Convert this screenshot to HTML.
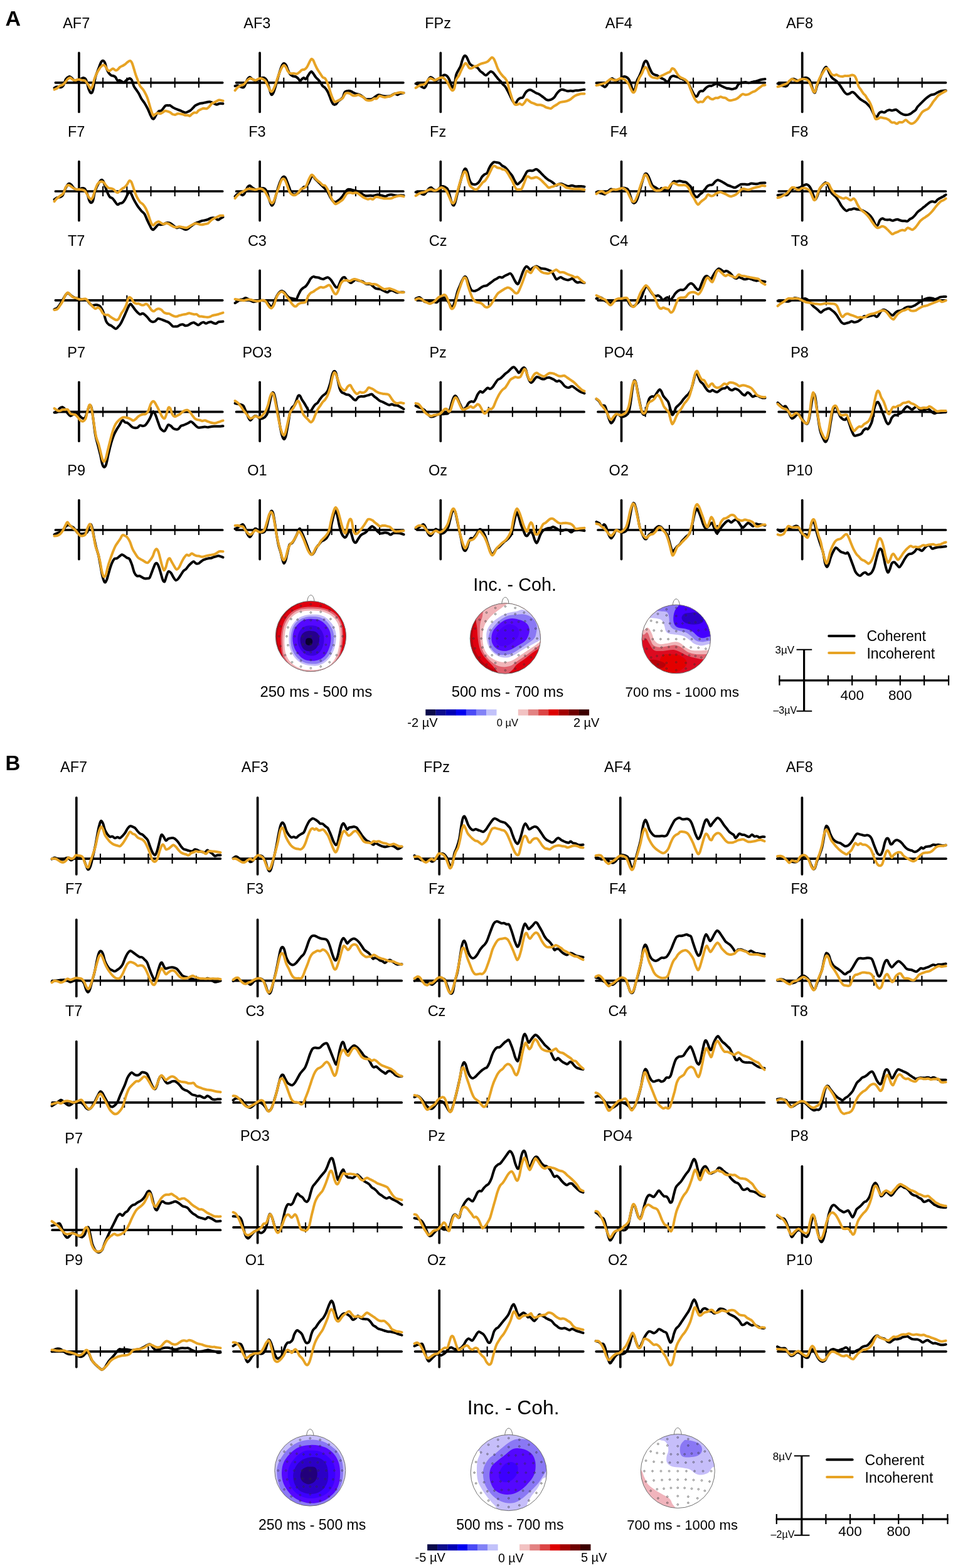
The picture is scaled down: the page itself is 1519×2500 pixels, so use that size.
<!DOCTYPE html>
<html><head><meta charset="utf-8"><title>ERP figure</title>
<style>html,body{margin:0;padding:0;background:#fff;}svg{display:block;}
.t{font-family:"Liberation Sans",Arial,Helvetica,sans-serif;fill:#000;}</style></head>
<body>
<svg width="1519" height="2500" viewBox="0 0 1519 2500">
<rect width="1519" height="2500" fill="#fff"/>
<text x="8.5" y="40.6" font-size="34" font-weight="bold" class="t">A</text>
<text x="8.5" y="1227.7" font-size="33" font-weight="bold" class="t">B</text>
<text x="121.7" y="44.9" font-size="23.5" text-anchor="middle" class="t">AF7</text>
<path d="M88.4 131.8H354.7" stroke="#000" stroke-width="3.7" fill="none" stroke-linecap="round"/>
<path d="M125.9 84.4V178.4" stroke="#000" stroke-width="3.7" fill="none" stroke-linecap="round"/>
<path d="M164.1 123.8v16M202.3 123.8v16M240.5 123.8v16M278.7 123.8v16M316.9 123.8v16" stroke="#000" stroke-width="2.1" fill="none"/>
<path d="M86.6 140.2C87.3 139.8 89.3 138.3 91 138.2C92.8 138 95.4 139.5 97 139.2C98.7 138.8 99.7 138.3 101 136.2C102.4 134 103.5 128.5 105 126.1C106.6 123.8 108.6 122.5 110.1 122.1C111.6 121.8 112.7 123.1 114.1 124.1C115.4 125.1 116.6 127.3 118.1 128.1C119.6 129 121.4 129.5 123.1 129.1C124.8 128.8 126.4 127 128.1 126.1C129.8 125.3 131.6 124 133.1 124.1C134.6 124.3 135.8 124.3 137.1 127.1C138.4 130 139.9 137.7 141.1 141.2C142.4 144.7 143.6 147.7 144.7 148.2C145.9 148.7 146.9 148.3 148.1 144.2C149.4 140 150.6 129 152.1 123.1C153.6 117.3 155.6 113.1 157.2 109.1C158.7 105.1 160 101.2 161.2 99.1C162.3 97 163.2 96.5 164.2 96.7C165.2 96.8 166.2 97.8 167.2 100.1C168.2 102.3 169.2 107.4 170.2 110.1C171.2 112.8 172 114.4 173.2 116.1C174.4 117.8 175.9 119.3 177.2 120.1C178.5 121 180 120.6 181.2 121.1C182.4 121.6 183.2 122 184.2 123.1C185.2 124.3 186 127.3 187.2 128.1C188.4 129 189.9 127.7 191.2 128.1C192.6 128.6 194.1 130.2 195.2 130.7C196.4 131.2 197.2 131.6 198.2 131.1C199.2 130.7 200.2 129 201.2 128.1C202.2 127.3 203.2 126.6 204.2 126.1C205.2 125.6 206.3 124.8 207.3 125.1C208.3 125.5 209.3 126.1 210.3 128.1C211.3 130.1 212.1 134.7 213.3 137.2C214.4 139.7 215.9 141.2 217.3 143.2C218.6 145.2 219.9 146.8 221.3 149.2C222.6 151.5 223.8 154.7 225.3 157.2C226.8 159.7 228.6 161.5 230.3 164.2C232 166.9 233.8 170.2 235.3 173.2C236.8 176.2 238.1 179.7 239.3 182.3C240.5 184.8 241.3 187.1 242.3 188.3C243.3 189.4 244.2 190.3 245.3 189.3C246.5 188.3 248 184.3 249.3 182.3C250.7 180.2 252 178.2 253.3 177.2C254.7 176.2 256 177.2 257.4 176.2C258.7 175.2 260.2 172.6 261.4 171.2C262.5 169.9 263.2 168.7 264.4 168.2C265.5 167.7 267.2 168.2 268.4 168.2C269.5 168.2 270.2 167.7 271.4 168.2C272.5 168.7 274.1 170.4 275.4 171.2C276.7 172.1 278.1 172.6 279.4 173.2C280.7 173.8 282.1 174.3 283.4 174.8C284.7 175.3 286.1 175.7 287.4 176.2C288.7 176.8 290.1 177.7 291.4 178.2C292.8 178.8 294.1 179.6 295.4 179.6C296.8 179.6 298.1 178.8 299.4 178.2C300.8 177.7 302.1 177.2 303.4 176.2C304.8 175.2 306.1 173.6 307.5 172.2C308.8 170.9 310.1 169.2 311.5 168.2C312.8 167.2 314.1 166.8 315.5 166.2C316.8 165.7 318.1 165.1 319.5 164.8C320.8 164.5 322 164.5 323.5 164.2C325 163.9 326.8 163.5 328.5 163.2C330.2 162.9 332 162.2 333.5 162.2C335 162.2 336.2 162.7 337.5 163.2C338.8 163.7 340.2 164.6 341.5 165.2C342.9 165.8 344.2 166.8 345.5 166.8C346.9 166.8 347.9 165.5 349.5 165.2C351.2 164.9 354.5 165.2 355.5 165.2" stroke="#000" stroke-width="4" fill="none" stroke-linejoin="round" stroke-linecap="round"/>
<path d="M86.6 142.8C87.3 142.4 89.6 141.7 91 140.8C92.4 139.8 93.5 138.1 95 137.2C96.5 136.2 98.5 136.2 100 135.2C101.5 134.2 102.7 132.7 104 131.1C105.4 129.6 106.7 127.3 108.1 126.1C109.4 125 110.7 124 112.1 124.1C113.4 124.3 114.7 126.5 116.1 127.1C117.4 127.8 118.7 128.2 120.1 128.1C121.4 128.1 122.8 126.9 124.1 126.7C125.4 126.6 126.8 126.9 128.1 127.1C129.4 127.4 130.8 127.8 132.1 128.1C133.4 128.5 134.6 127.8 136.1 129.1C137.6 130.5 139.8 134.2 141.1 136.2C142.5 138.2 143.1 140.8 144.1 141.2C145.1 141.5 146.1 140.5 147.1 138.2C148.1 135.8 149 130.6 150.1 127.1C151.3 123.6 152.8 120 154.1 117.1C155.5 114.3 157 111.9 158.2 110.1C159.3 108.3 160 107.2 161.2 106.1C162.3 105 164 103.5 165.2 103.5C166.3 103.5 167.2 104.8 168.2 106.1C169.2 107.4 170.2 109.9 171.2 111.1C172.2 112.3 173.2 113.1 174.2 113.1C175.2 113.1 176.2 111.7 177.2 111.1C178.2 110.5 179 109.3 180.2 109.5C181.4 109.7 183 111.8 184.2 112.1C185.4 112.4 186 111.9 187.2 111.1C188.4 110.3 189.9 108.1 191.2 107.1C192.6 106.1 193.9 105.8 195.2 105.1C196.6 104.4 197.9 103.7 199.2 102.7C200.6 101.7 201.9 100 203.2 99.1C204.6 98.1 206.1 96.9 207.3 97.1C208.4 97.2 209.3 98.1 210.3 100.1C211.3 102.1 212.3 105.9 213.3 109.1C214.3 112.3 215.3 116.1 216.3 119.1C217.3 122.1 218.1 124.1 219.3 127.1C220.4 130.1 221.8 134.5 223.3 137.2C224.8 139.8 226.8 141 228.3 143.2C229.8 145.3 231.1 147.8 232.3 150.2C233.5 152.5 234.3 154.4 235.3 157.2C236.3 160 237.3 163.9 238.3 167.2C239.3 170.6 240.3 174.4 241.3 177.2C242.3 180.1 243.3 183.4 244.3 184.3C245.3 185.1 246.2 182.9 247.3 182.3C248.5 181.6 250 180.4 251.3 180.2C252.7 180.1 254 181.4 255.3 181.2C256.7 181.1 258 180 259.4 179.2C260.7 178.5 262 177.1 263.4 176.8C264.7 176.6 266 177.2 267.4 177.6C268.7 178 270 178.5 271.4 179.2C272.7 180 274.1 181.6 275.4 182.3C276.7 182.9 278.1 183 279.4 182.9C280.7 182.7 282.1 181.4 283.4 181.2C284.7 181 286.1 181.5 287.4 181.6C288.7 181.8 290.1 181.9 291.4 182.3C292.8 182.6 294.1 183.4 295.4 183.7C296.8 183.9 298.3 183.5 299.4 183.7C300.6 183.9 301.4 185.1 302.4 184.9C303.4 184.6 304.3 183.1 305.4 182.3C306.6 181.4 308.1 180.1 309.5 179.6C310.8 179.2 312.3 180.2 313.5 179.6C314.6 179.1 315.3 177.1 316.5 176.2C317.6 175.3 319.1 174.8 320.5 174.2C321.8 173.7 323 173 324.5 172.8C326 172.7 328 173.7 329.5 173.2C331 172.8 332.2 171.6 333.5 170.2C334.8 168.9 336.2 166.4 337.5 165.2C338.8 164 340.2 163.9 341.5 163.2C342.9 162.5 344.2 161.8 345.5 161.2C346.9 160.6 347.9 159.7 349.5 159.6C351.2 159.5 354.5 160.6 355.5 160.8" stroke="#E7A324" stroke-width="4" fill="none" stroke-linejoin="round" stroke-linecap="round"/>
<text x="409.9" y="44.9" font-size="23.5" text-anchor="middle" class="t">AF3</text>
<path d="M376.6 131.8H642.9" stroke="#000" stroke-width="3.7" fill="none" stroke-linecap="round"/>
<path d="M414.1 84.4V178.4" stroke="#000" stroke-width="3.7" fill="none" stroke-linecap="round"/>
<path d="M452.3 123.8v16M490.5 123.8v16M528.7 123.8v16M566.9 123.8v16M605.1 123.8v16" stroke="#000" stroke-width="2.1" fill="none"/>
<path d="M374.6 137.2C375.3 137 377.6 136 379 136.2C380.4 136.3 381.7 137.6 383 138.2C384.4 138.7 385.9 139.7 387 139.6C388.2 139.4 388.9 139.2 390 137.2C391.2 135.1 392.7 129.5 394.1 127.1C395.4 124.8 396.7 123.3 398.1 123.1C399.4 123 400.6 125.3 402.1 126.1C403.6 127 405.4 128 407.1 128.1C408.7 128.3 410.4 127.8 412.1 127.1C413.8 126.5 415.6 124.6 417.1 124.1C418.6 123.6 419.8 123.5 421.1 124.1C422.4 124.8 423.9 126 425.1 128.1C426.3 130.3 426.9 133.5 428.1 137.2C429.3 140.8 431 148.2 432.1 150.2C433.3 152.2 434.1 150.7 435.1 149.2C436.1 147.7 437 144.8 438.1 141.2C439.3 137.5 440.8 131.8 442.1 127.1C443.5 122.5 444.8 117.1 446.2 113.1C447.5 109.1 449 105.1 450.2 103.1C451.3 101.1 452.2 100.9 453.2 101.1C454.2 101.3 455.2 102.3 456.2 104.1C457.2 105.9 458.2 109.8 459.2 112.1C460.2 114.4 461 116.6 462.2 118.1C463.4 119.6 464.7 120.5 466.2 121.1C467.7 121.8 469.7 121.5 471.2 122.1C472.7 122.8 474 124 475.2 125.1C476.4 126.3 477.2 129 478.2 129.1C479.2 129.3 480.2 127 481.2 126.1C482.2 125.3 483.2 124.1 484.2 124.1C485.2 124.1 486.2 126.5 487.2 126.1C488.2 125.8 489.2 123.6 490.2 122.1C491.2 120.6 492.2 118.5 493.2 117.1C494.3 115.8 495.3 114.1 496.3 114.1C497.3 114.1 498.1 115.6 499.3 117.1C500.4 118.6 501.9 121.5 503.3 123.1C504.6 124.8 505.9 125.6 507.3 127.1C508.6 128.6 510.1 130.5 511.3 132.2C512.5 133.8 513.1 135.8 514.3 137.2C515.5 138.5 517 138.7 518.3 140.2C519.6 141.7 521.1 144 522.3 146.2C523.5 148.3 524.3 150.7 525.3 153.2C526.3 155.7 527.3 159 528.3 161.2C529.3 163.4 530.2 165.4 531.3 166.2C532.5 167.1 534 167.1 535.3 166.2C536.7 165.4 538 162.5 539.3 161.2C540.7 159.9 542.2 159.2 543.3 158.2C544.5 157.2 545.4 157 546.4 155.2C547.4 153.4 548.2 148.9 549.4 147.2C550.5 145.5 551.9 145.5 553.4 145.2C554.9 144.8 556.9 144.8 558.4 145.2C559.9 145.5 561.1 146.5 562.4 147.2C563.7 147.8 565.1 148.7 566.4 149.2C567.7 149.7 568.9 149.7 570.4 150.2C571.9 150.7 573.9 151.4 575.4 152.2C576.9 153 578.1 154.2 579.4 155.2C580.8 156.2 582.1 157.7 583.4 158.2C584.8 158.7 586.1 158.2 587.4 158.2C588.8 158.2 590.1 158.5 591.4 158.2C592.8 157.9 594.1 157 595.5 156.2C596.8 155.4 598.1 154 599.5 153.2C600.8 152.4 602.1 151.4 603.5 151.2C604.8 151 606.1 151.9 607.5 152.2C608.8 152.5 610.1 153 611.5 153.2C612.8 153.4 613.8 153.6 615.5 153.6C617.2 153.6 619.8 153.6 621.5 153.2C623.2 152.8 624.2 151.9 625.5 151.2C626.8 150.5 628.2 149.2 629.5 149.2C630.9 149.2 632.2 151.2 633.5 151.2C634.9 151.2 635.9 149.7 637.5 149.2C639.2 148.7 642.5 148.3 643.5 148.2" stroke="#000" stroke-width="4" fill="none" stroke-linejoin="round" stroke-linecap="round"/>
<path d="M374.6 144.2C375.3 143.3 377.5 140.5 379 139.2C380.6 137.8 382.4 137 384 136.2C385.7 135.3 387.4 135.5 389 134.2C390.7 132.8 392.5 129.6 394.1 128.1C395.6 126.6 396.7 125.5 398.1 125.1C399.4 124.8 400.6 125.6 402.1 126.1C403.6 126.6 405.6 128.1 407.1 128.1C408.6 128.1 409.7 126.6 411.1 126.1C412.4 125.6 413.8 125.1 415.1 125.1C416.4 125.1 417.8 125.5 419.1 126.1C420.4 126.8 421.8 127.3 423.1 129.1C424.4 131 425.8 134.5 427.1 137.2C428.5 139.8 430 143.8 431.1 145.2C432.3 146.5 433 146.5 434.1 145.2C435.3 143.8 436.8 140.5 438.1 137.2C439.5 133.8 440.8 129 442.1 125.1C443.5 121.3 444.8 117.3 446.2 114.1C447.5 110.9 449 107.8 450.2 106.1C451.3 104.4 452.2 103.8 453.2 104.1C454.2 104.4 455.2 106.4 456.2 108.1C457.2 109.8 458 112.6 459.2 114.1C460.3 115.6 461.7 116.6 463.2 117.1C464.7 117.6 466.5 117 468.2 117.1C469.9 117.2 471.7 118.1 473.2 117.7C474.7 117.4 475.9 116.2 477.2 115.1C478.6 114.1 479.9 112.2 481.2 111.5C482.6 110.8 483.9 111.4 485.2 110.7C486.6 110 487.9 109 489.2 107.1C490.6 105.2 492.1 101.3 493.2 99.1C494.4 96.9 495.3 94.6 496.3 94.1C497.3 93.6 498.3 94.6 499.3 96.1C500.3 97.6 501.1 100.6 502.3 103.1C503.4 105.6 504.9 108.8 506.3 111.1C507.6 113.4 508.9 115.1 510.3 117.1C511.6 119.1 513 121.8 514.3 123.1C515.6 124.5 517.1 123.8 518.3 125.1C519.5 126.5 520.3 128.8 521.3 131.1C522.3 133.5 523.3 136.2 524.3 139.2C525.3 142.2 526.3 146.2 527.3 149.2C528.3 152.2 529.3 155 530.3 157.2C531.3 159.4 532.2 161.5 533.3 162.2C534.5 162.9 536 161.7 537.3 161.2C538.7 160.7 539.8 160 541.3 159.2C542.8 158.4 544.9 157.9 546.4 156.2C547.9 154.5 549 150.5 550.4 149.2C551.7 147.8 553 148.1 554.4 148.2C555.7 148.2 557 148.9 558.4 149.6C559.7 150.3 560.9 151.8 562.4 152.2C563.9 152.6 565.9 152.4 567.4 152.2C568.9 152 570.1 151 571.4 151.2C572.7 151.4 574.1 152.5 575.4 153.2C576.7 153.9 578.1 154.2 579.4 155.2C580.8 156.2 582.1 158.4 583.4 159.2C584.8 160 585.9 160.1 587.4 160.2C588.9 160.3 590.9 160.1 592.4 159.6C593.9 159.1 595.1 157.6 596.5 157.2C597.8 156.8 599.1 157.9 600.5 157.2C601.8 156.5 603 153.7 604.5 153.2C606 152.7 608 153.9 609.5 154.2C611 154.5 612.2 155.2 613.5 155.2C614.8 155.2 616.2 154.5 617.5 154.2C618.8 153.9 620.2 154 621.5 153.6C622.8 153.2 624.2 152.3 625.5 151.6C626.8 150.9 628.2 149.8 629.5 149.2C630.9 148.6 632 148.5 633.5 148.2C635 147.8 636.9 147.2 638.5 147.2C640.2 147.2 642.7 148 643.5 148.2" stroke="#E7A324" stroke-width="4" fill="none" stroke-linejoin="round" stroke-linecap="round"/>
<text x="698.1" y="44.9" font-size="23.5" text-anchor="middle" class="t">FPz</text>
<path d="M664.8 131.8H931.1" stroke="#000" stroke-width="3.7" fill="none" stroke-linecap="round"/>
<path d="M702.3 84.4V178.4" stroke="#000" stroke-width="3.7" fill="none" stroke-linecap="round"/>
<path d="M740.5 123.8v16M778.7 123.8v16M816.9 123.8v16M855.1 123.8v16M893.3 123.8v16" stroke="#000" stroke-width="2.1" fill="none"/>
<path d="M662.6 133.2C663.3 133.5 665.5 134.3 667 135.2C668.6 136 670.5 137.3 672 138.2C673.5 139 674.9 140.3 676 140.2C677.2 140 678 139.2 679 137.2C680 135.2 680.9 130.5 682.1 128.1C683.2 125.8 684.7 123.6 686.1 123.1C687.4 122.6 688.7 124.3 690.1 125.1C691.4 126 692.6 128 694.1 128.1C695.6 128.3 697.4 127.1 699.1 126.1C700.8 125.1 702.6 123.2 704.1 122.1C705.6 121 706.9 119.9 708.1 119.5C709.3 119.2 710.1 119.5 711.1 120.1C712.1 120.7 713.1 121.6 714.1 123.1C715.1 124.6 716 126.5 717.1 129.1C718.2 131.8 719.6 138.2 720.7 139.2C721.9 140.2 723.1 138.5 724.1 135.2C725.2 131.8 726 123.1 727.1 119.1C728.3 115.1 730 113.4 731.1 111.1C732.3 108.8 733.2 107.8 734.2 105.1C735.2 102.4 736.2 97.7 737.2 95.1C738.2 92.4 739.2 89.9 740.2 89.1C741.2 88.2 742.2 88.9 743.2 90.1C744.2 91.2 745.2 94.1 746.2 96.1C747.2 98.1 748 100.6 749.2 102.1C750.4 103.6 751.9 104.4 753.2 105.1C754.5 105.8 755.9 105.6 757.2 106.1C758.5 106.6 759.9 106.9 761.2 108.1C762.5 109.3 763.9 111.8 765.2 113.1C766.6 114.4 767.7 114.9 769.2 116.1C770.7 117.3 772.7 120 774.2 120.1C775.7 120.3 776.9 118.1 778.2 117.1C779.6 116.1 780.9 114.3 782.3 114.1C783.6 113.9 784.9 114.9 786.3 116.1C787.6 117.3 788.9 119.5 790.3 121.1C791.6 122.8 792.9 124.6 794.3 126.1C795.6 127.6 797.1 128.8 798.3 130.1C799.5 131.5 800.1 132.8 801.3 134.2C802.5 135.5 804 136.3 805.3 138.2C806.6 140 808 142.7 809.3 145.2C810.6 147.7 812 150.5 813.3 153.2C814.6 155.9 816 159.2 817.3 161.2C818.7 163.2 820 165.6 821.3 165.2C822.7 164.9 824 160.7 825.3 159.2C826.7 157.7 828 156.9 829.3 156.2C830.7 155.5 832 156.5 833.4 155.2C834.7 153.9 836 150 837.4 148.2C838.7 146.3 840 145 841.4 144.2C842.7 143.3 844 143 845.4 143.2C846.7 143.3 847.9 144.3 849.4 145.2C850.9 146 852.7 147.3 854.4 148.2C856.1 149 857.9 149.4 859.4 150.2C860.9 151 862.1 152.2 863.4 153.2C864.7 154.2 866.1 155.2 867.4 156.2C868.8 157.2 870.1 158.6 871.4 159.2C872.8 159.8 874.1 159.8 875.4 159.6C876.8 159.4 878.1 158.9 879.4 158.2C880.8 157.5 882.1 156.7 883.5 155.2C884.8 153.7 886.1 150.9 887.5 149.2C888.8 147.4 890.1 145.8 891.5 144.8C892.8 143.7 894.1 143 895.5 142.8C896.8 142.6 898 143.2 899.5 143.6C901 144 902.8 145 904.5 145.2C906.2 145.4 908 144.8 909.5 144.8C911 144.8 912.2 145.3 913.5 145.2C914.8 145.1 916.2 144.3 917.5 144.2C918.9 144 920.2 144.3 921.5 144.2C922.9 144.1 923.9 143.8 925.5 143.6C927.2 143.3 930.5 142.9 931.5 142.8" stroke="#000" stroke-width="4" fill="none" stroke-linejoin="round" stroke-linecap="round"/>
<path d="M662.6 140.2C663.3 139.7 665.5 138 667 137.2C668.6 136.3 670.4 135.7 672 135.2C673.7 134.7 675.5 135.2 677 134.2C678.5 133.2 679.7 130.6 681 129.1C682.4 127.6 683.7 125.6 685.1 125.1C686.4 124.6 687.7 125.6 689.1 126.1C690.4 126.6 691.7 128.1 693.1 128.1C694.4 128.1 695.7 126.8 697.1 126.1C698.4 125.5 699.8 124.6 701.1 124.1C702.4 123.7 703.8 123.2 705.1 123.5C706.4 123.9 707.8 124.9 709.1 126.1C710.4 127.4 711.8 129 713.1 131.1C714.4 133.3 715.9 137 717.1 139.2C718.4 141.3 719.6 143.8 720.7 144.2C721.9 144.5 723.1 144 724.1 141.2C725.2 138.3 726 130.5 727.1 127.1C728.3 123.8 729.8 123.6 731.1 121.1C732.5 118.6 733.8 114.9 735.2 112.1C736.5 109.3 738 106 739.2 104.1C740.3 102.2 741.2 100.7 742.2 100.7C743.2 100.7 744.2 102.8 745.2 104.1C746.2 105.4 747 107.9 748.2 108.7C749.4 109.5 750.9 109.1 752.2 108.7C753.5 108.3 754.9 106.7 756.2 106.1C757.5 105.5 758.9 105.7 760.2 105.1C761.5 104.5 762.9 103.4 764.2 102.7C765.6 102 766.9 101.5 768.2 101.1C769.6 100.7 770.7 100.6 772.2 100.1C773.7 99.6 775.7 99.1 777.2 98.1C778.7 97.1 780.1 95.2 781.2 94.1C782.4 93 783.3 91.5 784.3 91.5C785.3 91.5 786.3 92.5 787.3 94.1C788.3 95.7 789.3 98.6 790.3 101.1C791.3 103.6 792.1 106.6 793.3 109.1C794.4 111.6 795.9 114.1 797.3 116.1C798.6 118.1 800 119.6 801.3 121.1C802.6 122.6 804.1 123.6 805.3 125.1C806.5 126.6 807.3 127.5 808.3 130.1C809.3 132.8 810.3 137.7 811.3 141.2C812.3 144.7 813.3 148 814.3 151.2C815.3 154.4 816.3 157.7 817.3 160.2C818.3 162.7 819.2 165.1 820.3 166.2C821.5 167.3 823 167 824.3 166.8C825.7 166.7 827 165.1 828.3 165.2C829.7 165.3 831 167.6 832.4 167.2C833.7 166.9 835.2 164.6 836.4 163.2C837.5 161.8 838.4 159.3 839.4 158.8C840.4 158.3 841.2 159.5 842.4 160.2C843.5 160.9 844.9 162.4 846.4 163.2C847.9 164 849.7 164.5 851.4 165.2C853.1 165.9 854.7 166.9 856.4 167.2C858.1 167.6 859.7 167 861.4 167.2C863.1 167.5 864.9 168.2 866.4 168.8C867.9 169.5 869.1 170.7 870.4 171.2C871.8 171.8 873.1 172 874.4 172.2C875.8 172.5 877.1 173.3 878.4 172.8C879.8 172.4 880.9 170.6 882.5 169.6C884 168.6 885.8 167.9 887.5 166.8C889.1 165.8 890.8 164 892.5 163.2C894.1 162.4 895.6 162.5 897.5 162.2C899.3 161.9 901.5 161.9 903.5 161.2C905.5 160.5 907.8 159.3 909.5 158.2C911.2 157.1 912.2 155.8 913.5 154.8C914.8 153.8 916.2 152.9 917.5 152.2C918.9 151.5 920 151.2 921.5 150.8C923 150.4 924.9 149.8 926.5 149.6C928.2 149.4 930.7 149.6 931.5 149.6" stroke="#E7A324" stroke-width="4" fill="none" stroke-linejoin="round" stroke-linecap="round"/>
<text x="986.3" y="44.9" font-size="23.5" text-anchor="middle" class="t">AF4</text>
<path d="M953 131.8H1219.3" stroke="#000" stroke-width="3.7" fill="none" stroke-linecap="round"/>
<path d="M990.5 84.4V178.4" stroke="#000" stroke-width="3.7" fill="none" stroke-linecap="round"/>
<path d="M1028.7 123.8v16M1066.9 123.8v16M1105.1 123.8v16M1143.3 123.8v16M1181.5 123.8v16" stroke="#000" stroke-width="2.1" fill="none"/>
<path d="M950.6 132.2C951.3 132.5 953.5 133.5 955 134.2C956.6 134.8 958.5 135.4 960 136.2C961.5 136.9 962.9 138.8 964 138.8C965.2 138.8 965.9 137.8 967 136.2C968.2 134.6 969.7 131 971.1 129.1C972.4 127.3 973.7 125.5 975.1 125.1C976.4 124.8 977.6 126.6 979.1 127.1C980.6 127.6 982.4 128.5 984.1 128.1C985.7 127.8 987.4 126.1 989.1 125.1C990.8 124.1 992.6 122.5 994.1 122.1C995.6 121.7 996.8 122.1 998.1 122.7C999.4 123.4 1000.9 124.4 1002.1 126.1C1003.3 127.9 1004 130.1 1005.1 133.2C1006.2 136.2 1007.6 142.8 1008.7 144.2C1009.9 145.5 1011.1 143.7 1012.1 141.2C1013.2 138.7 1014 132.5 1015.1 129.1C1016.3 125.8 1017.8 124.1 1019.1 121.1C1020.5 118.1 1022 114.4 1023.2 111.1C1024.3 107.8 1025.2 103.4 1026.2 101.1C1027.2 98.8 1028.2 97.2 1029.2 97.1C1030.2 96.9 1031.2 98.2 1032.2 100.1C1033.2 101.9 1034 105.4 1035.2 108.1C1036.3 110.8 1037.9 114.3 1039.2 116.1C1040.5 118 1041.9 118.5 1043.2 119.1C1044.5 119.8 1045.9 119.5 1047.2 120.1C1048.5 120.8 1049.9 122.3 1051.2 123.1C1052.5 124 1053.9 124.5 1055.2 125.1C1056.6 125.8 1057.9 126.2 1059.2 127.1C1060.6 128.1 1062.1 130.6 1063.2 130.7C1064.4 130.9 1065.2 129.5 1066.2 128.1C1067.2 126.8 1068.1 123.9 1069.2 122.7C1070.4 121.6 1071.9 121.2 1073.3 121.1C1074.6 121 1075.9 121.8 1077.3 122.1C1078.6 122.5 1079.9 122.6 1081.3 123.1C1082.6 123.6 1083.9 124.5 1085.3 125.1C1086.6 125.8 1088 126.5 1089.3 127.1C1090.6 127.8 1092 128.1 1093.3 129.1C1094.6 130.1 1096 131.1 1097.3 133.2C1098.6 135.2 1100 138.5 1101.3 141.2C1102.6 143.8 1104.2 147.2 1105.3 149.2C1106.5 151.2 1107.3 152.5 1108.3 153.2C1109.3 153.9 1110.3 154.2 1111.3 153.2C1112.3 152.2 1113.3 148.5 1114.3 147.2C1115.3 145.8 1116.3 145.5 1117.3 145.2C1118.3 144.8 1119.3 145.7 1120.4 145.2C1121.4 144.7 1122.4 143.2 1123.4 142.2C1124.4 141.2 1125.2 140 1126.4 139.2C1127.5 138.3 1129 137.6 1130.4 137.2C1131.7 136.8 1133 137.2 1134.4 136.8C1135.7 136.4 1137.1 135.4 1138.4 134.8C1139.7 134.2 1141.1 133.1 1142.4 133.2C1143.7 133.2 1145.1 134.5 1146.4 135.2C1147.7 135.8 1149.1 136.5 1150.4 137.2C1151.7 137.8 1153.1 138.6 1154.4 139.2C1155.8 139.8 1157.1 140.4 1158.4 140.8C1159.8 141.1 1161.1 140.9 1162.4 141.2C1163.8 141.4 1165.1 142.2 1166.4 142.2C1167.8 142.2 1169.3 141.5 1170.5 141.2C1171.6 140.8 1172.5 141.2 1173.5 140.2C1174.5 139.2 1175.3 136.5 1176.5 135.2C1177.6 133.8 1179.1 132.8 1180.5 132.2C1181.8 131.5 1183.1 131.7 1184.5 131.5C1185.8 131.4 1187 131 1188.5 131.1C1190 131.2 1192 132.2 1193.5 132.2C1195 132.2 1196.2 131.5 1197.5 131.1C1198.8 130.8 1200.2 130.4 1201.5 130.1C1202.8 129.9 1204.2 129.9 1205.5 129.5C1206.9 129.2 1208 128.6 1209.5 128.1C1211 127.7 1212.9 127.1 1214.5 126.7C1216.2 126.4 1218.7 126.2 1219.5 126.1" stroke="#000" stroke-width="4" fill="none" stroke-linejoin="round" stroke-linecap="round"/>
<path d="M950.6 136.2C951.3 136 953.5 135.6 955 135.2C956.6 134.7 958.4 134.1 960 133.6C961.7 133.1 963.5 132.9 965 132.2C966.5 131.4 967.7 130.1 969 129.1C970.4 128.1 971.7 126.5 973.1 126.1C974.4 125.8 975.7 126.8 977.1 127.1C978.4 127.5 979.7 128.2 981.1 128.1C982.4 128.1 983.7 127.2 985.1 126.7C986.4 126.2 987.6 125.2 989.1 125.1C990.6 125 992.6 125.5 994.1 126.1C995.6 126.8 996.8 127.8 998.1 129.1C999.4 130.5 1000.9 132.2 1002.1 134.2C1003.3 136.2 1004 139 1005.1 141.2C1006.2 143.3 1007.6 146.5 1008.7 147.2C1009.9 147.8 1011.1 147.2 1012.1 145.2C1013.2 143.2 1014 138.7 1015.1 135.2C1016.3 131.6 1017.8 127.1 1019.1 124.1C1020.5 121.1 1022 119.5 1023.2 117.1C1024.3 114.8 1025.2 111.8 1026.2 110.1C1027.2 108.4 1028.2 106.9 1029.2 107.1C1030.2 107.3 1031.2 109.1 1032.2 111.1C1033.2 113.1 1034 117.1 1035.2 119.1C1036.3 121.1 1037.7 122.3 1039.2 123.1C1040.7 124 1042.7 123.9 1044.2 124.1C1045.7 124.4 1046.9 125.1 1048.2 124.7C1049.5 124.4 1050.9 122.9 1052.2 122.1C1053.6 121.4 1054.9 120.8 1056.2 120.1C1057.6 119.5 1058.9 118.8 1060.2 118.1C1061.6 117.5 1062.9 116.8 1064.2 116.1C1065.6 115.5 1067.1 115.3 1068.2 114.1C1069.4 112.9 1070.3 109.8 1071.3 109.1C1072.3 108.4 1073.3 109.3 1074.3 110.1C1075.3 110.9 1076.3 112.6 1077.3 114.1C1078.3 115.6 1079.1 117.6 1080.3 119.1C1081.4 120.6 1082.9 122.1 1084.3 123.1C1085.6 124.1 1087 124.5 1088.3 125.1C1089.6 125.8 1091 126.1 1092.3 127.1C1093.6 128.1 1095 128.8 1096.3 131.1C1097.6 133.5 1099 137.8 1100.3 141.2C1101.6 144.5 1103 148.2 1104.3 151.2C1105.7 154.2 1107 157.2 1108.3 159.2C1109.7 161.2 1111 162.7 1112.3 163.2C1113.7 163.7 1115 162.4 1116.3 162.2C1117.7 162 1119 163 1120.4 162.2C1121.7 161.4 1123 158.5 1124.4 157.2C1125.7 155.9 1127 154.2 1128.4 154.2C1129.7 154.2 1131 156.5 1132.4 157.2C1133.7 157.9 1135 158.4 1136.4 158.2C1137.7 158 1139.1 156.5 1140.4 156.2C1141.7 155.9 1143.1 156.5 1144.4 156.2C1145.7 155.9 1147.1 154.3 1148.4 154.2C1149.7 154.1 1151.1 155.3 1152.4 155.6C1153.8 155.9 1155.1 155.6 1156.4 156.2C1157.8 156.8 1159.1 158.5 1160.4 159.2C1161.8 159.9 1162.9 160.2 1164.4 160.2C1165.9 160.2 1167.8 159.7 1169.4 159.2C1171.1 158.7 1173 158 1174.5 157.2C1176 156.4 1177 155.4 1178.5 154.2C1180 153 1181.8 150.7 1183.5 150.2C1185.1 149.7 1186.8 151.2 1188.5 151.2C1190.2 151.2 1191.8 150.9 1193.5 150.2C1195.2 149.5 1196.8 148 1198.5 147.2C1200.2 146.3 1202 146 1203.5 145.2C1205 144.3 1206.2 143.2 1207.5 142.2C1208.9 141.2 1210.2 140.2 1211.5 139.2C1212.9 138.2 1214.2 136.8 1215.5 136.2C1216.9 135.6 1218.9 135.7 1219.5 135.6" stroke="#E7A324" stroke-width="4" fill="none" stroke-linejoin="round" stroke-linecap="round"/>
<text x="1274.5" y="44.9" font-size="23.5" text-anchor="middle" class="t">AF8</text>
<path d="M1241.2 131.8H1507.5" stroke="#000" stroke-width="3.7" fill="none" stroke-linecap="round"/>
<path d="M1278.7 84.4V178.4" stroke="#000" stroke-width="3.7" fill="none" stroke-linecap="round"/>
<path d="M1316.9 123.8v16M1355.1 123.8v16M1393.3 123.8v16M1431.5 123.8v16M1469.7 123.8v16" stroke="#000" stroke-width="2.1" fill="none"/>
<path d="M1239.6 133.2C1240.4 133.5 1242.5 134.5 1244.1 135.2C1245.6 135.8 1247.4 136.8 1249.1 137.2C1250.7 137.5 1252.6 138.2 1254.1 137.2C1255.6 136.2 1256.7 133 1258.1 131.1C1259.4 129.3 1260.8 127 1262.1 126.1C1263.4 125.3 1264.8 125.8 1266.1 126.1C1267.4 126.5 1268.8 127.6 1270.1 128.1C1271.4 128.6 1272.8 129.5 1274.1 129.1C1275.4 128.8 1276.8 127 1278.1 126.1C1279.5 125.3 1280.8 124.5 1282.1 124.1C1283.5 123.8 1284.8 123.6 1286.1 124.1C1287.5 124.6 1289 125.5 1290.1 127.1C1291.3 128.8 1292.1 131.1 1293.1 134.2C1294.2 137.2 1295.2 143 1296.2 145.2C1297.2 147.3 1298.2 148.5 1299.2 147.2C1300.2 145.8 1301 140.5 1302.2 137.2C1303.3 133.8 1304.8 130.5 1306.2 127.1C1307.5 123.8 1308.8 120.1 1310.2 117.1C1311.5 114.1 1313.1 110.8 1314.2 109.1C1315.3 107.4 1316 106.5 1316.8 106.7C1317.6 106.9 1318.3 108.4 1319.2 110.1C1320.1 111.8 1321 114.8 1322.2 117.1C1323.4 119.5 1324.9 122.5 1326.2 124.1C1327.6 125.8 1328.9 126.1 1330.2 127.1C1331.6 128.1 1332.9 128.8 1334.2 130.1C1335.6 131.5 1336.9 133.3 1338.2 135.2C1339.6 137 1340.9 139.2 1342.2 141.2C1343.6 143.2 1344.9 145.7 1346.3 147.2C1347.6 148.7 1348.9 149.9 1350.3 150.2C1351.6 150.5 1352.9 149.8 1354.3 149.2C1355.6 148.6 1356.9 146.8 1358.3 146.8C1359.6 146.7 1361 147.7 1362.3 148.8C1363.6 149.9 1365 151.8 1366.3 153.2C1367.6 154.6 1369 156 1370.3 157.2C1371.6 158.4 1372.8 159.2 1374.3 160.2C1375.8 161.2 1377.8 162.1 1379.3 163.2C1380.8 164.3 1382 165.5 1383.3 166.8C1384.7 168.2 1386 169.2 1387.3 171.2C1388.7 173.3 1390 176.7 1391.3 179.2C1392.7 181.7 1394.2 185.3 1395.4 186.3C1396.5 187.3 1397.4 186.3 1398.4 185.3C1399.4 184.3 1400.2 181.4 1401.4 180.2C1402.5 179.1 1404 178.4 1405.4 178.2C1406.7 178.1 1408 179.5 1409.4 179.2C1410.7 179 1412.1 177.5 1413.4 176.8C1414.7 176.2 1416.1 175.3 1417.4 175.2C1418.7 175.1 1420.1 176.2 1421.4 176.2C1422.7 176.2 1424.2 175.5 1425.4 175.2C1426.6 175 1427.4 174.5 1428.4 174.8C1429.4 175.2 1430.3 176.3 1431.4 177.2C1432.6 178.1 1434.1 179.4 1435.4 180.2C1436.8 181.1 1438.1 181.7 1439.4 182.3C1440.8 182.8 1442.1 183.2 1443.4 183.3C1444.8 183.4 1446.1 183.2 1447.5 182.9C1448.8 182.5 1450.1 182 1451.5 181.2C1452.8 180.5 1454.1 179.2 1455.5 178.2C1456.8 177.2 1458.3 176.6 1459.5 175.2C1460.6 173.9 1461.3 171.7 1462.5 170.2C1463.7 168.7 1465.2 167.6 1466.5 166.2C1467.8 164.9 1469.2 163.5 1470.5 162.2C1471.8 160.9 1473 159.5 1474.5 158.2C1476 156.9 1477.9 155.4 1479.5 154.2C1481.2 153 1482.9 151.9 1484.5 151.2C1486.2 150.5 1487.9 150.9 1489.5 150.2C1491.2 149.5 1492.9 148 1494.6 147.2C1496.2 146.3 1498.1 145.6 1499.6 145.2C1501.1 144.8 1502.2 144.9 1503.6 144.8C1504.9 144.6 1506.9 144.3 1507.6 144.2" stroke="#000" stroke-width="4" fill="none" stroke-linejoin="round" stroke-linecap="round"/>
<path d="M1239.6 138.2C1240.4 138 1242.5 137.7 1244.1 137.2C1245.6 136.7 1247.4 135.8 1249.1 135.2C1250.7 134.5 1252.6 134.2 1254.1 133.2C1255.6 132.2 1256.7 130.3 1258.1 129.1C1259.4 128 1260.8 126.4 1262.1 126.1C1263.4 125.9 1264.8 127 1266.1 127.5C1267.4 128 1268.8 129.1 1270.1 129.1C1271.4 129.1 1272.8 128 1274.1 127.5C1275.4 127 1276.8 126.4 1278.1 126.1C1279.5 125.9 1280.8 126 1282.1 126.1C1283.5 126.3 1284.8 126.3 1286.1 127.1C1287.5 128 1289 129.3 1290.1 131.1C1291.3 133 1292.1 135.8 1293.1 138.2C1294.2 140.5 1295.2 143.8 1296.2 145.2C1297.2 146.5 1298.2 147.8 1299.2 146.2C1300.2 144.5 1301 138.7 1302.2 135.2C1303.3 131.6 1304.8 128 1306.2 125.1C1307.5 122.3 1309 120.1 1310.2 118.1C1311.4 116.1 1312.2 114.6 1313.2 113.1C1314.2 111.6 1315.2 109.7 1316.2 109.1C1317.2 108.5 1318.2 108.8 1319.2 109.5C1320.2 110.2 1321.2 111.7 1322.2 113.1C1323.2 114.5 1324 117 1325.2 118.1C1326.4 119.3 1327.9 120 1329.2 120.1C1330.6 120.3 1331.9 119 1333.2 119.1C1334.6 119.3 1335.7 120.6 1337.2 121.1C1338.7 121.6 1340.7 122.1 1342.2 122.1C1343.7 122.1 1344.9 121.3 1346.3 121.1C1347.6 121 1348.9 121.2 1350.3 121.1C1351.6 121.1 1352.9 121 1354.3 120.7C1355.6 120.5 1356.9 119.5 1358.3 119.5C1359.6 119.6 1361.1 119.9 1362.3 121.1C1363.5 122.4 1364.3 124.5 1365.3 127.1C1366.3 129.8 1367.1 134.5 1368.3 137.2C1369.5 139.8 1371 141.2 1372.3 143.2C1373.6 145.2 1375.1 147.7 1376.3 149.2C1377.5 150.7 1378.3 150.9 1379.3 152.2C1380.3 153.5 1381.2 155.4 1382.3 157.2C1383.5 159 1385.2 161 1386.3 163.2C1387.5 165.4 1388.3 167.4 1389.3 170.2C1390.3 173.1 1391.3 177.1 1392.3 180.2C1393.3 183.4 1394.2 187.8 1395.4 189.3C1396.5 190.8 1398 189.6 1399.4 189.3C1400.7 188.9 1401.9 187.4 1403.4 187.3C1404.9 187.1 1406.7 187.9 1408.4 188.3C1410 188.6 1411.9 188.7 1413.4 189.3C1414.9 189.8 1416.1 190.7 1417.4 191.7C1418.7 192.7 1420.1 194.7 1421.4 195.3C1422.7 195.9 1424.1 194.9 1425.4 195.3C1426.7 195.6 1428.1 197.3 1429.4 197.3C1430.8 197.2 1431.9 195.3 1433.4 194.9C1434.9 194.5 1436.8 195.5 1438.4 194.9C1440.1 194.3 1441.9 191.4 1443.4 191.3C1445 191.2 1446 193.3 1447.5 194.3C1449 195.3 1450.8 197.1 1452.5 197.3C1454.1 197.4 1456 196.3 1457.5 195.3C1459 194.3 1460.1 192.9 1461.5 191.3C1462.8 189.6 1464.2 187.3 1465.5 185.3C1466.8 183.3 1468.2 180.7 1469.5 179.2C1470.8 177.7 1471.8 177.2 1473.5 176.2C1475.2 175.2 1477.9 174.6 1479.5 173.2C1481.2 171.9 1482.2 170.1 1483.5 168.2C1484.9 166.4 1486.2 164 1487.5 162.2C1488.9 160.4 1490.2 158.9 1491.5 157.2C1492.9 155.5 1494.2 153.5 1495.6 152.2C1496.9 150.9 1498.2 150.4 1499.6 149.6C1500.9 148.8 1502.2 147.9 1503.6 147.2C1504.9 146.4 1506.9 145.5 1507.6 145.2" stroke="#E7A324" stroke-width="4" fill="none" stroke-linejoin="round" stroke-linecap="round"/>
<text x="121.7" y="218.1" font-size="23.5" text-anchor="middle" class="t">F7</text>
<path d="M88.4 305H354.7" stroke="#000" stroke-width="3.7" fill="none" stroke-linecap="round"/>
<path d="M125.9 257.6V351.6" stroke="#000" stroke-width="3.7" fill="none" stroke-linecap="round"/>
<path d="M164.1 297v16M202.3 297v16M240.5 297v16M278.7 297v16M316.9 297v16" stroke="#000" stroke-width="2.1" fill="none"/>
<path d="M86.6 318.2C87.3 317.7 89.5 315.8 91 315.2C92.6 314.5 94.5 314.8 96 314.2C97.5 313.5 98.7 313.3 100 311.2C101.4 309 102.5 304.1 104 301.1C105.5 298.1 107.6 294.3 109.1 293.1C110.6 292 111.7 293.1 113.1 294.1C114.4 295.1 115.7 297.8 117.1 299.1C118.4 300.5 119.6 301.6 121.1 302.1C122.6 302.6 124.4 302.5 126.1 302.1C127.8 301.8 129.6 300.3 131.1 300.1C132.6 300 133.8 299.6 135.1 301.1C136.4 302.6 137.9 306.2 139.1 309.2C140.3 312.2 141.1 316.8 142.1 319.2C143.1 321.5 144.1 323 145.1 323.2C146.1 323.4 147.1 323 148.1 320.2C149.1 317.3 150 310.2 151.1 306.2C152.3 302.1 153.8 299 155.1 296.1C156.5 293.3 158 290.7 159.2 289.1C160.3 287.5 161.2 286.5 162.2 286.7C163.2 286.9 164.2 288 165.2 290.1C166.2 292.2 167 296 168.2 299.1C169.3 302.3 171 306.7 172.2 309.2C173.4 311.7 174 313 175.2 314.2C176.4 315.3 177.9 315 179.2 316.2C180.5 317.3 181.9 319.5 183.2 321.2C184.5 322.9 185.9 325.7 187.2 326.2C188.5 326.7 189.9 324.7 191.2 324.2C192.6 323.7 193.9 324.2 195.2 323.2C196.6 322.2 197.9 320.3 199.2 318.2C200.6 316 202.1 312.2 203.2 310.2C204.4 308.1 205.2 305.9 206.3 305.8C207.3 305.6 208.1 307.1 209.3 309.2C210.4 311.2 211.9 315.5 213.3 318.2C214.6 320.8 215.9 323 217.3 325.2C218.6 327.4 219.9 329.4 221.3 331.2C222.6 333 223.8 334.5 225.3 336.2C226.8 337.9 228.8 338.9 230.3 341.2C231.8 343.6 233 347.4 234.3 350.2C235.6 353.1 237.1 355.9 238.3 358.3C239.5 360.6 240.3 362.9 241.3 364.3C242.3 365.6 243.2 366.6 244.3 366.3C245.5 365.9 247 363.6 248.3 362.3C249.7 360.9 251 358.9 252.3 358.3C253.7 357.6 254.8 358.4 256.4 358.3C257.9 358.1 259.9 357.8 261.4 357.3C262.9 356.8 264 355.6 265.4 355.3C266.7 354.9 268 354.9 269.4 355.3C270.7 355.6 272 356.4 273.4 357.3C274.7 358.1 276.1 359.3 277.4 360.3C278.7 361.3 280.1 362.9 281.4 363.3C282.7 363.6 284.1 362.3 285.4 362.3C286.7 362.3 288.1 362.8 289.4 363.3C290.8 363.8 292.1 364.8 293.4 365.3C294.8 365.7 296.1 366.2 297.4 365.9C298.8 365.5 299.9 364.4 301.4 363.3C302.9 362.2 304.8 360.5 306.5 359.3C308.1 358 309.8 356.7 311.5 355.9C313.1 355 314.8 354.8 316.5 354.2C318.1 353.6 319.8 352.7 321.5 352.2C323.2 351.7 324.8 351.6 326.5 351.2C328.2 350.8 330 350.4 331.5 349.8C333 349.3 334.2 348.3 335.5 347.8C336.8 347.4 338.2 347.2 339.5 347.2C340.9 347.3 342.2 347.7 343.5 348.2C344.9 348.8 346.2 350.6 347.5 350.6C348.9 350.6 350.2 349 351.5 348.2C352.9 347.5 354.9 346.6 355.5 346.2" stroke="#000" stroke-width="4" fill="none" stroke-linejoin="round" stroke-linecap="round"/>
<path d="M86.6 321.2C87.3 320.3 89.5 317.7 91 316.2C92.6 314.7 94.4 313.5 96 312.2C97.7 310.8 99.5 310.5 101 308.2C102.5 305.8 103.7 300.3 105 298.1C106.4 296 107.7 295.3 109.1 295.1C110.4 295 111.7 296.3 113.1 297.1C114.4 298 115.7 299.4 117.1 300.1C118.4 300.9 119.6 301.4 121.1 301.7C122.6 302.1 124.4 302 126.1 302.1C127.8 302.3 129.6 302.2 131.1 302.5C132.6 302.9 133.8 302.9 135.1 304.1C136.4 305.4 137.9 308.3 139.1 310.2C140.3 312 141.1 313.9 142.1 315.2C143.1 316.4 144.1 317.9 145.1 317.8C146.1 317.6 147.1 316.4 148.1 314.2C149.1 311.9 150 307.5 151.1 304.1C152.3 300.8 153.8 296.5 155.1 294.1C156.5 291.8 157.8 290.9 159.2 290.1C160.5 289.4 162 289.5 163.2 289.7C164.3 290 165.2 290.7 166.2 291.7C167.2 292.8 168 294.8 169.2 296.1C170.3 297.5 171.8 299 173.2 299.7C174.5 300.5 175.9 300.1 177.2 300.5C178.5 300.9 179.9 301.2 181.2 302.1C182.5 303.1 184 305.4 185.2 306.2C186.4 306.9 187.2 307.1 188.2 306.8C189.2 306.4 190.1 305.2 191.2 304.1C192.4 303.1 193.9 301.5 195.2 300.5C196.6 299.5 197.9 299.4 199.2 298.1C200.6 296.9 202.1 294.8 203.2 293.1C204.4 291.5 205.2 288.6 206.3 288.1C207.3 287.6 208.3 288.5 209.3 290.1C210.3 291.8 211.3 295.3 212.3 298.1C213.3 301 214.1 304.1 215.3 307.2C216.4 310.2 217.9 313.7 219.3 316.2C220.6 318.7 221.8 320.5 223.3 322.2C224.8 323.9 226.8 324.5 228.3 326.2C229.8 327.9 231.1 330 232.3 332.2C233.5 334.4 234.3 336.5 235.3 339.2C236.3 341.9 237.3 345.4 238.3 348.2C239.3 351.1 240.3 354.4 241.3 356.3C242.3 358.1 243.2 359.4 244.3 359.3C245.5 359.1 247 356.3 248.3 355.3C249.7 354.2 251 353.2 252.3 353.2C253.7 353.2 255 354.6 256.4 355.3C257.7 355.9 259 357.2 260.4 357.3C261.7 357.4 263 356 264.4 355.9C265.7 355.8 267 356.1 268.4 356.7C269.7 357.2 270.9 358.4 272.4 359.3C273.9 360.1 275.9 361.4 277.4 361.9C278.9 362.4 280.1 362.4 281.4 362.3C282.7 362.2 284.1 361.3 285.4 361.3C286.7 361.2 288.1 361.6 289.4 361.9C290.8 362.1 292.1 362.4 293.4 362.7C294.8 362.9 296.1 363.5 297.4 363.3C298.8 363 299.9 362.1 301.4 361.3C302.9 360.4 304.8 359.1 306.5 358.3C308.1 357.4 309.8 356.4 311.5 356.3C313.1 356.1 314.8 356.9 316.5 357.3C318.1 357.6 319.8 358.3 321.5 358.3C323.2 358.3 324.8 357.6 326.5 357.3C328.2 356.9 330 357.1 331.5 356.3C333 355.4 334.2 353.4 335.5 352.2C336.8 351.1 338.2 350.1 339.5 349.2C340.9 348.4 342.2 347.9 343.5 347.2C344.9 346.6 346.2 345.8 347.5 345.2C348.9 344.7 350.2 344.1 351.5 343.8C352.9 343.6 354.9 343.8 355.5 343.8" stroke="#E7A324" stroke-width="4" fill="none" stroke-linejoin="round" stroke-linecap="round"/>
<text x="409.9" y="218.1" font-size="23.5" text-anchor="middle" class="t">F3</text>
<path d="M376.6 305H642.9" stroke="#000" stroke-width="3.7" fill="none" stroke-linecap="round"/>
<path d="M414.1 257.6V351.6" stroke="#000" stroke-width="3.7" fill="none" stroke-linecap="round"/>
<path d="M452.3 297v16M490.5 297v16M528.7 297v16M566.9 297v16M605.1 297v16" stroke="#000" stroke-width="2.1" fill="none"/>
<path d="M374.6 313.2C375.3 312.5 377.6 309.8 379 309.2C380.4 308.5 381.8 308.8 383 309.2C384.3 309.5 385.5 311.3 386.6 311.2C387.8 311 388.8 310.2 390 308.2C391.3 306.2 392.7 301.1 394.1 299.1C395.4 297.1 396.7 296.1 398.1 296.1C399.4 296.1 400.6 298.1 402.1 299.1C403.6 300.1 405.4 301.6 407.1 302.1C408.7 302.6 410.4 302.5 412.1 302.1C413.8 301.8 415.4 300.3 417.1 300.1C418.8 300 420.6 300 422.1 301.1C423.6 302.3 424.9 304.3 426.1 307.2C427.3 310 428 314.8 429.1 318.2C430.2 321.5 431.6 326.2 432.7 327.2C433.9 328.2 434.9 327 436.1 324.2C437.4 321.3 438.8 314.8 440.1 310.2C441.5 305.5 442.8 300.1 444.2 296.1C445.5 292.1 446.9 288.5 448.2 286.1C449.4 283.7 450.5 282.2 451.6 281.7C452.7 281.2 453.7 281.5 454.8 283.1C455.9 284.7 457.1 288.5 458.2 291.1C459.2 293.8 460.2 296.5 461.2 299.1C462.2 301.8 463 305.3 464.2 307.2C465.4 309 466.9 309.8 468.2 310.2C469.5 310.5 470.9 309.7 472.2 309.2C473.5 308.7 474.9 308.3 476.2 307.2C477.6 306 478.9 303.6 480.2 302.1C481.6 300.6 482.9 299 484.2 298.1C485.6 297.3 486.9 298.3 488.2 297.1C489.6 296 490.9 293.6 492.2 291.1C493.6 288.6 495.1 283.8 496.3 282.1C497.4 280.4 498.3 280.6 499.3 281.1C500.3 281.6 501.1 283.8 502.3 285.1C503.4 286.4 504.9 287.8 506.3 289.1C507.6 290.5 508.9 291.8 510.3 293.1C511.6 294.5 513 295.8 514.3 297.1C515.6 298.5 517 299.6 518.3 301.1C519.6 302.6 521 304 522.3 306.2C523.6 308.3 525 311.8 526.3 314.2C527.7 316.5 529 318.8 530.3 320.2C531.7 321.5 533 322.2 534.3 322.2C535.7 322.2 537 321 538.3 320.2C539.7 319.3 541 318.5 542.3 317.2C543.7 315.8 545 314 546.4 312.2C547.7 310.3 549 307.8 550.4 306.2C551.7 304.5 553 302.8 554.4 302.1C555.7 301.5 557 302 558.4 302.1C559.7 302.3 561.1 302.8 562.4 303.1C563.7 303.5 565.1 303.8 566.4 304.1C567.7 304.5 569.1 304.6 570.4 305.2C571.7 305.7 573.1 306.3 574.4 307.2C575.7 308 577.1 309.3 578.4 310.2C579.8 311 581.1 311.8 582.4 312.2C583.8 312.5 585.1 312.2 586.4 312.2C587.8 312.1 589.1 311.8 590.4 311.8C591.8 311.8 593.1 312.3 594.5 312.2C595.8 312.1 597.1 311.5 598.5 311.2C599.8 310.8 601.1 310.2 602.5 310.2C603.8 310.2 605.1 310.8 606.5 311.2C607.8 311.5 609.1 311.8 610.5 312.2C611.8 312.5 613.2 313.3 614.5 313.2C615.8 313 617 311.7 618.5 311.2C620 310.7 621.8 310.2 623.5 310.2C625.2 310.2 626.8 310.8 628.5 311.2C630.2 311.5 631.9 312.2 633.5 312.2C635.2 312.2 636.9 311.2 638.5 311.2C640.2 311.1 642.7 311.7 643.5 311.8" stroke="#000" stroke-width="4" fill="none" stroke-linejoin="round" stroke-linecap="round"/>
<path d="M374.6 316.2C375.3 315.3 377.6 312.6 379 311.2C380.4 309.8 381.7 308.7 383 307.8C384.4 306.9 385.7 306.5 387 305.8C388.4 305 389.7 303.9 391 303.1C392.4 302.4 393.7 301.5 395.1 301.1C396.4 300.8 397.7 301 399.1 301.1C400.4 301.2 401.7 301.5 403.1 301.7C404.4 302 405.6 302.6 407.1 302.5C408.6 302.4 410.4 301.4 412.1 301.1C413.8 300.9 415.6 300.6 417.1 301.1C418.6 301.6 419.8 302.6 421.1 304.1C422.4 305.7 423.8 307.8 425.1 310.2C426.4 312.5 427.9 315.9 429.1 318.2C430.4 320.4 431.6 323.3 432.7 323.8C433.9 324.3 434.9 323.5 436.1 321.2C437.4 318.9 438.8 313.8 440.1 310.2C441.5 306.5 442.8 302.8 444.2 299.1C445.5 295.5 446.9 290.5 448.2 288.1C449.4 285.8 450.5 285.1 451.6 285.1C452.7 285.1 453.7 286.1 454.8 288.1C455.9 290.1 457.1 294.3 458.2 297.1C459.2 300 460.2 303.1 461.2 305.2C462.2 307.2 463 308.2 464.2 309.2C465.4 310.2 466.9 311 468.2 311.2C469.5 311.3 470.9 311 472.2 310.2C473.5 309.3 474.9 307.7 476.2 306.2C477.6 304.6 478.9 302.1 480.2 301.1C481.6 300.1 482.9 301 484.2 300.1C485.6 299.3 486.9 298.5 488.2 296.1C489.6 293.8 490.9 289 492.2 286.1C493.6 283.3 495.1 280.1 496.3 279.1C497.4 278.1 498.3 279.3 499.3 280.1C500.3 280.9 501.1 282.8 502.3 284.1C503.4 285.4 504.9 286.9 506.3 288.1C507.6 289.3 508.9 290 510.3 291.1C511.6 292.3 513 294.3 514.3 295.1C515.6 296 517 295 518.3 296.1C519.6 297.3 521 299.5 522.3 302.1C523.6 304.8 525 309.2 526.3 312.2C527.7 315.2 529 318 530.3 320.2C531.7 322.4 533 324.6 534.3 325.2C535.7 325.8 537 324.5 538.3 323.8C539.7 323.1 541 322.1 542.3 321.2C543.7 320.2 545 319.7 546.4 318.2C547.7 316.7 549.2 313.8 550.4 312.2C551.5 310.5 552 309 553.4 308.2C554.7 307.3 556.9 307.2 558.4 307.2C559.9 307.2 561.1 308.2 562.4 308.2C563.7 308.2 565.1 307.2 566.4 307.2C567.7 307.2 569.1 307.5 570.4 308.2C571.7 308.8 573.1 310.2 574.4 311.2C575.7 312.2 577.1 313.3 578.4 314.2C579.8 315 581.1 315.6 582.4 316.2C583.8 316.8 585.1 317.7 586.4 317.8C587.8 317.8 589.1 316.6 590.4 316.6C591.8 316.6 593.1 318.2 594.5 317.8C595.8 317.4 597.1 314.8 598.5 314.2C599.8 313.6 601.1 314 602.5 314.2C603.8 314.3 605.1 314.8 606.5 315.2C607.8 315.5 609.1 315.9 610.5 316.2C611.8 316.4 613.2 316.5 614.5 316.6C615.8 316.6 617 316.6 618.5 316.6C620 316.5 621.8 316.6 623.5 316.2C625.2 315.8 626.8 314.8 628.5 314.2C630.2 313.6 631.9 312.9 633.5 312.6C635.2 312.2 636.9 312.1 638.5 312.2C640.2 312.3 642.7 313 643.5 313.2" stroke="#E7A324" stroke-width="4" fill="none" stroke-linejoin="round" stroke-linecap="round"/>
<text x="698.1" y="218.1" font-size="23.5" text-anchor="middle" class="t">Fz</text>
<path d="M664.8 305H931.1" stroke="#000" stroke-width="3.7" fill="none" stroke-linecap="round"/>
<path d="M702.3 257.6V351.6" stroke="#000" stroke-width="3.7" fill="none" stroke-linecap="round"/>
<path d="M740.5 297v16M778.7 297v16M816.9 297v16M855.1 297v16M893.3 297v16" stroke="#000" stroke-width="2.1" fill="none"/>
<path d="M662.6 306.2C663.3 306.3 665.5 306.7 667 307.2C668.6 307.7 670.5 308.7 672 309.2C673.5 309.7 674.9 310.5 676 310.2C677.2 309.8 677.9 308.7 679 307.2C680.2 305.7 681.7 302.5 683.1 301.1C684.4 299.8 685.7 299 687.1 299.1C688.4 299.3 689.6 301.3 691.1 302.1C692.6 303 694.4 304.6 696.1 304.1C697.7 303.6 699.6 300.3 701.1 299.1C702.6 298 703.8 297.3 705.1 297.1C706.4 297 707.8 297.5 709.1 298.1C710.4 298.8 711.9 299.3 713.1 301.1C714.3 303 715.1 306 716.1 309.2C717.1 312.3 718.1 317.2 719.1 320.2C720.1 323.2 721.1 326.5 722.1 327.2C723.1 327.9 724 327.4 725.1 324.2C726.3 321 727.8 313.5 729.1 308.2C730.5 302.8 731.8 297.1 733.2 292.1C734.5 287.1 736 281.8 737.2 278.1C738.3 274.4 739.2 271.5 740.2 270.1C741.1 268.7 741.9 268.8 742.8 269.7C743.6 270.5 744.3 272.4 745.2 275.1C746.1 277.8 747.2 283.3 748.2 286.1C749.2 289 750 290.8 751.2 292.1C752.4 293.5 753.7 294 755.2 294.1C756.7 294.3 758.7 294 760.2 293.1C761.7 292.3 762.9 291 764.2 289.1C765.6 287.3 766.9 283.9 768.2 282.1C769.6 280.3 770.9 279.1 772.2 278.1C773.6 277.1 775.1 277.6 776.2 276.1C777.4 274.6 778.1 271.4 779.2 269.1C780.4 266.7 781.9 263.8 783.3 262.1C784.6 260.3 785.8 259 787.3 258.5C788.8 258 790.8 258.8 792.3 259.1C793.8 259.3 794.9 259.2 796.3 260.1C797.6 260.9 799 263.1 800.3 264.1C801.6 265.1 803 265.1 804.3 266.1C805.6 267.1 807 268.6 808.3 270.1C809.6 271.6 811 273.4 812.3 275.1C813.6 276.8 815 277.9 816.3 280.1C817.7 282.3 819 285.8 820.3 288.1C821.7 290.4 823 293.2 824.3 293.7C825.7 294.2 827 292.2 828.3 291.1C829.7 290 831 289 832.4 287.1C833.7 285.3 835 282.4 836.4 280.1C837.7 277.8 839 274.4 840.4 273.1C841.7 271.8 842.9 272.3 844.4 272.1C845.9 271.9 847.7 272.5 849.4 272.1C851.1 271.7 852.9 269.7 854.4 269.7C855.9 269.7 857.1 271 858.4 272.1C859.7 273.2 861.1 274.8 862.4 276.1C863.7 277.4 865.1 278.8 866.4 280.1C867.8 281.4 869.1 282.9 870.4 284.1C871.8 285.3 873.1 286.3 874.4 287.1C875.8 287.9 877.1 288.3 878.4 289.1C879.8 290 881.1 291 882.5 292.1C883.8 293.2 885.1 295.5 886.5 295.7C887.8 296 889.1 294.2 890.5 293.7C891.8 293.3 893.1 293 894.5 293.1C895.8 293.3 897.1 294 898.5 294.5C899.8 295 901.2 295.7 902.5 296.1C903.8 296.6 905 297.2 906.5 297.1C908 297.1 909.8 295.7 911.5 295.7C913.2 295.7 914.8 296.9 916.5 297.1C918.2 297.4 919.9 297.1 921.5 297.1C923.2 297.1 924.9 297 926.5 297.1C928.2 297.2 930.7 297.6 931.5 297.7" stroke="#000" stroke-width="4" fill="none" stroke-linejoin="round" stroke-linecap="round"/>
<path d="M662.6 312.2C663.3 311.7 665.5 310 667 309.2C668.6 308.3 670.4 307.7 672 307.2C673.7 306.7 675.4 306.8 677 306.2C678.7 305.5 680.4 303.8 682.1 303.1C683.7 302.5 685.4 302 687.1 302.1C688.7 302.2 690.6 303.6 692.1 303.7C693.6 303.9 694.7 303.7 696.1 303.1C697.4 302.6 698.8 301.2 700.1 300.5C701.4 299.9 702.8 299 704.1 299.1C705.4 299.2 706.8 300.1 708.1 301.1C709.4 302.1 710.8 303 712.1 305.2C713.4 307.3 714.9 311.5 716.1 314.2C717.3 316.8 718.1 319.5 719.1 321.2C720.1 322.9 721.1 324.4 722.1 324.2C723.1 324 724 323.4 725.1 320.2C726.3 317 727.8 310 729.1 305.2C730.5 300.3 731.8 295.3 733.2 291.1C734.5 286.9 736 283 737.2 280.1C738.3 277.2 739.2 274.4 740.2 273.7C741.2 273 742.2 273.7 743.2 276.1C744.2 278.5 745.2 284.8 746.2 288.1C747.2 291.5 748 294.2 749.2 296.1C750.4 298.1 751.9 298.7 753.2 299.7C754.5 300.7 755.9 301.9 757.2 302.1C758.5 302.4 759.9 302.1 761.2 301.1C762.5 300.1 763.9 297.8 765.2 296.1C766.6 294.5 767.9 292.5 769.2 291.1C770.6 289.8 771.9 289.6 773.2 288.1C774.6 286.6 775.9 284.4 777.2 282.1C778.6 279.8 779.9 276.8 781.2 274.1C782.6 271.4 784.1 267.7 785.3 266.1C786.4 264.5 787.1 264.3 788.3 264.5C789.4 264.6 790.8 266.5 792.3 267.1C793.8 267.7 795.8 267.6 797.3 268.1C798.8 268.6 800 269.6 801.3 270.1C802.6 270.6 804 270.1 805.3 271.1C806.6 272.1 808 274.1 809.3 276.1C810.6 278.1 812 280.8 813.3 283.1C814.6 285.4 816.2 287.8 817.3 290.1C818.5 292.5 819.3 295.2 820.3 297.1C821.3 299.1 822.2 300.9 823.3 301.7C824.5 302.6 826 302.2 827.3 302.1C828.7 302 830 302.8 831.3 301.1C832.7 299.5 834 295.3 835.4 292.1C836.7 289 838.2 283.8 839.4 282.1C840.5 280.4 841.2 281.4 842.4 281.7C843.5 282 845 283.8 846.4 284.1C847.7 284.4 849.1 284 850.4 283.7C851.7 283.4 853.1 282.4 854.4 282.5C855.7 282.6 857.1 283.3 858.4 284.1C859.7 284.9 861.1 285.9 862.4 287.1C863.7 288.3 865.1 289.8 866.4 291.1C867.8 292.5 869.1 293.8 870.4 295.1C871.8 296.5 873.1 298.6 874.4 299.1C875.8 299.6 877.1 298.5 878.4 298.1C879.8 297.8 881.1 297.6 882.5 297.1C883.8 296.6 885.1 295.7 886.5 295.1C887.8 294.6 889.1 293.9 890.5 293.7C891.8 293.6 893.1 293.7 894.5 294.1C895.8 294.5 897.1 295.3 898.5 296.1C899.8 297 901 298.5 902.5 299.1C904 299.8 905.8 299.8 907.5 300.1C909.2 300.5 910.8 300.9 912.5 301.1C914.2 301.3 915.9 301.3 917.5 301.3C919.2 301.3 920.9 301.1 922.5 301.1C924.2 301.2 926 301.5 927.5 301.7C929 302 930.9 302.4 931.5 302.5" stroke="#E7A324" stroke-width="4" fill="none" stroke-linejoin="round" stroke-linecap="round"/>
<text x="986.3" y="218.1" font-size="23.5" text-anchor="middle" class="t">F4</text>
<path d="M953 305H1219.3" stroke="#000" stroke-width="3.7" fill="none" stroke-linecap="round"/>
<path d="M990.5 257.6V351.6" stroke="#000" stroke-width="3.7" fill="none" stroke-linecap="round"/>
<path d="M1028.7 297v16M1066.9 297v16M1105.1 297v16M1143.3 297v16M1181.5 297v16" stroke="#000" stroke-width="2.1" fill="none"/>
<path d="M950.6 306.2C951.3 306.3 953.5 306.8 955 307.2C956.6 307.6 958.5 308.1 960 308.6C961.5 309 962.7 310.2 964 309.8C965.4 309.4 966.5 307.5 968 306.2C969.5 304.8 971.6 302.4 973.1 301.7C974.6 301.1 975.6 301.8 977.1 302.1C978.6 302.5 980.4 303.8 982.1 303.7C983.7 303.7 985.4 302.4 987.1 301.7C988.8 301.1 990.4 300 992.1 299.7C993.8 299.5 995.6 299.7 997.1 300.1C998.6 300.6 999.8 300.5 1001.1 302.5C1002.4 304.5 1003.6 308.9 1004.7 312.2C1005.9 315.4 1006.9 320.3 1008.1 322.2C1009.4 324 1010.8 324.2 1012.1 323.2C1013.5 322.2 1014.8 319.7 1016.1 316.2C1017.5 312.7 1018.8 306.8 1020.2 302.1C1021.5 297.5 1022.9 292.1 1024.2 288.1C1025.4 284.1 1026.5 279.9 1027.6 278.1C1028.7 276.3 1029.7 276.4 1030.8 277.1C1031.9 277.8 1033.1 280.3 1034.2 282.5C1035.2 284.7 1036.2 287.8 1037.2 290.1C1038.2 292.4 1039 294.7 1040.2 296.1C1041.4 297.5 1042.9 297.7 1044.2 298.5C1045.5 299.4 1047 300.4 1048.2 301.1C1049.4 301.9 1050.2 303.3 1051.2 303.1C1052.2 303 1053 300.2 1054.2 300.1C1055.4 300 1056.9 301.9 1058.2 302.5C1059.6 303.1 1060.9 303.8 1062.2 303.7C1063.6 303.7 1064.9 303.8 1066.2 302.1C1067.6 300.5 1068.9 295.9 1070.3 293.7C1071.6 291.6 1072.9 289.8 1074.3 289.1C1075.6 288.5 1076.8 289.8 1078.3 289.7C1079.8 289.6 1081.6 288.5 1083.3 288.5C1084.9 288.5 1086.6 289.4 1088.3 289.7C1090 290.1 1091.8 289.8 1093.3 290.5C1094.8 291.3 1096 292.9 1097.3 294.1C1098.6 295.4 1100.1 296.1 1101.3 298.1C1102.5 300.1 1103.3 303.8 1104.3 306.2C1105.3 308.5 1106.2 310.8 1107.3 312.2C1108.5 313.5 1110 314.5 1111.3 314.2C1112.7 313.8 1114 311.3 1115.3 310.2C1116.7 309 1118 308.5 1119.3 307.2C1120.7 305.8 1122 303.8 1123.4 302.1C1124.7 300.5 1126 298.3 1127.4 297.1C1128.7 296 1130 295.6 1131.4 295.1C1132.7 294.7 1134 295.4 1135.4 294.5C1136.7 293.7 1138.1 291.4 1139.4 290.1C1140.7 288.9 1142.1 287.4 1143.4 287.1C1144.7 286.8 1146.1 287.6 1147.4 288.1C1148.7 288.6 1150.1 289.4 1151.4 290.1C1152.7 290.9 1154.1 291.7 1155.4 292.5C1156.8 293.4 1158.1 294.5 1159.4 295.1C1160.8 295.8 1162.1 296 1163.4 296.5C1164.8 297 1166.1 297.7 1167.4 298.1C1168.8 298.6 1170.1 299.3 1171.5 299.1C1172.8 299 1174.1 297.9 1175.5 297.1C1176.8 296.4 1178.1 295.1 1179.5 294.5C1180.8 294 1182.1 293.9 1183.5 293.7C1184.8 293.6 1186 293.7 1187.5 293.7C1189 293.8 1190.8 294.3 1192.5 294.1C1194.2 293.9 1195.8 292.7 1197.5 292.5C1199.2 292.4 1200.8 293 1202.5 293.1C1204.2 293.2 1205.9 293.4 1207.5 293.1C1209.2 292.9 1210.5 292 1212.5 291.7C1214.5 291.5 1218.4 291.6 1219.5 291.5" stroke="#000" stroke-width="4" fill="none" stroke-linejoin="round" stroke-linecap="round"/>
<path d="M950.6 309.2C951.3 308.7 953.5 306.8 955 306.2C956.6 305.5 958.4 304.8 960 305.2C961.7 305.5 963.4 308 965 308.2C966.7 308.3 968.5 307 970.1 306.2C971.6 305.3 972.7 303.8 974.1 303.1C975.4 302.5 976.7 302.2 978.1 302.1C979.4 302 980.6 302.7 982.1 302.5C983.6 302.4 985.4 301.5 987.1 301.1C988.8 300.7 990.6 300 992.1 300.1C993.6 300.2 994.8 300.8 996.1 301.7C997.4 302.7 998.8 303.7 1000.1 305.8C1001.4 307.8 1002.8 311.6 1004.1 314.2C1005.5 316.7 1006.8 320.2 1008.1 321.2C1009.5 322.2 1010.8 321.9 1012.1 320.2C1013.5 318.5 1014.8 314.8 1016.1 311.2C1017.5 307.5 1018.8 302.1 1020.2 298.1C1021.5 294.1 1022.9 290.3 1024.2 287.1C1025.4 283.9 1026.5 280.3 1027.6 279.1C1028.7 277.9 1029.7 278.6 1030.8 280.1C1031.9 281.6 1033.1 285.4 1034.2 288.1C1035.2 290.8 1036 294 1037.2 296.1C1038.4 298.3 1039.9 299.9 1041.2 301.1C1042.5 302.4 1043.9 303.3 1045.2 303.7C1046.5 304.2 1047.9 303.8 1049.2 303.7C1050.5 303.6 1051.9 303.7 1053.2 303.1C1054.6 302.5 1055.9 300.8 1057.2 300.1C1058.6 299.5 1059.9 299.1 1061.2 299.1C1062.6 299.1 1063.9 301 1065.2 300.1C1066.6 299.3 1067.9 295.5 1069.2 294.1C1070.6 292.7 1071.9 291.9 1073.3 291.7C1074.6 291.6 1075.9 292.6 1077.3 293.1C1078.6 293.7 1079.9 294.8 1081.3 295.1C1082.6 295.5 1083.8 295.3 1085.3 295.3C1086.8 295.3 1088.8 295 1090.3 295.1C1091.8 295.3 1093 295.1 1094.3 296.1C1095.6 297.1 1097 298.8 1098.3 301.1C1099.6 303.5 1101 307.7 1102.3 310.2C1103.7 312.7 1105.2 314.2 1106.3 316.2C1107.5 318.2 1108.2 320.5 1109.3 322.2C1110.4 323.9 1111.8 326.1 1112.9 326.2C1114.1 326.3 1115.1 323.8 1116.3 322.6C1117.6 321.4 1119 320.2 1120.4 319.2C1121.7 318.1 1123 317.7 1124.4 316.2C1125.7 314.7 1127 310.8 1128.4 310.2C1129.7 309.5 1131 311.8 1132.4 312.2C1133.7 312.5 1135 312.7 1136.4 312.2C1137.7 311.7 1139.1 310 1140.4 309.2C1141.7 308.3 1143.1 307.7 1144.4 307.2C1145.7 306.7 1146.9 306 1148.4 306.2C1149.9 306.3 1151.9 307.6 1153.4 308.2C1154.9 308.8 1156.1 309.1 1157.4 309.8C1158.8 310.4 1160.1 311.6 1161.4 312.2C1162.8 312.7 1164.1 313.2 1165.4 313.2C1166.8 313.1 1168.1 312.3 1169.4 311.8C1170.8 311.2 1172.1 310.7 1173.5 309.8C1174.8 308.8 1176.1 307.4 1177.5 306.2C1178.8 304.9 1180.1 303 1181.5 302.1C1182.8 301.3 1184.1 301.1 1185.5 301.1C1186.8 301.1 1188.2 301.9 1189.5 302.1C1190.8 302.4 1192.2 302.7 1193.5 302.5C1194.8 302.4 1196.2 301.6 1197.5 301.1C1198.8 300.7 1200.2 300.2 1201.5 299.7C1202.8 299.3 1204.2 298.9 1205.5 298.5C1206.9 298.2 1208 298.1 1209.5 297.7C1211 297.3 1212.9 296.3 1214.5 296.1C1216.2 295.9 1218.7 296.5 1219.5 296.5" stroke="#E7A324" stroke-width="4" fill="none" stroke-linejoin="round" stroke-linecap="round"/>
<text x="1274.5" y="218.1" font-size="23.5" text-anchor="middle" class="t">F8</text>
<path d="M1241.2 305H1507.5" stroke="#000" stroke-width="3.7" fill="none" stroke-linecap="round"/>
<path d="M1278.7 257.6V351.6" stroke="#000" stroke-width="3.7" fill="none" stroke-linecap="round"/>
<path d="M1316.9 297v16M1355.1 297v16M1393.3 297v16M1431.5 297v16M1469.7 297v16" stroke="#000" stroke-width="2.1" fill="none"/>
<path d="M1239.6 311.2C1240.4 311.1 1242.5 310.7 1244.1 310.6C1245.6 310.4 1247.4 310.1 1249.1 310.2C1250.7 310.3 1252.6 311.7 1254.1 311.2C1255.6 310.7 1256.7 308.7 1258.1 307.2C1259.4 305.7 1260.8 303.4 1262.1 302.1C1263.4 300.9 1264.8 300.1 1266.1 299.7C1267.4 299.4 1268.8 300.2 1270.1 300.1C1271.4 300 1272.8 299.6 1274.1 299.1C1275.4 298.6 1276.8 297.8 1278.1 297.1C1279.5 296.5 1280.8 295.6 1282.1 295.1C1283.5 294.6 1284.8 293.8 1286.1 294.1C1287.5 294.5 1288.9 295.6 1290.1 297.1C1291.4 298.6 1292.4 300.6 1293.5 303.1C1294.7 305.7 1295.8 309.7 1296.8 312.2C1297.8 314.7 1298.6 318.2 1299.6 318.2C1300.6 318.2 1301.7 314.8 1302.8 312.2C1303.9 309.5 1304.9 304.8 1306.2 302.1C1307.4 299.5 1309 297.6 1310.2 296.1C1311.4 294.6 1312.2 294 1313.2 293.1C1314.2 292.3 1315.2 291 1316.2 291.1C1317.2 291.3 1318.2 292.5 1319.2 294.1C1320.2 295.8 1321.2 299 1322.2 301.1C1323.2 303.3 1324 305.5 1325.2 307.2C1326.4 308.8 1327.9 309.8 1329.2 311.2C1330.6 312.5 1331.9 313.5 1333.2 315.2C1334.6 316.8 1335.9 319 1337.2 321.2C1338.6 323.4 1339.9 326.2 1341.2 328.2C1342.6 330.2 1343.9 331.9 1345.3 333.2C1346.6 334.5 1347.9 336 1349.3 336.2C1350.6 336.4 1351.9 334.6 1353.3 334.2C1354.6 333.8 1355.9 334.1 1357.3 333.8C1358.6 333.5 1359.8 332.6 1361.3 332.6C1362.8 332.6 1364.6 333.5 1366.3 333.8C1368 334.1 1369.6 334.2 1371.3 334.6C1373 335 1374.6 335.4 1376.3 336.2C1378 337 1379.7 338 1381.3 339.2C1383 340.4 1384.8 341.7 1386.3 343.2C1387.8 344.7 1389.2 346.4 1390.3 348.2C1391.5 350.1 1392.3 352.3 1393.3 354.2C1394.4 356.2 1395.4 359.2 1396.4 359.9C1397.4 360.5 1398.4 359.7 1399.4 358.3C1400.4 356.8 1401.2 352.9 1402.4 351.2C1403.5 349.6 1405 348.4 1406.4 348.2C1407.7 348.1 1409 349.8 1410.4 350.2C1411.7 350.6 1413.1 350.6 1414.4 350.6C1415.7 350.6 1417.1 350 1418.4 350.2C1419.7 350.4 1421.1 351.8 1422.4 351.8C1423.7 351.9 1425.1 351 1426.4 350.6C1427.8 350.3 1429.1 349.7 1430.4 349.8C1431.8 349.9 1433.1 350.8 1434.4 351.2C1435.8 351.6 1437.1 352.1 1438.4 352.2C1439.8 352.4 1441.1 352.2 1442.4 352.2C1443.8 352.3 1445.1 353.1 1446.5 352.6C1447.8 352.1 1449.1 350.1 1450.5 349.2C1451.8 348.3 1453.1 348.2 1454.5 347.2C1455.8 346.2 1457.1 344.7 1458.5 343.2C1459.8 341.7 1461 339.7 1462.5 338.2C1464 336.7 1465.8 335.5 1467.5 334.2C1469.2 332.9 1470.8 331.5 1472.5 330.2C1474.2 328.9 1475.8 327.5 1477.5 326.2C1479.2 324.9 1481 323 1482.5 322.2C1484 321.3 1485.2 321.2 1486.5 321.2C1487.9 321.2 1489.2 322.7 1490.5 322.2C1491.9 321.7 1493 319.3 1494.6 318.2C1496.1 317 1498.1 316 1499.6 315.2C1501.1 314.3 1502.2 313.9 1503.6 313.2C1504.9 312.4 1506.9 311 1507.6 310.6" stroke="#000" stroke-width="4" fill="none" stroke-linejoin="round" stroke-linecap="round"/>
<path d="M1239.6 315.2C1240.4 315 1242.5 314.8 1244.1 314.2C1245.6 313.5 1247.4 312.2 1249.1 311.2C1250.7 310.2 1252.6 309.4 1254.1 308.2C1255.6 306.9 1256.7 305.3 1258.1 303.7C1259.4 302.2 1260.8 299.9 1262.1 299.1C1263.4 298.4 1264.8 298.6 1266.1 299.1C1267.4 299.6 1268.8 301.6 1270.1 302.1C1271.4 302.7 1272.8 302.9 1274.1 302.5C1275.4 302.2 1276.8 300.6 1278.1 300.1C1279.5 299.7 1280.8 299.6 1282.1 299.7C1283.5 299.9 1284.8 300.5 1286.1 301.1C1287.5 301.8 1288.9 302.2 1290.1 303.7C1291.4 305.3 1292.4 307.8 1293.5 310.2C1294.7 312.6 1295.8 316.8 1296.8 318.2C1297.8 319.5 1298.6 319.5 1299.6 318.2C1300.6 316.8 1301.7 313 1302.8 310.2C1303.9 307.3 1304.9 303.5 1306.2 301.1C1307.4 298.8 1308.8 297.5 1310.2 296.1C1311.5 294.8 1312.9 293.9 1314.2 293.1C1315.5 292.4 1317 291.6 1318.2 291.7C1319.4 291.8 1320.2 292.3 1321.2 293.7C1322.2 295.1 1323 298.1 1324.2 300.1C1325.4 302.2 1326.9 304.5 1328.2 306.2C1329.6 307.8 1330.9 309 1332.2 310.2C1333.6 311.3 1334.9 312.3 1336.2 313.2C1337.6 314 1338.9 314.6 1340.2 315.2C1341.6 315.7 1342.9 316.6 1344.3 316.6C1345.6 316.6 1346.9 315.1 1348.3 315.2C1349.6 315.3 1350.9 316.5 1352.3 317.2C1353.6 317.8 1354.9 319.3 1356.3 319.2C1357.6 319.1 1359.1 316.6 1360.3 316.6C1361.5 316.6 1362.3 317.7 1363.3 319.2C1364.3 320.6 1365.1 323 1366.3 325.2C1367.5 327.4 1369 330.4 1370.3 332.2C1371.6 334 1373 335 1374.3 336.2C1375.6 337.4 1377 338 1378.3 339.2C1379.7 340.4 1381 341.7 1382.3 343.2C1383.7 344.7 1385 346.4 1386.3 348.2C1387.7 350.1 1389 352.3 1390.3 354.2C1391.7 356.2 1393 358.4 1394.4 359.9C1395.7 361.4 1397 362.9 1398.4 363.3C1399.7 363.7 1401 362.7 1402.4 362.3C1403.7 361.8 1405 360.7 1406.4 360.7C1407.7 360.7 1409 361.4 1410.4 362.3C1411.7 363.1 1413.1 364.6 1414.4 365.9C1415.7 367.1 1417.1 368.6 1418.4 369.9C1419.7 371.1 1421.1 373.1 1422.4 373.3C1423.7 373.5 1425.1 371.9 1426.4 371.3C1427.8 370.7 1429.1 370.4 1430.4 369.9C1431.8 369.3 1433.1 368.4 1434.4 367.9C1435.8 367.3 1437.1 366.8 1438.4 366.7C1439.8 366.6 1441.1 367.8 1442.4 367.3C1443.8 366.7 1445.1 363.7 1446.5 363.3C1447.8 362.8 1449.1 364.2 1450.5 364.7C1451.8 365.2 1453.1 366.5 1454.5 366.3C1455.8 366 1457.1 364.6 1458.5 363.3C1459.8 361.9 1461.2 360 1462.5 358.3C1463.8 356.5 1465.2 354.1 1466.5 352.6C1467.8 351.1 1469 350.4 1470.5 349.2C1472 348.1 1473.8 347 1475.5 345.8C1477.2 344.7 1478.9 343.7 1480.5 342.2C1482.2 340.8 1484 338.9 1485.5 337.2C1487 335.5 1488.2 333.9 1489.5 332.2C1490.9 330.5 1492 328.9 1493.5 327.2C1495.1 325.5 1496.9 323.1 1498.6 321.8C1500.2 320.4 1502.1 320 1503.6 319.2C1505.1 318.3 1506.9 317 1507.6 316.6" stroke="#E7A324" stroke-width="4" fill="none" stroke-linejoin="round" stroke-linecap="round"/>
<text x="121.7" y="391.9" font-size="23.5" text-anchor="middle" class="t">T7</text>
<path d="M88.4 478.8H354.7" stroke="#000" stroke-width="3.7" fill="none" stroke-linecap="round"/>
<path d="M125.9 431.4V525.4" stroke="#000" stroke-width="3.7" fill="none" stroke-linecap="round"/>
<path d="M164.1 470.8v16M202.3 470.8v16M240.5 470.8v16M278.7 470.8v16M316.9 470.8v16" stroke="#000" stroke-width="2.1" fill="none"/>
<path d="M86.6 493.2C87.3 492.8 89.6 492.3 91 491.2C92.4 490 93.5 488.3 95 486.2C96.5 484 98.5 480.7 100 478.1C101.5 475.6 102.7 473 104 471.1C105.4 469.3 106.7 467.3 108.1 467.1C109.4 467 110.7 469.1 112.1 470.1C113.4 471.1 114.6 472.3 116.1 473.1C117.6 474 119.4 474.6 121.1 475.1C122.8 475.6 124.4 475.7 126.1 476.1C127.8 476.6 129.6 477.6 131.1 477.7C132.6 477.9 133.8 476.9 135.1 477.1C136.4 477.4 137.8 478 139.1 479.2C140.5 480.3 141.8 482.8 143.1 484.2C144.5 485.5 145.8 486.8 147.1 487.2C148.5 487.5 149.8 486.3 151.1 486.2C152.5 486 153.8 485.8 155.1 486.2C156.5 486.5 157.8 486.8 159.2 488.2C160.5 489.5 162 491.8 163.2 494.2C164.3 496.5 165.2 499.2 166.2 502.2C167.2 505.2 168 509.7 169.2 512.2C170.3 514.7 171.8 516.1 173.2 517.2C174.5 518.4 175.9 518.4 177.2 519.2C178.5 520.1 179.9 521.4 181.2 522.2C182.5 523.1 183.6 524.4 184.8 524.2C186 524.1 187 522.6 188.2 521.2C189.5 519.9 190.9 518.4 192.2 516.2C193.6 514.1 194.9 511 196.2 508.2C197.6 505.4 198.9 502.2 200.2 499.2C201.6 496.2 203 492.6 204.2 490.2C205.5 487.7 206.5 484.9 207.7 484.6C208.8 484.2 210 486.6 211.3 488.2C212.5 489.7 213.9 492.1 215.3 493.8C216.6 495.4 217.9 497 219.3 498.2C220.6 499.4 221.9 500.9 223.3 501.2C224.6 501.5 226 499.6 227.3 499.8C228.6 500 230 501.1 231.3 502.2C232.6 503.3 234 504.7 235.3 506.2C236.6 507.7 238 510 239.3 511.2C240.7 512.4 242 513.1 243.3 513.2C244.7 513.4 246 513.1 247.3 512.2C248.7 511.4 250 508.8 251.3 508.2C252.7 507.6 254 508.3 255.3 508.6C256.7 508.9 258 509.7 259.4 510.2C260.7 510.7 261.9 511.2 263.4 511.8C264.9 512.4 266.9 512.9 268.4 513.8C269.9 514.7 271.2 516.2 272.4 517.2C273.6 518.3 274.2 519.7 275.4 520.2C276.6 520.8 278.1 520.6 279.4 520.6C280.7 520.6 282.1 520.7 283.4 520.2C284.7 519.8 286.1 518.3 287.4 517.8C288.7 517.3 290.1 517 291.4 517.2C292.8 517.5 294.1 519 295.4 519.2C296.8 519.5 298.1 519.1 299.4 518.6C300.8 518.1 301.9 517 303.4 516.2C304.9 515.5 307 514.2 308.5 514.2C310 514.2 311.1 515.6 312.5 516.2C313.8 516.9 315.1 518.4 316.5 518.2C317.8 518.1 319.1 516 320.5 515.2C321.8 514.5 323.2 513.7 324.5 513.8C325.8 513.9 327.2 515.8 328.5 515.8C329.8 515.8 331.2 514.3 332.5 513.8C333.8 513.4 335.2 513 336.5 513.2C337.8 513.5 339.2 514.8 340.5 515.2C341.9 515.7 343.2 516.2 344.5 515.8C345.9 515.5 346.7 513.8 348.5 513.2C350.4 512.7 354.4 512.7 355.5 512.6" stroke="#000" stroke-width="4" fill="none" stroke-linejoin="round" stroke-linecap="round"/>
<path d="M86.6 494.2C87.3 494 89.6 494.2 91 493.2C92.4 492.2 93.5 490.3 95 488.2C96.5 486 98.5 483 100 480.2C101.5 477.3 102.7 473.4 104 471.1C105.4 468.9 106.7 466.7 108.1 466.5C109.4 466.4 110.7 468.9 112.1 470.1C113.4 471.3 114.6 472.9 116.1 473.7C117.6 474.6 119.4 474.6 121.1 475.1C122.8 475.7 124.4 476.8 126.1 477.1C127.8 477.5 129.4 477.2 131.1 477.1C132.8 477 134.6 476.1 136.1 476.5C137.6 477 138.8 478.3 140.1 479.8C141.5 481.2 142.8 483.6 144.1 485.2C145.5 486.7 146.8 488 148.1 489.2C149.5 490.3 150.8 492 152.1 492.2C153.5 492.3 154.8 490 156.2 490.2C157.5 490.3 158.8 491.6 160.2 493.2C161.5 494.8 162.8 498.3 164.2 499.8C165.5 501.3 166.8 501.8 168.2 502.2C169.5 502.6 170.8 501.7 172.2 502.2C173.5 502.7 174.9 504.3 176.2 505.2C177.5 506.1 178.7 507 180.2 507.8C181.7 508.6 183.7 510.1 185.2 510.2C186.7 510.3 187.9 509.9 189.2 508.2C190.6 506.5 191.9 502.5 193.2 500.2C194.6 497.9 195.9 496.5 197.2 494.2C198.6 491.8 200.1 489.2 201.2 486.2C202.4 483.2 203.2 478.1 204.2 476.1C205.2 474.1 206.3 474 207.3 474.1C208.3 474.3 209.3 475.8 210.3 477.1C211.3 478.5 212.1 481 213.3 482.2C214.4 483.3 215.9 483.8 217.3 484.2C218.6 484.5 219.9 483.8 221.3 484.2C222.6 484.5 224 485.8 225.3 486.2C226.6 486.5 228 486.4 229.3 486.2C230.6 485.9 232 484.2 233.3 484.6C234.6 484.9 236 486.6 237.3 488.2C238.6 489.8 240 492.8 241.3 494.2C242.7 495.5 244 496.4 245.3 496.2C246.7 496 248 493.8 249.3 493.2C250.7 492.5 252 492 253.3 492.2C254.7 492.3 256 493.2 257.4 494.2C258.7 495.2 260 497.3 261.4 498.2C262.7 499.1 264 499.5 265.4 499.8C266.7 500.1 268 499.8 269.4 500.2C270.7 500.6 272 501.5 273.4 502.2C274.7 502.9 276.1 503.8 277.4 504.2C278.7 504.6 280.1 504.8 281.4 504.6C282.7 504.4 284.1 503.6 285.4 503.2C286.7 502.8 288.1 502.5 289.4 502.2C290.8 501.9 292.1 501.5 293.4 501.2C294.8 500.9 296.1 500.9 297.4 500.6C298.8 500.3 300.1 499.3 301.4 499.2C302.8 499.1 304.1 499.9 305.4 500.2C306.8 500.5 308.1 501 309.5 501.2C310.8 501.4 312.1 500.7 313.5 501.2C314.8 501.7 316.1 503.6 317.5 504.2C318.8 504.8 320.1 504.4 321.5 504.6C322.8 504.8 324 505 325.5 505.2C327 505.4 329 505.8 330.5 505.8C332 505.8 333.2 505.6 334.5 505.2C335.8 504.8 337.2 503.7 338.5 503.2C339.9 502.7 341 502.5 342.5 502.2C344 501.9 346 501.6 347.5 501.2C349 500.8 350.2 500.2 351.5 499.8C352.9 499.4 354.9 498.8 355.5 498.6" stroke="#E7A324" stroke-width="4" fill="none" stroke-linejoin="round" stroke-linecap="round"/>
<text x="409.9" y="391.9" font-size="23.5" text-anchor="middle" class="t">C3</text>
<path d="M376.6 478.8H642.9" stroke="#000" stroke-width="3.7" fill="none" stroke-linecap="round"/>
<path d="M414.1 431.4V525.4" stroke="#000" stroke-width="3.7" fill="none" stroke-linecap="round"/>
<path d="M452.3 470.8v16M490.5 470.8v16M528.7 470.8v16M566.9 470.8v16M605.1 470.8v16" stroke="#000" stroke-width="2.1" fill="none"/>
<path d="M374.6 483.2C375.2 482.8 376.8 482 378 481.2C379.3 480.3 380.5 478.8 382 478.1C383.5 477.5 385.5 477.6 387 477.1C388.5 476.6 389.7 475.2 391 475.1C392.4 475 393.7 475.9 395.1 476.5C396.4 477.2 397.6 478.4 399.1 479.2C400.6 479.9 402.4 481 404.1 481.2C405.7 481.3 407.4 480.6 409.1 480.2C410.8 479.7 412.4 478.7 414.1 478.5C415.8 478.4 417.6 478.9 419.1 479.2C420.6 479.4 421.8 479.5 423.1 480.2C424.4 480.8 425.8 481.8 427.1 483.2C428.5 484.5 430 487.3 431.1 488.2C432.3 489 433.1 489.3 434.1 488.2C435.1 487 436 483.8 437.1 481.2C438.3 478.5 439.8 474.6 441.1 472.1C442.5 469.6 443.8 467.5 445.2 466.1C446.5 464.7 447.8 463.7 449.2 463.7C450.5 463.7 451.8 464.9 453.2 466.1C454.5 467.4 455.8 469.7 457.2 471.1C458.5 472.5 459.8 473.8 461.2 474.5C462.5 475.3 463.9 475.4 465.2 475.7C466.5 476.1 468 476.2 469.2 476.5C470.4 476.9 471.2 478.6 472.2 477.7C473.2 476.8 474 473.6 475.2 471.1C476.4 468.7 477.9 465.1 479.2 463.1C480.6 461.1 481.9 460.2 483.2 459.1C484.6 458 485.9 457.8 487.2 456.5C488.6 455.2 489.9 453.2 491.2 451.1C492.6 449 493.9 445.8 495.3 444.1C496.6 442.4 497.9 441.4 499.3 441.1C500.6 440.7 501.9 441.8 503.3 442.1C504.6 442.3 505.9 442.1 507.3 442.5C508.6 442.8 509.9 443.6 511.3 444.1C512.6 444.5 514 445.2 515.3 445.1C516.6 444.9 518 443.5 519.3 443.1C520.6 442.6 522 442 523.3 442.5C524.6 443 526 444.5 527.3 446.1C528.7 447.7 530 450.2 531.3 452.1C532.7 454 534.1 456.9 535.3 457.7C536.6 458.5 537.8 458.5 538.9 457.1C540.1 455.7 541.3 451.3 542.3 449.1C543.4 446.9 544.2 444.8 545.4 443.7C546.5 442.5 548.2 441.7 549.4 442.1C550.5 442.5 551.2 444.9 552.4 446.1C553.5 447.3 555.2 448.3 556.4 449.1C557.5 449.9 558.4 451.1 559.4 451.1C560.4 451.1 561.2 449.9 562.4 449.1C563.6 448.3 565.1 446.4 566.4 446.1C567.7 445.8 569.1 446.8 570.4 447.1C571.7 447.4 573.1 447.8 574.4 448.1C575.7 448.4 577.1 448.4 578.4 449.1C579.8 449.8 581.1 451.4 582.4 452.1C583.8 452.8 585.1 452.9 586.4 453.1C587.8 453.3 589.1 452.5 590.4 453.1C591.8 453.7 593.1 455.4 594.5 456.5C595.8 457.6 597.1 459 598.5 459.7C599.8 460.4 601.1 460.3 602.5 460.5C603.8 460.7 605.1 460.7 606.5 461.1C607.8 461.5 609.1 462.5 610.5 463.1C611.8 463.8 613.3 464.6 614.5 465.1C615.7 465.6 616.5 466.3 617.5 466.1C618.5 466 619.3 464.6 620.5 464.1C621.7 463.6 623 463 624.5 463.1C626 463.3 628 464.6 629.5 465.1C631 465.7 632 466.4 633.5 466.5C635 466.6 636.9 465.9 638.5 465.7C640.2 465.6 642.7 465.7 643.5 465.7" stroke="#000" stroke-width="4" fill="none" stroke-linejoin="round" stroke-linecap="round"/>
<path d="M374.6 477.1C375.3 477.2 377.5 477.5 379 477.7C380.6 478 382.4 478.3 384 478.5C385.7 478.8 387.4 479.3 389 479.2C390.7 479 392.4 478 394.1 477.7C395.7 477.5 397.4 477.5 399.1 477.7C400.7 478 402.4 478.7 404.1 479.2C405.7 479.6 407.4 480.1 409.1 480.2C410.8 480.3 412.4 480 414.1 479.8C415.8 479.5 417.6 478.5 419.1 478.5C420.6 478.6 421.8 478.9 423.1 480.2C424.4 481.4 425.9 484.5 427.1 486.2C428.3 487.8 429.1 489.3 430.1 490.2C431.1 491 432 492 433.1 491.2C434.3 490.3 435.8 488.2 437.1 485.2C438.5 482.2 439.8 476.1 441.1 473.1C442.5 470.1 443.8 468.5 445.2 467.1C446.5 465.8 447.8 465 449.2 465.1C450.5 465.2 451.8 466.4 453.2 467.7C454.5 469.1 455.8 471.4 457.2 473.1C458.5 474.9 459.8 476.3 461.2 478.1C462.5 480 463.9 482.5 465.2 484.2C466.5 485.8 468 487.5 469.2 488.2C470.4 488.8 471.2 488.7 472.2 488.2C473.2 487.7 474 486 475.2 485.2C476.4 484.3 477.9 483.6 479.2 483.2C480.6 482.7 481.9 482.9 483.2 482.6C484.6 482.2 485.9 482.9 487.2 481.2C488.6 479.4 489.9 474.5 491.2 472.1C492.6 469.8 493.9 468.3 495.3 467.1C496.6 466 497.9 466 499.3 465.1C500.6 464.3 501.9 463 503.3 462.1C504.6 461.2 505.9 460.4 507.3 459.7C508.6 459 509.9 457.9 511.3 457.7C512.6 457.5 514 458.6 515.3 458.5C516.6 458.4 517.8 457.8 519.3 457.1C520.8 456.4 523 454.5 524.3 454.5C525.6 454.5 526.3 455.7 527.3 457.1C528.3 458.5 529.3 461.3 530.3 463.1C531.3 465 532.3 467.2 533.3 468.1C534.3 469 535.3 469.4 536.3 468.5C537.3 467.7 538.3 465.5 539.3 463.1C540.3 460.7 541.3 456.4 542.3 454.1C543.3 451.8 544.2 450.3 545.4 449.1C546.5 447.9 548 447.4 549.4 447.1C550.7 446.8 552 446.9 553.4 447.1C554.7 447.3 556 448.3 557.4 448.1C558.7 447.9 560.2 446.6 561.4 446.1C562.6 445.6 563.2 445.1 564.4 445.1C565.6 445 567.1 445.3 568.4 445.7C569.7 446 571.1 446.5 572.4 447.1C573.7 447.7 575.1 448.4 576.4 449.1C577.8 449.8 579.1 450.6 580.4 451.1C581.8 451.6 583.1 452 584.4 452.1C585.8 452.2 587.1 451.5 588.4 451.7C589.8 451.9 591.1 452.9 592.4 453.1C593.8 453.3 595.1 452.9 596.5 453.1C597.8 453.3 599.1 453.5 600.5 454.1C601.8 454.7 603.1 455.7 604.5 456.5C605.8 457.3 607.1 458.3 608.5 459.1C609.8 459.9 611.2 460.9 612.5 461.1C613.8 461.3 615.2 460.7 616.5 460.5C617.8 460.3 619.2 460 620.5 460.1C621.8 460.2 623.2 460.7 624.5 461.1C625.8 461.5 627 461.8 628.5 462.5C630 463.2 631.9 464.5 633.5 465.1C635.2 465.7 636.9 466 638.5 466.1C640.2 466.3 642.7 466.1 643.5 466.1" stroke="#E7A324" stroke-width="4" fill="none" stroke-linejoin="round" stroke-linecap="round"/>
<text x="698.1" y="391.9" font-size="23.5" text-anchor="middle" class="t">Cz</text>
<path d="M664.8 478.8H931.1" stroke="#000" stroke-width="3.7" fill="none" stroke-linecap="round"/>
<path d="M702.3 431.4V525.4" stroke="#000" stroke-width="3.7" fill="none" stroke-linecap="round"/>
<path d="M740.5 470.8v16M778.7 470.8v16M816.9 470.8v16M855.1 470.8v16M893.3 470.8v16" stroke="#000" stroke-width="2.1" fill="none"/>
<path d="M662.6 476.1C663.5 475.8 666.5 474.1 668 474.1C669.6 474.2 670.5 475.4 672 476.5C673.5 477.7 675.4 480.6 677 481.2C678.7 481.8 680.4 480.4 682.1 480.2C683.7 479.9 685.4 479.6 687.1 479.8C688.7 479.9 690.6 480.8 692.1 481.2C693.6 481.6 694.7 482.6 696.1 482.2C697.4 481.7 698.8 479.6 700.1 478.5C701.4 477.5 702.8 476.8 704.1 476.1C705.4 475.5 706.9 474.4 708.1 474.5C709.3 474.7 709.9 475.9 711.1 477.1C712.3 478.4 713.9 480.5 715.1 482.2C716.3 483.8 717.1 485.8 718.1 487.2C719.1 488.5 720 491.3 721.1 490.2C722.3 489 723.8 484.3 725.1 480.2C726.5 476 727.8 469.3 729.1 465.1C730.5 460.9 731.8 458.3 733.2 455.1C734.5 451.9 735.9 448.4 737.2 446.1C738.4 443.7 739.7 441.6 740.8 441.1C741.8 440.6 742.5 441.1 743.6 443.1C744.6 445.1 745.9 449.9 747.2 453.1C748.4 456.3 749.9 460.3 751.2 462.1C752.5 464 753.9 464 755.2 464.1C756.5 464.3 757.9 463.6 759.2 463.1C760.5 462.6 761.9 461.9 763.2 461.1C764.5 460.3 765.9 458.9 767.2 458.1C768.6 457.3 769.7 456.6 771.2 456.1C772.7 455.6 774.7 455.8 776.2 455.1C777.7 454.4 778.9 453.1 780.2 452.1C781.6 451.1 782.9 450.1 784.3 449.1C785.6 448.1 786.9 446.9 788.3 446.1C789.6 445.2 790.9 444.8 792.3 444.1C793.6 443.3 794.9 441.9 796.3 441.7C797.6 441.4 799 442.7 800.3 442.5C801.6 442.2 803 440.8 804.3 440.1C805.6 439.3 806.8 438.7 808.3 438.1C809.8 437.4 812 435.9 813.3 436.1C814.6 436.2 815.3 437.6 816.3 439.1C817.3 440.6 818.2 443 819.3 445.1C820.5 447.2 822.2 450.5 823.3 451.7C824.5 452.9 825.2 453.7 826.3 452.1C827.5 450.5 829 445.6 830.3 442.1C831.7 438.6 833 433.9 834.4 431.1C835.7 428.2 837.2 425.9 838.4 425C839.5 424.2 840.2 425.2 841.4 426C842.5 426.9 844 429.9 845.4 430.1C846.7 430.2 847.9 428 849.4 427C850.9 426.1 852.9 424.6 854.4 424.4C855.9 424.3 857.1 425.4 858.4 426C859.7 426.6 861.1 427.6 862.4 428C863.7 428.4 865.1 428.3 866.4 428.4C867.8 428.6 868.9 428.6 870.4 429.1C871.9 429.5 873.9 430.4 875.4 431.1C876.9 431.7 878.3 431.9 879.4 433.1C880.6 434.2 881.3 436.1 882.5 438.1C883.6 440.1 885.3 444.1 886.5 445.1C887.6 446.1 888.3 444.6 889.5 444.1C890.6 443.6 892.1 442.1 893.5 442.1C894.8 442.1 896.1 443.5 897.5 444.1C898.8 444.7 900.2 445.3 901.5 445.7C902.8 446.1 904.2 446.6 905.5 446.5C906.8 446.4 908.3 445.5 909.5 445.1C910.7 444.7 911.3 443.6 912.5 444.1C913.7 444.6 915.2 447 916.5 448.1C917.9 449.2 919.2 450.2 920.5 450.5C921.9 450.8 922.7 449.6 924.5 449.7C926.4 449.8 930.4 450.9 931.5 451.1" stroke="#000" stroke-width="4" fill="none" stroke-linejoin="round" stroke-linecap="round"/>
<path d="M662.6 477.7C663.3 477.4 665.5 475.8 667 475.7C668.6 475.6 670.5 476.4 672 477.1C673.5 477.9 674.7 479.3 676 480.2C677.4 481 678.5 481.5 680 482.2C681.5 482.8 683.4 484.2 685.1 484.2C686.7 484.2 688.6 483 690.1 482.2C691.6 481.3 692.6 480.5 694.1 479.2C695.6 477.8 697.4 475.4 699.1 474.1C700.8 472.9 702.6 472.4 704.1 471.7C705.6 471.1 706.9 470.1 708.1 470.1C709.3 470.2 709.9 470.3 711.1 472.1C712.3 474 713.9 478.1 715.1 481.2C716.3 484.2 717.1 488.3 718.1 490.2C719.1 492 720 492.8 721.1 492.2C722.3 491.5 723.8 489.8 725.1 486.2C726.5 482.5 727.8 474.8 729.1 470.1C730.5 465.5 731.8 461.9 733.2 458.1C734.5 454.3 736 449.7 737.2 447.1C738.3 444.5 739.2 443 740.2 442.7C741.2 442.3 742.2 442.8 743.2 445.1C744.2 447.3 745 452.3 746.2 456.1C747.3 459.9 748.9 464.6 750.2 468.1C751.5 471.6 752.9 475 754.2 477.1C755.5 479.3 756.9 480.3 758.2 481.2C759.5 482 760.9 481.8 762.2 482.2C763.5 482.5 765 482.7 766.2 483.2C767.4 483.7 768.1 484.2 769.2 485.2C770.4 486.2 771.9 488.4 773.2 489.2C774.6 489.9 775.9 490.1 777.2 489.8C778.6 489.4 779.9 488.6 781.2 487.2C782.6 485.7 783.9 483.3 785.3 481.2C786.6 479 787.9 476.3 789.3 474.1C790.6 472 791.9 469.6 793.3 468.1C794.6 466.6 795.9 466.1 797.3 465.1C798.6 464.2 800 463.4 801.3 462.5C802.6 461.7 804 460.8 805.3 460.1C806.6 459.4 808 458.6 809.3 458.5C810.6 458.4 812 458.9 813.3 459.7C814.6 460.5 816 461.9 817.3 463.1C818.7 464.4 820.1 466.5 821.3 467.1C822.6 467.8 823.8 468.1 824.9 467.1C826.1 466.1 827.1 463.8 828.3 461.1C829.6 458.4 831 454.6 832.4 451.1C833.7 447.6 835.2 443.2 836.4 440.1C837.5 436.9 838.2 433.1 839.4 432.1C840.5 431 842.2 433.2 843.4 433.7C844.5 434.2 845.4 435.7 846.4 435.1C847.4 434.5 848.4 431.6 849.4 430.1C850.4 428.5 851.4 426.3 852.4 425.6C853.4 425 854.4 425.5 855.4 426C856.4 426.6 857.2 427.9 858.4 429.1C859.6 430.2 861.1 432.1 862.4 433.1C863.7 434.1 865.1 434.6 866.4 435.1C867.8 435.5 869.1 435.5 870.4 435.7C871.8 435.8 873.1 436.3 874.4 436.1C875.8 435.8 877.1 434.7 878.4 434.1C879.8 433.4 881.1 432.7 882.5 432.1C883.8 431.4 885.3 430.1 886.5 430.1C887.6 430.1 888.5 431.4 889.5 432.1C890.5 432.7 891.3 433.7 892.5 434.1C893.6 434.4 895.1 433.9 896.5 434.1C897.8 434.2 899.2 434.6 900.5 435.1C901.8 435.6 903.2 436.5 904.5 437.1C905.8 437.6 907.2 438 908.5 438.5C909.8 439 911.2 439.5 912.5 440.1C913.8 440.7 915.2 441.8 916.5 442.1C917.9 442.3 919.2 441.2 920.5 441.7C921.9 442.2 923.2 443.9 924.5 445.1C925.9 446.2 927.4 447.6 928.5 448.5C929.7 449.4 931 450.2 931.5 450.5" stroke="#E7A324" stroke-width="4" fill="none" stroke-linejoin="round" stroke-linecap="round"/>
<text x="986.3" y="391.9" font-size="23.5" text-anchor="middle" class="t">C4</text>
<path d="M953 478.8H1219.3" stroke="#000" stroke-width="3.7" fill="none" stroke-linecap="round"/>
<path d="M990.5 431.4V525.4" stroke="#000" stroke-width="3.7" fill="none" stroke-linecap="round"/>
<path d="M1028.7 470.8v16M1066.9 470.8v16M1105.1 470.8v16M1143.3 470.8v16M1181.5 470.8v16" stroke="#000" stroke-width="2.1" fill="none"/>
<path d="M950.6 476.1C951.3 475.7 953.5 473.8 955 473.7C956.6 473.7 958.4 474.7 960 475.7C961.7 476.8 963.5 479.1 965 480.2C966.5 481.2 967.7 481.7 969 482.2C970.4 482.7 971.7 483.3 973.1 483.2C974.4 483 975.6 481.8 977.1 481.2C978.6 480.5 980.4 479.7 982.1 479.2C983.7 478.6 985.6 478.6 987.1 478.1C988.6 477.6 989.8 476.5 991.1 476.1C992.4 475.7 993.8 475.7 995.1 475.7C996.4 475.8 997.8 475.1 999.1 476.5C1000.4 477.9 1001.8 482.2 1003.1 484.2C1004.5 486.1 1005.8 487.6 1007.1 488.2C1008.5 488.8 1009.8 488.4 1011.1 487.8C1012.5 487.1 1013.8 485.4 1015.1 484.2C1016.5 482.9 1017.8 482.2 1019.1 480.2C1020.5 478.1 1021.9 475.1 1023.2 472.1C1024.4 469.1 1025.6 464.7 1026.8 462.1C1027.9 459.5 1029.1 457 1030.2 456.5C1031.2 456 1032 457.7 1033.2 459.1C1034.3 460.5 1035.8 463.3 1037.2 465.1C1038.5 467 1039.9 469 1041.2 470.1C1042.5 471.3 1043.9 472 1045.2 472.1C1046.5 472.3 1047.9 470.8 1049.2 471.1C1050.5 471.5 1052 472.9 1053.2 474.1C1054.4 475.4 1055.1 478.2 1056.2 478.5C1057.4 478.9 1058.9 476.9 1060.2 476.1C1061.6 475.4 1062.9 473.8 1064.2 474.1C1065.6 474.5 1066.9 478.1 1068.2 478.1C1069.6 478.1 1070.9 475.8 1072.3 474.1C1073.6 472.5 1074.9 469.8 1076.3 468.1C1077.6 466.5 1078.9 465.1 1080.3 464.1C1081.6 463.1 1082.8 462.5 1084.3 462.1C1085.8 461.8 1087.8 462.6 1089.3 462.1C1090.8 461.6 1092 460.4 1093.3 459.1C1094.6 457.8 1096 455.3 1097.3 454.1C1098.6 452.9 1100 451.7 1101.3 451.7C1102.6 451.7 1104.2 453 1105.3 454.1C1106.5 455.2 1107.2 456.8 1108.3 458.1C1109.5 459.4 1111.2 461.8 1112.3 462.1C1113.5 462.5 1114.3 461.8 1115.3 460.1C1116.3 458.4 1117.2 454.9 1118.3 452.1C1119.5 449.3 1121 445.1 1122.4 443.1C1123.7 441.1 1125 440.1 1126.4 440.1C1127.7 440.1 1129.2 442.2 1130.4 443.1C1131.5 443.9 1132.2 445.9 1133.4 445.1C1134.5 444.2 1136 440.2 1137.4 438.1C1138.7 435.9 1140.1 433.7 1141.4 432.1C1142.7 430.5 1144.1 428.8 1145.4 428.4C1146.7 428.1 1148.1 429.3 1149.4 430.1C1150.7 430.8 1152.1 432.7 1153.4 433.1C1154.8 433.4 1156.1 432 1157.4 432.1C1158.8 432.2 1160.1 432.8 1161.4 433.7C1162.8 434.5 1164.1 435.7 1165.4 437.1C1166.8 438.5 1168.1 440.9 1169.4 442.1C1170.8 443.2 1172.1 444.1 1173.5 444.1C1174.8 444.1 1176.1 442.2 1177.5 442.1C1178.8 441.9 1180.1 442.6 1181.5 443.1C1182.8 443.6 1184.1 444.7 1185.5 445.1C1186.8 445.4 1188.2 445.2 1189.5 445.1C1190.8 444.9 1192.2 444.1 1193.5 444.1C1194.8 444.1 1196.2 444.7 1197.5 445.1C1198.8 445.5 1200.2 446.1 1201.5 446.5C1202.8 446.9 1204.2 447.6 1205.5 447.7C1206.9 447.8 1208 447 1209.5 447.1C1211 447.2 1212.9 447.8 1214.5 448.1C1216.2 448.4 1218.7 448.9 1219.5 449.1" stroke="#000" stroke-width="4" fill="none" stroke-linejoin="round" stroke-linecap="round"/>
<path d="M950.6 471.1C951.3 471.5 953.5 472.3 955 473.1C956.6 474 958.4 475.3 960 476.1C961.7 477 963.5 477 965 478.1C966.5 479.3 967.7 481.8 969 483.2C970.4 484.6 971.7 486.6 973.1 486.6C974.4 486.6 975.7 484.6 977.1 483.2C978.4 481.8 979.7 479.3 981.1 478.1C982.4 477 983.6 476.5 985.1 476.1C986.6 475.8 988.4 476.3 990.1 476.1C991.8 476 993.6 475.3 995.1 475.1C996.6 475 997.9 474.5 999.1 475.1C1000.3 475.8 1001.1 477.5 1002.1 479.2C1003.1 480.8 1004 483.5 1005.1 485.2C1006.3 486.8 1007.8 489 1009.1 489.2C1010.5 489.3 1011.8 488.3 1013.1 486.2C1014.5 484 1015.8 479.5 1017.1 476.1C1018.5 472.8 1019.8 468.8 1021.2 466.1C1022.5 463.5 1023.8 461.9 1025.2 460.1C1026.5 458.3 1027.8 455.4 1029.2 455.1C1030.5 454.8 1031.8 456.6 1033.2 458.1C1034.5 459.6 1035.8 462.1 1037.2 464.1C1038.5 466.1 1039.9 467.8 1041.2 470.1C1042.5 472.5 1043.9 475.1 1045.2 478.1C1046.5 481.2 1047.9 485.8 1049.2 488.2C1050.5 490.5 1051.9 491.8 1053.2 492.2C1054.6 492.6 1055.9 490.6 1057.2 490.6C1058.6 490.6 1059.9 491.7 1061.2 492.2C1062.6 492.6 1063.9 492.2 1065.2 493.2C1066.6 494.2 1067.9 497.9 1069.2 498.2C1070.6 498.5 1071.9 497.4 1073.3 495.2C1074.6 493 1075.9 488.3 1077.3 485.2C1078.6 482 1079.9 477.9 1081.3 476.1C1082.6 474.4 1083.9 474.8 1085.3 474.5C1086.6 474.3 1088 474.8 1089.3 474.5C1090.6 474.3 1092 474.2 1093.3 473.1C1094.6 472.1 1096 469.3 1097.3 468.1C1098.6 467 1100 466.5 1101.3 466.1C1102.6 465.7 1104 465.6 1105.3 465.7C1106.7 465.9 1108 466.6 1109.3 467.1C1110.7 467.7 1112 469.6 1113.3 469.1C1114.7 468.6 1116 466.5 1117.3 464.1C1118.7 461.8 1120 458.3 1121.4 455.1C1122.7 451.9 1124.2 447.2 1125.4 445.1C1126.5 443 1127.4 442.3 1128.4 442.5C1129.4 442.6 1130.2 444.9 1131.4 446.1C1132.5 447.3 1134 450.5 1135.4 449.7C1136.7 448.9 1138.2 443.8 1139.4 441.1C1140.6 438.3 1141.4 434.7 1142.4 433.1C1143.4 431.4 1144.2 430.9 1145.4 431.1C1146.6 431.2 1148.1 432.9 1149.4 434.1C1150.7 435.2 1152.2 437.1 1153.4 438.1C1154.6 439.1 1155.3 440.1 1156.4 440.1C1157.6 440.1 1159.1 438.1 1160.4 438.1C1161.8 438 1163.1 439.2 1164.4 439.7C1165.8 440.2 1167.1 440.6 1168.4 441.1C1169.8 441.5 1171 443 1172.5 442.5C1174 441.9 1176 438.1 1177.5 437.7C1179 437.2 1180.1 439.3 1181.5 439.7C1182.8 440.1 1184 439.8 1185.5 440.1C1187 440.3 1188.8 440.7 1190.5 441.1C1192.2 441.4 1193.8 441.7 1195.5 442.1C1197.2 442.4 1198.8 442.7 1200.5 443.1C1202.2 443.4 1204 443.7 1205.5 444.1C1207 444.4 1208.2 444.1 1209.5 445.1C1210.9 446.1 1211.9 448.7 1213.5 450.1C1215.2 451.5 1218.5 453.1 1219.5 453.7" stroke="#E7A324" stroke-width="4" fill="none" stroke-linejoin="round" stroke-linecap="round"/>
<text x="1274.5" y="391.9" font-size="23.5" text-anchor="middle" class="t">T8</text>
<path d="M1241.2 478.8H1507.5" stroke="#000" stroke-width="3.7" fill="none" stroke-linecap="round"/>
<path d="M1278.7 431.4V525.4" stroke="#000" stroke-width="3.7" fill="none" stroke-linecap="round"/>
<path d="M1316.9 470.8v16M1355.1 470.8v16M1393.3 470.8v16M1431.5 470.8v16M1469.7 470.8v16" stroke="#000" stroke-width="2.1" fill="none"/>
<path d="M1239.6 479.8C1240.4 479.8 1242.5 480.2 1244.1 480.2C1245.6 480.2 1247.6 479.7 1249.1 479.8C1250.6 479.8 1251.7 480.4 1253.1 480.6C1254.4 480.7 1255.7 480.9 1257.1 480.6C1258.4 480.2 1259.6 479.5 1261.1 478.5C1262.6 477.6 1264.4 475.6 1266.1 475.1C1267.8 474.7 1269.4 475.4 1271.1 475.7C1272.8 476.1 1274.6 477 1276.1 477.1C1277.6 477.3 1278.8 476.7 1280.1 476.5C1281.5 476.4 1282.8 475.8 1284.1 476.1C1285.5 476.5 1286.8 477.4 1288.1 478.5C1289.5 479.7 1290.8 481.6 1292.1 483.2C1293.5 484.8 1294.8 486.8 1296.2 488.2C1297.5 489.5 1298.8 490.1 1300.2 491.2C1301.5 492.2 1302.8 493.4 1304.2 494.6C1305.5 495.8 1306.8 498.1 1308.2 498.2C1309.5 498.3 1310.9 496 1312.2 495.2C1313.5 494.3 1314.7 493.7 1316.2 493.2C1317.7 492.6 1319.7 491.6 1321.2 491.8C1322.7 491.9 1323.9 493.3 1325.2 494.2C1326.5 495.1 1327.9 495.9 1329.2 497.2C1330.6 498.5 1331.9 500 1333.2 501.8C1334.6 503.6 1335.9 506.2 1337.2 508.2C1338.6 510.2 1339.9 512.5 1341.2 513.8C1342.6 515.2 1343.9 516 1345.3 516.2C1346.6 516.5 1347.9 515.6 1349.3 515.2C1350.6 514.9 1351.9 514.7 1353.3 514.2C1354.6 513.7 1355.9 512.3 1357.3 512.2C1358.6 512.1 1359.9 513.7 1361.3 513.8C1362.6 514 1364 513.7 1365.3 513.2C1366.6 512.8 1368 512 1369.3 511.2C1370.6 510.4 1372 509.4 1373.3 508.2C1374.6 507 1376 504.7 1377.3 504.2C1378.7 503.7 1380 505.2 1381.3 505.2C1382.7 505.2 1384 504.5 1385.3 504.2C1386.7 503.9 1388 503.5 1389.3 503.2C1390.7 502.9 1392 502.3 1393.3 502.6C1394.7 502.9 1396.2 505.3 1397.4 505.2C1398.5 505.1 1399.2 503.7 1400.4 502.2C1401.5 500.7 1403 497.6 1404.4 496.2C1405.7 494.8 1407 493.9 1408.4 493.8C1409.7 493.6 1411.1 494.4 1412.4 495.2C1413.7 495.9 1415.1 497.1 1416.4 498.2C1417.7 499.3 1419.2 501.1 1420.4 501.8C1421.6 502.5 1422.2 503.2 1423.4 502.6C1424.6 502 1426.1 499.3 1427.4 498.2C1428.8 497.1 1430.1 496.3 1431.4 495.8C1432.8 495.3 1434.1 495.6 1435.4 495.2C1436.8 494.7 1438.1 493.9 1439.4 493.2C1440.8 492.4 1442.1 491.2 1443.4 490.6C1444.8 489.9 1446 489.4 1447.5 489.2C1449 488.9 1450.8 489.5 1452.5 489.2C1454.1 488.8 1456 487.9 1457.5 487.2C1459 486.4 1460.1 485.5 1461.5 484.6C1462.8 483.7 1464.2 482.6 1465.5 481.8C1466.8 481 1468.2 480.5 1469.5 479.8C1470.8 479 1472.2 477.8 1473.5 477.1C1474.8 476.5 1476.2 476.1 1477.5 475.7C1478.9 475.4 1480 475.1 1481.5 475.1C1483 475.1 1485 475.4 1486.5 475.7C1488 476.1 1489.2 477.1 1490.5 477.1C1491.9 477.1 1493.2 476.3 1494.6 475.7C1495.9 475.2 1497.1 474.2 1498.6 473.7C1500.1 473.3 1502.1 473.2 1503.6 473.1C1505.1 473 1506.9 473.1 1507.6 473.1" stroke="#000" stroke-width="4" fill="none" stroke-linejoin="round" stroke-linecap="round"/>
<path d="M1239.6 487.8C1240.4 487.2 1242.5 485.3 1244.1 484.2C1245.6 483.1 1247.6 482.2 1249.1 481.2C1250.6 480.2 1251.7 479.1 1253.1 478.1C1254.4 477.2 1255.6 476.1 1257.1 475.7C1258.6 475.4 1260.4 476.1 1262.1 476.1C1263.8 476.1 1265.4 475.7 1267.1 475.7C1268.8 475.7 1270.6 475.8 1272.1 476.1C1273.6 476.5 1274.6 477.1 1276.1 477.7C1277.6 478.4 1279.6 479.5 1281.1 480.2C1282.6 480.8 1283.8 481.4 1285.1 481.8C1286.5 482.2 1287.8 482.3 1289.1 482.6C1290.5 482.8 1291.6 482.9 1293.1 483.2C1294.7 483.4 1296.7 483.9 1298.2 484.2C1299.7 484.4 1300.7 484.4 1302.2 484.6C1303.7 484.7 1305.7 485.2 1307.2 485.2C1308.7 485.2 1309.8 484.8 1311.2 484.6C1312.5 484.3 1313.7 483.9 1315.2 483.8C1316.7 483.6 1318.5 483.7 1320.2 483.8C1321.9 483.8 1323.5 484 1325.2 484.2C1326.9 484.3 1328.7 484 1330.2 484.6C1331.7 485.2 1333.1 486 1334.2 487.8C1335.4 489.5 1336.2 492.8 1337.2 495.2C1338.2 497.6 1339.2 500.5 1340.2 502.2C1341.2 503.9 1342.1 505.4 1343.2 505.2C1344.4 505 1345.9 502 1347.3 501.2C1348.6 500.4 1349.9 500.1 1351.3 500.2C1352.6 500.3 1353.9 501.3 1355.3 501.8C1356.6 502.3 1357.9 502.7 1359.3 503.2C1360.6 503.7 1362 504.1 1363.3 504.6C1364.6 505.1 1366 506 1367.3 506.2C1368.6 506.4 1370 505.8 1371.3 505.8C1372.6 505.8 1374 506.3 1375.3 506.2C1376.6 506.1 1378 505.8 1379.3 505.2C1380.7 504.6 1381.8 503.4 1383.3 502.6C1384.8 501.8 1386.7 501.1 1388.3 500.6C1390 500.1 1391.8 500.2 1393.3 499.8C1394.9 499.4 1396 498.7 1397.4 498.2C1398.7 497.7 1400 497.1 1401.4 496.6C1402.7 496.1 1404 495.4 1405.4 495.2C1406.7 494.9 1408 494.7 1409.4 495.2C1410.7 495.7 1412.1 496.9 1413.4 498.2C1414.7 499.5 1416.1 501.6 1417.4 503.2C1418.7 504.8 1420.2 506.8 1421.4 507.8C1422.6 508.8 1423.4 509.6 1424.4 509.2C1425.4 508.8 1426.2 506.7 1427.4 505.2C1428.6 503.7 1430.1 501.5 1431.4 500.2C1432.8 498.9 1434.1 498 1435.4 497.2C1436.8 496.4 1438.1 495.7 1439.4 495.2C1440.8 494.7 1442.1 494.7 1443.4 494.2C1444.8 493.7 1446.1 492 1447.5 492.2C1448.8 492.3 1450.1 494.6 1451.5 495.2C1452.8 495.8 1454.1 495.8 1455.5 495.8C1456.8 495.8 1458.3 495.6 1459.5 495.2C1460.6 494.7 1461.2 494 1462.5 493.2C1463.8 492.3 1465.8 491 1467.5 490.2C1469.2 489.3 1470.8 488.7 1472.5 488.2C1474.2 487.7 1475.8 487.7 1477.5 487.2C1479.2 486.7 1480.9 485.8 1482.5 485.2C1484.2 484.5 1485.9 483.8 1487.5 483.2C1489.2 482.5 1490.9 481.8 1492.5 481.2C1494.2 480.5 1496.1 479.2 1497.6 479.2C1499.1 479.2 1499.9 481.2 1501.6 481.2C1503.2 481.2 1506.6 479.5 1507.6 479.2" stroke="#E7A324" stroke-width="4" fill="none" stroke-linejoin="round" stroke-linecap="round"/>
<text x="121.7" y="569.8" font-size="23.5" text-anchor="middle" class="t">P7</text>
<path d="M88.4 656.7H354.7" stroke="#000" stroke-width="3.7" fill="none" stroke-linecap="round"/>
<path d="M125.9 609.3V703.3" stroke="#000" stroke-width="3.7" fill="none" stroke-linecap="round"/>
<path d="M164.1 648.7v16M202.3 648.7v16M240.5 648.7v16M278.7 648.7v16M316.9 648.7v16" stroke="#000" stroke-width="2.1" fill="none"/>
<path d="M86.6 657.8C87.3 657.7 89.6 658.3 91 657.2C92.4 656 93.5 652.5 95 651.1C96.5 649.8 98.5 648.8 100 649.1C101.5 649.5 102.7 651.5 104 653.1C105.4 654.8 106.7 657.5 108.1 659.2C109.4 660.8 110.7 662.8 112.1 663.2C113.4 663.5 114.7 661.8 116.1 661.2C117.4 660.5 118.7 659.3 120.1 659.2C121.4 659.1 122.8 659.7 124.1 660.6C125.4 661.4 126.8 663.1 128.1 664.2C129.4 665.3 130.8 667 132.1 667.2C133.4 667.3 134.8 667.5 136.1 665.2C137.4 662.8 138.9 656.3 140.1 653.1C141.3 650 142.1 646.5 143.1 646.1C144.1 645.8 145.1 646.8 146.1 651.1C147.1 655.5 148.1 665 149.1 672.2C150.1 679.4 151 687.9 152.1 694.2C153.3 700.6 154.8 704.9 156.2 710.3C157.5 715.6 159 721.3 160.2 726.3C161.3 731.3 162.2 737.2 163.2 740.3C164.2 743.4 165.2 744.7 166.2 744.7C167.2 744.7 168 744.1 169.2 740.3C170.3 736.6 171.8 728 173.2 722.3C174.5 716.6 175.9 710.9 177.2 706.2C178.5 701.6 179.9 697.6 181.2 694.2C182.5 690.9 183.7 688.9 185.2 686.2C186.7 683.5 188.5 680.9 190.2 678.2C191.9 675.5 193.7 671 195.2 670.2C196.7 669.3 197.9 672.5 199.2 673.2C200.6 673.9 201.9 673.4 203.2 674.2C204.6 675 205.9 676.6 207.3 677.8C208.6 679 209.9 680.5 211.3 681.2C212.6 681.9 213.9 682.1 215.3 682.2C216.6 682.3 217.9 682.5 219.3 681.8C220.6 681.1 221.9 678.6 223.3 678.2C224.6 677.8 226 679.2 227.3 679.2C228.6 679.2 230 679.2 231.3 678.2C232.6 677.2 234 675.2 235.3 673.2C236.6 671.2 238.1 668.5 239.3 666.2C240.5 663.8 241.5 660.8 242.3 659.2C243.2 657.5 243.5 656 244.3 656.1C245.2 656.3 246.2 657.7 247.3 660.2C248.5 662.7 250 667.5 251.3 671.2C252.7 674.9 254 679.6 255.3 682.2C256.7 684.8 258.2 685.8 259.4 686.6C260.5 687.4 261.4 687.9 262.4 687.2C263.4 686.5 264.4 683.9 265.4 682.2C266.4 680.5 267.2 677.7 268.4 677.2C269.5 676.7 271 678.2 272.4 679.2C273.7 680.2 275.1 682.3 276.4 683.2C277.7 684.1 279.1 684.5 280.4 684.6C281.7 684.7 283.1 684.7 284.4 683.8C285.7 682.9 287.1 680.2 288.4 679.2C289.8 678.2 291.1 678.3 292.4 677.8C293.8 677.3 295.1 676.8 296.4 676.2C297.8 675.6 299.1 674.9 300.4 674.2C301.8 673.5 303.1 672 304.4 672.2C305.8 672.3 307.1 674 308.5 675.2C309.8 676.4 311.1 678.1 312.5 679.2C313.8 680.3 315 681.5 316.5 681.8C318 682.1 319.8 681.4 321.5 681.2C323.2 681 324.8 680.6 326.5 680.6C328.2 680.6 329.8 681.3 331.5 681.2C333.2 681.1 334.8 680.4 336.5 680.2C338.2 680 339.9 679.9 341.5 679.8C343.2 679.7 344.9 679.8 346.5 679.8C348.2 679.8 350 679.9 351.5 679.8C353 679.7 354.9 679.3 355.5 679.2" stroke="#000" stroke-width="4" fill="none" stroke-linejoin="round" stroke-linecap="round"/>
<path d="M86.6 651.1C87.3 651.6 89.6 653.5 91 654.1C92.4 654.8 93.5 655.3 95 655.1C96.5 655 98.5 653.5 100 653.1C101.5 652.8 102.7 653.1 104 653.1C105.4 653.1 106.7 652.1 108.1 653.1C109.4 654.1 110.7 657.9 112.1 659.2C113.4 660.4 114.7 660.2 116.1 660.6C117.4 660.9 118.7 660.4 120.1 661.2C121.4 661.9 122.8 663.7 124.1 665.2C125.4 666.7 126.8 669.1 128.1 670.2C129.4 671.3 130.8 672.1 132.1 671.8C133.4 671.4 134.9 670.6 136.1 668.2C137.3 665.7 138.1 660.8 139.1 657.2C140.1 653.5 141.2 647.8 142.1 646.1C143.1 644.5 143.9 645.1 144.7 647.1C145.6 649.1 146.2 653 147.1 658.2C148 663.3 149.1 671.8 150.1 678.2C151.1 684.5 152 691.2 153.1 696.2C154.3 701.2 156 704.2 157.2 708.3C158.3 712.3 159.2 716.3 160.2 720.3C161.2 724.3 162.3 729.7 163.2 732.3C164.1 734.9 164.6 736.2 165.6 735.9C166.5 735.6 167.7 733.6 168.8 730.3C169.9 727 170.9 721.3 172.2 716.3C173.4 711.3 174.9 705.2 176.2 700.2C177.5 695.2 178.9 690.2 180.2 686.2C181.5 682.2 182.7 678.9 184.2 676.2C185.7 673.5 187.5 671.8 189.2 670.2C190.9 668.5 192.7 667 194.2 666.2C195.7 665.3 196.7 665.2 198.2 665.2C199.7 665.2 201.6 665.7 203.2 666.2C204.9 666.7 206.8 667.4 208.3 668.2C209.8 668.9 210.9 670.6 212.3 670.6C213.6 670.6 214.9 669.2 216.3 668.2C217.6 667.1 218.9 665.2 220.3 664.2C221.6 663.1 223 662.4 224.3 661.8C225.6 661.2 227 660.8 228.3 660.6C229.6 660.3 231 661.1 232.3 660.2C233.6 659.3 235 657.8 236.3 655.1C237.6 652.5 239.1 646.6 240.3 644.1C241.5 641.6 242.3 640.6 243.3 640.1C244.3 639.6 245.2 639.8 246.3 641.1C247.5 642.5 249 645.6 250.3 648.1C251.7 650.6 253 653.5 254.3 656.1C255.7 658.8 257 662.3 258.4 664.2C259.7 666 261.2 667.8 262.4 667.2C263.5 666.5 264.4 663 265.4 660.2C266.4 657.3 267.4 651.6 268.4 650.1C269.4 648.6 270.4 649.5 271.4 651.1C272.4 652.8 273.2 658 274.4 660.2C275.6 662.3 277.1 663.8 278.4 664.2C279.7 664.6 281.1 663.2 282.4 662.6C283.7 662 285.1 661.5 286.4 660.6C287.7 659.7 289.1 658.2 290.4 657.2C291.8 656.1 293.1 655.1 294.4 654.5C295.8 654 297.1 653.4 298.4 653.7C299.8 654.1 301.1 655.1 302.4 656.5C303.8 658 305.1 660.4 306.5 662.2C307.8 663.9 309.1 666 310.5 667.2C311.8 668.3 313.1 668.7 314.5 669.2C315.8 669.6 317.1 669.4 318.5 669.8C319.8 670.1 321.1 671.1 322.5 671.2C323.8 671.2 325.2 670.1 326.5 670.2C327.8 670.3 329.2 671.3 330.5 671.8C331.8 672.3 333 672.7 334.5 673.2C336 673.6 338 674.4 339.5 674.6C341 674.8 342.2 674.8 343.5 674.6C344.9 674.4 346.2 673.6 347.5 673.2C348.9 672.7 350.2 672.2 351.5 671.8C352.9 671.3 354.9 670.8 355.5 670.6" stroke="#E7A324" stroke-width="4" fill="none" stroke-linejoin="round" stroke-linecap="round"/>
<text x="409.9" y="569.8" font-size="23.5" text-anchor="middle" class="t">PO3</text>
<path d="M376.6 656.7H642.9" stroke="#000" stroke-width="3.7" fill="none" stroke-linecap="round"/>
<path d="M414.1 609.3V703.3" stroke="#000" stroke-width="3.7" fill="none" stroke-linecap="round"/>
<path d="M452.3 648.7v16M490.5 648.7v16M528.7 648.7v16M566.9 648.7v16M605.1 648.7v16" stroke="#000" stroke-width="2.1" fill="none"/>
<path d="M374.6 643.1C375.3 643.3 377.5 643.8 379 644.1C380.6 644.5 382.5 644.6 384 645.1C385.5 645.6 386.7 645.3 388 647.1C389.4 649 390.7 653 392 656.1C393.4 659.3 394.9 663.8 396.1 666.2C397.2 668.5 398.1 670 399.1 670.2C400.1 670.3 400.9 668.3 402.1 667.2C403.2 666 404.7 663.7 406.1 663.2C407.4 662.7 408.7 663.5 410.1 664.2C411.4 664.8 412.8 666.7 414.1 667.2C415.4 667.7 416.8 667.5 418.1 667.2C419.4 666.8 420.8 666.5 422.1 665.2C423.4 663.8 424.9 662.3 426.1 659.2C427.3 656 428.1 650.6 429.1 646.1C430.1 641.6 431.2 635.5 432.1 632.1C433.1 628.7 433.8 626 434.7 625.7C435.6 625.4 436.5 626.7 437.5 630.1C438.5 633.5 439.6 640.1 440.7 646.1C441.8 652.1 443.1 659.8 444.2 666.2C445.2 672.5 446.2 679.2 447.2 684.2C448.2 689.2 449.2 693.6 450.2 696.2C451.1 698.9 451.9 700.4 452.8 700.2C453.7 700.1 454.5 699.2 455.6 695.2C456.6 691.2 458.1 682.4 459.2 676.2C460.3 670 461.2 662.5 462.2 658.2C463.2 653.8 464 652.1 465.2 650.1C466.4 648.1 468 648 469.2 646.1C470.4 644.3 471.2 641.6 472.2 639.1C473.2 636.6 474.2 632.4 475.2 631.1C476.2 629.8 477.2 630.1 478.2 631.1C479.2 632.1 480.1 635.1 481.2 637.1C482.4 639.1 483.9 641 485.2 643.1C486.6 645.3 488 648 489.2 650.1C490.5 652.3 491.7 655.5 492.8 656.1C494 656.8 495.2 655.3 496.3 654.1C497.3 653 498.3 650.6 499.3 649.1C500.3 647.6 501.1 646.3 502.3 645.1C503.4 644 504.9 643.6 506.3 642.1C507.6 640.6 508.9 637.9 510.3 636.1C511.6 634.3 513 632.4 514.3 631.1C515.6 629.8 517 629.4 518.3 628.1C519.6 626.8 521 625.9 522.3 623.1C523.6 620.2 525.1 615.2 526.3 611.1C527.5 606.9 528.3 601.2 529.3 598C530.3 594.9 531.3 592.7 532.3 592C533.3 591.4 534.3 591.7 535.3 594C536.3 596.4 537.3 601.9 538.3 606C539.3 610.2 540.3 615.9 541.3 619.1C542.3 622.2 543.2 623.8 544.4 625.1C545.5 626.4 547 626.4 548.4 627.1C549.7 627.8 551 628.7 552.4 629.1C553.7 629.5 555 629 556.4 629.7C557.7 630.4 559 631.9 560.4 633.1C561.7 634.3 563.2 636.3 564.4 637.1C565.6 637.9 566.2 638.4 567.4 637.7C568.6 637 570.1 634 571.4 633.1C572.7 632.2 574.1 632.3 575.4 632.1C576.7 631.9 578.1 632.3 579.4 632.1C580.8 631.9 582.1 631.4 583.4 631.1C584.8 630.8 585.9 630.5 587.4 630.1C588.9 629.7 590.9 628.2 592.4 628.5C593.9 628.8 595.1 631 596.5 632.1C597.8 633.2 599 633.9 600.5 635.1C602 636.3 603.8 638.1 605.5 639.1C607.1 640.1 608.8 640.4 610.5 641.1C612.2 641.9 613.8 643 615.5 643.7C617.2 644.5 619 645.6 620.5 645.7C622 645.9 623.2 644.5 624.5 644.5C625.8 644.6 627 645.8 628.5 646.1C630 646.5 631.9 646 633.5 646.5C635.2 647 636.9 648.2 638.5 649.1C640.2 650.1 642.7 651.6 643.5 652.1" stroke="#000" stroke-width="4" fill="none" stroke-linejoin="round" stroke-linecap="round"/>
<path d="M374.6 639.1C375.3 639.6 377.5 640.6 379 642.1C380.6 643.6 382.5 646.1 384 648.1C385.5 650.1 386.7 652.3 388 654.1C389.4 656 390.7 657.5 392 659.2C393.4 660.8 394.9 662.8 396.1 664.2C397.2 665.5 397.9 666.9 399.1 667.2C400.2 667.4 401.7 666.4 403.1 665.8C404.4 665.1 405.7 663.3 407.1 663.2C408.4 663.1 409.7 664.8 411.1 665.2C412.4 665.5 413.8 665.8 415.1 665.2C416.4 664.5 417.8 662.7 419.1 661.2C420.4 659.7 421.8 658.7 423.1 656.1C424.4 653.6 425.9 649.8 427.1 646.1C428.3 642.5 429.1 637.3 430.1 634.1C431.1 630.9 432.1 627.9 433.1 627.1C434.1 626.3 435.1 626.6 436.1 629.1C437.1 631.6 438.1 637.3 439.1 642.1C440.1 647 441.1 652.8 442.1 658.2C443.1 663.5 444.2 669.5 445.2 674.2C446.2 678.9 447.2 683 448.2 686.2C449.2 689.4 450.2 692.3 451.2 693.2C452.2 694.2 453.2 694 454.2 691.8C455.2 689.6 456.2 684.5 457.2 680.2C458.2 675.9 459.2 670.2 460.2 666.2C461.2 662.2 462 658.7 463.2 656.1C464.4 653.6 465.9 653.1 467.2 651.1C468.5 649.1 470 646.1 471.2 644.1C472.4 642.1 473.2 639.4 474.2 639.1C475.2 638.8 476.2 640.1 477.2 642.1C478.2 644.1 479.2 648.1 480.2 651.1C481.2 654.1 482.1 657.8 483.2 660.2C484.4 662.5 485.9 663.7 487.2 665.2C488.6 666.7 489.9 667.8 491.2 669.2C492.6 670.5 494 673 495.3 673.2C496.5 673.3 497.7 672 498.9 670.2C500 668.3 501 665 502.3 662.2C503.5 659.3 504.9 655.6 506.3 653.1C507.6 650.6 508.9 649.1 510.3 647.1C511.6 645.1 513 642.8 514.3 641.1C515.6 639.4 517 638.9 518.3 637.1C519.6 635.3 521 633.3 522.3 630.1C523.6 626.9 525.1 622.4 526.3 618.1C527.5 613.7 528.3 608 529.3 604C530.3 600.1 531.3 595.7 532.3 594.4C533.3 593.2 534.3 594.7 535.3 596.4C536.3 598.2 537.2 601.8 538.3 605C539.5 608.3 541 613.4 542.3 616.1C543.7 618.7 545 620.1 546.4 621.1C547.7 622.1 549 622.9 550.4 622.1C551.7 621.2 553 617.4 554.4 616.1C555.7 614.7 557.2 613.6 558.4 614.1C559.5 614.6 560.2 617.2 561.4 619.1C562.6 620.9 564.1 623.6 565.4 625.1C566.7 626.6 568.1 628.1 569.4 628.1C570.7 628.1 572.1 625.4 573.4 625.1C574.7 624.8 576.1 626.1 577.4 626.1C578.8 626.1 580.3 625.8 581.4 625.1C582.6 624.4 583.4 623.2 584.4 622.1C585.4 620.9 586.3 618.6 587.4 618.1C588.6 617.6 590.1 618.6 591.4 619.1C592.8 619.6 594.1 620.2 595.5 621.1C596.8 621.9 598.1 623.2 599.5 624.1C600.8 624.9 602.1 625.6 603.5 626.1C604.8 626.6 606 626.8 607.5 627.1C609 627.4 610.8 627.9 612.5 628.1C614.2 628.3 616.2 628.2 617.5 628.5C618.8 628.8 619.3 628.8 620.5 630.1C621.7 631.4 623.2 634.3 624.5 636.1C625.8 637.9 627.2 639.9 628.5 641.1C629.9 642.3 630.9 643 632.5 643.1C634.2 643.3 636.7 642.1 638.5 642.1C640.4 642.1 642.7 643 643.5 643.1" stroke="#E7A324" stroke-width="4" fill="none" stroke-linejoin="round" stroke-linecap="round"/>
<text x="698.1" y="569.8" font-size="23.5" text-anchor="middle" class="t">Pz</text>
<path d="M664.8 656.7H931.1" stroke="#000" stroke-width="3.7" fill="none" stroke-linecap="round"/>
<path d="M702.3 609.3V703.3" stroke="#000" stroke-width="3.7" fill="none" stroke-linecap="round"/>
<path d="M740.5 648.7v16M778.7 648.7v16M816.9 648.7v16M855.1 648.7v16M893.3 648.7v16" stroke="#000" stroke-width="2.1" fill="none"/>
<path d="M662.6 647.1C663.3 647.5 665.5 648.5 667 649.1C668.6 649.8 670.4 650.3 672 651.1C673.7 652 675.5 652.8 677 654.1C678.5 655.5 679.5 657.5 681 659.2C682.6 660.8 684.6 663.3 686.1 664.2C687.6 665 688.7 664.4 690.1 664.2C691.4 663.9 692.7 663.2 694.1 662.6C695.4 662 696.7 661 698.1 660.6C699.4 660.2 700.8 660.2 702.1 660.2C703.4 660.1 704.8 660.2 706.1 660.2C707.4 660.1 708.8 659.9 710.1 659.8C711.4 659.6 712.9 660.3 714.1 659.2C715.3 658.1 716.1 656 717.1 653.1C718.1 650.3 719.1 645.4 720.1 642.1C721.1 638.9 722.1 635.5 723.1 633.7C724.1 631.9 725.1 630.9 726.1 631.1C727.1 631.3 728 632.9 729.1 635.1C730.3 637.3 731.8 641.3 733.2 644.1C734.5 647 736 650.6 737.2 652.1C738.3 653.6 739.2 653.6 740.2 653.1C741.2 652.6 742 651 743.2 649.1C744.3 647.3 745.8 643.6 747.2 642.1C748.5 640.6 749.9 640.4 751.2 640.1C752.5 639.8 754 641.2 755.2 640.5C756.4 639.8 757.2 638 758.2 636.1C759.2 634.2 760 631.1 761.2 629.1C762.4 627.1 763.9 624.7 765.2 624.1C766.6 623.5 767.9 626 769.2 625.7C770.6 625.4 771.9 623.3 773.2 622.1C774.6 620.9 775.9 618.8 777.2 618.5C778.6 618.1 779.9 620.3 781.2 620.1C782.6 619.8 783.9 618.6 785.3 617.1C786.6 615.6 787.9 613 789.3 611.1C790.6 609.2 791.9 606.9 793.3 605.6C794.6 604.4 795.9 604.6 797.3 603.6C798.6 602.7 800 601.3 801.3 600C802.6 598.8 804 597.2 805.3 596C806.6 594.9 808 594.2 809.3 593C810.6 591.9 812 590.2 813.3 589C814.6 587.8 816.2 586.1 817.3 585.6C818.5 585.1 819.2 585.1 820.3 586C821.5 586.9 823.2 589.6 824.3 591C825.5 592.4 826.2 594.8 827.3 594.4C828.5 594.1 830.1 590.4 831.3 589C832.6 587.6 833.8 585.8 835 586C836.1 586.2 837.5 588 838.4 590C839.3 592 839.5 595.4 840.4 598C841.2 600.7 842.4 604 843.4 606C844.4 608.1 845.4 609.7 846.4 610.1C847.4 610.4 848.4 609.1 849.4 608.1C850.4 607.1 851.4 605.2 852.4 604C853.4 602.9 854.2 601.4 855.4 601C856.6 600.7 858.1 601.5 859.4 602C860.7 602.5 862.1 603.6 863.4 604C864.7 604.4 866.1 604.7 867.4 604.4C868.8 604.2 870.1 602.8 871.4 602.4C872.8 602 874.1 601.8 875.4 602C876.8 602.2 878.1 603 879.4 603.6C880.8 604.2 882.1 604.9 883.5 605.6C884.8 606.4 886.1 607.8 887.5 608.1C888.8 608.3 890.1 606.7 891.5 607.1C892.8 607.4 894.1 608.7 895.5 610.1C896.8 611.4 898.1 613.8 899.5 615.1C900.8 616.3 902.2 617.2 903.5 617.7C904.8 618.1 906.2 618 907.5 617.7C908.8 617.3 910.2 615.6 911.5 615.7C912.8 615.7 914.2 617.2 915.5 618.1C916.9 619 918.2 620.1 919.5 621.1C920.9 622 922.2 622.9 923.5 623.7C924.9 624.5 926.2 625.1 927.5 625.7C928.9 626.3 930.9 626.9 931.5 627.1" stroke="#000" stroke-width="4" fill="none" stroke-linejoin="round" stroke-linecap="round"/>
<path d="M662.6 643.1C663.3 643.3 665.5 643 667 644.1C668.6 645.3 670.4 648 672 650.1C673.7 652.3 675.4 655.3 677 657.2C678.7 659 680.4 660.2 682.1 661.2C683.7 662.2 685.4 663.1 687.1 663.2C688.7 663.3 690.4 662.1 692.1 661.8C693.7 661.4 695.6 661.5 697.1 661.2C698.6 660.8 699.8 660.6 701.1 659.8C702.4 658.9 703.8 657.4 705.1 656.1C706.4 654.9 707.9 652.8 709.1 652.1C710.3 651.5 711.1 651.5 712.1 652.1C713.1 652.8 714.1 655.8 715.1 656.1C716.1 656.5 717.1 656.1 718.1 654.1C719.1 652.1 720.1 647.2 721.1 644.1C722.1 641.1 723.1 637.4 724.1 635.7C725.1 634 726.1 633.5 727.1 634.1C728.1 634.7 729.1 637.1 730.1 639.1C731.1 641.1 732.2 644 733.2 646.1C734.2 648.3 735.2 651 736.2 652.1C737.2 653.3 738.2 653.1 739.2 653.1C740.2 653.1 741 652.6 742.2 652.1C743.3 651.6 744.8 650.8 746.2 650.1C747.5 649.5 748.9 648.1 750.2 648.1C751.5 648.1 752.9 650.3 754.2 650.1C755.5 650 757 648.1 758.2 647.1C759.4 646.2 760.2 644.7 761.2 644.5C762.2 644.4 763.2 645 764.2 646.1C765.2 647.2 766.2 649.3 767.2 651.1C768.2 653 769.2 655.8 770.2 657.2C771.2 658.5 772.2 659.3 773.2 659.2C774.2 659 775.2 657.3 776.2 656.1C777.2 655 778.1 652.8 779.2 652.1C780.4 651.5 782.1 652.6 783.3 652.1C784.4 651.6 785.3 650.8 786.3 649.1C787.3 647.5 788.1 644.8 789.3 642.1C790.4 639.4 791.9 635.8 793.3 633.1C794.6 630.4 795.9 628.1 797.3 626.1C798.6 624.1 800 622.4 801.3 621.1C802.6 619.7 804 619.6 805.3 618.1C806.6 616.6 808 614.1 809.3 612.1C810.6 610 812 607.2 813.3 605.6C814.6 604.1 816 603.8 817.3 603C818.7 602.3 820 601.2 821.3 601C822.7 600.9 824 602 825.3 602C826.7 602 828.2 602.2 829.3 601C830.5 599.9 831.3 597 832.4 595C833.4 593 834.5 589.9 835.4 589C836.2 588.1 836.5 588.3 837.4 589.6C838.2 591 839.4 594.5 840.4 597C841.4 599.6 842.4 603.5 843.4 605C844.4 606.5 845.4 606.9 846.4 606C847.4 605.2 848.4 601.7 849.4 600C850.4 598.4 851.4 597 852.4 596C853.4 595.1 854.2 594.3 855.4 594.4C856.6 594.6 858.1 596.3 859.4 597C860.7 597.8 862.1 598.5 863.4 599C864.7 599.5 866.1 600.3 867.4 600C868.8 599.8 870.1 598.5 871.4 597.6C872.8 596.8 874.1 595.5 875.4 595C876.8 594.6 878.1 594.9 879.4 595C880.8 595.2 882.1 595.5 883.5 596C884.8 596.5 886.1 597.4 887.5 598C888.8 598.6 890.1 599.4 891.5 599.6C892.8 599.9 894.1 599.7 895.5 599.6C896.8 599.5 898.1 598.7 899.5 599C900.8 599.4 902.2 600.7 903.5 601.6C904.8 602.5 906.2 603.5 907.5 604.4C908.8 605.3 910.2 606.1 911.5 607.1C912.8 608 914.2 608.9 915.5 610.1C916.9 611.2 918.2 612.7 919.5 614.1C920.9 615.4 922.2 616.8 923.5 618.1C924.9 619.3 926.2 620.7 927.5 621.7C928.9 622.6 930.9 623.3 931.5 623.7" stroke="#E7A324" stroke-width="4" fill="none" stroke-linejoin="round" stroke-linecap="round"/>
<text x="986.3" y="569.8" font-size="23.5" text-anchor="middle" class="t">PO4</text>
<path d="M953 656.7H1219.3" stroke="#000" stroke-width="3.7" fill="none" stroke-linecap="round"/>
<path d="M990.5 609.3V703.3" stroke="#000" stroke-width="3.7" fill="none" stroke-linecap="round"/>
<path d="M1028.7 648.7v16M1066.9 648.7v16M1105.1 648.7v16M1143.3 648.7v16M1181.5 648.7v16" stroke="#000" stroke-width="2.1" fill="none"/>
<path d="M950.6 636.1C951.3 636.8 953.6 638.4 955 640.1C956.4 641.8 957.5 645 959 646.1C960.5 647.3 962.7 645.6 964 647.1C965.4 648.6 966 652 967 655.1C968 658.3 968.9 662.9 970.1 666.2C971.2 669.4 972.7 673.9 974.1 674.6C975.4 675.3 976.7 672.4 978.1 670.2C979.4 667.9 980.7 662.7 982.1 661.2C983.4 659.7 984.7 660.7 986.1 661.2C987.4 661.7 988.8 663.7 990.1 664.2C991.4 664.7 992.8 664.5 994.1 664.2C995.4 663.8 996.8 663.3 998.1 662.2C999.4 661 1000.9 660.5 1002.1 657.2C1003.3 653.8 1004.1 648.5 1005.1 642.1C1006.1 635.8 1007.2 624.9 1008.1 619.1C1009.1 613.2 1009.8 608.6 1010.7 607.1C1011.6 605.5 1012.5 606.9 1013.5 610.1C1014.5 613.2 1015.6 620.4 1016.7 626.1C1017.8 631.8 1019.1 638.9 1020.2 644.1C1021.2 649.3 1022.2 654.3 1023.2 657.2C1024.2 660 1025.2 661 1026.2 661.2C1027.2 661.3 1028.2 661 1029.2 658.2C1030.2 655.3 1031.2 648 1032.2 644.1C1033.2 640.3 1034 637.1 1035.2 635.1C1036.3 633.1 1037.9 632.6 1039.2 632.1C1040.5 631.6 1041.9 633.1 1043.2 632.1C1044.5 631.1 1045.9 627.9 1047.2 626.1C1048.5 624.3 1050 621.4 1051.2 621.1C1052.4 620.7 1053.2 622.4 1054.2 624.1C1055.2 625.8 1056.1 629.1 1057.2 631.1C1058.4 633.1 1059.9 634.4 1061.2 636.1C1062.6 637.8 1064.1 638.6 1065.2 641.1C1066.4 643.6 1067.2 647.8 1068.2 651.1C1069.2 654.5 1070.3 660 1071.3 661.2C1072.3 662.3 1073.3 660 1074.3 658.2C1075.3 656.3 1076.1 652.1 1077.3 650.1C1078.4 648.1 1079.9 647.5 1081.3 646.1C1082.6 644.8 1083.9 643.7 1085.3 642.1C1086.6 640.5 1088 638.2 1089.3 636.5C1090.6 634.8 1092 633.5 1093.3 632.1C1094.6 630.7 1096 629.8 1097.3 628.1C1098.6 626.4 1100.1 624.8 1101.3 622.1C1102.5 619.4 1103.3 615.7 1104.3 612.1C1105.3 608.4 1106.3 603.2 1107.3 600C1108.3 596.9 1109.3 592.9 1110.3 593C1111.3 593.2 1112.3 598.5 1113.3 601C1114.3 603.5 1115.2 606.2 1116.3 608.1C1117.5 609.9 1119 610.4 1120.4 612.1C1121.7 613.7 1123 616.2 1124.4 618.1C1125.7 619.9 1127 622.1 1128.4 623.1C1129.7 624.1 1131.2 624.3 1132.4 624.1C1133.5 623.9 1134.2 622.1 1135.4 622.1C1136.5 622.1 1138.1 623.6 1139.4 624.1C1140.7 624.6 1142.1 625.4 1143.4 625.1C1144.7 624.8 1146.1 623 1147.4 622.1C1148.7 621.2 1150.1 620.2 1151.4 619.7C1152.7 619.2 1154.1 619.5 1155.4 619.1C1156.8 618.6 1158.1 616.7 1159.4 617.1C1160.8 617.4 1162.1 620.2 1163.4 621.1C1164.8 621.9 1166.1 622.3 1167.4 622.1C1168.8 621.8 1170.1 619.8 1171.5 619.7C1172.8 619.5 1174.1 620.3 1175.5 621.1C1176.8 621.8 1178.1 622.8 1179.5 624.1C1180.8 625.3 1182.1 627.5 1183.5 628.5C1184.8 629.5 1186.1 630.6 1187.5 630.1C1188.8 629.6 1190.2 626 1191.5 625.7C1192.8 625.4 1194.2 627 1195.5 628.1C1196.8 629.2 1198.2 632 1199.5 632.5C1200.8 633 1202.2 631.3 1203.5 631.1C1204.9 630.9 1206.2 630.8 1207.5 631.1C1208.9 631.4 1210.2 632.5 1211.5 633.1C1212.9 633.7 1214.2 634.3 1215.5 634.5C1216.9 634.7 1218.9 634.5 1219.5 634.5" stroke="#000" stroke-width="4" fill="none" stroke-linejoin="round" stroke-linecap="round"/>
<path d="M950.6 635.7C951.3 636.3 953.6 637.4 955 639.1C956.4 640.9 957.7 644.1 959 646.1C960.4 648.1 961.7 649.3 963 651.1C964.4 653 965.7 654.6 967 657.2C968.4 659.7 969.9 664.2 971.1 666.2C972.2 668.2 972.9 669.5 974.1 669.2C975.2 668.8 976.7 665.7 978.1 664.2C979.4 662.7 980.7 660.7 982.1 660.2C983.4 659.7 984.7 660.9 986.1 661.2C987.4 661.4 988.8 661.9 990.1 661.8C991.4 661.6 992.8 660.9 994.1 660.2C995.4 659.4 996.8 659.2 998.1 657.2C999.4 655.1 1000.9 652.3 1002.1 648.1C1003.3 644 1004.1 637.8 1005.1 632.1C1006.1 626.4 1007.2 618.1 1008.1 614.1C1009.1 610 1009.8 608.2 1010.7 607.7C1011.6 607.2 1012.5 607.7 1013.5 611.1C1014.5 614.5 1015.6 622.2 1016.7 628.1C1017.8 633.9 1019.1 641.5 1020.2 646.1C1021.2 650.8 1022.2 654 1023.2 656.1C1024.2 658.3 1025.2 659.2 1026.2 659.2C1027.2 659.2 1028.2 658.3 1029.2 656.1C1030.2 654 1031.2 648.6 1032.2 646.1C1033.2 643.6 1034 642.3 1035.2 641.1C1036.3 639.9 1037.9 640 1039.2 639.1C1040.5 638.2 1041.9 637.2 1043.2 635.7C1044.5 634.2 1046 630.9 1047.2 630.1C1048.4 629.3 1049 629.8 1050.2 631.1C1051.4 632.4 1052.9 635.3 1054.2 638.1C1055.6 641 1056.9 645.6 1058.2 648.1C1059.6 650.6 1060.9 651.5 1062.2 653.1C1063.6 654.8 1065.1 655.3 1066.2 658.2C1067.4 661 1068.3 667.2 1069.2 670.2C1070.2 673.2 1070.7 676 1071.7 676.2C1072.6 676.4 1073.8 673.3 1074.9 671.2C1076 669 1077 665.7 1078.3 663.2C1079.5 660.7 1080.9 658.2 1082.3 656.1C1083.6 654.1 1084.9 653.1 1086.3 651.1C1087.6 649.1 1089 646.1 1090.3 644.1C1091.6 642.1 1093 641 1094.3 639.1C1095.6 637.3 1097 636.3 1098.3 633.1C1099.6 629.9 1101.1 624.6 1102.3 620.1C1103.5 615.6 1104.3 610.2 1105.3 606C1106.3 601.9 1107.3 597.4 1108.3 595C1109.3 592.6 1110.3 591.1 1111.3 591.6C1112.3 592.1 1113.2 595.8 1114.3 598C1115.5 600.3 1117 603.6 1118.3 605C1119.7 606.4 1121 605.1 1122.4 606.4C1123.7 607.8 1125.2 611.3 1126.4 613.1C1127.5 614.8 1128.4 617.1 1129.4 617.1C1130.4 617.1 1131.4 614 1132.4 613.1C1133.4 612.2 1134.4 611.2 1135.4 611.7C1136.4 612.1 1137.2 614.6 1138.4 615.7C1139.6 616.7 1141.1 617.7 1142.4 618.1C1143.7 618.4 1145.1 618.2 1146.4 617.7C1147.7 617.2 1149.1 616.1 1150.4 615.1C1151.7 614.1 1153.1 612 1154.4 611.7C1155.8 611.3 1157.1 613.3 1158.4 613.1C1159.8 612.8 1161.1 610.6 1162.4 610.1C1163.8 609.6 1165.1 609.9 1166.4 610.1C1167.8 610.2 1169.1 610.6 1170.5 611.1C1171.8 611.6 1173.1 612.3 1174.5 613.1C1175.8 613.8 1177.1 615.4 1178.5 615.7C1179.8 615.9 1181.1 614.7 1182.5 614.5C1183.8 614.3 1185.1 614.3 1186.5 614.5C1187.8 614.7 1189.2 615.2 1190.5 615.7C1191.8 616.1 1193.2 616.4 1194.5 617.1C1195.8 617.7 1197.2 618.4 1198.5 619.7C1199.8 620.9 1201.2 622.8 1202.5 624.5C1203.9 626.2 1205 628.4 1206.5 629.7C1208 631 1210 631.5 1211.5 632.1C1213 632.7 1214.2 632.9 1215.5 633.1C1216.9 633.3 1218.9 633.1 1219.5 633.1" stroke="#E7A324" stroke-width="4" fill="none" stroke-linejoin="round" stroke-linecap="round"/>
<text x="1274.5" y="569.8" font-size="23.5" text-anchor="middle" class="t">P8</text>
<path d="M1241.2 656.7H1507.5" stroke="#000" stroke-width="3.7" fill="none" stroke-linecap="round"/>
<path d="M1278.7 609.3V703.3" stroke="#000" stroke-width="3.7" fill="none" stroke-linecap="round"/>
<path d="M1316.9 648.7v16M1355.1 648.7v16M1393.3 648.7v16M1431.5 648.7v16M1469.7 648.7v16" stroke="#000" stroke-width="2.1" fill="none"/>
<path d="M1239.6 642.1C1240.4 642.8 1242.6 645 1244.1 646.1C1245.5 647.3 1246.7 648.9 1248.1 649.1C1249.4 649.4 1250.7 646.9 1252.1 647.7C1253.4 648.6 1254.9 651.7 1256.1 654.1C1257.2 656.5 1258.1 660 1259.1 662.2C1260.1 664.3 1260.9 666.7 1262.1 667.2C1263.3 667.7 1264.8 666.2 1266.1 665.2C1267.4 664.2 1268.8 661.8 1270.1 661.2C1271.4 660.5 1272.9 660.3 1274.1 661.2C1275.3 662 1276.1 664.7 1277.1 666.2C1278.1 667.7 1279.1 668.8 1280.1 670.2C1281.1 671.5 1282 673.3 1283.1 674.2C1284.3 675 1286 676.5 1287.1 675.2C1288.3 673.9 1289.1 671 1290.1 666.2C1291.1 661.3 1292.1 652.4 1293.1 646.1C1294.2 639.8 1295.2 630.8 1296.2 628.5C1297.2 626.2 1298.3 628.8 1299.2 632.1C1300.1 635.4 1300.7 642.1 1301.6 648.1C1302.4 654.1 1303.2 661.8 1304.2 668.2C1305.1 674.5 1306 681.4 1307.2 686.2C1308.3 691.1 1309.8 694.2 1311.2 697.2C1312.5 700.2 1314 703.6 1315.2 704.2C1316.4 704.9 1317.2 703.6 1318.2 701.2C1319.2 698.9 1320.2 695.1 1321.2 690.2C1322.2 685.4 1323.2 677.9 1324.2 672.2C1325.2 666.5 1326.2 660 1327.2 656.1C1328.2 652.3 1329.2 650.1 1330.2 649.1C1331.2 648.1 1332.2 648.8 1333.2 650.1C1334.2 651.5 1335.2 654.8 1336.2 657.2C1337.2 659.5 1338.1 662.3 1339.2 664.2C1340.4 666 1341.9 667.3 1343.2 668.2C1344.6 669 1346.1 669.4 1347.3 669.2C1348.4 668.9 1349.3 665.7 1350.3 666.6C1351.3 667.4 1352.1 670.9 1353.3 674.2C1354.4 677.5 1355.9 682.9 1357.3 686.2C1358.6 689.5 1359.9 692.9 1361.3 694.2C1362.6 695.6 1364 694.4 1365.3 694.2C1366.6 694.1 1368 693.7 1369.3 693.2C1370.6 692.7 1372.1 692.4 1373.3 691.2C1374.5 690 1375.1 687.5 1376.3 686.2C1377.5 684.9 1379.2 683.5 1380.3 683.2C1381.5 682.9 1382.2 685 1383.3 684.2C1384.5 683.4 1386.2 680.5 1387.3 678.2C1388.5 675.9 1389.3 674.5 1390.3 670.2C1391.3 665.8 1392.3 656.6 1393.3 652.1C1394.4 647.6 1395.4 645 1396.4 643.1C1397.4 641.3 1398.4 640.6 1399.4 641.1C1400.4 641.6 1401.4 644 1402.4 646.1C1403.4 648.3 1404.2 651.1 1405.4 654.1C1406.5 657.2 1408.2 661.2 1409.4 664.2C1410.5 667.2 1411.4 670.2 1412.4 672.2C1413.4 674.2 1414.4 676 1415.4 676.2C1416.4 676.4 1417.4 674.9 1418.4 673.2C1419.4 671.5 1420.2 668 1421.4 666.2C1422.6 664.3 1424.1 662.9 1425.4 662.2C1426.7 661.4 1428.1 662.2 1429.4 661.8C1430.8 661.4 1432.1 660.5 1433.4 659.8C1434.8 659 1436.1 658.4 1437.4 657.2C1438.8 655.9 1440.1 653.6 1441.4 652.1C1442.8 650.6 1444.1 648.5 1445.5 648.1C1446.8 647.8 1448.1 649.3 1449.5 650.1C1450.8 651 1452.1 653.1 1453.5 653.1C1454.8 653.1 1456.1 651 1457.5 650.1C1458.8 649.3 1460.1 647.7 1461.5 648.1C1462.8 648.5 1464.2 651.5 1465.5 652.5C1466.8 653.5 1468.2 653.9 1469.5 654.1C1470.8 654.3 1472.2 654.1 1473.5 653.7C1474.8 653.4 1476.2 652.2 1477.5 652.1C1478.9 652 1480.2 652.3 1481.5 653.1C1482.9 654 1484.2 656.1 1485.5 657.2C1486.9 658.2 1488.2 659.1 1489.5 659.2C1490.9 659.3 1491.9 658 1493.5 657.8C1495.2 657.5 1497.2 657.9 1499.6 657.8C1501.9 657.7 1506.2 657.3 1507.6 657.2" stroke="#000" stroke-width="4" fill="none" stroke-linejoin="round" stroke-linecap="round"/>
<path d="M1239.6 644.1C1240.4 644.8 1242.6 647 1244.1 648.1C1245.5 649.3 1246.7 650.5 1248.1 651.1C1249.4 651.8 1250.9 651.6 1252.1 652.1C1253.2 652.6 1254.1 653.1 1255.1 654.1C1256.1 655.1 1257.1 656.6 1258.1 658.2C1259.1 659.7 1259.9 662.7 1261.1 663.2C1262.3 663.7 1263.8 661.9 1265.1 661.2C1266.4 660.4 1267.8 658.6 1269.1 658.6C1270.4 658.6 1271.9 659.9 1273.1 661.2C1274.3 662.4 1275.1 664.7 1276.1 666.2C1277.1 667.7 1278 668.8 1279.1 670.2C1280.3 671.5 1281.8 673.5 1283.1 674.2C1284.5 674.9 1286 676.2 1287.1 674.2C1288.3 672.2 1289.1 668.2 1290.1 662.2C1291.1 656.1 1292.2 644.1 1293.1 638.1C1294.1 632.1 1294.9 627.3 1295.8 626.1C1296.6 624.9 1297.3 627.4 1298.2 631.1C1299.1 634.8 1300.2 642.3 1301.2 648.1C1302.2 654 1303.2 660.5 1304.2 666.2C1305.2 671.8 1306 677.7 1307.2 682.2C1308.3 686.7 1309.8 690.4 1311.2 693.2C1312.5 696.1 1314 698.6 1315.2 699.2C1316.4 699.9 1317.2 699.7 1318.2 697.2C1319.2 694.7 1320.2 689.4 1321.2 684.2C1322.2 679 1323.2 671.7 1324.2 666.2C1325.2 660.7 1326.2 654.3 1327.2 651.1C1328.2 648 1329.2 647.6 1330.2 647.1C1331.2 646.6 1332.2 646.8 1333.2 648.1C1334.2 649.5 1335.2 653 1336.2 655.1C1337.2 657.3 1338.1 660 1339.2 661.2C1340.4 662.3 1341.9 662.2 1343.2 662.2C1344.6 662.2 1346.1 661.2 1347.3 661.2C1348.4 661.2 1349.3 660.7 1350.3 662.2C1351.3 663.7 1352.1 667.2 1353.3 670.2C1354.4 673.2 1355.9 677.4 1357.3 680.2C1358.6 683 1359.9 686.7 1361.3 687.2C1362.6 687.7 1364 684.4 1365.3 683.2C1366.6 682 1368 680.7 1369.3 680.2C1370.6 679.7 1372 680.9 1373.3 680.2C1374.6 679.5 1376 677.3 1377.3 676.2C1378.7 675.1 1380 674.8 1381.3 673.8C1382.7 672.8 1384 672.3 1385.3 670.2C1386.7 668.1 1388.2 664.8 1389.3 661.2C1390.5 657.5 1391.3 652.8 1392.3 648.1C1393.3 643.5 1394.4 637.2 1395.4 633.1C1396.4 629 1397.4 625 1398.4 623.7C1399.4 622.3 1400.4 623.5 1401.4 625.1C1402.4 626.7 1403.2 630.6 1404.4 633.1C1405.5 635.6 1407.2 637.6 1408.4 640.1C1409.5 642.6 1410.4 645.3 1411.4 648.1C1412.4 651 1413.4 655.1 1414.4 657.2C1415.4 659.2 1416.4 660.7 1417.4 660.2C1418.4 659.7 1419.4 656 1420.4 654.1C1421.4 652.3 1422.2 650 1423.4 649.1C1424.6 648.3 1426.1 649.5 1427.4 649.1C1428.8 648.8 1430.1 647.7 1431.4 647.1C1432.8 646.6 1434.1 646.5 1435.4 645.7C1436.8 645 1438.1 643.1 1439.4 642.5C1440.8 641.9 1441.9 642.5 1443.4 642.1C1445 641.8 1447 640.4 1448.5 640.5C1450 640.7 1451.1 642.5 1452.5 643.1C1453.8 643.8 1455.1 643.9 1456.5 644.5C1457.8 645.2 1459.1 646.2 1460.5 647.1C1461.8 648.1 1463.2 649.5 1464.5 650.1C1465.8 650.8 1467.2 651.1 1468.5 651.1C1469.8 651.1 1471 650.3 1472.5 650.1C1474 650 1476 650.5 1477.5 650.1C1479 649.8 1480.2 648.1 1481.5 648.1C1482.9 648.1 1484.2 649.3 1485.5 650.1C1486.9 651 1488.2 652.2 1489.5 653.1C1490.9 654.1 1491.9 655.4 1493.5 655.7C1495.2 656.1 1497.2 655.2 1499.6 655.1C1501.9 655 1506.2 655.1 1507.6 655.1" stroke="#E7A324" stroke-width="4" fill="none" stroke-linejoin="round" stroke-linecap="round"/>
<text x="121.7" y="758.1" font-size="23.5" text-anchor="middle" class="t">P9</text>
<path d="M88.4 845H354.7" stroke="#000" stroke-width="3.7" fill="none" stroke-linecap="round"/>
<path d="M125.9 797.6V891.6" stroke="#000" stroke-width="3.7" fill="none" stroke-linecap="round"/>
<path d="M164.1 837v16M202.3 837v16M240.5 837v16M278.7 837v16M316.9 837v16" stroke="#000" stroke-width="2.1" fill="none"/>
<path d="M86.6 852.2C87.3 851.8 89.5 850.8 91 850.2C92.6 849.5 94.4 849.2 96 848.2C97.7 847.2 99.5 845.7 101 844.1C102.5 842.6 103.7 840.3 105 839.1C106.4 838 107.7 837.1 109.1 837.1C110.4 837.1 111.7 838.5 113.1 839.1C114.4 839.8 115.7 840 117.1 841.1C118.4 842.3 119.9 844.6 121.1 846.2C122.2 847.7 122.9 849.3 124.1 850.2C125.3 851 126.8 851 128.1 851.2C129.4 851.3 130.8 851.3 132.1 851.2C133.4 851 134.9 850.7 136.1 850.2C137.3 849.7 138.1 850 139.1 848.2C140.1 846.3 141.2 841.1 142.1 839.1C143.1 837.1 143.9 835.6 144.7 836.1C145.6 836.6 146.2 838.5 147.1 842.1C148 845.8 149.1 853.2 150.1 858.2C151.1 863.2 152 867.5 153.1 872.2C154.3 876.9 156 881.2 157.2 886.2C158.3 891.2 159.2 896.9 160.2 902.3C161.2 907.6 162.1 914 163.2 918.3C164.3 922.6 165.6 927.3 166.8 928.3C167.9 929.3 168.9 927.3 170.2 924.3C171.4 921.3 172.9 914.6 174.2 910.3C175.5 905.9 176.9 901.4 178.2 898.3C179.5 895.1 180.9 892.6 182.2 891.2C183.5 889.9 184.9 890.9 186.2 890.2C187.5 889.6 188.9 888.2 190.2 887.2C191.6 886.2 192.9 884.4 194.2 884.2C195.6 884.1 196.9 885.4 198.2 886.2C199.6 887.1 200.9 888.4 202.2 889.2C203.6 890.1 204.9 889.4 206.3 891.2C207.6 893.1 208.9 896.6 210.3 900.3C211.6 903.9 212.9 910.3 214.3 913.3C215.6 916.3 216.9 917.5 218.3 918.3C219.6 919.1 220.9 918 222.3 918.3C223.6 918.6 225 919.6 226.3 920.3C227.6 921 229 922 230.3 922.3C231.6 922.6 233 922.5 234.3 922.3C235.6 922.1 237.1 922.6 238.3 921.3C239.5 920 240.3 916.8 241.3 914.3C242.3 911.8 243.3 908.8 244.3 906.3C245.3 903.8 246.3 900.6 247.3 899.3C248.3 897.9 249.3 897.4 250.3 898.3C251.3 899.1 252.3 901.6 253.3 904.3C254.3 906.9 255.3 910.9 256.4 914.3C257.4 917.6 258.4 922.1 259.4 924.3C260.4 926.5 261.4 928.3 262.4 927.3C263.4 926.3 264.4 921 265.4 918.3C266.4 915.6 267.2 912.1 268.4 911.3C269.5 910.4 271 911.8 272.4 913.3C273.7 914.8 275.1 918.3 276.4 920.3C277.7 922.3 279.1 925 280.4 925.3C281.7 925.6 283.1 923.8 284.4 922.3C285.7 920.8 287.1 918.3 288.4 916.3C289.8 914.3 291.1 911.8 292.4 910.3C293.8 908.8 295.1 908.6 296.4 907.3C297.8 905.9 299.1 903.8 300.4 902.3C301.8 900.8 303.1 899.4 304.4 898.3C305.8 897.1 307.1 895.3 308.5 895.3C309.8 895.3 311.1 897.8 312.5 898.3C313.8 898.8 315.1 898.8 316.5 898.3C317.8 897.8 319.1 896.2 320.5 895.3C321.8 894.3 323.2 893.3 324.5 892.6C325.8 892 327.2 891.6 328.5 891.2C329.8 890.8 331.2 890.5 332.5 890.2C333.8 890 335.2 890.2 336.5 889.8C337.8 889.5 339.2 888.7 340.5 888.2C341.9 887.8 343.2 887.6 344.5 887.2C345.9 886.9 346.7 886 348.5 886.2C350.4 886.5 354.4 888.2 355.5 888.6" stroke="#000" stroke-width="4" fill="none" stroke-linejoin="round" stroke-linecap="round"/>
<path d="M86.6 854.6C87.3 854.5 89.5 854.7 91 854.2C92.6 853.6 94.5 852.5 96 851.2C97.5 849.8 98.7 848.3 100 846.2C101.4 844 102.8 840.4 104 838.1C105.3 835.9 106.3 832.7 107.5 832.5C108.6 832.4 109.8 835.7 111.1 837.1C112.3 838.6 113.6 839.8 115.1 841.1C116.6 842.5 118.6 843.6 120.1 845.2C121.6 846.7 122.8 848.7 124.1 850.2C125.4 851.7 126.8 853.5 128.1 854.2C129.4 854.8 130.8 854.5 132.1 854.2C133.4 853.8 134.9 854.2 136.1 852.2C137.3 850.2 138.4 844.9 139.5 842.1C140.6 839.4 141.7 836.2 142.7 835.7C143.7 835.2 144.5 836.1 145.5 839.1C146.6 842.2 148 849 149.1 854.2C150.2 859.3 151 865.5 152.1 870.2C153.3 874.9 155 878.2 156.2 882.2C157.3 886.2 158.2 889.6 159.2 894.2C160.2 898.9 161.2 906.1 162.2 910.3C163.2 914.5 164.1 918.3 165.2 919.3C166.3 920.3 167.6 919.1 168.8 916.3C169.9 913.5 170.9 906.6 172.2 902.3C173.4 897.9 174.9 894.1 176.2 890.2C177.5 886.4 178.9 882.6 180.2 879.2C181.5 875.9 182.9 872.7 184.2 870.2C185.5 867.7 186.9 866.2 188.2 864.2C189.6 862.2 191.1 860 192.2 858.2C193.4 856.3 194.1 853.8 195.2 853.2C196.4 852.5 197.9 853.5 199.2 854.2C200.6 854.8 201.9 855.5 203.2 857.2C204.6 858.8 205.9 861.2 207.3 864.2C208.6 867.2 209.9 872.2 211.3 875.2C212.6 878.2 213.9 880.1 215.3 882.2C216.6 884.4 217.9 886.7 219.3 888.2C220.6 889.7 221.9 890.4 223.3 891.2C224.6 892.1 226 892.5 227.3 893.2C228.6 894 230 895.2 231.3 895.9C232.6 896.5 234 897.7 235.3 897.3C236.6 896.8 238 894.9 239.3 893.2C240.7 891.6 242.2 889.6 243.3 887.2C244.5 884.9 245.3 881.2 246.3 879.2C247.3 877.2 248.3 875.2 249.3 875.2C250.3 875.2 251.3 876.7 252.3 879.2C253.3 881.7 254.3 886.4 255.3 890.2C256.4 894.1 257.4 899.1 258.4 902.3C259.4 905.4 260.4 908.9 261.4 909.3C262.4 909.6 263.4 906.9 264.4 904.3C265.4 901.6 266.4 895.6 267.4 893.2C268.4 890.9 269.4 889.9 270.4 890.2C271.4 890.6 272.2 893.2 273.4 895.3C274.6 897.3 276.1 900.2 277.4 902.3C278.7 904.4 280.1 907.5 281.4 907.9C282.7 908.3 284.1 906.6 285.4 904.7C286.7 902.7 288.1 898.8 289.4 896.3C290.8 893.7 292.1 891.2 293.4 889.2C294.8 887.3 296.1 885.2 297.4 884.6C298.8 884.1 300.1 886.2 301.4 885.8C302.8 885.5 304.1 882.8 305.4 882.6C306.8 882.4 308.1 884 309.5 884.6C310.8 885.2 312.1 885.9 313.5 886.2C314.8 886.6 316.1 886.4 317.5 886.6C318.8 886.9 320.1 887.7 321.5 887.8C322.8 887.9 324.2 887.5 325.5 887.2C326.8 887 328.2 886.6 329.5 886.2C330.8 885.9 332.2 885.5 333.5 885.2C334.8 885 336.2 884.9 337.5 884.6C338.8 884.4 340.2 884.3 341.5 883.8C342.9 883.4 344.2 882.6 345.5 881.8C346.9 881.1 347.9 879.7 349.5 879.2C351.2 878.8 354.5 879.2 355.5 879.2" stroke="#E7A324" stroke-width="4" fill="none" stroke-linejoin="round" stroke-linecap="round"/>
<text x="409.9" y="758.1" font-size="23.5" text-anchor="middle" class="t">O1</text>
<path d="M376.6 845H642.9" stroke="#000" stroke-width="3.7" fill="none" stroke-linecap="round"/>
<path d="M414.1 797.6V891.6" stroke="#000" stroke-width="3.7" fill="none" stroke-linecap="round"/>
<path d="M452.3 837v16M490.5 837v16M528.7 837v16M566.9 837v16M605.1 837v16" stroke="#000" stroke-width="2.1" fill="none"/>
<path d="M374.6 843.1C375.3 842.8 377.6 842 379 841.1C380.4 840.3 381.7 839 383 838.1C384.4 837.3 385.9 835.8 387 836.1C388.2 836.5 388.9 837.6 390 840.1C391.2 842.6 392.7 848.5 394.1 851.2C395.4 853.8 396.7 856.2 398.1 856.2C399.4 856.2 400.7 853.3 402.1 851.2C403.4 849 404.7 844.3 406.1 843.1C407.4 842 408.7 843.3 410.1 844.1C411.4 845 412.8 847.3 414.1 848.2C415.4 849 416.8 849.3 418.1 849.2C419.4 849 420.9 848.8 422.1 847.2C423.3 845.5 424 843 425.1 839.1C426.2 835.3 427.6 828.1 428.7 824.1C429.9 820.1 431.1 816.1 432.1 815.1C433.2 814.1 434.1 814.9 435.1 818.1C436.1 821.3 437.1 828.1 438.1 834.1C439.1 840.1 440.1 848.2 441.1 854.2C442.1 860.2 443.1 865.9 444.2 870.2C445.2 874.5 446.2 876.5 447.2 880.2C448.2 883.9 449.2 889.2 450.2 892.2C451.1 895.3 451.9 898.3 452.8 898.3C453.7 898.3 454.6 895.6 455.6 892.2C456.6 888.9 457.8 882.2 458.8 878.2C459.8 874.2 460.5 870.2 461.6 868.2C462.7 866.2 463.9 867.5 465.2 866.2C466.5 864.9 467.9 862.5 469.2 860.2C470.5 857.8 471.9 855 473.2 852.2C474.5 849.3 476 844 477.2 843.1C478.4 842.3 479.1 845 480.2 847.2C481.4 849.3 482.9 853 484.2 856.2C485.6 859.3 486.9 862.7 488.2 866.2C489.6 869.7 490.9 874.2 492.2 877.2C493.6 880.2 494.9 883.6 496.3 884.2C497.6 884.9 498.9 883.1 500.3 881.2C501.6 879.4 502.9 875.4 504.3 873.2C505.6 871 506.9 869.9 508.3 868.2C509.6 866.5 511 864.4 512.3 863.2C513.6 862 515 862 516.3 861.2C517.6 860.3 519.1 859.5 520.3 858.2C521.5 856.8 522.3 855.2 523.3 853.2C524.3 851.2 525.3 849.7 526.3 846.2C527.3 842.6 528.3 836.5 529.3 832.1C530.3 827.7 531.4 822.7 532.3 819.7C533.3 816.7 534 813.7 534.9 814.1C535.8 814.5 536.7 818.1 537.7 822.1C538.7 826.1 539.8 833.5 540.9 838.1C542 842.8 543.1 847.2 544.4 850.2C545.6 853.2 547.2 855.2 548.4 856.2C549.5 857.2 550.4 857.2 551.4 856.2C552.4 855.2 553.4 852 554.4 850.2C555.4 848.3 556.4 844.8 557.4 845.2C558.4 845.5 559.4 849.3 560.4 852.2C561.4 855 562.3 860 563.4 862.2C564.5 864.4 565.8 865.5 567 865.2C568.2 864.9 569.2 862 570.4 860.2C571.6 858.3 573.1 855.7 574.4 854.2C575.7 852.7 577.1 852 578.4 851.2C579.8 850.3 581.1 850.2 582.4 849.2C583.8 848.2 585.1 846.5 586.4 845.2C587.8 843.8 589.3 842.1 590.4 841.1C591.6 840.1 592.3 839 593.4 839.1C594.6 839.3 596.1 840.8 597.5 842.1C598.8 843.5 600.1 845.8 601.5 847.2C602.8 848.5 604.1 849.7 605.5 850.2C606.8 850.7 608.1 850.3 609.5 850.2C610.8 850 612 849.2 613.5 849.2C615 849.2 617 849.6 618.5 850.2C620 850.7 621.2 852.6 622.5 852.6C623.8 852.6 625 850.6 626.5 850.2C628 849.7 629.7 849.8 631.5 849.8C633.4 849.8 635.5 849.8 637.5 850.2C639.5 850.6 642.5 851.8 643.5 852.2" stroke="#000" stroke-width="4" fill="none" stroke-linejoin="round" stroke-linecap="round"/>
<path d="M374.6 838.1C375.3 838.1 377.6 837.6 379 837.7C380.4 837.9 381.7 838.8 383 839.1C384.4 839.5 385.7 838.7 387 839.7C388.4 840.7 389.7 843.4 391 845.2C392.4 846.9 393.7 848.9 395.1 850.2C396.4 851.4 397.7 852.7 399.1 852.6C400.4 852.4 401.7 850.4 403.1 849.2C404.4 847.9 405.7 845.5 407.1 845.2C408.4 844.8 409.7 846.6 411.1 847.2C412.4 847.7 413.8 848.6 415.1 848.6C416.4 848.6 417.9 848.1 419.1 847.2C420.3 846.3 420.9 846 422.1 843.1C423.3 840.3 424.9 834 426.1 830.1C427.3 826.3 428.1 822.4 429.1 820.1C430.1 817.8 431.1 816.3 432.1 816.5C433.1 816.7 434.1 817.8 435.1 821.1C436.1 824.4 437.1 830.6 438.1 836.1C439.1 841.6 440.1 848.8 441.1 854.2C442.1 859.5 443.1 864 444.2 868.2C445.2 872.4 446.2 875.5 447.2 879.2C448.2 882.9 449.2 887.9 450.2 890.2C451.1 892.6 451.9 893.6 452.8 893.2C453.7 892.9 454.6 891.1 455.6 888.2C456.6 885.4 457.7 879.6 458.8 876.2C459.9 872.9 461 870.2 462.2 868.2C463.4 866.2 464.9 865.9 466.2 864.2C467.5 862.5 469 860.2 470.2 858.2C471.4 856.2 472.2 854 473.2 852.2C474.2 850.3 475.2 847.5 476.2 847.2C477.2 846.8 478.1 848.3 479.2 850.2C480.4 852 481.9 855.2 483.2 858.2C484.6 861.2 485.9 864.9 487.2 868.2C488.6 871.5 489.8 875.5 491.2 878.2C492.6 880.9 494.3 883.7 495.7 884.2C497.1 884.7 498.3 883.1 499.7 881.2C501 879.4 502.3 875.2 503.7 873.2C505 871.2 506.3 871 507.7 869.2C509 867.4 510.3 864 511.7 862.2C513 860.3 514.3 859.7 515.7 858.2C517.1 856.7 518.9 855.2 520.3 853.2C521.7 851.2 523.1 849.7 524.3 846.2C525.5 842.6 526.3 836.5 527.3 832.1C528.3 827.8 529.4 823.4 530.3 820.1C531.3 816.8 532.1 813.9 532.9 812.1C533.8 810.2 534.4 808.7 535.3 809.1C536.2 809.4 537.3 811.6 538.3 814.1C539.3 816.6 540.3 820.4 541.3 824.1C542.3 827.8 543.2 832.1 544.4 836.1C545.5 840.1 547.2 846 548.4 848.2C549.5 850.3 550.4 851.2 551.4 849.2C552.4 847.2 553.4 839.6 554.4 836.1C555.4 832.6 556.4 829.1 557.4 828.1C558.4 827.1 559.4 827.1 560.4 830.1C561.4 833.1 562.4 842.6 563.4 846.2C564.4 849.7 565.2 850.6 566.4 851.2C567.6 851.8 569.1 850.8 570.4 849.8C571.7 848.8 573.1 846.8 574.4 845.2C575.7 843.5 577.1 842 578.4 840.1C579.8 838.3 581.1 836.1 582.4 834.1C583.8 832.1 585.1 829.1 586.4 828.1C587.8 827.1 589.1 827.8 590.4 828.1C591.8 828.5 593.3 829.3 594.5 830.1C595.6 831 596.3 832.1 597.5 833.1C598.6 834.1 600.1 835.1 601.5 836.1C602.8 837.1 604.1 838.8 605.5 839.1C606.8 839.5 608.1 838.3 609.5 838.1C610.8 838 612.2 838 613.5 838.1C614.8 838.3 616.2 838.8 617.5 839.1C618.8 839.5 620.2 839.3 621.5 840.1C622.8 841 624.2 843 625.5 844.1C626.8 845.3 627.9 846.7 629.5 847.2C631.2 847.7 633.2 847.3 635.5 847.2C637.9 847 642.2 846.3 643.5 846.2" stroke="#E7A324" stroke-width="4" fill="none" stroke-linejoin="round" stroke-linecap="round"/>
<text x="698.1" y="758.1" font-size="23.5" text-anchor="middle" class="t">Oz</text>
<path d="M664.8 845H931.1" stroke="#000" stroke-width="3.7" fill="none" stroke-linecap="round"/>
<path d="M702.3 797.6V891.6" stroke="#000" stroke-width="3.7" fill="none" stroke-linecap="round"/>
<path d="M740.5 837v16M778.7 837v16M816.9 837v16M855.1 837v16M893.3 837v16" stroke="#000" stroke-width="2.1" fill="none"/>
<path d="M662.6 843.1C663.3 842.8 665.6 842 667 841.1C668.4 840.3 669.7 839 671 838.1C672.4 837.3 673.9 835.8 675 836.1C676.2 836.5 676.9 837.8 678 840.1C679.2 842.5 680.7 847.8 682.1 850.2C683.4 852.5 684.7 854.2 686.1 854.2C687.4 854.2 688.7 851.9 690.1 850.2C691.4 848.4 692.7 844.5 694.1 843.7C695.4 843 696.7 844.7 698.1 845.8C699.4 846.8 700.8 849.4 702.1 850.2C703.4 850.9 704.8 850.7 706.1 850.2C707.4 849.7 708.8 848.7 710.1 847.2C711.4 845.7 712.9 844 714.1 841.1C715.3 838.3 716.1 834 717.1 830.1C718.1 826.3 719.1 820.9 720.1 818.1C721.1 815.3 722.1 813.1 723.1 813.1C724.1 813.1 725.1 814.9 726.1 818.1C727.1 821.3 728.1 827.4 729.1 832.1C730.1 836.8 731.1 841.5 732.2 846.2C733.2 850.8 734.2 855.5 735.2 860.2C736.2 864.9 737.2 871.2 738.2 874.2C739.2 877.2 740.2 878.2 741.2 878.2C742.2 878.2 743.2 876.5 744.2 874.2C745.2 871.9 746.2 866.9 747.2 864.2C748.2 861.5 749 859.2 750.2 858.2C751.4 857.2 752.9 859 754.2 858.2C755.5 857.3 757 854.8 758.2 853.2C759.4 851.5 760 849.7 761.2 848.2C762.4 846.6 763.9 843.9 765.2 843.7C766.6 843.6 767.9 845.4 769.2 847.2C770.6 848.9 771.9 851 773.2 854.2C774.6 857.3 775.9 862.2 777.2 866.2C778.6 870.2 780.1 875.2 781.2 878.2C782.4 881.2 783.3 883.7 784.3 884.2C785.3 884.7 786.1 882.7 787.3 881.2C788.4 879.7 789.9 876.7 791.3 875.2C792.6 873.7 793.9 873.4 795.3 872.2C796.6 871 797.9 869.5 799.3 868.2C800.6 866.9 802 865.4 803.3 864.2C804.6 863 806 862.4 807.3 861.2C808.6 860 810 858.8 811.3 857.2C812.6 855.5 814.1 854.3 815.3 851.2C816.5 848 817.3 842.6 818.3 838.1C819.3 833.6 820.4 827.7 821.3 824.1C822.2 820.5 822.8 816.5 823.7 816.5C824.7 816.5 825.8 820.8 826.9 824.1C828 827.4 829.1 832.5 830.3 836.1C831.6 839.8 833.2 843.3 834.4 846.2C835.5 849 836.4 851.8 837.4 853.2C838.4 854.5 839.4 854.7 840.4 854.2C841.4 853.7 842.4 851.2 843.4 850.2C844.4 849.2 845.4 847.8 846.4 848.2C847.4 848.5 848.4 850 849.4 852.2C850.4 854.3 851.4 858.9 852.4 861.2C853.4 863.5 854.4 866 855.4 865.8C856.4 865.6 857.4 862.5 858.4 860.2C859.4 857.9 860.2 854.5 861.4 852.2C862.6 849.8 864.1 847.6 865.4 846.2C866.8 844.7 868.1 844.4 869.4 843.7C870.8 843.1 872.1 842.5 873.4 842.1C874.8 841.8 876.1 842.1 877.4 841.7C878.8 841.4 880.1 840.1 881.4 840.1C882.8 840.1 884.1 841.1 885.5 841.7C886.8 842.4 888.1 843.4 889.5 844.1C890.8 844.9 892.1 845.9 893.5 846.2C894.8 846.4 896.1 846 897.5 845.8C898.8 845.5 900 844.5 901.5 844.5C903 844.5 905 845.1 906.5 845.8C908 846.4 909.2 848.6 910.5 848.6C911.8 848.6 913 846.3 914.5 845.8C916 845.2 917.7 845.3 919.5 845.2C921.4 845.1 923.5 845 925.5 845.2C927.5 845.3 930.5 846 931.5 846.2" stroke="#000" stroke-width="4" fill="none" stroke-linejoin="round" stroke-linecap="round"/>
<path d="M662.6 841.1C663.3 840.6 665.6 838.6 667 838.1C668.4 837.6 669.7 838 671 838.1C672.4 838.3 673.7 838.1 675 839.1C676.4 840.1 677.7 842.5 679 844.1C680.4 845.8 681.7 848 683.1 849.2C684.4 850.3 685.7 851.3 687.1 851.2C688.4 851 689.7 849 691.1 848.2C692.4 847.3 693.7 846.1 695.1 846.2C696.4 846.2 697.7 848.2 699.1 848.6C700.4 848.9 701.8 848.7 703.1 848.2C704.4 847.6 705.8 846.5 707.1 845.2C708.4 843.8 709.9 842 711.1 840.1C712.3 838.3 713.1 836.8 714.1 834.1C715.1 831.5 716.1 827.4 717.1 824.1C718.1 820.8 719.1 816.3 720.1 814.1C721.1 811.9 722.1 810.6 723.1 811.1C724.1 811.6 725.1 813.9 726.1 817.1C727.1 820.3 728.1 825.3 729.1 830.1C730.1 835 731.1 841.5 732.2 846.2C733.2 850.8 734.2 854.5 735.2 858.2C736.2 861.9 737.2 865.5 738.2 868.2C739.2 870.9 740.2 873.9 741.2 874.2C742.2 874.5 743.2 872.2 744.2 870.2C745.2 868.2 746 863.7 747.2 862.2C748.3 860.7 749.9 861.7 751.2 861.2C752.5 860.7 753.9 860.3 755.2 859.2C756.5 858 758 855.9 759.2 854.2C760.4 852.4 761.2 849.7 762.2 848.6C763.2 847.4 764 846.6 765.2 847.2C766.4 847.8 767.9 850.3 769.2 852.2C770.6 854 771.9 855.5 773.2 858.2C774.6 860.8 776 864.7 777.2 868.2C778.5 871.7 779.7 876.4 780.8 879.2C782 882.1 783.1 884.7 784.3 885.2C785.4 885.7 786.4 884.1 787.7 882.2C788.9 880.4 790.3 876.2 791.7 874.2C793 872.2 794.3 871.5 795.7 870.2C797 868.9 798.3 867.4 799.7 866.2C801 865 802.4 864.4 803.7 863.2C805 862 806.4 860.8 807.7 859.2C809 857.5 810.4 855.7 811.7 853.2C813 850.7 814.2 848.3 815.3 844.1C816.4 840 817.3 832.8 818.3 828.1C819.3 823.4 820.4 818.9 821.3 816.1C822.3 813.3 823 811.2 823.9 811.1C824.9 810.9 825.9 812.9 826.9 815.1C828 817.3 829.3 820.9 830.3 824.1C831.4 827.3 832.2 830.8 833.4 834.1C834.5 837.5 836.2 842 837.4 844.1C838.5 846.3 839.4 848.2 840.4 847.2C841.4 846.2 842.4 840.5 843.4 838.1C844.4 835.8 845.4 833.1 846.4 833.1C847.4 833.1 848.4 835.3 849.4 838.1C850.4 841 851.4 847.8 852.4 850.2C853.4 852.5 854.4 852.2 855.4 852.2C856.4 852.2 857.4 851.5 858.4 850.2C859.4 848.8 860.2 846.5 861.4 844.1C862.6 841.8 864.1 837.9 865.4 836.1C866.8 834.4 868.1 834.7 869.4 833.7C870.8 832.7 872.1 831.2 873.4 830.1C874.8 829 876.1 827.6 877.4 827.1C878.8 826.6 880.1 826.6 881.4 827.1C882.8 827.6 884.1 829.1 885.5 830.1C886.8 831.1 888.1 832.4 889.5 833.1C890.8 833.9 892.1 834.4 893.5 834.5C894.8 834.7 896.1 834.3 897.5 834.1C898.8 834 900 833.7 901.5 833.7C903 833.8 905 834.2 906.5 834.5C908 834.9 909.3 835.1 910.5 835.7C911.7 836.3 912.3 836.9 913.5 838.1C914.7 839.4 915.9 842.4 917.5 843.1C919.2 843.9 921.2 842.8 923.5 842.5C925.9 842.3 930.2 841.9 931.5 841.7" stroke="#E7A324" stroke-width="4" fill="none" stroke-linejoin="round" stroke-linecap="round"/>
<text x="986.3" y="758.1" font-size="23.5" text-anchor="middle" class="t">O2</text>
<path d="M953 845H1219.3" stroke="#000" stroke-width="3.7" fill="none" stroke-linecap="round"/>
<path d="M990.5 797.6V891.6" stroke="#000" stroke-width="3.7" fill="none" stroke-linecap="round"/>
<path d="M1028.7 837v16M1066.9 837v16M1105.1 837v16M1143.3 837v16M1181.5 837v16" stroke="#000" stroke-width="2.1" fill="none"/>
<path d="M950.6 832.1C951.3 832.5 953.6 833 955 834.1C956.4 835.3 957.7 838.8 959 839.1C960.4 839.5 961.9 836 963 836.1C964.2 836.3 964.9 837.5 966 840.1C967.2 842.8 968.7 849.2 970.1 852.2C971.4 855.2 972.7 858 974.1 858.2C975.4 858.3 976.7 855.3 978.1 853.2C979.4 851 980.7 846.3 982.1 845.2C983.4 844 984.7 845.6 986.1 846.2C987.4 846.7 988.8 848.2 990.1 848.6C991.4 849 992.8 849 994.1 848.6C995.4 848.2 996.9 847.6 998.1 846.2C999.3 844.7 1000.1 843.8 1001.1 840.1C1002.1 836.5 1003.1 829.5 1004.1 824.1C1005.1 818.8 1006.2 811.8 1007.1 808.1C1008.1 804.4 1008.8 802.2 1009.7 802.1C1010.7 801.9 1011.7 803.7 1012.7 807.1C1013.8 810.4 1015 816.6 1016.1 822.1C1017.3 827.6 1018.4 835.5 1019.5 840.1C1020.7 844.8 1021.9 847.2 1023.2 850.2C1024.4 853.2 1026 856.7 1027.2 858.2C1028.3 859.7 1029.2 859.8 1030.2 859.2C1031.2 858.5 1032 855.7 1033.2 854.2C1034.3 852.7 1035.8 851.3 1037.2 850.2C1038.5 849 1039.9 848.5 1041.2 847.2C1042.5 845.8 1043.9 843.5 1045.2 842.1C1046.5 840.8 1047.9 839.5 1049.2 839.1C1050.5 838.8 1052 839.5 1053.2 840.1C1054.4 840.8 1055.1 841.8 1056.2 843.1C1057.4 844.5 1058.9 846.3 1060.2 848.2C1061.6 850 1062.9 850.8 1064.2 854.2C1065.6 857.5 1067 864 1068.2 868.2C1069.5 872.4 1070.5 877.9 1071.7 879.2C1072.8 880.6 1074 877.5 1075.3 876.2C1076.5 874.9 1077.9 872.5 1079.3 871.2C1080.6 869.9 1081.9 869.7 1083.3 868.2C1084.6 866.7 1085.9 863.9 1087.3 862.2C1088.6 860.5 1090 859.5 1091.3 858.2C1092.6 856.8 1094 855.5 1095.3 854.2C1096.6 852.8 1098 853.2 1099.3 850.2C1100.6 847.2 1102 841.1 1103.3 836.1C1104.6 831.1 1105.8 824.3 1106.9 820.1C1108.1 815.9 1109.2 811.8 1110.3 811.1C1111.5 810.4 1112.6 813.8 1113.7 816.1C1114.9 818.4 1116.1 821.8 1117.3 825.1C1118.5 828.5 1119.8 833.3 1121 836.1C1122.1 839 1123.1 841.5 1124.4 842.1C1125.6 842.8 1127 841.3 1128.4 840.1C1129.7 839 1131.2 836.1 1132.4 835.1C1133.5 834.1 1134.4 833 1135.4 834.1C1136.4 835.3 1137.2 839.5 1138.4 842.1C1139.6 844.8 1141.2 849.3 1142.4 850.2C1143.6 851 1144.2 848.7 1145.4 847.2C1146.6 845.7 1148.1 843 1149.4 841.1C1150.7 839.3 1152.1 837.6 1153.4 836.1C1154.8 834.6 1156.1 833.1 1157.4 832.1C1158.8 831.1 1160.1 830 1161.4 830.1C1162.8 830.3 1164.1 833.1 1165.4 833.1C1166.8 833.1 1168.1 830.9 1169.4 830.1C1170.8 829.4 1172.1 828 1173.5 828.5C1174.8 829 1176.1 831.4 1177.5 833.1C1178.8 834.9 1180.3 837.8 1181.5 839.1C1182.6 840.5 1183.3 841.5 1184.5 841.1C1185.6 840.8 1187.2 838.4 1188.5 837.1C1189.8 835.9 1191.2 833.9 1192.5 833.7C1193.8 833.6 1195.2 835.2 1196.5 836.1C1197.8 837 1199.2 839.3 1200.5 839.1C1201.8 839 1203.2 835.6 1204.5 835.1C1205.9 834.6 1207 835.9 1208.5 836.1C1210 836.4 1211.7 836.3 1213.5 836.5C1215.4 836.8 1218.5 837.5 1219.5 837.7" stroke="#000" stroke-width="4" fill="none" stroke-linejoin="round" stroke-linecap="round"/>
<path d="M950.6 835.1C951.3 835.3 953.6 835.4 955 836.1C956.4 836.9 957.7 838.7 959 839.7C960.4 840.8 961.7 841.3 963 842.5C964.4 843.8 965.7 845.6 967 847.2C968.4 848.8 969.8 851 971.1 852.2C972.3 853.3 973.5 854.5 974.7 854.2C975.8 853.8 976.8 851.7 978.1 850.2C979.3 848.7 980.7 845.7 982.1 845.2C983.4 844.6 984.7 846.7 986.1 847.2C987.4 847.7 988.8 848.5 990.1 848.2C991.4 847.8 992.8 846.5 994.1 845.2C995.4 843.8 996.9 842.6 998.1 840.1C999.3 837.6 1000.1 834.1 1001.1 830.1C1002.1 826.1 1003.1 820.1 1004.1 816.1C1005.1 812.1 1006.2 808.2 1007.1 806.1C1008.1 803.9 1008.8 802.6 1009.7 803.1C1010.7 803.6 1011.7 805.6 1012.7 809.1C1013.8 812.6 1015 818.9 1016.1 824.1C1017.3 829.3 1018.4 835.8 1019.5 840.1C1020.7 844.5 1021.9 847.6 1023.2 850.2C1024.4 852.8 1026 854.5 1027.2 855.8C1028.3 857 1029.2 857.9 1030.2 857.8C1031.2 857.7 1032 856.1 1033.2 855.2C1034.3 854.2 1035.8 852.8 1037.2 852.2C1038.5 851.5 1039.9 852 1041.2 851.2C1042.5 850.3 1043.9 848.7 1045.2 847.2C1046.5 845.6 1047.9 842.7 1049.2 841.7C1050.5 840.7 1052 840.6 1053.2 841.1C1054.4 841.7 1055.1 843.8 1056.2 845.2C1057.4 846.5 1058.9 847 1060.2 849.2C1061.6 851.3 1062.9 854.3 1064.2 858.2C1065.6 862 1067 867.7 1068.2 872.2C1069.5 876.7 1070.5 883.7 1071.7 885.2C1072.8 886.7 1074 883.4 1075.3 881.2C1076.5 879.1 1077.9 874.3 1079.3 872.2C1080.6 870.1 1081.9 869.9 1083.3 868.6C1084.6 867.3 1085.9 865.6 1087.3 864.2C1088.6 862.8 1090 861.5 1091.3 860.2C1092.6 858.8 1094 858 1095.3 856.2C1096.6 854.3 1098 852.8 1099.3 849.2C1100.6 845.5 1102 840.1 1103.3 834.1C1104.6 828.1 1105.8 818 1106.9 813.1C1108.1 808.1 1109.2 805.5 1110.3 804.5C1111.5 803.5 1112.6 805.1 1113.7 807.1C1114.9 809 1116.1 812.9 1117.3 816.1C1118.5 819.3 1119.8 822.8 1121 826.1C1122.1 829.5 1123.2 833.8 1124.4 836.1C1125.5 838.5 1126.7 841 1127.8 840.1C1128.9 839.3 1130 833.7 1131 831.1C1132 828.5 1132.8 824.8 1133.8 824.5C1134.8 824.2 1135.9 826.5 1137 829.1C1138.1 831.7 1139.3 838 1140.4 840.1C1141.5 842.3 1142.4 842.3 1143.4 842.1C1144.4 842 1145.4 840.8 1146.4 839.1C1147.4 837.5 1148.2 834.1 1149.4 832.1C1150.6 830.1 1152.1 828.1 1153.4 827.1C1154.8 826.1 1156.1 826.7 1157.4 826.1C1158.8 825.5 1160.1 824.5 1161.4 823.7C1162.8 822.9 1163.9 821.4 1165.4 821.1C1166.9 820.8 1168.9 821.1 1170.5 822.1C1172 823.1 1173.1 825.9 1174.5 827.1C1175.8 828.3 1177.1 828.6 1178.5 829.1C1179.8 829.6 1181 830.2 1182.5 830.1C1184 830 1186 828.6 1187.5 828.5C1189 828.5 1190.2 829.4 1191.5 829.7C1192.8 830.1 1194 830 1195.5 830.5C1197 831.1 1199 831.7 1200.5 833.1C1202 834.6 1203 838.1 1204.5 839.1C1206 840.1 1207.9 839.5 1209.5 839.1C1211.2 838.8 1212.9 837.6 1214.5 837.1C1216.2 836.7 1218.7 836.6 1219.5 836.5" stroke="#E7A324" stroke-width="4" fill="none" stroke-linejoin="round" stroke-linecap="round"/>
<text x="1274.5" y="758.1" font-size="23.5" text-anchor="middle" class="t">P10</text>
<path d="M1241.2 845H1507.5" stroke="#000" stroke-width="3.7" fill="none" stroke-linecap="round"/>
<path d="M1278.7 797.6V891.6" stroke="#000" stroke-width="3.7" fill="none" stroke-linecap="round"/>
<path d="M1316.9 837v16M1355.1 837v16M1393.3 837v16M1431.5 837v16M1469.7 837v16" stroke="#000" stroke-width="2.1" fill="none"/>
<path d="M1239.6 844.5C1240.4 845 1242.5 847.1 1244.1 847.2C1245.6 847.3 1247.4 845.7 1249.1 845.2C1250.7 844.6 1252.4 844.2 1254.1 843.7C1255.7 843.3 1257.4 843.1 1259.1 842.5C1260.8 842 1262.4 841.2 1264.1 840.5C1265.8 839.9 1267.6 838.4 1269.1 838.5C1270.6 838.6 1271.9 839.5 1273.1 841.1C1274.3 842.7 1274.9 846.3 1276.1 848.2C1277.3 850 1278.8 851.6 1280.1 852.2C1281.5 852.8 1283 851.4 1284.1 851.8C1285.3 852.1 1286.1 854.8 1287.1 854.2C1288.1 853.6 1289.1 851.2 1290.1 848.2C1291.1 845.2 1292.1 839.1 1293.1 836.1C1294.2 833.1 1295.2 829.8 1296.2 830.1C1297.2 830.5 1298.2 834.8 1299.2 838.1C1300.2 841.5 1301.2 846.5 1302.2 850.2C1303.2 853.8 1304 856.5 1305.2 860.2C1306.3 863.9 1308 868.5 1309.2 872.2C1310.3 875.9 1311.2 877.9 1312.2 882.2C1313.2 886.6 1314.2 894.6 1315.2 898.3C1316.2 901.9 1317.2 903.9 1318.2 903.9C1319.2 903.9 1320.2 900.9 1321.2 898.3C1322.2 895.7 1323 891.4 1324.2 888.2C1325.4 885.1 1326.9 881.7 1328.2 879.2C1329.6 876.7 1330.9 873.7 1332.2 873.2C1333.6 872.7 1334.9 875.1 1336.2 876.2C1337.6 877.3 1338.9 879 1340.2 879.8C1341.6 880.7 1342.9 880.8 1344.3 881.2C1345.6 881.7 1347.1 882.6 1348.3 882.6C1349.4 882.6 1350.3 880.5 1351.3 881.2C1352.3 882 1353.3 884.9 1354.3 887.2C1355.3 889.6 1356.3 892.6 1357.3 895.3C1358.3 897.9 1359.3 900.6 1360.3 903.3C1361.3 905.9 1362.1 909.1 1363.3 911.3C1364.5 913.5 1366 915.2 1367.3 916.3C1368.6 917.4 1370 918.2 1371.3 917.9C1372.6 917.6 1374 915.2 1375.3 914.3C1376.6 913.4 1378 912.4 1379.3 912.7C1380.7 913 1382 915.6 1383.3 915.9C1384.7 916.2 1386.2 915.5 1387.3 914.7C1388.5 913.9 1389.3 913 1390.3 911.3C1391.3 909.5 1392.3 907.4 1393.3 904.3C1394.4 901.1 1395.4 896.1 1396.4 892.2C1397.4 888.4 1398.4 884.1 1399.4 881.2C1400.4 878.4 1401.4 875.9 1402.4 875.2C1403.4 874.5 1404.4 875 1405.4 877.2C1406.4 879.4 1407.4 884.1 1408.4 888.2C1409.4 892.4 1410.3 898.2 1411.4 902.3C1412.5 906.3 1413.8 911.9 1415 912.7C1416.2 913.5 1417.3 909.7 1418.4 907.3C1419.5 904.9 1420.2 900.1 1421.4 898.3C1422.6 896.4 1424.1 895.9 1425.4 896.3C1426.7 896.6 1428.1 898.9 1429.4 900.3C1430.8 901.6 1432.1 904.4 1433.4 904.3C1434.8 904.1 1436.1 901.3 1437.4 899.3C1438.8 897.3 1440.1 894.4 1441.4 892.2C1442.8 890.1 1444.1 887.7 1445.5 886.2C1446.8 884.7 1448.1 883.8 1449.5 883.2C1450.8 882.6 1452.1 883.2 1453.5 882.6C1454.8 882.1 1456.1 881.1 1457.5 879.8C1458.8 878.6 1460.1 875.8 1461.5 875.2C1462.8 874.6 1464.2 875.7 1465.5 876.2C1466.8 876.7 1468.2 878.6 1469.5 878.2C1470.8 877.9 1472.2 875.5 1473.5 874.2C1474.8 872.9 1476.2 870.9 1477.5 870.2C1478.9 869.5 1480.2 869.1 1481.5 869.8C1482.9 870.5 1484.2 873.9 1485.5 874.6C1486.9 875.3 1488 874.1 1489.5 873.8C1491 873.5 1492.9 872.9 1494.6 872.6C1496.2 872.3 1497.4 872.4 1499.6 872.2C1501.7 872 1506.2 871.4 1507.6 871.2" stroke="#000" stroke-width="4" fill="none" stroke-linejoin="round" stroke-linecap="round"/>
<path d="M1239.6 852.2C1240.4 852.3 1242.5 853.3 1244.1 853.2C1245.6 853 1247.7 852.3 1249.1 851.2C1250.4 850 1250.9 848.2 1252.1 846.2C1253.2 844.1 1254.7 840.1 1256.1 839.1C1257.4 838.1 1258.7 839.8 1260.1 840.1C1261.4 840.5 1262.6 841.1 1264.1 841.1C1265.6 841.2 1267.6 840.5 1269.1 840.5C1270.6 840.5 1271.9 840.2 1273.1 841.1C1274.3 842.1 1275.1 844.5 1276.1 846.2C1277.1 847.8 1278 849.8 1279.1 851.2C1280.3 852.5 1281.8 853.2 1283.1 854.2C1284.5 855.2 1286 857.8 1287.1 857.2C1288.3 856.5 1289.1 854 1290.1 850.2C1291.1 846.3 1292.1 837.8 1293.1 834.1C1294.2 830.5 1295.2 828.6 1296.2 828.1C1297.1 827.6 1297.9 828.8 1298.8 831.1C1299.7 833.5 1300.6 838.3 1301.6 842.1C1302.6 846 1303.7 850.5 1304.8 854.2C1305.9 857.8 1307.1 860.2 1308.2 864.2C1309.2 868.2 1310.2 873.9 1311.2 878.2C1312.2 882.6 1313.2 886.9 1314.2 890.2C1315.2 893.6 1316.2 897.9 1317.2 898.3C1318.2 898.6 1319.2 895.3 1320.2 892.2C1321.2 889.2 1322 883.9 1323.2 880.2C1324.4 876.5 1325.9 873 1327.2 870.2C1328.6 867.4 1329.9 864.9 1331.2 863.2C1332.6 861.5 1333.9 860.8 1335.2 860.2C1336.6 859.5 1337.9 859.8 1339.2 859.2C1340.6 858.5 1341.9 857.3 1343.2 856.2C1344.6 855 1346.1 852.8 1347.3 852.2C1348.4 851.6 1349.3 851.6 1350.3 852.6C1351.3 853.6 1352.1 855.6 1353.3 858.2C1354.4 860.8 1355.9 865 1357.3 868.2C1358.6 871.4 1359.9 874.6 1361.3 877.2C1362.6 879.8 1364 882.1 1365.3 883.8C1366.6 885.6 1368 886.4 1369.3 887.8C1370.6 889.2 1372 891.2 1373.3 892.2C1374.6 893.2 1376 893.1 1377.3 893.8C1378.7 894.6 1380.2 895.9 1381.3 896.7C1382.5 897.5 1383.2 898.9 1384.3 898.7C1385.5 898.4 1387 897.2 1388.3 895.3C1389.7 893.3 1391 890.9 1392.3 887.2C1393.7 883.6 1395.2 877.4 1396.4 873.2C1397.5 869 1398.4 864.7 1399.4 862.2C1400.4 859.7 1401.4 858.2 1402.4 858.2C1403.4 858.2 1404.4 859.8 1405.4 862.2C1406.4 864.5 1407.4 868.2 1408.4 872.2C1409.4 876.2 1410.3 882.2 1411.4 886.2C1412.5 890.3 1413.8 895.5 1415 896.7C1416.2 897.8 1417.3 895.2 1418.4 893.2C1419.5 891.3 1420.4 886.9 1421.4 885.2C1422.4 883.6 1423.2 882.6 1424.4 883.2C1425.6 883.9 1427.2 887.7 1428.4 889.2C1429.6 890.8 1430.3 892.8 1431.4 892.6C1432.6 892.5 1434.1 890 1435.4 888.2C1436.8 886.5 1438.1 884.1 1439.4 882.2C1440.8 880.4 1442.1 878.7 1443.4 877.2C1444.8 875.7 1446.1 874.3 1447.5 873.2C1448.8 872.1 1450.1 870.8 1451.5 870.6C1452.8 870.4 1454.1 872 1455.5 872.2C1456.8 872.4 1458.1 871.7 1459.5 871.8C1460.8 871.9 1462.2 872.7 1463.5 872.6C1464.8 872.5 1466.2 871.8 1467.5 871.2C1468.8 870.6 1470.2 869.4 1471.5 869.2C1472.8 869 1474.2 869.9 1475.5 869.8C1476.8 869.7 1478.2 868.9 1479.5 868.6C1480.9 868.3 1482.2 868.3 1483.5 868.2C1484.9 868.1 1486.2 867.6 1487.5 867.8C1488.9 868 1490.2 869.1 1491.5 869.2C1492.9 869.3 1494.2 868.8 1495.6 868.6C1496.9 868.4 1498.2 868.3 1499.6 867.8C1500.9 867.3 1502.2 866.3 1503.6 865.8C1504.9 865.3 1506.9 864.8 1507.6 864.6" stroke="#E7A324" stroke-width="4" fill="none" stroke-linejoin="round" stroke-linecap="round"/>
<text x="117.6" y="1230.8" font-size="23.5" text-anchor="middle" class="t">AF7</text>
<path d="M83.2 1369.1H351.4" stroke="#000" stroke-width="3.7" fill="none" stroke-linecap="round"/>
<path d="M121.8 1271.8V1393.9" stroke="#000" stroke-width="3.7" fill="none" stroke-linecap="round"/>
<path d="M160 1361.1v16M198.2 1361.1v16M236.4 1361.1v16M274.6 1361.1v16M312.8 1361.1v16" stroke="#000" stroke-width="2.1" fill="none"/>
<path d="M82.6 1369.6C83.3 1369.3 85.6 1367.8 87 1367.6C88.4 1367.5 89.5 1368.4 91 1368.8C92.5 1369.3 94.4 1370 96 1370.2C97.7 1370.5 99.5 1370.6 101 1370.2C102.6 1369.9 103.7 1368.7 105.1 1368.2C106.4 1367.8 107.7 1367.1 109.1 1367.6C110.4 1368.2 111.7 1371.4 113.1 1371.6C114.4 1371.9 115.7 1370.1 117.1 1369.2C118.4 1368.3 119.8 1366.9 121.1 1366.2C122.4 1365.6 123.8 1365.2 125.1 1365.2C126.4 1365.2 127.8 1365.6 129.1 1366.2C130.4 1366.9 131.9 1367.4 133.1 1369.2C134.3 1371.1 134.9 1374.4 136.1 1377.3C137.3 1380.1 138.8 1385.6 140.1 1386.3C141.5 1386.9 142.8 1384.8 144.1 1381.3C145.5 1377.8 146.8 1370.9 148.1 1365.2C149.5 1359.6 150.8 1353.9 152.2 1347.2C153.5 1340.5 155 1330.9 156.2 1325.2C157.3 1319.4 158.3 1315.5 159.2 1312.7C160 1310 160.3 1308.7 161.2 1308.7C162 1308.8 163.2 1310.7 164.2 1313.1C165.2 1315.5 166 1320.3 167.2 1323.1C168.3 1326 169.9 1328.3 171.2 1330.2C172.5 1332 173.9 1333.6 175.2 1334.2C176.5 1334.7 177.9 1333.2 179.2 1333.6C180.5 1333.9 181.9 1336 183.2 1336.2C184.5 1336.4 185.9 1334.8 187.2 1334.8C188.6 1334.8 189.9 1336.5 191.2 1336.2C192.6 1335.8 193.9 1334.1 195.2 1332.8C196.6 1331.4 197.9 1330.1 199.2 1328.2C200.6 1326.2 201.9 1323 203.3 1321.1C204.6 1319.3 205.9 1317.6 207.3 1317.1C208.6 1316.6 209.9 1317.6 211.3 1318.1C212.6 1318.6 213.9 1319 215.3 1320.1C216.6 1321.3 217.9 1323.6 219.3 1325.2C220.6 1326.7 222 1328.2 223.3 1329.2C224.6 1330.1 226 1329.8 227.3 1330.8C228.6 1331.7 230 1333.4 231.3 1334.8C232.6 1336.2 234.1 1337.1 235.3 1339.2C236.5 1341.3 237.3 1344.5 238.3 1347.2C239.3 1349.9 240.3 1352.9 241.3 1355.2C242.3 1357.6 243.3 1359.9 244.3 1361.2C245.3 1362.6 246.3 1363.9 247.3 1363.2C248.3 1362.6 249.3 1360.2 250.3 1357.2C251.3 1354.2 252.4 1349.2 253.4 1345.2C254.4 1341.2 255.5 1335.6 256.4 1333.2C257.2 1330.8 257.5 1330.4 258.4 1330.8C259.2 1331.1 260.4 1333.6 261.4 1335.2C262.4 1336.7 263.2 1339.8 264.4 1340.2C265.5 1340.5 267 1337.8 268.4 1337.2C269.7 1336.5 271.1 1336.3 272.4 1336.2C273.7 1336 275.1 1335.7 276.4 1336.2C277.7 1336.6 279.1 1337.6 280.4 1338.8C281.7 1339.9 283.1 1341.5 284.4 1343.2C285.8 1344.9 287.1 1347.5 288.4 1349.2C289.8 1350.9 291.1 1352.7 292.4 1353.6C293.8 1354.5 295.1 1354.4 296.4 1354.8C297.8 1355.2 299.1 1355.8 300.4 1356.2C301.8 1356.6 303.3 1357.1 304.5 1357.2C305.6 1357.3 306.5 1357.3 307.5 1356.8C308.5 1356.3 309.3 1354.5 310.5 1354.2C311.6 1353.9 313.1 1354.7 314.5 1355.2C315.8 1355.7 317.1 1356.7 318.5 1357.2C319.8 1357.7 321.2 1357.9 322.5 1358.2C323.8 1358.6 325.2 1359.7 326.5 1359.2C327.8 1358.8 329.2 1355.8 330.5 1355.6C331.8 1355.4 333.2 1357.3 334.5 1358.2C335.9 1359.2 337.2 1360.1 338.5 1361.2C339.9 1362.3 341.2 1364.4 342.5 1364.8C343.9 1365.2 345 1363.8 346.5 1363.6C348 1363.4 350.7 1363.6 351.5 1363.6" stroke="#000" stroke-width="4" fill="none" stroke-linejoin="round" stroke-linecap="round"/>
<path d="M82.6 1369.2C83.3 1369.2 85.6 1368.7 87 1368.8C88.4 1369 89.5 1369.4 91 1370.2C92.5 1371 94.4 1372.9 96 1373.6C97.7 1374.4 99.5 1375.1 101 1374.9C102.6 1374.6 103.7 1373.5 105.1 1372.2C106.4 1371 107.7 1367.7 109.1 1367.2C110.4 1366.7 111.7 1369.1 113.1 1369.2C114.4 1369.4 115.7 1369.2 117.1 1368.2C118.4 1367.3 119.8 1364.3 121.1 1363.6C122.4 1363 123.8 1364 125.1 1364.2C126.4 1364.4 127.9 1364.3 129.1 1364.8C130.3 1365.3 131.1 1365.5 132.1 1367.2C133.1 1369 134.1 1372.8 135.1 1375.3C136.1 1377.7 137.1 1380.5 138.1 1381.7C139.1 1382.8 140.1 1383.7 141.1 1382.3C142.1 1380.9 143 1376.6 144.1 1373.2C145.3 1369.9 146.8 1366.2 148.1 1362.2C149.5 1358.2 151 1353.7 152.2 1349.2C153.3 1344.7 154.2 1339.3 155.2 1335.2C156.2 1331 157.2 1327 158.2 1324.2C159.2 1321.3 160.2 1318.5 161.2 1318.1C162.2 1317.8 163.2 1320 164.2 1322.1C165.2 1324.3 166 1328.7 167.2 1331.2C168.3 1333.7 169.9 1335.3 171.2 1337.2C172.5 1339 173.9 1340.9 175.2 1342.2C176.5 1343.5 177.9 1344.4 179.2 1345.2C180.5 1346 181.9 1346.7 183.2 1347.2C184.5 1347.7 185.9 1347.9 187.2 1348.2C188.6 1348.5 189.9 1349.7 191.2 1349.2C192.6 1348.7 193.9 1346.9 195.2 1345.2C196.6 1343.5 197.9 1341.4 199.2 1339.2C200.6 1337 201.9 1334.3 203.3 1332.2C204.6 1330 205.9 1326.7 207.3 1326.2C208.6 1325.7 209.9 1328.4 211.3 1329.2C212.6 1329.9 213.9 1329.8 215.3 1330.8C216.6 1331.8 217.9 1334.1 219.3 1335.2C220.6 1336.2 222 1336.6 223.3 1337.2C224.6 1337.8 226 1337.8 227.3 1338.8C228.6 1339.8 230 1341.1 231.3 1343.2C232.6 1345.3 234 1348.2 235.3 1351.2C236.7 1354.2 238.2 1358.1 239.3 1361.2C240.5 1364.4 241.3 1368.2 242.3 1370.2C243.3 1372.3 244.3 1373.1 245.3 1373.6C246.3 1374.2 247.3 1374.2 248.3 1373.2C249.3 1372.3 250.3 1370.9 251.3 1368.2C252.4 1365.6 253.2 1360.7 254.4 1357.2C255.5 1353.7 257.2 1348.7 258.4 1347.2C259.5 1345.7 260.4 1347 261.4 1348.2C262.4 1349.4 263.2 1353.4 264.4 1354.2C265.5 1355 267 1353.9 268.4 1353.2C269.7 1352.5 271.1 1351.2 272.4 1350.2C273.7 1349.2 275.1 1347.2 276.4 1347.2C277.7 1347.2 279.1 1348.9 280.4 1350.2C281.7 1351.5 283.1 1353.7 284.4 1355.2C285.8 1356.7 287.1 1358.2 288.4 1359.2C289.8 1360.2 291.1 1360.7 292.4 1361.2C293.8 1361.7 295.1 1361.8 296.4 1362.2C297.8 1362.6 299.1 1364 300.4 1363.6C301.8 1363.3 303.1 1361 304.5 1360.2C305.8 1359.4 307.1 1359.3 308.5 1358.8C309.8 1358.3 311.1 1357.3 312.5 1357.2C313.8 1357.1 315.1 1358.2 316.5 1358.2C317.8 1358.3 319.2 1357.5 320.5 1357.6C321.8 1357.8 323.2 1358.6 324.5 1359.2C325.8 1359.8 327.2 1361.6 328.5 1361.2C329.8 1360.9 331.2 1357.9 332.5 1357.2C333.8 1356.5 335 1357.1 336.5 1357.2C338 1357.3 339.9 1357.5 341.5 1357.6C343.2 1357.8 344.9 1358 346.5 1358.2C348.2 1358.5 350.7 1359.1 351.5 1359.2" stroke="#E7A324" stroke-width="4" fill="none" stroke-linejoin="round" stroke-linecap="round"/>
<text x="406.4" y="1230.8" font-size="23.5" text-anchor="middle" class="t">AF3</text>
<path d="M372 1369.1H640.2" stroke="#000" stroke-width="3.7" fill="none" stroke-linecap="round"/>
<path d="M410.6 1271.8V1393.9" stroke="#000" stroke-width="3.7" fill="none" stroke-linecap="round"/>
<path d="M448.8 1361.1v16M487 1361.1v16M525.2 1361.1v16M563.4 1361.1v16M601.6 1361.1v16" stroke="#000" stroke-width="2.1" fill="none"/>
<path d="M371.6 1368.2C372.3 1367.8 374.6 1365.7 376 1365.6C377.4 1365.5 378.5 1366.6 380 1367.6C381.5 1368.6 383.4 1371 385 1371.6C386.7 1372.3 388.4 1371.9 390 1371.6C391.7 1371.4 393.6 1369.8 395.1 1370.2C396.6 1370.7 397.7 1373.9 399.1 1374.3C400.4 1374.6 401.7 1373.4 403.1 1372.2C404.4 1371.1 405.7 1368.5 407.1 1367.2C408.4 1366 409.8 1365.3 411.1 1364.8C412.4 1364.3 413.8 1364 415.1 1364.2C416.4 1364.5 417.8 1364.7 419.1 1366.2C420.4 1367.7 421.9 1370.4 423.1 1373.2C424.3 1376.1 425.1 1380.7 426.1 1383.3C427.1 1385.9 428.1 1388.5 429.1 1388.9C430.1 1389.2 431 1388.5 432.1 1385.3C433.3 1382 434.8 1374.9 436.1 1369.2C437.5 1363.6 438.8 1357.9 440.1 1351.2C441.5 1344.5 443 1335 444.2 1329.2C445.3 1323.3 446.2 1319.1 447.2 1316.1C448.2 1313.2 449.2 1311.7 450.2 1311.5C451.2 1311.4 452.2 1313 453.2 1315.1C454.2 1317.2 455 1321.5 456.2 1324.2C457.3 1326.8 458.9 1329.3 460.2 1331.2C461.5 1333 462.9 1334.7 464.2 1335.2C465.5 1335.7 466.9 1334.1 468.2 1334.2C469.5 1334.2 470.9 1335.9 472.2 1335.6C473.5 1335.2 474.9 1333.2 476.2 1332.2C477.6 1331.2 478.9 1330.4 480.2 1329.6C481.6 1328.7 482.9 1329.1 484.2 1327.2C485.6 1325.3 486.9 1321 488.2 1318.1C489.6 1315.3 490.9 1312.1 492.3 1310.1C493.6 1308.1 495.1 1306.9 496.3 1306.1C497.4 1305.3 498.1 1304.9 499.3 1305.1C500.4 1305.3 501.9 1306.3 503.3 1307.1C504.6 1308 506.1 1309.1 507.3 1310.1C508.5 1311.1 509.1 1312.6 510.3 1313.1C511.5 1313.7 513 1312.9 514.3 1313.5C515.6 1314.2 517 1316 518.3 1317.1C519.6 1318.2 521.1 1318.6 522.3 1320.1C523.5 1321.6 524.3 1324 525.3 1326.2C526.3 1328.3 527.3 1330.7 528.3 1333.2C529.3 1335.7 530.2 1338.8 531.3 1341.2C532.5 1343.5 534.2 1346.9 535.3 1347.2C536.5 1347.5 537.3 1346.2 538.3 1343.2C539.3 1340.2 540.3 1333.5 541.4 1329.2C542.4 1324.8 543.4 1319.9 544.4 1317.1C545.4 1314.4 546.4 1312.7 547.4 1312.7C548.4 1312.7 549.4 1315.5 550.4 1317.1C551.4 1318.8 552.4 1322.3 553.4 1322.7C554.4 1323.1 555.2 1320.2 556.4 1319.5C557.5 1318.9 559.1 1319 560.4 1318.7C561.7 1318.5 563.1 1318 564.4 1318.1C565.7 1318.3 567.1 1318.4 568.4 1319.5C569.7 1320.7 571.1 1323.2 572.4 1325.2C573.7 1327.1 575.1 1329.3 576.4 1331.2C577.8 1333 579.1 1334.7 580.4 1336.2C581.8 1337.7 583.1 1339.2 584.4 1340.2C585.8 1341.2 587.1 1341.4 588.4 1342.2C589.8 1343 591.3 1344.4 592.5 1345.2C593.6 1346 594.5 1347 595.5 1346.8C596.5 1346.6 597.3 1344.3 598.5 1344.2C599.6 1344.1 601.1 1345.5 602.5 1346.2C603.8 1346.9 605.1 1347.6 606.5 1348.2C607.8 1348.8 609.2 1349.3 610.5 1349.6C611.8 1349.9 613.2 1350.3 614.5 1350.2C615.8 1350.1 617.2 1349.5 618.5 1349.2C619.8 1348.9 621.2 1348.3 622.5 1348.2C623.8 1348.1 625.2 1348.3 626.5 1348.8C627.9 1349.3 629.2 1350.4 630.5 1351.2C631.9 1352 632.9 1353.8 634.5 1353.6C636.2 1353.4 639.5 1350.8 640.5 1350.2" stroke="#000" stroke-width="4" fill="none" stroke-linejoin="round" stroke-linecap="round"/>
<path d="M371.6 1369.2C372.3 1369.2 374.6 1368.9 376 1369.2C377.4 1369.6 378.5 1370.4 380 1371.2C381.5 1372.1 383.4 1373.6 385 1374.3C386.7 1374.9 388.4 1375.4 390 1374.9C391.7 1374.4 393.6 1372.2 395.1 1371.2C396.6 1370.3 397.7 1369.2 399.1 1369.2C400.4 1369.3 401.7 1372 403.1 1371.6C404.4 1371.3 405.7 1368.6 407.1 1367.2C408.4 1365.9 409.8 1364 411.1 1363.6C412.4 1363.2 413.8 1364.2 415.1 1364.8C416.4 1365.5 417.9 1366.2 419.1 1367.6C420.3 1369 421.1 1371 422.1 1373.2C423.1 1375.5 424.1 1379.2 425.1 1381.3C426.1 1383.3 427.1 1385.3 428.1 1385.7C429.1 1386.1 430 1386.1 431.1 1383.7C432.3 1381.3 433.8 1375.7 435.1 1371.2C436.5 1366.8 437.8 1362.2 439.1 1357.2C440.5 1352.2 442 1346.4 443.2 1341.2C444.3 1336 445.2 1329.8 446.2 1326.2C447.2 1322.5 448.2 1320 449.2 1319.5C450.2 1319 451.2 1320.9 452.2 1323.1C453.2 1325.4 454 1330.2 455.2 1333.2C456.3 1336.2 457.9 1338.8 459.2 1341.2C460.5 1343.5 461.9 1345.6 463.2 1347.2C464.5 1348.8 465.9 1349.9 467.2 1350.8C468.5 1351.7 469.9 1352.3 471.2 1352.8C472.5 1353.3 473.9 1353.4 475.2 1353.6C476.6 1353.8 477.9 1354.6 479.2 1354.2C480.6 1353.8 481.9 1353 483.2 1351.2C484.6 1349.4 485.9 1346.5 487.2 1343.2C488.6 1339.8 489.9 1334.6 491.3 1331.2C492.6 1327.8 494.1 1324.5 495.3 1322.7C496.4 1321 497.3 1320.7 498.3 1320.7C499.3 1320.7 500.3 1322.7 501.3 1322.7C502.3 1322.8 503.1 1320.9 504.3 1321.1C505.4 1321.4 506.9 1323.8 508.3 1324.2C509.6 1324.5 511.1 1323.4 512.3 1323.1C513.5 1322.9 514.1 1322.1 515.3 1322.7C516.5 1323.4 518 1325.4 519.3 1327.2C520.6 1328.9 522 1330.5 523.3 1333.2C524.7 1335.8 526 1339.8 527.3 1343.2C528.7 1346.5 530.1 1350.6 531.3 1353.2C532.6 1355.8 533.6 1358.7 534.7 1358.8C535.8 1359 536.8 1357 537.9 1354.2C539 1351.4 540.1 1346.4 541.4 1342.2C542.6 1338 544.2 1332.1 545.4 1329.2C546.5 1326.3 547.4 1325.1 548.4 1324.8C549.4 1324.4 550.2 1325.9 551.4 1327.2C552.5 1328.4 554 1331.7 555.4 1332.2C556.7 1332.7 558.1 1331.2 559.4 1330.2C560.7 1329.2 562.1 1327.1 563.4 1326.2C564.7 1325.3 566.1 1324.3 567.4 1324.8C568.7 1325.3 570.1 1327.4 571.4 1329.2C572.7 1330.9 574.1 1333.2 575.4 1335.2C576.8 1337.2 578.1 1339.8 579.4 1341.2C580.8 1342.5 582.1 1342.8 583.4 1343.2C584.8 1343.6 586.1 1343.4 587.4 1343.6C588.8 1343.8 590.1 1344.6 591.5 1344.2C592.8 1343.8 594.1 1341.5 595.5 1341.2C596.8 1340.9 598.1 1342.2 599.5 1342.2C600.8 1342.2 602.1 1341.1 603.5 1341.2C604.8 1341.3 606.1 1342.3 607.5 1342.8C608.8 1343.3 610.2 1343.9 611.5 1344.2C612.8 1344.5 614.2 1344.4 615.5 1344.8C616.8 1345.2 618.2 1346.5 619.5 1346.8C620.8 1347.1 622.2 1347 623.5 1346.8C624.9 1346.6 626.2 1345.5 627.5 1345.6C628.9 1345.7 630.2 1346.6 631.5 1347.2C632.9 1347.8 634 1348.8 635.5 1349.2C637 1349.6 639.7 1349.5 640.5 1349.6" stroke="#E7A324" stroke-width="4" fill="none" stroke-linejoin="round" stroke-linecap="round"/>
<text x="696" y="1230.8" font-size="23.5" text-anchor="middle" class="t">FPz</text>
<path d="M661.6 1369.1H929.8" stroke="#000" stroke-width="3.7" fill="none" stroke-linecap="round"/>
<path d="M700.2 1271.8V1393.9" stroke="#000" stroke-width="3.7" fill="none" stroke-linecap="round"/>
<path d="M738.4 1361.1v16M776.6 1361.1v16M814.8 1361.1v16M853 1361.1v16M891.2 1361.1v16" stroke="#000" stroke-width="2.1" fill="none"/>
<path d="M660.6 1364.2C661.3 1364.7 663.6 1366.2 665 1367.2C666.4 1368.2 667.5 1369.5 669 1370.2C670.5 1371 672.4 1371.5 674 1371.6C675.7 1371.8 677.4 1371.5 679 1371.2C680.7 1371 682.6 1369.8 684.1 1370.2C685.6 1370.6 686.7 1373.3 688.1 1373.6C689.4 1374 690.7 1373.3 692.1 1372.2C693.4 1371.2 694.7 1368.9 696.1 1367.2C697.4 1365.6 698.8 1363.3 700.1 1362.2C701.4 1361.2 702.8 1360.8 704.1 1360.8C705.4 1360.8 706.8 1361.2 708.1 1362.2C709.4 1363.3 710.9 1365.1 712.1 1367.2C713.3 1369.4 714.1 1373.1 715.1 1375.3C716.1 1377.4 717.1 1379.9 718.1 1380.3C719.1 1380.6 720.1 1380.4 721.1 1377.3C722.1 1374.1 723 1365.6 724.1 1361.2C725.3 1356.9 726.8 1355.2 728.1 1351.2C729.5 1347.2 731 1342.9 732.2 1337.2C733.3 1331.5 734.3 1322.5 735.2 1317.1C736.1 1311.8 736.7 1307.7 737.6 1305.1C738.4 1302.5 739.2 1301.2 740.2 1301.5C741.1 1301.8 742.2 1304.8 743.2 1307.1C744.2 1309.4 745 1312.8 746.2 1315.1C747.4 1317.5 748.9 1319.7 750.2 1321.1C751.5 1322.5 752.9 1323.4 754.2 1323.5C755.5 1323.7 756.9 1322.1 758.2 1322.1C759.5 1322.1 760.9 1323.1 762.2 1323.5C763.6 1324 764.9 1324.3 766.2 1324.8C767.6 1325.2 768.9 1326.4 770.2 1326.2C771.6 1325.9 772.9 1324.7 774.2 1323.1C775.6 1321.6 776.9 1319.1 778.2 1317.1C779.6 1315.1 780.9 1313 782.3 1311.1C783.6 1309.3 785.1 1307.1 786.3 1306.1C787.4 1305.1 788.1 1304.9 789.3 1305.1C790.4 1305.3 791.9 1306.4 793.3 1307.1C794.6 1307.9 795.9 1308.9 797.3 1309.5C798.6 1310.1 800 1310.3 801.3 1310.7C802.6 1311.2 804 1311.2 805.3 1312.1C806.6 1313 808 1314.7 809.3 1316.1C810.6 1317.6 812.1 1318.6 813.3 1320.7C814.5 1322.9 815.3 1326.4 816.3 1329.2C817.3 1331.9 818.3 1334.8 819.3 1337.2C820.3 1339.5 821.3 1341.9 822.3 1343.2C823.3 1344.5 824.3 1345.9 825.3 1345.2C826.3 1344.5 827.3 1341.9 828.3 1339.2C829.3 1336.5 830.4 1332.7 831.4 1329.2C832.4 1325.7 833.4 1320.8 834.4 1318.1C835.4 1315.5 836.4 1313.3 837.4 1313.1C838.4 1313 839.4 1315.6 840.4 1317.1C841.4 1318.6 842.2 1321.6 843.4 1322.1C844.5 1322.6 846 1320.8 847.4 1320.1C848.7 1319.5 850.1 1318.4 851.4 1318.1C852.7 1317.9 854.1 1317.9 855.4 1318.7C856.7 1319.6 858.1 1321.4 859.4 1323.1C860.7 1324.9 862.1 1327.2 863.4 1329.2C864.8 1331.2 866.1 1333.5 867.4 1335.2C868.8 1336.8 870.1 1338.2 871.4 1339.2C872.8 1340.2 874.1 1340.5 875.4 1341.2C876.8 1341.9 878.1 1343.1 879.4 1343.2C880.8 1343.3 882.1 1342.6 883.5 1341.6C884.8 1340.6 886.3 1338.1 887.5 1337.2C888.6 1336.3 889.3 1335.8 890.5 1336.2C891.6 1336.5 893.1 1338.3 894.5 1339.2C895.8 1340 897.2 1340.6 898.5 1341.2C899.8 1341.8 901.2 1342.4 902.5 1342.8C903.8 1343.2 905.3 1343.8 906.5 1343.6C907.7 1343.4 908.3 1341.5 909.5 1341.6C910.7 1341.7 912.2 1343.7 913.5 1344.2C914.9 1344.7 916.2 1344.4 917.5 1344.8C918.9 1345.2 920.2 1346.4 921.5 1346.8C922.9 1347.2 924.2 1347.2 925.5 1347.2C926.9 1347.2 928.9 1346.9 929.5 1346.8" stroke="#000" stroke-width="4" fill="none" stroke-linejoin="round" stroke-linecap="round"/>
<path d="M660.6 1366.2C661.3 1366.1 663.6 1365.5 665 1365.6C666.4 1365.7 667.5 1365.7 669 1366.8C670.5 1367.9 672.4 1370.9 674 1372.2C675.7 1373.6 677.4 1375 679 1374.9C680.7 1374.8 682.6 1372.6 684.1 1371.6C685.6 1370.7 686.7 1369.2 688.1 1369.2C689.4 1369.2 690.9 1372 692.1 1371.6C693.2 1371.3 693.9 1369 695.1 1367.2C696.2 1365.5 697.8 1362.2 699.1 1361.2C700.4 1360.2 701.8 1360.9 703.1 1361.2C704.4 1361.6 705.8 1361.9 707.1 1363.2C708.4 1364.6 709.9 1366.9 711.1 1369.2C712.3 1371.6 713.1 1374.8 714.1 1377.3C715.1 1379.8 716.1 1383.7 717.1 1384.3C718.1 1384.9 719.1 1383.4 720.1 1380.9C721.1 1378.4 722.1 1372.8 723.1 1369.2C724.1 1365.6 725 1362.2 726.1 1359.2C727.3 1356.2 729 1354.5 730.2 1351.2C731.3 1347.9 732.2 1343.9 733.2 1339.2C734.2 1334.5 735.2 1327 736.2 1323.1C737.2 1319.3 738.2 1316.5 739.2 1316.1C740.2 1315.8 741.2 1319.1 742.2 1321.1C743.2 1323.1 744 1326.2 745.2 1328.2C746.3 1330.2 747.9 1331.7 749.2 1333.2C750.5 1334.7 751.9 1336 753.2 1337.2C754.5 1338.3 755.9 1339.5 757.2 1340.2C758.5 1340.9 759.9 1340.5 761.2 1341.2C762.5 1341.9 764.1 1343.4 765.2 1344.2C766.4 1345 767.1 1346.4 768.2 1346.2C769.4 1346 770.9 1344.4 772.2 1343.2C773.6 1342 774.9 1341.1 776.2 1338.8C777.6 1336.4 778.9 1332 780.3 1329.2C781.6 1326.3 782.9 1323 784.3 1321.5C785.6 1320 786.9 1320.2 788.3 1320.1C789.6 1320.1 790.9 1320.8 792.3 1321.1C793.6 1321.5 794.9 1321.7 796.3 1322.1C797.6 1322.5 799 1323.1 800.3 1323.5C801.6 1324 803 1323.6 804.3 1324.8C805.6 1325.9 807 1327.8 808.3 1330.2C809.6 1332.6 811 1336 812.3 1339.2C813.7 1342.4 815 1346 816.3 1349.2C817.7 1352.4 819 1355.9 820.3 1358.2C821.7 1360.6 823.2 1362.7 824.3 1363.2C825.5 1363.7 826.3 1363.6 827.3 1361.2C828.3 1358.9 829.3 1353.2 830.4 1349.2C831.4 1345.2 832.4 1339.9 833.4 1337.2C834.4 1334.4 835.4 1333.1 836.4 1332.8C837.4 1332.4 838.4 1333.6 839.4 1335.2C840.4 1336.7 841.4 1340.9 842.4 1342.2C843.4 1343.5 844.4 1343.7 845.4 1343.2C846.4 1342.7 847.2 1340.2 848.4 1339.2C849.6 1338.1 851.1 1337.1 852.4 1336.8C853.7 1336.4 855.1 1336.3 856.4 1337.2C857.7 1338.1 859.1 1340.3 860.4 1342.2C861.7 1344 863.1 1346.5 864.4 1348.2C865.8 1349.9 867.1 1351.4 868.4 1352.2C869.8 1353 871.1 1352.9 872.4 1353.2C873.8 1353.5 875.1 1354.5 876.4 1354.2C877.8 1353.9 879.1 1352 880.5 1351.2C881.8 1350.4 883.1 1349.7 884.5 1349.2C885.8 1348.7 887.1 1348.4 888.5 1348.2C889.8 1348 891.1 1348 892.5 1348.2C893.8 1348.4 895.1 1349 896.5 1349.2C897.8 1349.4 899.2 1349.3 900.5 1349.6C901.8 1349.9 903.2 1351.1 904.5 1351.2C905.8 1351.3 907.2 1350.6 908.5 1350.2C909.8 1349.8 911.2 1349.1 912.5 1348.8C913.9 1348.5 915.2 1348.1 916.5 1348.2C917.9 1348.3 919.2 1348.8 920.5 1349.2C921.9 1349.6 923 1350.4 924.5 1350.8C926 1351.2 928.7 1351.5 929.5 1351.6" stroke="#E7A324" stroke-width="4" fill="none" stroke-linejoin="round" stroke-linecap="round"/>
<text x="984.6" y="1230.8" font-size="23.5" text-anchor="middle" class="t">AF4</text>
<path d="M950.2 1369.1H1218.4" stroke="#000" stroke-width="3.7" fill="none" stroke-linecap="round"/>
<path d="M988.8 1271.8V1393.9" stroke="#000" stroke-width="3.7" fill="none" stroke-linecap="round"/>
<path d="M1027 1361.1v16M1065.2 1361.1v16M1103.4 1361.1v16M1141.6 1361.1v16M1179.8 1361.1v16" stroke="#000" stroke-width="2.1" fill="none"/>
<path d="M949.6 1367.2C950.3 1367.4 952.5 1367.7 954 1368.2C955.6 1368.7 957.4 1370.1 959 1370.2C960.7 1370.4 962.4 1368.9 964 1369.2C965.7 1369.6 967.5 1371.3 969.1 1372.2C970.6 1373.2 971.7 1374.3 973.1 1374.9C974.4 1375.4 975.7 1375.9 977.1 1375.7C978.4 1375.4 979.7 1374.5 981.1 1373.2C982.4 1372 983.7 1369.8 985.1 1368.2C986.4 1366.6 987.8 1364.5 989.1 1363.6C990.4 1362.8 991.8 1363.1 993.1 1363.2C994.4 1363.3 995.8 1363.6 997.1 1364.2C998.4 1364.9 999.9 1365.4 1001.1 1367.2C1002.3 1369.1 1003.1 1372.2 1004.1 1375.3C1005.1 1378.3 1006.1 1384.3 1007.1 1385.3C1008.1 1386.3 1009.1 1383.9 1010.1 1381.3C1011.1 1378.6 1012 1373.6 1013.1 1369.2C1014.3 1364.9 1015.8 1360.2 1017.1 1355.2C1018.5 1350.2 1020 1344.9 1021.2 1339.2C1022.3 1333.5 1023.3 1325.8 1024.2 1321.1C1025.1 1316.5 1025.7 1313.4 1026.6 1311.1C1027.4 1308.9 1028.2 1307 1029.2 1307.5C1030.1 1308 1031.2 1311.5 1032.2 1314.1C1033.2 1316.7 1034 1320.6 1035.2 1323.1C1036.4 1325.7 1037.9 1327.6 1039.2 1329.2C1040.5 1330.8 1041.9 1332.1 1043.2 1332.8C1044.5 1333.4 1045.9 1333.1 1047.2 1333.2C1048.5 1333.2 1049.9 1333.2 1051.2 1333.2C1052.6 1333.1 1053.9 1332.8 1055.2 1332.8C1056.6 1332.8 1057.9 1333.4 1059.2 1333.2C1060.6 1332.9 1061.9 1332.8 1063.2 1331.2C1064.6 1329.5 1065.9 1325.8 1067.2 1323.1C1068.6 1320.5 1069.9 1317.6 1071.3 1315.1C1072.6 1312.6 1073.9 1309.8 1075.3 1308.1C1076.6 1306.4 1077.9 1305.8 1079.3 1305.1C1080.6 1304.4 1081.9 1303.9 1083.3 1304.1C1084.6 1304.3 1086 1305.8 1087.3 1306.1C1088.6 1306.4 1090 1306.2 1091.3 1306.1C1092.6 1306 1094 1305.3 1095.3 1305.5C1096.6 1305.7 1098.1 1306.4 1099.3 1307.5C1100.5 1308.6 1101.3 1310 1102.3 1312.1C1103.3 1314.2 1104.3 1317.3 1105.3 1320.1C1106.3 1323 1107.2 1326.3 1108.3 1329.2C1109.5 1332 1111.2 1336.2 1112.3 1337.2C1113.5 1338.2 1114.3 1336.8 1115.3 1335.2C1116.3 1333.5 1117.3 1330.3 1118.3 1327.2C1119.4 1324 1120.4 1319.3 1121.4 1316.1C1122.4 1313 1123.5 1309.7 1124.4 1308.1C1125.3 1306.5 1125.9 1306.2 1126.8 1306.7C1127.6 1307.2 1128.4 1309.4 1129.4 1311.1C1130.3 1312.9 1131.4 1316.8 1132.4 1317.1C1133.4 1317.5 1134.2 1314.6 1135.4 1313.1C1136.6 1311.6 1138.1 1309.6 1139.4 1308.1C1140.7 1306.6 1142.1 1304.4 1143.4 1304.1C1144.7 1303.8 1146.2 1305.1 1147.4 1306.1C1148.6 1307.1 1149.2 1308.5 1150.4 1310.1C1151.6 1311.8 1153.1 1314.3 1154.4 1316.1C1155.8 1318 1157.1 1319.5 1158.4 1321.1C1159.8 1322.8 1161.1 1324.8 1162.4 1326.2C1163.8 1327.5 1165.3 1328.3 1166.4 1329.2C1167.6 1330 1168.4 1330 1169.5 1331.2C1170.5 1332.3 1171.5 1335.9 1172.5 1336.2C1173.5 1336.4 1174.5 1333.9 1175.5 1332.8C1176.5 1331.6 1177.3 1329.5 1178.5 1329.2C1179.6 1328.8 1181.1 1330.4 1182.5 1330.8C1183.8 1331.1 1185.1 1330.8 1186.5 1331.2C1187.8 1331.6 1189.2 1332.7 1190.5 1333.2C1191.8 1333.7 1193.2 1334.6 1194.5 1334.2C1195.8 1333.8 1197.2 1330.9 1198.5 1330.8C1199.8 1330.7 1201.2 1333.2 1202.5 1333.6C1203.9 1334 1205.2 1332.9 1206.5 1333.2C1207.9 1333.4 1209.2 1335 1210.5 1335.2C1211.9 1335.3 1213.2 1334.3 1214.5 1334.2C1215.9 1334 1217.9 1334.2 1218.5 1334.2" stroke="#000" stroke-width="4" fill="none" stroke-linejoin="round" stroke-linecap="round"/>
<path d="M949.6 1364.2C950.3 1364.1 952.6 1363.6 954 1363.6C955.4 1363.6 956.7 1363.3 958 1364.2C959.4 1365.2 960.7 1367.6 962 1369.2C963.4 1370.9 964.7 1372.9 966 1374.3C967.4 1375.6 968.7 1377.3 970.1 1377.3C971.4 1377.3 972.7 1375.1 974.1 1374.3C975.4 1373.4 976.7 1373.1 978.1 1372.2C979.4 1371.4 980.7 1370.3 982.1 1369.2C983.4 1368.1 984.7 1366.5 986.1 1365.6C987.4 1364.8 988.8 1364.3 990.1 1364.2C991.4 1364.2 992.8 1364.7 994.1 1365.2C995.4 1365.8 996.9 1366.1 998.1 1367.6C999.3 1369.1 1000.1 1371.8 1001.1 1374.3C1002.1 1376.7 1003.1 1380.2 1004.1 1382.3C1005.1 1384.4 1006.1 1386.7 1007.1 1386.9C1008.1 1387 1009.1 1385.9 1010.1 1383.3C1011.1 1380.7 1012 1375.4 1013.1 1371.2C1014.3 1367.1 1015.8 1362.9 1017.1 1358.2C1018.5 1353.5 1020 1348 1021.2 1343.2C1022.3 1338.3 1023.2 1332.8 1024.2 1329.2C1025.2 1325.6 1026.2 1322.2 1027.2 1321.5C1028.2 1320.9 1029.2 1322.9 1030.2 1325.2C1031.2 1327.4 1032 1332.2 1033.2 1335.2C1034.3 1338.2 1035.9 1340.9 1037.2 1343.2C1038.5 1345.5 1039.9 1347.5 1041.2 1349.2C1042.5 1350.9 1043.9 1352 1045.2 1353.2C1046.5 1354.4 1047.9 1355.3 1049.2 1356.2C1050.5 1357.1 1051.9 1358.2 1053.2 1358.8C1054.6 1359.5 1055.9 1360.3 1057.2 1360.2C1058.6 1360.1 1059.9 1359.4 1061.2 1358.2C1062.6 1357 1063.9 1355.7 1065.2 1353.2C1066.6 1350.7 1067.9 1346.2 1069.3 1343.2C1070.6 1340.2 1071.9 1337.2 1073.3 1335.2C1074.6 1333.2 1075.9 1332.2 1077.3 1331.2C1078.6 1330.2 1080.1 1330 1081.3 1329.2C1082.4 1328.3 1083.1 1326.7 1084.3 1326.2C1085.4 1325.7 1087 1326.1 1088.3 1326.2C1089.6 1326.3 1091 1326.3 1092.3 1326.8C1093.6 1327.3 1095 1327.8 1096.3 1329.2C1097.6 1330.6 1099 1332.8 1100.3 1335.2C1101.6 1337.5 1103 1340.2 1104.3 1343.2C1105.7 1346.2 1107 1350.2 1108.3 1353.2C1109.7 1356.2 1111.2 1360.2 1112.3 1361.2C1113.5 1362.2 1114.3 1361.2 1115.3 1359.2C1116.3 1357.2 1117.2 1353.2 1118.3 1349.2C1119.5 1345.2 1121.2 1338.5 1122.4 1335.2C1123.5 1331.8 1124.4 1329.7 1125.4 1329.2C1126.4 1328.7 1127.4 1330.7 1128.4 1332.2C1129.4 1333.7 1130.4 1337 1131.4 1338.2C1132.4 1339.3 1133.4 1340 1134.4 1339.2C1135.4 1338.3 1136.2 1334.8 1137.4 1333.2C1138.6 1331.5 1140.1 1330 1141.4 1329.2C1142.7 1328.3 1144.2 1328 1145.4 1328.2C1146.6 1328.3 1147.2 1329 1148.4 1330.2C1149.6 1331.3 1151.1 1333.5 1152.4 1335.2C1153.8 1336.8 1155.1 1338.8 1156.4 1340.2C1157.8 1341.5 1159.1 1342.6 1160.4 1343.2C1161.8 1343.8 1163.1 1343.6 1164.4 1343.6C1165.8 1343.6 1167.1 1343.5 1168.4 1343.2C1169.8 1342.9 1171.1 1342.2 1172.5 1341.6C1173.8 1341 1175.1 1340 1176.5 1339.6C1177.8 1339.1 1179.1 1339 1180.5 1338.8C1181.8 1338.5 1183.1 1337.9 1184.5 1338.2C1185.8 1338.4 1187.2 1339.5 1188.5 1340.2C1189.8 1340.9 1191.2 1341.9 1192.5 1342.2C1193.8 1342.5 1195.2 1342.3 1196.5 1342.2C1197.8 1342.1 1199.2 1341.8 1200.5 1341.6C1201.8 1341.4 1203.2 1341.1 1204.5 1340.8C1205.9 1340.4 1207 1339.8 1208.5 1339.6C1210 1339.3 1211.9 1338.9 1213.5 1339.2C1215.2 1339.4 1217.7 1340.9 1218.5 1341.2" stroke="#E7A324" stroke-width="4" fill="none" stroke-linejoin="round" stroke-linecap="round"/>
<text x="1274.2" y="1230.8" font-size="23.5" text-anchor="middle" class="t">AF8</text>
<path d="M1239.8 1369.1H1508" stroke="#000" stroke-width="3.7" fill="none" stroke-linecap="round"/>
<path d="M1278.4 1271.8V1393.9" stroke="#000" stroke-width="3.7" fill="none" stroke-linecap="round"/>
<path d="M1316.6 1361.1v16M1354.8 1361.1v16M1393 1361.1v16M1431.2 1361.1v16M1469.4 1361.1v16" stroke="#000" stroke-width="2.1" fill="none"/>
<path d="M1239 1369.2C1239.9 1368.9 1242.4 1367.4 1244.1 1367.2C1245.7 1367.1 1247.4 1367.7 1249.1 1368.2C1250.7 1368.7 1252.4 1369.5 1254.1 1370.2C1255.7 1371 1257.4 1372.2 1259.1 1372.8C1260.8 1373.5 1262.4 1374 1264.1 1374.3C1265.8 1374.5 1267.6 1374.7 1269.1 1374.3C1270.6 1373.8 1271.8 1372.6 1273.1 1371.6C1274.4 1370.6 1275.8 1369.3 1277.1 1368.2C1278.5 1367.2 1279.8 1365.6 1281.1 1365.2C1282.5 1364.9 1283.8 1365.4 1285.1 1366.2C1286.5 1367.1 1288 1368.4 1289.1 1370.2C1290.3 1372.1 1291 1374.8 1292.1 1377.3C1293.3 1379.8 1295 1384.3 1296.2 1385.3C1297.3 1386.3 1298.2 1385.3 1299.2 1383.3C1300.2 1381.3 1301 1376.6 1302.2 1373.2C1303.3 1369.9 1304.8 1366.9 1306.2 1363.2C1307.5 1359.6 1309 1355.9 1310.2 1351.2C1311.4 1346.5 1312.4 1340 1313.2 1335.2C1314 1330.3 1314.5 1325.2 1315.2 1322.1C1315.9 1319.1 1316.4 1317.1 1317.2 1316.7C1318 1316.4 1319.2 1318.1 1320.2 1320.1C1321.2 1322.2 1322 1326.3 1323.2 1329.2C1324.4 1332 1325.9 1335.2 1327.2 1337.2C1328.6 1339.2 1329.9 1340.2 1331.2 1341.2C1332.6 1342.2 1333.9 1342.7 1335.2 1343.2C1336.6 1343.7 1337.9 1343.6 1339.2 1344.2C1340.6 1344.8 1341.9 1346 1343.2 1346.8C1344.6 1347.6 1345.9 1349 1347.3 1349.2C1348.6 1349.4 1349.9 1348.9 1351.3 1348.2C1352.6 1347.5 1353.9 1346.3 1355.3 1344.8C1356.6 1343.3 1357.9 1341.3 1359.3 1339.2C1360.6 1337.1 1362.1 1333.8 1363.3 1332.2C1364.5 1330.5 1365.1 1329.5 1366.3 1329.2C1367.5 1328.8 1369 1329.8 1370.3 1330.2C1371.6 1330.5 1373 1330.8 1374.3 1331.2C1375.6 1331.5 1377 1332.1 1378.3 1332.2C1379.7 1332.2 1381 1331.4 1382.3 1331.6C1383.7 1331.7 1385.2 1332.2 1386.3 1333.2C1387.5 1334.1 1388.3 1335.2 1389.3 1337.2C1390.3 1339.2 1391.3 1342.5 1392.3 1345.2C1393.3 1347.9 1394.4 1350.7 1395.4 1353.2C1396.4 1355.7 1397.4 1358.6 1398.4 1360.2C1399.4 1361.8 1400.4 1362.5 1401.4 1362.8C1402.4 1363.2 1403.4 1363.5 1404.4 1362.2C1405.4 1361 1406.4 1358.4 1407.4 1355.2C1408.4 1352 1409.4 1346.3 1410.4 1343.2C1411.4 1340.1 1412.4 1337.6 1413.4 1336.8C1414.4 1335.9 1415.4 1336.7 1416.4 1338.2C1417.4 1339.6 1418.4 1344.4 1419.4 1345.6C1420.4 1346.8 1421.4 1345.9 1422.4 1345.2C1423.4 1344.5 1424.2 1342.2 1425.4 1341.2C1426.6 1340.2 1428.1 1339.2 1429.4 1339.2C1430.8 1339.1 1432.1 1339.9 1433.4 1340.8C1434.8 1341.6 1436.1 1342.8 1437.4 1344.2C1438.8 1345.6 1440.1 1347.7 1441.4 1349.2C1442.8 1350.7 1444.1 1352.2 1445.5 1353.2C1446.8 1354.2 1448.1 1354.7 1449.5 1355.2C1450.8 1355.7 1452.1 1355.7 1453.5 1356.2C1454.8 1356.7 1456.1 1358.1 1457.5 1358.2C1458.8 1358.4 1460.1 1357.9 1461.5 1357.2C1462.8 1356.5 1464.3 1355.2 1465.5 1354.2C1466.7 1353.2 1467.5 1351.4 1468.5 1351.2C1469.5 1351 1470.3 1353 1471.5 1352.8C1472.7 1352.6 1474.2 1350.7 1475.5 1350.2C1476.8 1349.7 1478.2 1349.8 1479.5 1349.6C1480.9 1349.4 1482.2 1349.3 1483.5 1348.8C1484.9 1348.3 1486.2 1347.1 1487.5 1346.8C1488.9 1346.5 1490.2 1347.2 1491.5 1347.2C1492.9 1347.2 1494.2 1346.7 1495.6 1346.8C1496.9 1346.9 1498.2 1347.4 1499.6 1347.6C1500.9 1347.8 1502.2 1348.2 1503.6 1348.2C1504.9 1348.2 1506.9 1347.7 1507.6 1347.6" stroke="#000" stroke-width="4" fill="none" stroke-linejoin="round" stroke-linecap="round"/>
<path d="M1239 1365.2C1239.9 1365.2 1242.4 1364.6 1244.1 1364.8C1245.7 1365.1 1247.4 1365.7 1249.1 1366.8C1250.7 1368 1252.6 1370.2 1254.1 1371.6C1255.6 1373.1 1256.7 1375.6 1258.1 1375.7C1259.4 1375.8 1260.6 1372.6 1262.1 1372.2C1263.6 1371.8 1265.6 1373.1 1267.1 1373.2C1268.6 1373.4 1269.8 1374.4 1271.1 1373.2C1272.4 1372.1 1273.8 1367.8 1275.1 1366.2C1276.4 1364.6 1277.8 1364.1 1279.1 1363.6C1280.5 1363.2 1281.8 1363 1283.1 1363.6C1284.5 1364.2 1286 1365.6 1287.1 1367.2C1288.3 1368.8 1289.1 1370.9 1290.1 1373.2C1291.1 1375.6 1292.1 1379.2 1293.1 1381.3C1294.2 1383.3 1295.2 1385.5 1296.2 1385.7C1297.2 1385.8 1298.2 1384.7 1299.2 1382.3C1300.2 1379.9 1301 1374.8 1302.2 1371.2C1303.3 1367.7 1304.8 1365.2 1306.2 1361.2C1307.5 1357.2 1309 1352.2 1310.2 1347.2C1311.4 1342.2 1312.2 1335.2 1313.2 1331.2C1314.2 1327.2 1315.2 1324.1 1316.2 1323.1C1317.2 1322.2 1318.2 1323.9 1319.2 1325.6C1320.2 1327.2 1321.2 1330.7 1322.2 1333.2C1323.2 1335.6 1324 1338.2 1325.2 1340.2C1326.4 1342.2 1327.9 1343.5 1329.2 1345.2C1330.6 1346.9 1331.9 1348.7 1333.2 1350.2C1334.6 1351.7 1335.9 1353 1337.2 1354.2C1338.6 1355.4 1339.9 1356.6 1341.2 1357.6C1342.6 1358.6 1343.9 1359.5 1345.3 1360.2C1346.6 1361 1347.9 1362.4 1349.3 1362.2C1350.6 1362.1 1351.9 1360.4 1353.3 1359.2C1354.6 1358.1 1356.1 1356.9 1357.3 1355.2C1358.4 1353.5 1359.3 1351 1360.3 1349.2C1361.3 1347.4 1362.1 1344.5 1363.3 1344.2C1364.5 1343.9 1366 1347.1 1367.3 1347.2C1368.6 1347.3 1370 1344.9 1371.3 1344.8C1372.6 1344.7 1374 1346.5 1375.3 1346.8C1376.6 1347.1 1378 1346.4 1379.3 1346.8C1380.7 1347.2 1382 1348.1 1383.3 1349.2C1384.7 1350.3 1386.2 1351.5 1387.3 1353.2C1388.5 1354.9 1389.3 1356.9 1390.3 1359.2C1391.3 1361.6 1392.3 1364.7 1393.3 1367.2C1394.4 1369.7 1395.4 1372.3 1396.4 1374.3C1397.4 1376.2 1398.2 1377.9 1399.4 1378.9C1400.5 1379.9 1402.2 1380.5 1403.4 1380.3C1404.5 1380 1405.4 1379.4 1406.4 1377.3C1407.4 1375.1 1408.4 1370.4 1409.4 1367.2C1410.4 1364.1 1411.4 1360.1 1412.4 1358.2C1413.4 1356.4 1414.4 1355.7 1415.4 1356.2C1416.4 1356.7 1417.4 1359.4 1418.4 1361.2C1419.4 1363.1 1420.4 1366.9 1421.4 1367.2C1422.4 1367.6 1423.2 1364.4 1424.4 1363.2C1425.6 1362.1 1427.1 1361 1428.4 1360.2C1429.8 1359.5 1431.1 1358.9 1432.4 1358.8C1433.8 1358.7 1435.3 1358.8 1436.4 1359.6C1437.6 1360.4 1438.3 1362.4 1439.4 1363.6C1440.6 1364.8 1442.1 1365.9 1443.4 1366.8C1444.8 1367.8 1446.1 1368.4 1447.5 1369.2C1448.8 1370 1450.1 1371 1451.5 1371.6C1452.8 1372.3 1454.1 1373.2 1455.5 1373.2C1456.8 1373.2 1458.1 1372.6 1459.5 1371.6C1460.8 1370.6 1462.2 1368.6 1463.5 1367.2C1464.8 1365.8 1466.2 1364.4 1467.5 1363.2C1468.8 1362.1 1470.2 1360.8 1471.5 1360.2C1472.8 1359.6 1474.2 1359.8 1475.5 1359.6C1476.8 1359.5 1478.2 1359.5 1479.5 1359.2C1480.9 1359 1482.2 1358.9 1483.5 1358.2C1484.9 1357.6 1486.2 1356.4 1487.5 1355.2C1488.9 1354 1490.2 1352.2 1491.5 1351.2C1492.9 1350.2 1494.2 1349.6 1495.6 1349.2C1496.9 1348.8 1498.2 1348.9 1499.6 1348.8C1500.9 1348.7 1502.2 1349 1503.6 1348.8C1504.9 1348.6 1506.9 1347.8 1507.6 1347.6" stroke="#E7A324" stroke-width="4" fill="none" stroke-linejoin="round" stroke-linecap="round"/>
<text x="117.6" y="1425.4" font-size="23.5" text-anchor="middle" class="t">F7</text>
<path d="M83.2 1563.7H351.4" stroke="#000" stroke-width="3.7" fill="none" stroke-linecap="round"/>
<path d="M121.8 1466.4V1588.5" stroke="#000" stroke-width="3.7" fill="none" stroke-linecap="round"/>
<path d="M160 1555.7v16M198.2 1555.7v16M236.4 1555.7v16M274.6 1555.7v16M312.8 1555.7v16" stroke="#000" stroke-width="2.1" fill="none"/>
<path d="M82.6 1565.2C83.3 1565 85.5 1564.2 87 1563.8C88.6 1563.5 90.4 1563.4 92 1563.2C93.7 1563 95.4 1562.8 97 1562.6C98.7 1562.5 100.4 1562.1 102.1 1562.2C103.7 1562.3 105.4 1562.6 107.1 1563.2C108.7 1563.8 110.4 1565.7 112.1 1565.8C113.7 1565.9 115.6 1564.6 117.1 1563.8C118.6 1563.1 119.6 1561.7 121.1 1561.2C122.6 1560.8 124.6 1561.1 126.1 1561.2C127.6 1561.4 128.8 1561.1 130.1 1562.2C131.4 1563.4 132.9 1565.7 134.1 1568.2C135.3 1570.8 136.1 1575 137.1 1577.3C138.1 1579.5 139.1 1581.8 140.1 1581.9C141.1 1582 142 1581 143.1 1577.9C144.3 1574.8 145.8 1568.2 147.1 1563.2C148.5 1558.3 149.8 1554.1 151.1 1548.2C152.5 1542.4 154 1533.2 155.2 1528.2C156.3 1523.2 157.2 1520.1 158.2 1518.1C159.2 1516.2 160.2 1516 161.2 1516.5C162.2 1517 163.2 1518.5 164.2 1521.2C165.2 1523.8 166 1529 167.2 1532.2C168.3 1535.3 169.9 1538 171.2 1540.2C172.5 1542.4 173.9 1544 175.2 1545.2C176.5 1546.4 177.9 1546.6 179.2 1547.2C180.5 1547.8 181.9 1548.8 183.2 1548.6C184.5 1548.4 185.9 1547.1 187.2 1546.2C188.6 1545.3 189.9 1544.5 191.2 1543.2C192.6 1541.9 193.9 1540.7 195.2 1538.2C196.6 1535.7 197.9 1531.2 199.2 1528.2C200.6 1525.2 201.9 1522.2 203.3 1520.2C204.6 1518.1 206.1 1516.6 207.3 1516.1C208.4 1515.6 209.1 1516.5 210.3 1517.1C211.4 1517.8 212.9 1519.2 214.3 1520.2C215.6 1521.2 216.9 1522.2 218.3 1523.2C219.6 1524.1 221 1525.3 222.3 1525.8C223.6 1526.3 225 1525.5 226.3 1526.2C227.6 1526.8 229 1528.4 230.3 1529.8C231.6 1531.1 233.1 1532.1 234.3 1534.2C235.5 1536.3 236.3 1539.5 237.3 1542.2C238.3 1544.9 239.3 1547.7 240.3 1550.2C241.3 1552.7 242.3 1555.2 243.3 1557.2C244.3 1559.2 245.3 1562.1 246.3 1562.2C247.3 1562.3 248.3 1560.5 249.3 1557.8C250.3 1555.2 251.3 1549.6 252.4 1546.2C253.4 1542.8 254.4 1539.1 255.4 1537.2C256.3 1535.2 257.1 1534.2 258 1534.6C258.8 1534.9 259.5 1537.6 260.4 1539.2C261.3 1540.8 262.4 1543.4 263.4 1544.2C264.4 1545 265.2 1544.1 266.4 1543.8C267.5 1543.5 269.1 1542.9 270.4 1542.6C271.7 1542.3 273.1 1542.1 274.4 1542.2C275.7 1542.3 277.1 1542.7 278.4 1543.2C279.7 1543.7 281.1 1544 282.4 1545.2C283.7 1546.4 285.1 1548.5 286.4 1550.2C287.8 1551.9 289.1 1554.1 290.4 1555.2C291.8 1556.4 293.1 1556.7 294.4 1557.2C295.8 1557.7 297.1 1557.7 298.4 1558.2C299.8 1558.7 301.1 1559.8 302.5 1560.2C303.8 1560.6 305.1 1560.3 306.5 1560.6C307.8 1561 309.1 1561.8 310.5 1562.2C311.8 1562.7 313.1 1563.2 314.5 1563.2C315.8 1563.3 317.1 1562.8 318.5 1562.6C319.8 1562.5 321.2 1562.2 322.5 1562.2C323.8 1562.2 325.2 1563 326.5 1562.6C327.8 1562.2 329.2 1560.1 330.5 1559.8C331.8 1559.6 333.2 1560.6 334.5 1561.2C335.9 1561.9 337.2 1563.1 338.5 1563.8C339.9 1564.6 341.2 1565.6 342.5 1565.8C343.9 1566.1 345 1565.6 346.5 1565.2C348 1564.9 350.7 1564.1 351.5 1563.8" stroke="#000" stroke-width="4" fill="none" stroke-linejoin="round" stroke-linecap="round"/>
<path d="M82.6 1566.6C83.3 1566.2 85.5 1564.2 87 1563.8C88.6 1563.5 90.4 1564.2 92 1564.6C93.7 1565.1 95.4 1566.6 97 1566.6C98.7 1566.6 100.4 1565.6 102.1 1564.6C103.7 1563.6 105.4 1561 107.1 1560.6C108.7 1560.2 110.4 1562.2 112.1 1562.2C113.7 1562.2 115.6 1561.1 117.1 1560.6C118.6 1560.1 119.6 1559.4 121.1 1559.2C122.6 1559.1 124.6 1559.6 126.1 1559.8C127.6 1560.1 128.8 1559.7 130.1 1560.6C131.4 1561.5 132.9 1563.3 134.1 1565.2C135.3 1567.2 136.1 1570.4 137.1 1572.3C138.1 1574.2 139.1 1576.4 140.1 1576.7C141.1 1576.9 142 1576.3 143.1 1573.9C144.3 1571.5 145.8 1566.5 147.1 1562.2C148.5 1558 149.8 1553.1 151.1 1548.2C152.5 1543.4 154 1537.2 155.2 1533.2C156.3 1529.2 157.2 1525.9 158.2 1524.2C159.2 1522.4 160.2 1521.9 161.2 1522.6C162.2 1523.2 163.2 1525.9 164.2 1528.2C165.2 1530.4 166 1533.5 167.2 1536.2C168.3 1538.9 169.9 1541.9 171.2 1544.2C172.5 1546.5 173.9 1548.4 175.2 1550.2C176.5 1552 177.9 1553.8 179.2 1555.2C180.5 1556.6 181.9 1557.8 183.2 1558.6C184.5 1559.5 185.9 1560.1 187.2 1560.2C188.6 1560.3 189.9 1560.4 191.2 1559.2C192.6 1558.1 193.9 1555.7 195.2 1553.2C196.6 1550.7 197.9 1547 199.2 1544.2C200.6 1541.4 201.9 1538.3 203.3 1536.6C204.6 1534.8 205.9 1534.1 207.3 1533.8C208.6 1533.4 209.9 1534.1 211.3 1534.6C212.6 1535 213.9 1535.7 215.3 1536.6C216.6 1537.5 217.9 1539.4 219.3 1539.8C220.6 1540.2 222 1539.2 223.3 1539.2C224.6 1539.2 226 1539 227.3 1539.8C228.6 1540.6 230.1 1542.5 231.3 1544.2C232.5 1545.9 233.3 1548 234.3 1550.2C235.3 1552.4 236.3 1554.9 237.3 1557.2C238.3 1559.6 239.3 1562.2 240.3 1564.2C241.3 1566.2 242.3 1568.3 243.3 1569.3C244.3 1570.2 245.3 1570.7 246.3 1569.9C247.3 1569 248.3 1566.7 249.3 1564.2C250.3 1561.8 251.3 1558.1 252.4 1555.2C253.4 1552.4 254.4 1549.1 255.4 1547.2C256.3 1545.3 257 1543.6 258 1543.8C258.9 1544 259.9 1546.6 261 1548.2C262 1549.8 263.3 1552.7 264.4 1553.2C265.4 1553.7 266.2 1552 267.4 1551.2C268.5 1550.4 270.1 1548.9 271.4 1548.2C272.7 1547.5 274.1 1547 275.4 1547.2C276.7 1547.4 278.1 1548 279.4 1549.2C280.7 1550.4 282.1 1552.7 283.4 1554.2C284.7 1555.7 286.1 1557.3 287.4 1558.2C288.8 1559.2 290.1 1559.6 291.4 1559.8C292.8 1560.1 294.1 1559.9 295.4 1559.8C296.8 1559.7 298.1 1559.7 299.4 1559.2C300.8 1558.8 302.1 1557.8 303.5 1557.2C304.8 1556.7 306.1 1555.7 307.5 1555.8C308.8 1555.9 310.1 1557.3 311.5 1557.8C312.8 1558.4 314.1 1558.8 315.5 1559.2C316.8 1559.6 318.1 1560.1 319.5 1560.2C320.8 1560.4 322.2 1560.2 323.5 1560.2C324.8 1560.3 326.2 1560.6 327.5 1560.6C328.8 1560.6 330.2 1560.2 331.5 1560.2C332.8 1560.2 334.2 1560.6 335.5 1560.6C336.9 1560.6 338.2 1560.2 339.5 1560.2C340.9 1560.2 342.2 1560.6 343.5 1560.6C344.9 1560.7 346.2 1560.5 347.5 1560.6C348.9 1560.7 350.9 1561.1 351.5 1561.2" stroke="#E7A324" stroke-width="4" fill="none" stroke-linejoin="round" stroke-linecap="round"/>
<text x="406.4" y="1425.4" font-size="23.5" text-anchor="middle" class="t">F3</text>
<path d="M372 1563.7H640.2" stroke="#000" stroke-width="3.7" fill="none" stroke-linecap="round"/>
<path d="M410.6 1466.4V1588.5" stroke="#000" stroke-width="3.7" fill="none" stroke-linecap="round"/>
<path d="M448.8 1555.7v16M487 1555.7v16M525.2 1555.7v16M563.4 1555.7v16M601.6 1555.7v16" stroke="#000" stroke-width="2.1" fill="none"/>
<path d="M371.6 1564.2C372.3 1563.7 374.6 1561.7 376 1561.2C377.4 1560.7 378.5 1560.7 380 1561.2C381.5 1561.7 383.4 1563.4 385 1564.2C386.7 1565.1 388.4 1565.7 390 1566.2C391.7 1566.7 393.6 1566.6 395.1 1567.2C396.6 1567.8 397.7 1570 399.1 1569.9C400.4 1569.8 401.7 1567.9 403.1 1566.6C404.4 1565.4 405.7 1563.4 407.1 1562.2C408.4 1561.1 409.8 1560.2 411.1 1559.8C412.4 1559.5 413.8 1559.8 415.1 1560.2C416.4 1560.7 417.8 1561 419.1 1562.6C420.4 1564.3 421.9 1567.5 423.1 1570.3C424.3 1573 425.1 1577 426.1 1579.3C427.1 1581.5 428.1 1583.7 429.1 1583.9C430.1 1584 431 1583.5 432.1 1580.3C433.3 1577 434.8 1569.6 436.1 1564.2C437.5 1558.9 438.8 1554.2 440.1 1548.2C441.5 1542.2 443 1533.8 444.2 1528.2C445.3 1522.5 446.2 1517.1 447.2 1514.1C448.2 1511.1 449.2 1510.1 450.2 1510.1C451.2 1510.1 452.2 1511.5 453.2 1514.1C454.2 1516.8 455 1522.8 456.2 1526.2C457.3 1529.5 458.9 1532.2 460.2 1534.2C461.5 1536.1 462.9 1537.1 464.2 1537.8C465.5 1538.5 466.9 1538.6 468.2 1538.2C469.5 1537.8 470.9 1536.5 472.2 1535.2C473.5 1533.8 474.9 1531.8 476.2 1530.2C477.6 1528.5 478.9 1526.7 480.2 1525.2C481.6 1523.7 482.9 1523.3 484.2 1521.2C485.6 1519 486.9 1515.6 488.2 1512.1C489.6 1508.6 490.9 1503.3 492.3 1500.1C493.6 1496.9 494.9 1494.5 496.3 1493.1C497.6 1491.7 498.9 1491.7 500.3 1491.7C501.6 1491.7 502.9 1492.5 504.3 1493.1C505.6 1493.7 506.9 1494.5 508.3 1495.1C509.6 1495.7 511 1496.2 512.3 1496.5C513.6 1496.8 515 1496.8 516.3 1497.1C517.6 1497.4 519.1 1497.3 520.3 1498.1C521.5 1498.9 522.3 1500.1 523.3 1502.1C524.3 1504.1 525.3 1507.1 526.3 1510.1C527.3 1513.1 528.3 1517.1 529.3 1520.2C530.3 1523.2 531.3 1526.3 532.3 1528.2C533.3 1530 534.3 1531.8 535.3 1531.2C536.3 1530.5 537.3 1527.7 538.3 1524.2C539.3 1520.7 540.3 1514.1 541.4 1510.1C542.4 1506.1 543.4 1502.5 544.4 1500.1C545.4 1497.7 546.4 1495.9 547.4 1495.7C548.4 1495.5 549.4 1497.7 550.4 1499.1C551.4 1500.5 552.4 1503.8 553.4 1504.1C554.4 1504.5 555.2 1502.2 556.4 1501.1C557.5 1500 559.1 1498.5 560.4 1497.7C561.7 1496.9 563.1 1496.4 564.4 1496.5C565.7 1496.6 567.1 1497.5 568.4 1498.5C569.7 1499.5 571.1 1500.9 572.4 1502.5C573.7 1504.1 575.1 1506.2 576.4 1508.1C577.8 1510.1 579.1 1512.6 580.4 1514.1C581.8 1515.6 583.1 1516.1 584.4 1517.1C585.8 1518.1 587.3 1519 588.4 1520.2C589.6 1521.3 590.4 1522.8 591.5 1524.2C592.5 1525.6 593.5 1528.1 594.5 1528.6C595.5 1529.1 596.3 1527.2 597.5 1527.2C598.6 1527.1 600.1 1527.5 601.5 1528.2C602.8 1528.8 604.1 1530.4 605.5 1531.2C606.8 1531.9 608.2 1531.9 609.5 1532.6C610.8 1533.2 612.2 1535.2 613.5 1535.2C614.8 1535.1 616.2 1532.9 617.5 1532.2C618.8 1531.4 620.2 1530.4 621.5 1530.6C622.8 1530.7 624.2 1532.3 625.5 1533.2C626.9 1534 628.2 1535 629.5 1535.8C630.9 1536.6 631.7 1537.6 633.5 1537.8C635.4 1538 639.4 1537.3 640.5 1537.2" stroke="#000" stroke-width="4" fill="none" stroke-linejoin="round" stroke-linecap="round"/>
<path d="M371.6 1562.2C372.3 1561.7 374.6 1559.7 376 1559.2C377.4 1558.7 378.7 1558.4 380 1559.2C381.4 1560.1 382.7 1562.8 384 1564.2C385.4 1565.7 386.7 1567.1 388 1567.8C389.4 1568.6 390.7 1568.8 392.1 1568.6C393.4 1568.4 394.7 1567.2 396.1 1566.6C397.4 1566.1 398.7 1565.9 400.1 1565.2C401.4 1564.6 402.7 1563.4 404.1 1562.6C405.4 1561.9 406.7 1561.1 408.1 1560.6C409.4 1560.2 410.8 1559.8 412.1 1559.8C413.4 1559.8 414.8 1559.8 416.1 1560.6C417.4 1561.4 418.9 1562.7 420.1 1564.6C421.3 1566.6 422.1 1569.7 423.1 1572.3C424.1 1574.9 425.1 1578.6 426.1 1580.3C427.1 1581.9 428.1 1582.8 429.1 1582.3C430.1 1581.8 431 1580.3 432.1 1577.3C433.3 1574.3 434.8 1568.7 436.1 1564.2C437.5 1559.7 438.8 1555.6 440.1 1550.2C441.5 1544.9 443 1536.9 444.2 1532.2C445.3 1527.5 446.2 1524.2 447.2 1522.2C448.1 1520.1 448.9 1519.4 449.8 1519.8C450.7 1520.1 451.5 1521.4 452.6 1524.2C453.6 1526.9 454.9 1532.8 456.2 1536.2C457.4 1539.5 458.9 1541.4 460.2 1544.2C461.5 1547 462.9 1550.8 464.2 1553.2C465.5 1555.6 466.9 1557.5 468.2 1558.6C469.5 1559.7 470.9 1559.6 472.2 1559.8C473.5 1560 474.9 1559.8 476.2 1559.8C477.6 1559.8 479.1 1560.6 480.2 1559.8C481.4 1559.1 482.2 1557.3 483.2 1555.2C484.2 1553.1 485.1 1550.2 486.2 1547.2C487.4 1544.2 488.9 1540.7 490.2 1537.2C491.6 1533.7 492.9 1529 494.3 1526.2C495.6 1523.3 496.9 1521.6 498.3 1520.2C499.6 1518.7 500.9 1518.5 502.3 1517.7C503.6 1517 504.9 1515.9 506.3 1515.7C507.6 1515.5 509 1516.8 510.3 1516.5C511.6 1516.3 513 1514.3 514.3 1514.1C515.6 1514 517 1514.7 518.3 1515.7C519.6 1516.7 521 1518.1 522.3 1520.2C523.6 1522.2 525.2 1525.5 526.3 1528.2C527.5 1530.8 528.3 1533.5 529.3 1536.2C530.3 1538.9 531.3 1542.7 532.3 1544.2C533.3 1545.7 534.3 1546.2 535.3 1545.2C536.3 1544.2 537.3 1541 538.3 1538.2C539.3 1535.3 540.3 1531.7 541.4 1528.2C542.4 1524.7 543.4 1520.4 544.4 1517.1C545.4 1513.9 546.4 1509.8 547.4 1508.5C548.4 1507.3 549.2 1508.7 550.4 1509.7C551.5 1510.7 553.2 1514.1 554.4 1514.5C555.5 1514.9 556.4 1513.3 557.4 1512.1C558.4 1511 559.2 1508.8 560.4 1507.7C561.6 1506.7 563.1 1505.8 564.4 1505.7C565.7 1505.6 567.2 1506.1 568.4 1507.1C569.6 1508.2 570.2 1510.1 571.4 1512.1C572.6 1514.1 574.1 1517.3 575.4 1519.2C576.8 1521 578.1 1522.1 579.4 1523.2C580.8 1524.3 582.1 1525.4 583.4 1525.8C584.8 1526.1 586.1 1525.3 587.4 1525.2C588.8 1525.1 590.1 1525.6 591.5 1525.2C592.8 1524.7 594.1 1522.7 595.5 1522.6C596.8 1522.4 598.1 1523.5 599.5 1524.2C600.8 1524.8 602.1 1525.9 603.5 1526.6C604.8 1527.2 606.1 1527.7 607.5 1528.2C608.8 1528.6 610.2 1528.8 611.5 1529.2C612.8 1529.6 614.2 1530.1 615.5 1530.6C616.8 1531.1 618.2 1531.8 619.5 1532.2C620.8 1532.5 622.2 1532.4 623.5 1532.6C624.9 1532.7 626.2 1532.7 627.5 1533.2C628.9 1533.6 630.2 1534.6 631.5 1535.2C632.9 1535.8 634 1536.2 635.5 1536.6C637 1537 639.7 1537.6 640.5 1537.8" stroke="#E7A324" stroke-width="4" fill="none" stroke-linejoin="round" stroke-linecap="round"/>
<text x="696" y="1425.4" font-size="23.5" text-anchor="middle" class="t">Fz</text>
<path d="M661.6 1563.7H929.8" stroke="#000" stroke-width="3.7" fill="none" stroke-linecap="round"/>
<path d="M700.2 1466.4V1588.5" stroke="#000" stroke-width="3.7" fill="none" stroke-linecap="round"/>
<path d="M738.4 1555.7v16M776.6 1555.7v16M814.8 1555.7v16M853 1555.7v16M891.2 1555.7v16" stroke="#000" stroke-width="2.1" fill="none"/>
<path d="M660.6 1563.8C661.3 1563.3 663.6 1560.9 665 1560.6C666.4 1560.4 667.5 1561.5 669 1562.2C670.5 1563 672.2 1564.6 674 1565.2C675.9 1565.8 678.2 1565.3 680.1 1565.8C681.9 1566.4 683.6 1568 685.1 1568.6C686.6 1569.3 687.7 1570.2 689.1 1569.9C690.4 1569.5 691.7 1567.9 693.1 1566.6C694.4 1565.4 695.7 1563.6 697.1 1562.2C698.4 1560.9 699.8 1559 701.1 1558.6C702.4 1558.2 703.8 1559.2 705.1 1559.8C706.4 1560.4 707.8 1560.2 709.1 1562.2C710.4 1564.3 711.9 1569.1 713.1 1572.3C714.3 1575.4 715.1 1579.3 716.1 1581.3C717.1 1583.3 718.1 1584.4 719.1 1584.3C720.1 1584.1 721.1 1583.6 722.1 1580.3C723.1 1576.9 724 1569.3 725.1 1564.2C726.3 1559.2 727.8 1556.6 729.1 1550.2C730.5 1543.9 732 1533.2 733.2 1526.2C734.3 1519.2 735.2 1512.5 736.2 1508.1C737.2 1503.8 738.2 1500.8 739.2 1500.1C740.2 1499.4 741.2 1501.6 742.2 1504.1C743.2 1506.6 744 1511.8 745.2 1515.1C746.3 1518.5 747.9 1522.1 749.2 1524.2C750.5 1526.3 751.9 1527.4 753.2 1527.8C754.5 1528.1 755.9 1527.3 757.2 1526.2C758.5 1525.1 759.9 1523.2 761.2 1521.2C762.5 1519.2 763.9 1516.1 765.2 1514.1C766.6 1512.1 767.9 1510.6 769.2 1509.1C770.6 1507.6 772.1 1506.6 773.2 1505.1C774.4 1503.6 775.2 1502.3 776.2 1500.1C777.2 1497.9 778.1 1495.3 779.2 1492.1C780.4 1488.9 781.9 1484.4 783.3 1481.1C784.6 1477.7 785.9 1474.1 787.3 1472.1C788.6 1470.1 789.9 1469.4 791.3 1469.1C792.6 1468.7 793.9 1469.6 795.3 1470.1C796.6 1470.6 798 1471.8 799.3 1472.1C800.6 1472.3 802 1471.4 803.3 1471.7C804.6 1471.9 806 1473.3 807.3 1473.7C808.6 1474.1 810.1 1472.8 811.3 1474.1C812.5 1475.3 813.3 1478.4 814.3 1481.1C815.3 1483.7 816.3 1486.9 817.3 1490.1C818.3 1493.3 819.2 1496.9 820.3 1500.1C821.5 1503.3 823.2 1508.1 824.3 1509.1C825.5 1510.1 826.3 1508.6 827.3 1506.1C828.3 1503.6 829.3 1498.3 830.4 1494.1C831.4 1489.9 832.4 1484.6 833.4 1481.1C834.4 1477.6 835.4 1473.9 836.4 1473.1C837.4 1472.2 838.4 1474.7 839.4 1476.1C840.4 1477.4 841.4 1480.6 842.4 1481.1C843.4 1481.6 844.2 1480.1 845.4 1479.1C846.5 1478.1 848.1 1476.5 849.4 1475.1C850.7 1473.6 852.2 1471 853.4 1470.5C854.6 1470 855.4 1471 856.4 1472.1C857.4 1473.2 858.2 1475.1 859.4 1477.1C860.6 1479.1 862.1 1481.6 863.4 1484.1C864.8 1486.6 866.1 1489.8 867.4 1492.1C868.8 1494.4 870.1 1496.2 871.4 1497.7C872.8 1499.2 874.1 1499.7 875.4 1501.1C876.8 1502.5 878.1 1503.9 879.4 1506.1C880.8 1508.4 882.3 1513.4 883.5 1514.5C884.6 1515.7 885.3 1513.4 886.5 1513.1C887.6 1512.9 889.1 1512.5 890.5 1513.1C891.8 1513.8 893.1 1516 894.5 1517.1C895.8 1518.3 897 1519.3 898.5 1520.2C900 1521.1 902 1522.6 903.5 1522.6C905 1522.5 906.2 1520.2 907.5 1519.8C908.8 1519.3 910.2 1519.4 911.5 1519.8C912.8 1520.2 914.2 1521.4 915.5 1522.2C916.9 1522.9 918 1523.7 919.5 1524.2C921 1524.7 922.9 1524.8 924.5 1525.2C926.2 1525.5 928.7 1526 929.5 1526.2" stroke="#000" stroke-width="4" fill="none" stroke-linejoin="round" stroke-linecap="round"/>
<path d="M660.6 1560.2C661.3 1559.7 663.6 1557.6 665 1557.2C666.4 1556.9 667.7 1557.1 669 1558.2C670.4 1559.4 671.7 1562.4 673 1564.2C674.4 1566.1 675.7 1568.2 677 1569.3C678.4 1570.3 679.7 1570.9 681.1 1570.7C682.4 1570.4 683.7 1568.4 685.1 1567.8C686.4 1567.3 687.7 1567.9 689.1 1567.2C690.4 1566.6 691.7 1565.1 693.1 1563.8C694.4 1562.6 695.7 1560.8 697.1 1559.8C698.4 1558.9 699.8 1558.3 701.1 1558.2C702.4 1558.1 703.8 1558.4 705.1 1559.2C706.4 1560.1 707.9 1561.1 709.1 1563.2C710.3 1565.4 711.1 1569.4 712.1 1572.3C713.1 1575.1 714.1 1578.4 715.1 1580.3C716.1 1582.1 717.1 1583.5 718.1 1583.3C719.1 1583 720 1581.8 721.1 1578.7C722.3 1575.5 723.8 1569.3 725.1 1564.2C726.5 1559.2 727.8 1554.2 729.1 1548.2C730.5 1542.2 732 1533.8 733.2 1528.2C734.3 1522.5 735.2 1517 736.2 1514.1C737.1 1511.3 737.9 1510.8 738.8 1511.1C739.7 1511.5 740.5 1513.3 741.6 1516.1C742.6 1519 743.9 1524.5 745.2 1528.2C746.4 1531.8 747.9 1534.8 749.2 1538.2C750.5 1541.5 751.9 1545.7 753.2 1548.2C754.5 1550.7 755.9 1552.4 757.2 1553.2C758.5 1554.1 759.9 1553.3 761.2 1553.2C762.5 1553.1 763.9 1552.7 765.2 1552.6C766.6 1552.5 767.9 1553.4 769.2 1552.6C770.6 1551.9 771.9 1550.6 773.2 1548.2C774.6 1545.8 775.9 1541.9 777.2 1538.2C778.6 1534.5 779.9 1530.3 781.3 1526.2C782.6 1522 783.9 1516.6 785.3 1513.1C786.6 1509.6 787.9 1507.5 789.3 1505.1C790.6 1502.8 791.9 1500.4 793.3 1499.1C794.6 1497.8 795.9 1497.5 797.3 1497.1C798.6 1496.7 800 1496.7 801.3 1496.5C802.6 1496.3 804 1495.4 805.3 1495.7C806.6 1496 808 1496.5 809.3 1498.1C810.6 1499.7 812 1502.5 813.3 1505.1C814.7 1507.8 816 1511 817.3 1514.1C818.7 1517.3 820.2 1521.4 821.3 1524.2C822.5 1526.9 823.3 1530.2 824.3 1530.6C825.3 1530.9 826.3 1528.6 827.3 1526.2C828.3 1523.8 829.3 1520.2 830.4 1516.1C831.4 1512.1 832.4 1506.4 833.4 1502.1C834.4 1497.8 835.4 1492.9 836.4 1490.5C837.4 1488.1 838.4 1487.1 839.4 1487.7C840.4 1488.3 841.4 1492.6 842.4 1494.1C843.3 1495.6 844 1496.8 845 1496.5C846 1496.2 847.2 1493.6 848.4 1492.1C849.6 1490.6 851.1 1488.4 852.4 1487.7C853.7 1487 855.2 1487 856.4 1487.7C857.6 1488.4 858.2 1490 859.4 1492.1C860.6 1494.2 862.1 1497.8 863.4 1500.1C864.8 1502.5 866.1 1504.5 867.4 1506.1C868.8 1507.7 870.1 1509.1 871.4 1509.7C872.8 1510.4 874.1 1510.1 875.4 1510.1C876.8 1510.2 878.1 1510.5 879.4 1510.1C880.8 1509.8 882.3 1508.6 883.5 1508.1C884.6 1507.6 885.3 1507 886.5 1507.1C887.6 1507.3 889.1 1508.4 890.5 1509.1C891.8 1509.9 893.1 1510.7 894.5 1511.7C895.8 1512.7 897 1514.1 898.5 1515.1C900 1516.1 902 1516.9 903.5 1517.7C905 1518.6 906.2 1519.4 907.5 1520.2C908.8 1521 910.2 1521.8 911.5 1522.6C912.8 1523.3 914.2 1524.1 915.5 1524.6C916.9 1525 918 1524.6 919.5 1525.2C921 1525.7 922.9 1526.9 924.5 1527.8C926.2 1528.6 928.7 1529.8 929.5 1530.2" stroke="#E7A324" stroke-width="4" fill="none" stroke-linejoin="round" stroke-linecap="round"/>
<text x="984.6" y="1425.4" font-size="23.5" text-anchor="middle" class="t">F4</text>
<path d="M950.2 1563.7H1218.4" stroke="#000" stroke-width="3.7" fill="none" stroke-linecap="round"/>
<path d="M988.8 1466.4V1588.5" stroke="#000" stroke-width="3.7" fill="none" stroke-linecap="round"/>
<path d="M1027 1555.7v16M1065.2 1555.7v16M1103.4 1555.7v16M1141.6 1555.7v16M1179.8 1555.7v16" stroke="#000" stroke-width="2.1" fill="none"/>
<path d="M949.6 1558.6C950.3 1558.7 952.6 1558.6 954 1559.2C955.4 1559.8 956.5 1561.2 958 1562.2C959.5 1563.2 961.4 1564.4 963 1565.2C964.7 1566.1 966.4 1566.6 968 1567.2C969.7 1567.9 971.6 1568.8 973.1 1569.3C974.6 1569.7 975.7 1570.3 977.1 1569.9C978.4 1569.4 979.7 1567.9 981.1 1566.6C982.4 1565.4 983.7 1563.4 985.1 1562.2C986.4 1561.1 987.8 1560.2 989.1 1559.8C990.4 1559.4 991.8 1559.4 993.1 1559.8C994.4 1560.2 995.8 1560.3 997.1 1562.2C998.4 1564.1 999.9 1568.2 1001.1 1571.3C1002.3 1574.3 1003.1 1578.3 1004.1 1580.3C1005.1 1582.3 1006.1 1583.4 1007.1 1583.3C1008.1 1583.1 1009 1582.4 1010.1 1579.3C1011.3 1576.1 1012.8 1569.1 1014.1 1564.2C1015.5 1559.4 1016.8 1555.6 1018.1 1550.2C1019.5 1544.9 1021 1538.2 1022.2 1532.2C1023.3 1526.2 1024.2 1518.4 1025.2 1514.1C1026.2 1509.9 1027.2 1507.2 1028.2 1506.5C1029.2 1505.9 1030.2 1507.9 1031.2 1510.1C1032.2 1512.4 1033 1517.1 1034.2 1520.2C1035.3 1523.2 1036.9 1526.3 1038.2 1528.2C1039.5 1530 1040.9 1530.6 1042.2 1531.2C1043.5 1531.8 1044.9 1532 1046.2 1531.8C1047.5 1531.5 1048.9 1530.5 1050.2 1529.8C1051.5 1529 1052.9 1527.6 1054.2 1527.2C1055.6 1526.7 1056.9 1527.4 1058.2 1527.2C1059.6 1526.9 1060.9 1526.9 1062.2 1525.8C1063.6 1524.6 1064.9 1522.4 1066.2 1520.2C1067.6 1517.9 1068.9 1515.1 1070.3 1512.1C1071.6 1509.1 1072.9 1505.1 1074.3 1502.1C1075.6 1499.1 1076.9 1495.8 1078.3 1494.1C1079.6 1492.4 1080.9 1492.4 1082.3 1492.1C1083.6 1491.8 1084.9 1492.3 1086.3 1492.1C1087.6 1491.9 1089 1491.4 1090.3 1491.1C1091.6 1490.8 1093 1490 1094.3 1490.1C1095.6 1490.2 1097.1 1491.2 1098.3 1491.7C1099.5 1492.2 1100.3 1491.4 1101.3 1493.1C1102.3 1494.8 1103.3 1499.1 1104.3 1502.1C1105.3 1505.1 1106.3 1508.3 1107.3 1511.1C1108.3 1514 1109.3 1517 1110.3 1519.2C1111.3 1521.3 1112.3 1523.6 1113.3 1523.8C1114.3 1523.9 1115.3 1522.8 1116.3 1520.2C1117.3 1517.5 1118.3 1512.1 1119.4 1508.1C1120.4 1504.1 1121.4 1499.2 1122.4 1496.1C1123.4 1493 1124.4 1490 1125.4 1489.7C1126.4 1489.4 1127.4 1492.4 1128.4 1494.1C1129.4 1495.8 1130.4 1499.5 1131.4 1500.1C1132.4 1500.7 1133.2 1499.4 1134.4 1497.7C1135.5 1496 1137.1 1492.4 1138.4 1490.1C1139.7 1487.8 1141.2 1484.9 1142.4 1484.1C1143.6 1483.2 1144.4 1484.2 1145.4 1485.1C1146.4 1485.9 1147.2 1487.4 1148.4 1489.1C1149.6 1490.8 1151.1 1493.1 1152.4 1495.1C1153.8 1497.1 1155.1 1499.6 1156.4 1501.1C1157.8 1502.6 1159.1 1503.1 1160.4 1504.1C1161.8 1505.1 1163.1 1505.8 1164.4 1507.1C1165.8 1508.5 1167.1 1510.4 1168.4 1512.1C1169.8 1513.9 1171.1 1517.4 1172.5 1517.7C1173.8 1518.1 1175.1 1514.8 1176.5 1514.1C1177.8 1513.5 1179.1 1513.6 1180.5 1513.7C1181.8 1513.9 1183.1 1514.7 1184.5 1515.1C1185.8 1515.6 1187.2 1516 1188.5 1516.5C1189.8 1517 1191.2 1518.2 1192.5 1518.1C1193.8 1518.1 1195.2 1516.2 1196.5 1516.1C1197.8 1516.1 1199.2 1517.1 1200.5 1517.7C1201.8 1518.3 1203.2 1519.4 1204.5 1519.8C1205.9 1520.2 1207 1519.9 1208.5 1520.2C1210 1520.4 1211.9 1521 1213.5 1521.2C1215.2 1521.3 1217.7 1521.2 1218.5 1521.2" stroke="#000" stroke-width="4" fill="none" stroke-linejoin="round" stroke-linecap="round"/>
<path d="M949.6 1557.2C950.3 1556.9 952.6 1555.2 954 1555.2C955.4 1555.2 956.7 1556.1 958 1557.2C959.4 1558.4 960.7 1560.4 962 1562.2C963.4 1564.1 964.7 1566.6 966 1568.2C967.4 1569.9 968.7 1572.1 970.1 1572.3C971.4 1572.4 972.7 1570.1 974.1 1569.3C975.4 1568.4 976.7 1568.1 978.1 1567.2C979.4 1566.3 980.7 1564.9 982.1 1563.8C983.4 1562.7 984.7 1561.5 986.1 1560.6C987.4 1559.8 988.8 1558.9 990.1 1558.6C991.4 1558.4 992.8 1558.6 994.1 1559.2C995.4 1559.8 996.9 1560.2 998.1 1562.2C999.3 1564.2 1000.1 1568.2 1001.1 1571.3C1002.1 1574.3 1003.1 1578.4 1004.1 1580.3C1005.1 1582.1 1006.1 1582.6 1007.1 1582.3C1008.1 1581.9 1009 1581.3 1010.1 1578.3C1011.3 1575.3 1012.8 1569.3 1014.1 1564.2C1015.5 1559.2 1016.8 1553.6 1018.1 1548.2C1019.5 1542.9 1021 1537.2 1022.2 1532.2C1023.3 1527.2 1024.2 1521.3 1025.2 1518.1C1026.1 1515 1026.9 1513 1027.8 1513.1C1028.7 1513.3 1029.5 1516 1030.6 1519.2C1031.6 1522.3 1032.9 1528.5 1034.2 1532.2C1035.4 1535.9 1036.9 1538.2 1038.2 1541.2C1039.5 1544.2 1040.9 1547.9 1042.2 1550.2C1043.5 1552.6 1044.9 1554 1046.2 1555.2C1047.5 1556.5 1048.9 1557.2 1050.2 1557.8C1051.5 1558.5 1052.9 1559 1054.2 1559.2C1055.6 1559.5 1056.9 1559.4 1058.2 1559.2C1059.6 1559.1 1061.1 1559.1 1062.2 1558.2C1063.4 1557.4 1064.1 1556.9 1065.2 1554.2C1066.4 1551.5 1067.9 1545.9 1069.3 1542.2C1070.6 1538.5 1071.9 1534.7 1073.3 1532.2C1074.6 1529.7 1075.9 1529 1077.3 1527.2C1078.6 1525.3 1079.9 1522.7 1081.3 1521.2C1082.6 1519.6 1083.9 1518.6 1085.3 1517.7C1086.6 1516.8 1088 1516.2 1089.3 1515.7C1090.6 1515.3 1092 1514.8 1093.3 1515.1C1094.6 1515.5 1096 1516.5 1097.3 1517.7C1098.6 1519 1100 1520.7 1101.3 1522.6C1102.7 1524.5 1104.2 1526.6 1105.3 1529.2C1106.5 1531.8 1107.2 1535.3 1108.3 1538.2C1109.5 1541.1 1111.2 1545.9 1112.3 1546.6C1113.5 1547.3 1114.3 1544.6 1115.3 1542.2C1116.3 1539.8 1117.3 1535.7 1118.3 1532.2C1119.4 1528.7 1120.4 1524.7 1121.4 1521.2C1122.4 1517.6 1123.5 1513.3 1124.4 1511.1C1125.3 1509 1125.9 1507.8 1126.8 1508.1C1127.6 1508.5 1128.4 1511.5 1129.4 1513.1C1130.3 1514.7 1131.4 1517.6 1132.4 1517.7C1133.4 1517.9 1134.2 1515.8 1135.4 1514.1C1136.6 1512.5 1138.1 1509.6 1139.4 1507.7C1140.7 1505.9 1142.2 1503.4 1143.4 1503.1C1144.6 1502.9 1145.6 1504.6 1146.8 1506.1C1148 1507.6 1149.1 1510.4 1150.4 1512.1C1151.7 1513.9 1153.1 1515.2 1154.4 1516.5C1155.8 1517.9 1157.1 1519.3 1158.4 1520.2C1159.8 1521 1161.1 1521.5 1162.4 1521.8C1163.8 1522 1165.1 1522 1166.4 1521.8C1167.8 1521.6 1169.1 1521.4 1170.5 1520.6C1171.8 1519.7 1173.1 1517.5 1174.5 1516.5C1175.8 1515.5 1177.1 1514.8 1178.5 1514.5C1179.8 1514.3 1181.1 1514.8 1182.5 1515.1C1183.8 1515.5 1185.1 1516 1186.5 1516.5C1187.8 1517 1189.2 1517.4 1190.5 1518.1C1191.8 1518.9 1193.2 1520.6 1194.5 1521.2C1195.8 1521.8 1197.2 1521.7 1198.5 1521.8C1199.8 1521.9 1201.2 1521.8 1202.5 1521.8C1203.9 1521.8 1205.2 1521.6 1206.5 1521.8C1207.9 1521.9 1209.2 1522.2 1210.5 1522.6C1211.9 1522.9 1213.2 1523.4 1214.5 1523.8C1215.9 1524.1 1217.9 1524.4 1218.5 1524.6" stroke="#E7A324" stroke-width="4" fill="none" stroke-linejoin="round" stroke-linecap="round"/>
<text x="1274.2" y="1425.4" font-size="23.5" text-anchor="middle" class="t">F8</text>
<path d="M1239.8 1563.7H1508" stroke="#000" stroke-width="3.7" fill="none" stroke-linecap="round"/>
<path d="M1278.4 1466.4V1588.5" stroke="#000" stroke-width="3.7" fill="none" stroke-linecap="round"/>
<path d="M1316.6 1555.7v16M1354.8 1555.7v16M1393 1555.7v16M1431.2 1555.7v16M1469.4 1555.7v16" stroke="#000" stroke-width="2.1" fill="none"/>
<path d="M1239 1563.2C1239.9 1562.9 1242.4 1561.4 1244.1 1561.2C1245.7 1561.1 1247.4 1561.6 1249.1 1562.2C1250.7 1562.9 1252.4 1564.4 1254.1 1565.2C1255.7 1566.1 1257.4 1566.9 1259.1 1567.2C1260.8 1567.6 1262.4 1567.6 1264.1 1567.2C1265.8 1566.9 1267.6 1566.4 1269.1 1565.2C1270.6 1564.1 1271.8 1561.7 1273.1 1560.2C1274.4 1558.8 1275.8 1557.4 1277.1 1556.6C1278.5 1555.9 1279.8 1555.6 1281.1 1555.8C1282.5 1556.1 1283.8 1557.2 1285.1 1558.2C1286.5 1559.3 1288 1560.4 1289.1 1562.2C1290.3 1564.1 1291 1566.7 1292.1 1569.3C1293.3 1571.8 1295 1576.1 1296.2 1577.3C1297.3 1578.4 1298.2 1577.8 1299.2 1576.3C1300.2 1574.8 1301 1571.4 1302.2 1568.2C1303.3 1565.1 1304.8 1560.9 1306.2 1557.2C1307.5 1553.6 1309 1550.4 1310.2 1546.2C1311.4 1542 1312.2 1536.4 1313.2 1532.2C1314.2 1528 1315.4 1523.2 1316.2 1521.2C1317 1519.1 1317.4 1519.4 1318.2 1519.8C1319 1520.1 1320.2 1521.1 1321.2 1523.2C1322.2 1525.2 1323 1529.5 1324.2 1532.2C1325.4 1534.8 1326.9 1537.5 1328.2 1539.2C1329.6 1540.9 1330.9 1541.6 1332.2 1542.6C1333.6 1543.6 1334.9 1544.3 1336.2 1545.2C1337.6 1546.1 1338.9 1547.1 1340.2 1548.2C1341.6 1549.3 1343.1 1551 1344.3 1551.8C1345.4 1552.7 1346.1 1553.5 1347.3 1553.2C1348.4 1553 1349.9 1551 1351.3 1550.2C1352.6 1549.4 1353.9 1549.5 1355.3 1548.2C1356.6 1546.9 1357.9 1544.4 1359.3 1542.2C1360.6 1540 1362 1537.4 1363.3 1535.2C1364.6 1533 1366 1530.4 1367.3 1529.2C1368.6 1527.9 1370 1527.9 1371.3 1527.8C1372.6 1527.6 1374 1528.2 1375.3 1528.2C1376.6 1528.2 1378 1527.9 1379.3 1527.8C1380.7 1527.6 1382 1527.2 1383.3 1527.2C1384.7 1527.2 1386.2 1527.3 1387.3 1527.8C1388.5 1528.3 1389.3 1528.4 1390.3 1530.2C1391.3 1531.9 1392.3 1535.3 1393.3 1538.2C1394.4 1541 1395.4 1544.4 1396.4 1547.2C1397.4 1550 1398.4 1553.7 1399.4 1555.2C1400.4 1556.7 1401.4 1557.1 1402.4 1556.2C1403.4 1555.4 1404.4 1553.1 1405.4 1550.2C1406.4 1547.4 1407.4 1542.2 1408.4 1539.2C1409.4 1536.2 1410.4 1533.5 1411.4 1532.2C1412.4 1530.8 1413.4 1530.3 1414.4 1531.2C1415.4 1532 1416.2 1535.3 1417.4 1537.2C1418.6 1539 1420.1 1542 1421.4 1542.2C1422.7 1542.4 1424.1 1539.5 1425.4 1538.2C1426.7 1536.9 1428.3 1535.1 1429.4 1534.2C1430.6 1533.2 1431.3 1532.4 1432.4 1532.6C1433.6 1532.7 1435.1 1534.1 1436.4 1535.2C1437.8 1536.3 1439.1 1537.7 1440.4 1539.2C1441.8 1540.7 1443.1 1543.1 1444.5 1544.2C1445.8 1545.3 1447.1 1545.5 1448.5 1545.8C1449.8 1546.1 1451.1 1545.9 1452.5 1546.2C1453.8 1546.5 1455.1 1547.3 1456.5 1547.8C1457.8 1548.3 1459.3 1549.3 1460.5 1549.2C1461.7 1549.1 1462.3 1548.1 1463.5 1547.2C1464.7 1546.3 1466.2 1544.2 1467.5 1543.8C1468.8 1543.4 1470.2 1544.7 1471.5 1544.6C1472.8 1544.5 1474.2 1543.7 1475.5 1543.2C1476.8 1542.7 1478.2 1542.4 1479.5 1541.8C1480.9 1541.2 1482.2 1540.4 1483.5 1539.8C1484.9 1539.2 1486.2 1538.3 1487.5 1538.2C1488.9 1538.1 1490.2 1539.3 1491.5 1539.2C1492.9 1539.1 1494.2 1538 1495.6 1537.8C1496.9 1537.6 1498.2 1537.9 1499.6 1537.8C1500.9 1537.7 1502.2 1537.4 1503.6 1537.2C1504.9 1537 1506.9 1536.7 1507.6 1536.6" stroke="#000" stroke-width="4" fill="none" stroke-linejoin="round" stroke-linecap="round"/>
<path d="M1239 1562.2C1239.9 1562.1 1242.4 1561 1244.1 1561.2C1245.7 1561.5 1247.4 1562.8 1249.1 1563.8C1250.7 1564.8 1252.4 1566.3 1254.1 1567.2C1255.7 1568.1 1257.4 1569.6 1259.1 1569.3C1260.8 1568.9 1262.4 1566.1 1264.1 1565.2C1265.8 1564.3 1267.6 1564.4 1269.1 1563.8C1270.6 1563.3 1271.8 1562.6 1273.1 1561.8C1274.4 1561.1 1275.8 1559.9 1277.1 1559.2C1278.5 1558.6 1279.8 1557.7 1281.1 1557.8C1282.5 1557.9 1283.8 1558.8 1285.1 1559.8C1286.5 1560.8 1288 1561.9 1289.1 1563.8C1290.3 1565.7 1291 1568.8 1292.1 1571.3C1293.3 1573.7 1295 1577.4 1296.2 1578.3C1297.3 1579.1 1298.2 1578.3 1299.2 1576.3C1300.2 1574.3 1301 1569.6 1302.2 1566.2C1303.3 1562.9 1304.8 1559.4 1306.2 1556.2C1307.5 1553.1 1309 1550.9 1310.2 1547.2C1311.4 1543.5 1312.2 1537.9 1313.2 1534.2C1314.2 1530.5 1315.4 1526.9 1316.2 1525.2C1317 1523.4 1317.4 1523.3 1318.2 1523.8C1319 1524.3 1320.2 1525.8 1321.2 1528.2C1322.2 1530.6 1323 1535.5 1324.2 1538.2C1325.4 1540.9 1326.9 1542.2 1328.2 1544.2C1329.6 1546.2 1330.9 1548 1332.2 1550.2C1333.6 1552.4 1334.9 1554.7 1336.2 1557.2C1337.6 1559.7 1338.9 1563.1 1340.2 1565.2C1341.6 1567.4 1342.9 1569.3 1344.3 1570.3C1345.6 1571.3 1346.9 1571 1348.3 1571.3C1349.6 1571.5 1351.1 1572 1352.3 1571.9C1353.4 1571.7 1354.3 1571.9 1355.3 1570.3C1356.3 1568.6 1357.1 1564.7 1358.3 1562.2C1359.4 1559.7 1361 1556.6 1362.3 1555.2C1363.6 1553.8 1365 1554.3 1366.3 1553.8C1367.6 1553.3 1369 1552.8 1370.3 1552.2C1371.6 1551.7 1373 1550.9 1374.3 1550.6C1375.6 1550.3 1377 1550.5 1378.3 1550.6C1379.7 1550.7 1381 1551 1382.3 1551.2C1383.7 1551.4 1385 1551.1 1386.3 1551.8C1387.7 1552.5 1389.2 1553.5 1390.3 1555.2C1391.5 1557 1392.3 1559.9 1393.3 1562.2C1394.4 1564.6 1395.4 1567.2 1396.4 1569.3C1397.4 1571.3 1398.4 1573.2 1399.4 1574.3C1400.4 1575.4 1401.4 1576.2 1402.4 1575.9C1403.4 1575.5 1404.4 1574.5 1405.4 1572.3C1406.4 1570 1407.4 1565.1 1408.4 1562.2C1409.4 1559.4 1410.4 1556.7 1411.4 1555.2C1412.4 1553.7 1413.4 1552.7 1414.4 1553.2C1415.4 1553.7 1416.2 1556.2 1417.4 1558.2C1418.6 1560.2 1420.2 1564.3 1421.4 1565.2C1422.6 1566.2 1423.4 1565.2 1424.4 1563.8C1425.4 1562.5 1426.2 1559 1427.4 1557.2C1428.6 1555.5 1430.1 1554.1 1431.4 1553.2C1432.8 1552.4 1434.3 1551.7 1435.4 1552.2C1436.6 1552.7 1437.4 1555 1438.4 1556.2C1439.4 1557.5 1440.3 1559.2 1441.4 1559.8C1442.6 1560.4 1444.1 1559.7 1445.5 1559.8C1446.8 1560 1448.1 1560.2 1449.5 1560.6C1450.8 1561.1 1452.1 1562.4 1453.5 1562.6C1454.8 1562.9 1456.1 1563 1457.5 1562.2C1458.8 1561.5 1460.3 1559.6 1461.5 1558.2C1462.7 1556.9 1463.3 1555.2 1464.5 1554.2C1465.7 1553.2 1467.2 1552.8 1468.5 1552.2C1469.8 1551.6 1471.2 1551.1 1472.5 1550.6C1473.8 1550.1 1475.2 1549.5 1476.5 1549.2C1477.9 1548.9 1479.2 1549 1480.5 1548.6C1481.9 1548.2 1483.2 1547.3 1484.5 1546.6C1485.9 1545.9 1487.2 1545 1488.5 1544.2C1489.9 1543.4 1491.2 1542.5 1492.5 1541.8C1493.9 1541.1 1495.2 1540.3 1496.6 1540.2C1497.9 1540.1 1499.2 1541.1 1500.6 1541.2C1501.9 1541.3 1503.4 1540.8 1504.6 1540.6C1505.7 1540.4 1507.1 1540.3 1507.6 1540.2" stroke="#E7A324" stroke-width="4" fill="none" stroke-linejoin="round" stroke-linecap="round"/>
<text x="117.6" y="1619.6" font-size="23.5" text-anchor="middle" class="t">T7</text>
<path d="M83.2 1757.9H351.4" stroke="#000" stroke-width="3.7" fill="none" stroke-linecap="round"/>
<path d="M121.8 1660.6V1782.7" stroke="#000" stroke-width="3.7" fill="none" stroke-linecap="round"/>
<path d="M160 1749.9v16M198.2 1749.9v16M236.4 1749.9v16M274.6 1749.9v16M312.8 1749.9v16" stroke="#000" stroke-width="2.1" fill="none"/>
<path d="M82.6 1763.3C83.3 1762.8 85.5 1761.6 87 1760.6C88.6 1759.6 90.4 1758.4 92 1757.2C93.7 1756.1 95.5 1754 97 1753.8C98.5 1753.7 99.5 1755.1 101 1756.2C102.6 1757.4 104.6 1759.6 106.1 1760.6C107.6 1761.7 108.7 1762.6 110.1 1762.6C111.4 1762.6 112.7 1761.5 114.1 1760.6C115.4 1759.7 116.7 1757.7 118.1 1757.2C119.4 1756.8 120.8 1757.7 122.1 1757.8C123.4 1757.9 124.8 1757.8 126.1 1757.8C127.4 1757.9 128.8 1757.5 130.1 1758.2C131.4 1759 132.9 1760.9 134.1 1762.2C135.3 1763.6 136 1765.2 137.1 1766.3C138.3 1767.3 139.8 1768.7 141.1 1768.7C142.5 1768.7 143.8 1767.7 145.1 1766.3C146.5 1764.9 147.8 1762.6 149.1 1760.2C150.5 1757.9 151.8 1754.9 153.2 1752.2C154.5 1749.6 156 1746.2 157.2 1744.2C158.3 1742.2 159.2 1740.5 160.2 1740.2C161.2 1739.9 162 1740.9 163.2 1742.6C164.3 1744.3 165.8 1747.8 167.2 1750.2C168.5 1752.7 169.9 1755.1 171.2 1757.2C172.5 1759.4 173.9 1762 175.2 1763.3C176.5 1764.5 177.9 1764.8 179.2 1764.7C180.5 1764.5 181.9 1763.5 183.2 1762.2C184.5 1761 185.9 1759.7 187.2 1757.2C188.6 1754.7 189.9 1750.4 191.2 1747.2C192.6 1744 193.9 1741.2 195.2 1738.2C196.6 1735.2 197.9 1732.5 199.2 1729.2C200.6 1725.8 201.9 1721 203.3 1718.2C204.6 1715.3 206.1 1713.5 207.3 1712.1C208.4 1710.8 209.1 1710 210.3 1710.1C211.4 1710.3 212.9 1712.4 214.3 1713.2C215.6 1713.9 216.9 1714.6 218.3 1714.6C219.6 1714.6 221 1714 222.3 1713.2C223.6 1712.3 225 1710.2 226.3 1709.7C227.6 1709.2 229 1709.7 230.3 1710.1C231.6 1710.5 233.1 1710.8 234.3 1712.1C235.5 1713.5 236.3 1715.8 237.3 1718.2C238.3 1720.5 239.2 1723.5 240.3 1726.2C241.5 1728.8 243.2 1732.5 244.3 1734.2C245.5 1735.9 246.3 1736.9 247.3 1736.2C248.3 1735.5 249.3 1732.9 250.3 1730.2C251.3 1727.5 252.2 1722.7 253.4 1720.2C254.5 1717.7 256.2 1715.3 257.4 1715.2C258.5 1715 259.4 1717.7 260.4 1719.2C261.4 1720.7 262.4 1722.8 263.4 1724.2C264.4 1725.5 265.2 1726.8 266.4 1727.2C267.5 1727.5 269.1 1726.7 270.4 1726.2C271.7 1725.7 273.1 1724.6 274.4 1724.2C275.7 1723.8 277.1 1723.4 278.4 1723.8C279.7 1724.1 281.1 1725.1 282.4 1726.2C283.7 1727.2 285.1 1728.7 286.4 1730.2C287.8 1731.7 289.1 1733.9 290.4 1735.2C291.8 1736.5 293.1 1737.1 294.4 1737.8C295.8 1738.5 297.1 1738.5 298.4 1739.2C299.8 1739.9 301.1 1741.2 302.5 1742.2C303.8 1743.2 305.1 1744.5 306.5 1745.2C307.8 1745.9 309.1 1745.8 310.5 1746.2C311.8 1746.7 313.1 1747.7 314.5 1747.8C315.8 1748 317.1 1747 318.5 1747.2C319.8 1747.5 321.2 1748.7 322.5 1749.2C323.8 1749.7 325.2 1750.6 326.5 1750.2C327.8 1749.9 329.2 1747.4 330.5 1747.2C331.8 1747.1 333.2 1748.3 334.5 1749.2C335.9 1750.1 337.2 1752 338.5 1752.6C339.9 1753.3 341.2 1753.2 342.5 1753.2C343.9 1753.2 345 1752.7 346.5 1752.6C348 1752.5 350.7 1752.6 351.5 1752.6" stroke="#000" stroke-width="4" fill="none" stroke-linejoin="round" stroke-linecap="round"/>
<path d="M82.6 1760.6C83.3 1760.4 85.5 1759.7 87 1759.2C88.6 1758.8 90.4 1757.8 92 1757.8C93.7 1757.8 95.4 1759.5 97 1759.2C98.7 1759 100.4 1756.9 102.1 1756.2C103.7 1755.6 105.4 1755.2 107.1 1755.2C108.7 1755.2 110.4 1755.8 112.1 1756.2C113.7 1756.7 115.6 1757.8 117.1 1757.8C118.6 1757.9 119.6 1757.2 121.1 1756.6C122.6 1756.1 124.6 1755.1 126.1 1754.6C127.6 1754.2 128.8 1753.1 130.1 1753.8C131.4 1754.6 132.8 1757.3 134.1 1759.2C135.5 1761.1 136.8 1763.8 138.1 1765.3C139.5 1766.8 140.8 1768.3 142.1 1768.3C143.5 1768.3 144.8 1766.6 146.1 1765.3C147.5 1763.9 148.8 1762.4 150.1 1760.2C151.5 1758.1 153 1754.6 154.2 1752.2C155.3 1749.9 156.2 1747.6 157.2 1746.2C158.2 1744.8 159.2 1743.6 160.2 1743.8C161.2 1744 162 1745.5 163.2 1747.2C164.3 1749 165.8 1751.7 167.2 1754.2C168.5 1756.7 169.9 1759.7 171.2 1762.2C172.5 1764.8 173.9 1767.3 175.2 1769.3C176.5 1771.2 177.9 1772.7 179.2 1773.9C180.5 1775 181.9 1776 183.2 1776.3C184.5 1776.5 185.9 1776.1 187.2 1775.3C188.6 1774.4 189.9 1772.9 191.2 1771.3C192.6 1769.6 194.1 1767.8 195.2 1765.3C196.4 1762.7 197.2 1759.4 198.2 1756.2C199.2 1753.1 200.1 1749.6 201.2 1746.2C202.4 1742.9 203.9 1738.7 205.3 1736.2C206.6 1733.7 207.9 1732.7 209.3 1731.2C210.6 1729.7 211.9 1728.4 213.3 1727.2C214.6 1725.9 215.9 1724.3 217.3 1723.8C218.6 1723.2 220 1724.4 221.3 1723.8C222.6 1723.2 224 1721.4 225.3 1720.2C226.6 1719 228 1716.9 229.3 1716.6C230.6 1716.2 232 1716.9 233.3 1718.2C234.6 1719.4 236 1722 237.3 1724.2C238.7 1726.3 240 1729.2 241.3 1731.2C242.7 1733.2 244.2 1735.8 245.3 1736.2C246.5 1736.6 247.3 1735.5 248.3 1733.8C249.3 1732.1 250.3 1728.8 251.3 1726.2C252.4 1723.6 253.4 1720.1 254.4 1718.2C255.4 1716.2 256.4 1714.7 257.4 1714.6C258.4 1714.4 259.2 1716 260.4 1717.2C261.5 1718.4 263 1721.4 264.4 1721.8C265.7 1722.1 267 1720 268.4 1719.2C269.7 1718.3 271.1 1717 272.4 1716.6C273.7 1716.1 275.1 1716.1 276.4 1716.6C277.7 1717 279.1 1718.1 280.4 1719.2C281.7 1720.3 283.1 1722.3 284.4 1723.2C285.8 1724.1 287.1 1724.2 288.4 1724.6C289.8 1724.9 291.1 1725 292.4 1725.2C293.8 1725.4 295.1 1725.4 296.4 1725.8C297.8 1726.1 299.1 1726.9 300.4 1727.2C301.8 1727.4 303.1 1727.3 304.5 1727.2C305.8 1727.1 307.1 1725.9 308.5 1726.6C309.8 1727.2 311.1 1730.1 312.5 1731.2C313.8 1732.3 315.1 1732.6 316.5 1733.2C317.8 1733.8 319.2 1734.1 320.5 1734.6C321.8 1735.1 323.2 1735.8 324.5 1736.2C325.8 1736.6 327.2 1736.9 328.5 1737.2C329.8 1737.5 331.2 1737.6 332.5 1737.8C333.8 1738 335.2 1738 336.5 1738.2C337.9 1738.4 339.2 1738.9 340.5 1739.2C341.9 1739.5 342.7 1739.9 344.5 1740.2C346.4 1740.5 350.4 1741 351.5 1741.2" stroke="#E7A324" stroke-width="4" fill="none" stroke-linejoin="round" stroke-linecap="round"/>
<text x="406.4" y="1619.6" font-size="23.5" text-anchor="middle" class="t">C3</text>
<path d="M372 1757.9H640.2" stroke="#000" stroke-width="3.7" fill="none" stroke-linecap="round"/>
<path d="M410.6 1660.6V1782.7" stroke="#000" stroke-width="3.7" fill="none" stroke-linecap="round"/>
<path d="M448.8 1749.9v16M487 1749.9v16M525.2 1749.9v16M563.4 1749.9v16M601.6 1749.9v16" stroke="#000" stroke-width="2.1" fill="none"/>
<path d="M371.6 1754.2C372.3 1753.7 374.5 1751.6 376 1751.2C377.6 1750.8 379.4 1751.3 381 1751.8C382.7 1752.3 384.5 1752.8 386 1754.2C387.5 1755.6 388.5 1758.5 390 1760.2C391.6 1762 393.6 1763.7 395.1 1764.7C396.6 1765.6 397.7 1766.1 399.1 1765.9C400.4 1765.6 401.7 1764.3 403.1 1763.3C404.4 1762.2 405.7 1760.7 407.1 1759.8C408.4 1758.9 409.8 1758.1 411.1 1757.8C412.4 1757.6 413.8 1757.8 415.1 1758.2C416.4 1758.7 417.8 1759.5 419.1 1760.6C420.4 1761.8 421.9 1763.7 423.1 1765.3C424.3 1766.9 425.1 1769.3 426.1 1770.3C427.1 1771.3 428 1771.9 429.1 1771.3C430.3 1770.6 431.8 1769.1 433.1 1766.3C434.5 1763.4 435.8 1758.6 437.1 1754.2C438.5 1749.9 439.8 1745.2 441.2 1740.2C442.5 1735.2 444 1728.3 445.2 1724.2C446.3 1720 447.2 1716.9 448.2 1715.2C449.2 1713.4 450.2 1713.1 451.2 1713.8C452.2 1714.4 453 1717.1 454.2 1719.2C455.3 1721.2 456.8 1724.5 458.2 1726.2C459.5 1727.8 460.9 1728.5 462.2 1729.2C463.5 1729.9 464.9 1730.7 466.2 1730.2C467.5 1729.7 468.9 1728 470.2 1726.2C471.5 1724.3 472.9 1721.5 474.2 1719.2C475.6 1716.8 476.9 1714.2 478.2 1712.1C479.6 1710.1 480.9 1708.8 482.2 1707.1C483.6 1705.5 484.9 1704.6 486.2 1702.1C487.6 1699.6 488.9 1695.8 490.2 1692.1C491.6 1688.4 492.9 1683.4 494.3 1680.1C495.6 1676.7 496.9 1673.7 498.3 1672.1C499.6 1670.5 500.9 1670.6 502.3 1670.5C503.6 1670.3 504.9 1671.1 506.3 1671.1C507.6 1671 509 1670.9 510.3 1670.1C511.6 1669.2 513 1667.1 514.3 1666.1C515.6 1665 517.1 1664.1 518.3 1663.7C519.5 1663.3 520.3 1662.6 521.3 1663.7C522.3 1664.7 523.1 1667.3 524.3 1670.1C525.5 1672.8 527 1676.7 528.3 1680.1C529.7 1683.4 531.1 1687.3 532.3 1690.1C533.6 1692.9 534.9 1697.5 535.9 1697.1C537 1696.8 537.7 1692.3 538.7 1688.1C539.7 1683.9 540.8 1676.4 542 1672.1C543.1 1667.7 544.4 1663.6 545.4 1662C546.4 1660.5 547.1 1661.5 548 1663.1C548.8 1664.6 549.5 1668.7 550.4 1671.1C551.3 1673.4 552.4 1676.6 553.4 1677.1C554.4 1677.6 555.2 1675.3 556.4 1674.1C557.5 1672.8 559.1 1670.8 560.4 1669.7C561.7 1668.5 563.1 1667.2 564.4 1667.1C565.7 1667 567.1 1668.1 568.4 1669.1C569.7 1670.1 571.1 1671.6 572.4 1673.1C573.7 1674.6 575.1 1676.3 576.4 1678.1C577.8 1679.9 579.1 1682.4 580.4 1683.7C581.8 1685 583.1 1685 584.4 1686.1C585.8 1687.2 587.1 1688.5 588.4 1690.5C589.8 1692.5 591.3 1696.2 592.5 1698.1C593.6 1700 594.3 1701.3 595.5 1701.7C596.6 1702.1 598.1 1700.2 599.5 1700.5C600.8 1700.9 602.1 1702.6 603.5 1703.7C604.8 1704.8 606.1 1706.1 607.5 1707.1C608.8 1708.1 610.3 1709 611.5 1709.7C612.7 1710.5 613.3 1712 614.5 1711.7C615.7 1711.5 617.2 1708.8 618.5 1708.1C619.8 1707.5 621.2 1707.3 622.5 1707.7C623.8 1708.1 625.2 1709.5 626.5 1710.5C627.9 1711.6 629 1713.2 630.5 1714.2C632 1715.1 633.9 1715.8 635.5 1716.2C637.2 1716.5 639.7 1716.2 640.5 1716.2" stroke="#000" stroke-width="4" fill="none" stroke-linejoin="round" stroke-linecap="round"/>
<path d="M371.6 1747.2C372.3 1747.3 374.6 1747.3 376 1747.8C377.4 1748.4 378.7 1749.4 380 1750.6C381.4 1751.9 382.7 1753.6 384 1755.2C385.4 1756.8 386.7 1758.8 388 1760.2C389.4 1761.7 390.7 1763 392.1 1763.9C393.4 1764.7 394.7 1765.4 396.1 1765.3C397.4 1765.2 398.6 1764 400.1 1763.3C401.6 1762.5 403.6 1761.5 405.1 1760.6C406.6 1759.7 407.8 1758.7 409.1 1757.8C410.4 1756.9 411.8 1755.8 413.1 1755.2C414.4 1754.6 415.9 1754.1 417.1 1754.2C418.3 1754.4 419.1 1754.7 420.1 1756.2C421.1 1757.7 422.1 1760.9 423.1 1763.3C424.1 1765.6 425.1 1768.8 426.1 1770.3C427.1 1771.7 428.1 1772.2 429.1 1771.9C430.1 1771.5 431 1770.5 432.1 1768.3C433.3 1766 434.8 1762.2 436.1 1758.2C437.5 1754.2 439 1748.6 440.1 1744.2C441.3 1739.9 442.2 1735.9 443.2 1732.2C444.2 1728.5 445.2 1724.3 446.2 1722.2C447.2 1720 448.2 1719.2 449.2 1719.2C450.2 1719.2 451 1720.2 452.2 1722.2C453.3 1724.2 454.8 1727.8 456.2 1731.2C457.5 1734.5 458.9 1738.7 460.2 1742.2C461.5 1745.7 462.9 1749.8 464.2 1752.2C465.5 1754.6 466.9 1755.8 468.2 1756.6C469.5 1757.5 470.9 1757 472.2 1757.2C473.5 1757.5 475 1757.7 476.2 1758.2C477.5 1758.8 478.7 1760.5 479.8 1760.6C481 1760.8 482.2 1760.6 483.2 1759.2C484.3 1757.8 485.1 1755.1 486.2 1752.2C487.4 1749.4 488.9 1745.9 490.2 1742.2C491.6 1738.5 492.9 1734.2 494.3 1730.2C495.6 1726.2 496.9 1721.7 498.3 1718.2C499.6 1714.7 500.9 1711.5 502.3 1709.1C503.6 1706.8 504.9 1705.3 506.3 1704.1C507.6 1703 509 1703 510.3 1702.1C511.6 1701.3 513 1700.4 514.3 1699.1C515.6 1697.9 517.1 1695.5 518.3 1694.5C519.5 1693.5 520.3 1692.8 521.3 1693.1C522.3 1693.4 523.3 1694.6 524.3 1696.1C525.3 1697.6 526.3 1699.8 527.3 1702.1C528.3 1704.5 529.3 1708 530.3 1710.1C531.3 1712.3 532.3 1715.2 533.3 1715.2C534.3 1715.2 535.3 1713.3 536.3 1710.1C537.3 1707 538.3 1700.8 539.3 1696.1C540.3 1691.4 541.2 1685.8 542.4 1682.1C543.5 1678.4 545.2 1675.1 546.4 1674.1C547.5 1673 548.4 1674.5 549.4 1675.7C550.4 1676.8 551.4 1679.9 552.4 1681.1C553.4 1682.3 554.4 1683.6 555.4 1683.1C556.4 1682.6 557.2 1680 558.4 1678.1C559.6 1676.2 561.1 1672.8 562.4 1671.7C563.7 1670.5 565.2 1670.7 566.4 1671.1C567.6 1671.5 568.4 1672.7 569.4 1674.1C570.4 1675.4 571.2 1677.2 572.4 1679.1C573.6 1680.9 575.1 1683.7 576.4 1685.1C577.8 1686.5 579.1 1687.1 580.4 1687.7C581.8 1688.3 583.1 1688.4 584.4 1688.5C585.8 1688.6 587.1 1688.1 588.4 1688.5C589.8 1688.9 591.1 1690.9 592.5 1691.1C593.8 1691.3 595.1 1689.5 596.5 1689.7C597.8 1689.9 599.1 1691.1 600.5 1692.1C601.8 1693.1 603.1 1694.6 604.5 1695.7C605.8 1696.8 607.1 1697.8 608.5 1698.5C609.8 1699.3 611.2 1699.6 612.5 1700.1C613.8 1700.7 615.2 1701.2 616.5 1701.7C617.8 1702.2 619.2 1702.6 620.5 1703.1C621.8 1703.7 623.2 1704.3 624.5 1705.1C625.9 1706 627.2 1707 628.5 1708.1C629.9 1709.3 631.2 1711.1 632.5 1712.1C633.9 1713.2 635.2 1714 636.5 1714.6C637.9 1715.2 639.9 1715.6 640.5 1715.8" stroke="#E7A324" stroke-width="4" fill="none" stroke-linejoin="round" stroke-linecap="round"/>
<text x="696" y="1619.6" font-size="23.5" text-anchor="middle" class="t">Cz</text>
<path d="M661.6 1757.9H929.8" stroke="#000" stroke-width="3.7" fill="none" stroke-linecap="round"/>
<path d="M700.2 1660.6V1782.7" stroke="#000" stroke-width="3.7" fill="none" stroke-linecap="round"/>
<path d="M738.4 1749.9v16M776.6 1749.9v16M814.8 1749.9v16M853 1749.9v16M891.2 1749.9v16" stroke="#000" stroke-width="2.1" fill="none"/>
<path d="M660.6 1749.2C661.3 1748.9 663.5 1747.1 665 1747.2C666.6 1747.4 668.4 1748.7 670 1750.2C671.7 1751.7 673.4 1754.1 675 1756.2C676.7 1758.4 678.4 1761.4 680.1 1763.3C681.7 1765.1 683.6 1766.6 685.1 1767.3C686.6 1767.9 687.7 1767.9 689.1 1767.3C690.4 1766.6 691.7 1764.8 693.1 1763.3C694.4 1761.7 695.7 1759.4 697.1 1758.2C698.4 1757.1 699.8 1756.5 701.1 1756.2C702.4 1756 703.8 1756 705.1 1756.6C706.4 1757.3 707.9 1758.8 709.1 1760.2C710.3 1761.7 711.1 1763.6 712.1 1765.3C713.1 1766.9 714.1 1769.1 715.1 1770.3C716.1 1771.4 717.1 1772.9 718.1 1772.3C719.1 1771.6 720 1769.6 721.1 1766.3C722.3 1762.9 723.8 1757.2 725.1 1752.2C726.5 1747.2 727.8 1741.9 729.1 1736.2C730.5 1730.5 732 1723.8 733.2 1718.2C734.3 1712.5 735.2 1706.1 736.2 1702.1C737.2 1698.1 738.2 1694.9 739.2 1694.1C740.2 1693.3 741.2 1694.9 742.2 1697.1C743.2 1699.3 744 1704 745.2 1707.1C746.3 1710.3 747.9 1714.2 749.2 1716.2C750.5 1718.2 751.9 1719 753.2 1719.2C754.5 1719.3 755.9 1718.2 757.2 1717.2C758.5 1716.2 759.9 1714.5 761.2 1713.2C762.5 1711.8 763.9 1710.4 765.2 1709.1C766.6 1707.9 767.9 1706.7 769.2 1705.7C770.6 1704.7 772.1 1703.8 773.2 1703.1C774.4 1702.5 775.1 1703.2 776.2 1701.7C777.4 1700.2 778.9 1697.4 780.3 1694.1C781.6 1690.8 782.9 1685.4 784.3 1682.1C785.6 1678.7 786.9 1676.1 788.3 1674.1C789.6 1672.1 790.9 1670.8 792.3 1670.1C793.6 1669.3 794.9 1670.3 796.3 1669.7C797.6 1669 799 1667.3 800.3 1666.1C801.6 1664.8 803.1 1663.1 804.3 1662C805.5 1661 806.2 1660.7 807.3 1660C808.4 1659.4 809.7 1657.2 810.9 1658C812.1 1658.9 813.1 1662 814.3 1665.1C815.6 1668.1 817.2 1672.6 818.3 1676.1C819.5 1679.6 820.2 1683.4 821.3 1686.1C822.4 1688.8 823.9 1692.4 824.9 1692.1C826 1691.8 826.7 1688.1 827.7 1684.1C828.7 1680.1 829.9 1673.2 831 1668.1C832 1662.9 833.1 1656.3 834 1653C834.9 1649.8 835.5 1648.4 836.4 1648.4C837.2 1648.4 838 1650.8 839 1653C840 1655.3 841.3 1661 842.4 1662C843.4 1663.1 844.2 1660.4 845.4 1659C846.5 1657.6 848.1 1655.1 849.4 1653.6C850.7 1652.1 852.2 1650.4 853.4 1650C854.6 1649.7 855.2 1650.6 856.4 1651.6C857.6 1652.6 859.1 1654.5 860.4 1656C861.7 1657.6 863.1 1659.4 864.4 1661C865.8 1662.7 867.1 1664.6 868.4 1666.1C869.8 1667.5 871.1 1668.3 872.4 1669.7C873.8 1671 875.3 1672.2 876.4 1674.1C877.6 1676 878.3 1678.6 879.4 1681.1C880.6 1683.6 882.3 1687.7 883.5 1689.1C884.6 1690.5 885.5 1690 886.5 1689.7C887.5 1689.4 888.3 1687 889.5 1687.1C890.6 1687.2 892.1 1689.4 893.5 1690.5C894.8 1691.6 896.1 1692.8 897.5 1693.7C898.8 1694.6 900.3 1695.2 901.5 1695.7C902.7 1696.2 903.3 1697 904.5 1696.5C905.7 1696.1 907.3 1693.5 908.5 1693.1C909.7 1692.7 910.3 1693.1 911.5 1694.1C912.7 1695.1 914.2 1697.7 915.5 1699.1C916.9 1700.5 918 1701.7 919.5 1702.5C921 1703.4 922.9 1703.7 924.5 1704.1C926.2 1704.6 928.7 1705 929.5 1705.1" stroke="#000" stroke-width="4" fill="none" stroke-linejoin="round" stroke-linecap="round"/>
<path d="M660.6 1746.2C661.3 1746.4 663.6 1746.6 665 1747.2C666.4 1747.9 667.7 1748.7 669 1750.2C670.4 1751.7 671.7 1753.9 673 1756.2C674.4 1758.6 675.7 1762.1 677 1764.3C678.4 1766.4 679.7 1768.9 681.1 1769.3C682.4 1769.7 683.7 1767.7 685.1 1766.7C686.4 1765.7 687.7 1764.3 689.1 1763.3C690.4 1762.2 691.7 1762.1 693.1 1760.6C694.4 1759.2 695.7 1756.2 697.1 1754.6C698.4 1753.1 699.8 1752.1 701.1 1751.2C702.4 1750.3 703.9 1749.4 705.1 1749.2C706.3 1749.1 707.1 1749.1 708.1 1750.2C709.1 1751.4 710.1 1753.6 711.1 1756.2C712.1 1758.9 713.1 1763.5 714.1 1766.3C715.1 1769 716.1 1772 717.1 1772.7C718.1 1773.3 719.1 1772.3 720.1 1770.3C721.1 1768.2 722 1764.6 723.1 1760.2C724.3 1755.9 725.8 1749.6 727.1 1744.2C728.5 1738.9 730 1733.5 731.2 1728.2C732.3 1722.8 733.2 1716.5 734.2 1712.1C735.2 1707.8 736.2 1703.3 737.2 1702.1C738.2 1701 739.2 1702.8 740.2 1705.1C741.2 1707.5 742 1712.3 743.2 1716.2C744.3 1720 745.8 1724.2 747.2 1728.2C748.5 1732.2 749.9 1736.7 751.2 1740.2C752.5 1743.7 753.9 1747.1 755.2 1749.2C756.5 1751.4 757.9 1752.1 759.2 1753.2C760.5 1754.4 761.9 1754.9 763.2 1756.2C764.6 1757.6 766 1759.8 767.2 1761.2C768.5 1762.6 769.7 1764.3 770.8 1764.7C772 1765 773.1 1764.7 774.2 1763.3C775.4 1761.8 776.5 1759.4 777.6 1756.2C778.8 1753.1 780 1748.6 781.3 1744.2C782.5 1739.9 783.9 1734.2 785.3 1730.2C786.6 1726.2 787.9 1723.2 789.3 1720.2C790.6 1717.2 791.9 1714.3 793.3 1712.1C794.6 1710 795.9 1708.5 797.3 1707.1C798.6 1705.8 800 1705.5 801.3 1704.1C802.6 1702.8 804 1700.4 805.3 1699.1C806.6 1697.9 808 1696.7 809.3 1696.5C810.6 1696.4 812 1696.9 813.3 1698.1C814.7 1699.4 816.2 1702 817.3 1704.1C818.5 1706.3 819.3 1709.5 820.3 1711.1C821.3 1712.8 822.3 1714.7 823.3 1714.2C824.3 1713.7 825.3 1711.1 826.3 1708.1C827.3 1705.1 828.3 1700.8 829.3 1696.1C830.4 1691.4 831.4 1684.8 832.4 1680.1C833.4 1675.4 834.5 1671 835.4 1668.1C836.3 1665.1 836.9 1662.6 837.8 1662.4C838.6 1662.3 839.4 1665.4 840.4 1667.1C841.3 1668.7 842.4 1672 843.4 1672.5C844.4 1673 845.4 1671.8 846.4 1670.1C847.4 1668.3 848.3 1664.2 849.4 1662C850.5 1659.9 851.8 1657.4 853 1657C854.2 1656.7 855.3 1658.5 856.4 1660C857.5 1661.5 858.2 1664.1 859.4 1666.1C860.6 1668.1 862.1 1670.7 863.4 1672.1C864.8 1673.5 866.1 1673.9 867.4 1674.5C868.8 1675.1 870.1 1675.4 871.4 1675.7C872.8 1675.9 874.1 1676.1 875.4 1676.1C876.8 1676.1 878.1 1676.2 879.4 1675.7C880.8 1675.2 882.3 1673.7 883.5 1673.1C884.6 1672.5 885.5 1671.6 886.5 1672.1C887.5 1672.6 888.3 1675.1 889.5 1676.1C890.6 1677.1 892.1 1677.6 893.5 1678.1C894.8 1678.6 896.1 1678.5 897.5 1679.1C898.8 1679.7 900.2 1680.8 901.5 1681.7C902.8 1682.6 904.2 1683.6 905.5 1684.5C906.8 1685.4 908.2 1686 909.5 1687.1C910.8 1688.2 912.2 1690.3 913.5 1691.1C914.9 1691.9 916.2 1690.9 917.5 1691.7C918.9 1692.5 920.2 1694.6 921.5 1696.1C922.9 1697.6 924.2 1699.3 925.5 1700.5C926.9 1701.8 928.9 1703.2 929.5 1703.7" stroke="#E7A324" stroke-width="4" fill="none" stroke-linejoin="round" stroke-linecap="round"/>
<text x="984.6" y="1619.6" font-size="23.5" text-anchor="middle" class="t">C4</text>
<path d="M950.2 1757.9H1218.4" stroke="#000" stroke-width="3.7" fill="none" stroke-linecap="round"/>
<path d="M988.8 1660.6V1782.7" stroke="#000" stroke-width="3.7" fill="none" stroke-linecap="round"/>
<path d="M1027 1749.9v16M1065.2 1749.9v16M1103.4 1749.9v16M1141.6 1749.9v16M1179.8 1749.9v16" stroke="#000" stroke-width="2.1" fill="none"/>
<path d="M949.6 1748.6C950.3 1748.4 952.5 1747 954 1747.2C955.6 1747.5 957.4 1748.7 959 1750.2C960.7 1751.7 962.4 1754.1 964 1756.2C965.7 1758.4 967.4 1761.6 969.1 1763.3C970.7 1764.9 972.6 1765.9 974.1 1766.3C975.6 1766.6 976.7 1765.9 978.1 1765.3C979.4 1764.7 980.7 1763.7 982.1 1762.6C983.4 1761.6 984.7 1760 986.1 1759.2C987.4 1758.4 988.8 1757.9 990.1 1757.8C991.4 1757.7 992.8 1758.2 994.1 1758.6C995.4 1759.1 996.8 1759.8 998.1 1760.6C999.4 1761.5 1000.8 1762.6 1002.1 1763.9C1003.5 1765.1 1004.8 1767.5 1006.1 1767.9C1007.5 1768.3 1008.8 1767.9 1010.1 1766.3C1011.5 1764.7 1012.8 1761.6 1014.1 1758.2C1015.5 1754.9 1016.8 1750.9 1018.1 1746.2C1019.5 1741.5 1021 1735.5 1022.2 1730.2C1023.3 1724.8 1024.2 1718.3 1025.2 1714.2C1026.2 1710 1027.2 1706.3 1028.2 1705.1C1029.2 1704 1030.2 1705.5 1031.2 1707.1C1032.2 1708.8 1033 1712.6 1034.2 1715.2C1035.3 1717.7 1036.9 1720.6 1038.2 1722.2C1039.5 1723.7 1040.9 1724.4 1042.2 1724.6C1043.5 1724.7 1044.9 1723.6 1046.2 1723.2C1047.5 1722.8 1048.9 1721.9 1050.2 1722.2C1051.5 1722.4 1052.9 1724.4 1054.2 1724.6C1055.6 1724.7 1056.9 1724.2 1058.2 1723.2C1059.6 1722.1 1060.9 1719 1062.2 1718.2C1063.6 1717.3 1065.1 1718.8 1066.2 1718.2C1067.4 1717.5 1068.1 1717.2 1069.3 1714.2C1070.4 1711.1 1071.9 1704.3 1073.3 1700.1C1074.6 1695.9 1075.9 1691.6 1077.3 1689.1C1078.6 1686.6 1079.9 1685.9 1081.3 1685.1C1082.6 1684.3 1083.9 1684.8 1085.3 1684.5C1086.6 1684.2 1088 1684.3 1089.3 1683.1C1090.6 1681.9 1092 1679 1093.3 1677.1C1094.6 1675.2 1096.1 1673.1 1097.3 1671.7C1098.5 1670.2 1099.3 1668.2 1100.3 1668.5C1101.3 1668.7 1102.1 1670.5 1103.3 1673.1C1104.5 1675.7 1106.2 1680.8 1107.3 1684.1C1108.5 1687.4 1109.2 1690.9 1110.3 1693.1C1111.4 1695.3 1112.9 1697.6 1113.9 1697.1C1115 1696.6 1115.7 1693.9 1116.7 1690.1C1117.7 1686.3 1118.9 1678.8 1120 1674.1C1121 1669.3 1122.1 1664.2 1123 1661.6C1123.9 1659.1 1124.5 1658.6 1125.4 1659C1126.2 1659.4 1127 1661.7 1128 1664.1C1129 1666.4 1130.4 1671.6 1131.4 1673.1C1132.4 1674.6 1133 1674.7 1134 1673.1C1135 1671.4 1136.2 1666.1 1137.4 1663.1C1138.6 1660 1140.2 1656.9 1141.4 1655C1142.6 1653.2 1143.4 1651.9 1144.4 1652C1145.4 1652.1 1146.2 1654.1 1147.4 1655.6C1148.6 1657.1 1150.1 1659.6 1151.4 1661C1152.8 1662.4 1154.1 1662.9 1155.4 1664.1C1156.8 1665.2 1158.1 1666.7 1159.4 1668.1C1160.8 1669.4 1162.3 1670.4 1163.4 1672.1C1164.6 1673.7 1165.4 1676.2 1166.4 1678.1C1167.4 1679.9 1168.4 1681.3 1169.5 1683.1C1170.5 1684.9 1171.5 1687.9 1172.5 1689.1C1173.5 1690.3 1174.5 1690.4 1175.5 1690.1C1176.5 1689.8 1177.3 1686.8 1178.5 1687.1C1179.6 1687.4 1181.1 1690.6 1182.5 1691.7C1183.8 1692.8 1185.1 1693.3 1186.5 1693.7C1187.8 1694.1 1189.2 1694 1190.5 1694.1C1191.8 1694.2 1193.2 1694 1194.5 1694.1C1195.8 1694.2 1197.2 1694 1198.5 1694.5C1199.8 1695 1201.2 1696.2 1202.5 1697.1C1203.9 1698 1205.2 1699 1206.5 1699.7C1207.9 1700.5 1209.2 1701.3 1210.5 1701.7C1211.9 1702.2 1213.2 1702.3 1214.5 1702.5C1215.9 1702.8 1217.9 1703 1218.5 1703.1" stroke="#000" stroke-width="4" fill="none" stroke-linejoin="round" stroke-linecap="round"/>
<path d="M949.6 1742.2C950.3 1742.5 952.6 1743.2 954 1744.2C955.4 1745.2 956.7 1746.6 958 1748.2C959.4 1749.9 960.7 1751.7 962 1754.2C963.4 1756.7 964.7 1760.5 966 1763.3C967.4 1766 968.7 1769.8 970.1 1770.7C971.4 1771.5 972.7 1769.5 974.1 1768.3C975.4 1767 976.7 1764.8 978.1 1763.3C979.4 1761.7 980.7 1760.6 982.1 1759.2C983.4 1757.9 984.7 1756.1 986.1 1755.2C987.4 1754.4 988.8 1754.7 990.1 1754.2C991.4 1753.7 992.9 1752.6 994.1 1752.2C995.3 1751.8 996.1 1751.2 997.1 1751.8C998.1 1752.5 999.1 1754.2 1000.1 1756.2C1001.1 1758.3 1002.1 1762 1003.1 1764.3C1004.1 1766.5 1005.1 1769.2 1006.1 1769.9C1007.1 1770.5 1008 1769.9 1009.1 1768.3C1010.3 1766.7 1011.8 1763.6 1013.1 1760.2C1014.5 1756.9 1015.8 1752.6 1017.1 1748.2C1018.5 1743.9 1020 1738.5 1021.2 1734.2C1022.3 1729.9 1023.2 1726.2 1024.2 1722.2C1025.2 1718.2 1026.2 1711.6 1027.2 1710.1C1028.2 1708.6 1029.2 1711.1 1030.2 1713.2C1031.2 1715.2 1032 1719 1033.2 1722.2C1034.3 1725.3 1035.9 1728.8 1037.2 1732.2C1038.5 1735.5 1039.9 1738.9 1041.2 1742.2C1042.5 1745.5 1043.9 1749.2 1045.2 1752.2C1046.5 1755.2 1047.9 1758.2 1049.2 1760.2C1050.5 1762.2 1051.9 1763.1 1053.2 1764.3C1054.6 1765.4 1055.9 1767 1057.2 1767.3C1058.6 1767.5 1059.9 1765.9 1061.2 1765.9C1062.6 1765.9 1064.1 1767.5 1065.2 1767.3C1066.4 1767 1067.2 1766.4 1068.2 1764.3C1069.3 1762.1 1070.1 1758.2 1071.3 1754.2C1072.4 1750.2 1074 1744.9 1075.3 1740.2C1076.5 1735.5 1077.5 1729.7 1078.7 1726.2C1079.8 1722.7 1081 1720.8 1082.3 1719.2C1083.5 1717.5 1084.9 1717.2 1086.3 1716.2C1087.6 1715.2 1089 1714.8 1090.3 1713.2C1091.6 1711.5 1093 1708 1094.3 1706.1C1095.6 1704.3 1097 1703 1098.3 1702.1C1099.6 1701.3 1101 1700.8 1102.3 1701.1C1103.7 1701.5 1105 1702.1 1106.3 1704.1C1107.7 1706.1 1109.2 1711 1110.3 1713.2C1111.5 1715.3 1112.3 1717.7 1113.3 1717.2C1114.3 1716.7 1115.3 1713.7 1116.3 1710.1C1117.3 1706.6 1118.3 1701 1119.4 1696.1C1120.4 1691.3 1121.4 1685.2 1122.4 1681.1C1123.4 1677 1124.4 1672.8 1125.4 1671.7C1126.3 1670.5 1127 1672.3 1128 1674.1C1129 1675.8 1130.4 1680.3 1131.4 1682.1C1132.4 1683.9 1133 1686.4 1134 1685.1C1135 1683.8 1136.3 1677.6 1137.4 1674.1C1138.5 1670.6 1139.4 1666.5 1140.4 1664.1C1141.4 1661.6 1142.4 1659.8 1143.4 1659.6C1144.4 1659.5 1145.2 1661.1 1146.4 1663.1C1147.6 1665 1149.1 1668.8 1150.4 1671.1C1151.7 1673.3 1153.1 1675.5 1154.4 1676.5C1155.8 1677.5 1157.1 1676.8 1158.4 1677.1C1159.8 1677.3 1161.1 1677.6 1162.4 1678.1C1163.8 1678.6 1165.1 1679.5 1166.4 1680.1C1167.8 1680.7 1169.1 1681.9 1170.5 1681.7C1171.8 1681.5 1173.3 1679.7 1174.5 1679.1C1175.6 1678.5 1176.3 1677.7 1177.5 1678.1C1178.6 1678.4 1180.1 1680.3 1181.5 1681.1C1182.8 1681.9 1184.1 1682.5 1185.5 1683.1C1186.8 1683.7 1188.2 1684 1189.5 1684.5C1190.8 1685 1192.2 1685.4 1193.5 1686.1C1194.8 1686.8 1196.2 1687.7 1197.5 1688.5C1198.8 1689.3 1200.2 1690.3 1201.5 1691.1C1202.9 1691.9 1204.2 1692.4 1205.5 1693.1C1206.9 1693.8 1208.2 1693.9 1209.5 1695.1C1210.9 1696.4 1212 1698.8 1213.5 1700.5C1215 1702.3 1217.7 1704.9 1218.5 1705.7" stroke="#E7A324" stroke-width="4" fill="none" stroke-linejoin="round" stroke-linecap="round"/>
<text x="1274.2" y="1619.6" font-size="23.5" text-anchor="middle" class="t">T8</text>
<path d="M1239.8 1757.9H1508" stroke="#000" stroke-width="3.7" fill="none" stroke-linecap="round"/>
<path d="M1278.4 1660.6V1782.7" stroke="#000" stroke-width="3.7" fill="none" stroke-linecap="round"/>
<path d="M1316.6 1749.9v16M1354.8 1749.9v16M1393 1749.9v16M1431.2 1749.9v16M1469.4 1749.9v16" stroke="#000" stroke-width="2.1" fill="none"/>
<path d="M1239 1752.6C1239.9 1752.5 1242.4 1751.7 1244.1 1751.8C1245.7 1751.9 1247.6 1752.8 1249.1 1753.2C1250.6 1753.6 1251.7 1753.1 1253.1 1754.2C1254.4 1755.4 1255.7 1758.6 1257.1 1760.2C1258.4 1761.9 1259.7 1763.8 1261.1 1764.3C1262.4 1764.8 1263.8 1763.9 1265.1 1763.3C1266.4 1762.6 1267.8 1761.5 1269.1 1760.6C1270.4 1759.8 1271.8 1758.9 1273.1 1758.2C1274.4 1757.6 1275.8 1756.8 1277.1 1756.6C1278.5 1756.5 1279.8 1756.6 1281.1 1757.2C1282.5 1757.8 1283.8 1759.1 1285.1 1760.2C1286.5 1761.4 1287.8 1763 1289.1 1764.3C1290.5 1765.5 1291.8 1766.9 1293.1 1767.9C1294.5 1768.9 1295.8 1770 1297.2 1770.3C1298.5 1770.5 1299.8 1769.4 1301.2 1769.3C1302.5 1769.1 1304 1769.8 1305.2 1769.3C1306.3 1768.8 1307.2 1768.8 1308.2 1766.3C1309.2 1763.8 1310.2 1758.6 1311.2 1754.2C1312.2 1749.9 1313.2 1743.9 1314.2 1740.2C1315.2 1736.5 1316.2 1733.6 1317.2 1732.2C1318.2 1730.8 1319.2 1731.1 1320.2 1731.8C1321.2 1732.5 1322 1734.6 1323.2 1736.2C1324.4 1737.8 1325.9 1739.5 1327.2 1741.2C1328.6 1742.9 1329.9 1744.8 1331.2 1746.2C1332.6 1747.7 1333.9 1748.8 1335.2 1749.8C1336.6 1750.8 1337.9 1751.5 1339.2 1752.2C1340.6 1753 1341.9 1754.5 1343.2 1754.2C1344.6 1754 1345.9 1751.6 1347.3 1750.6C1348.6 1749.6 1349.9 1749.3 1351.3 1748.2C1352.6 1747.2 1353.9 1745.7 1355.3 1744.2C1356.6 1742.7 1357.9 1741.4 1359.3 1739.2C1360.6 1737 1362.1 1733.4 1363.3 1731.2C1364.5 1728.9 1365.1 1727.3 1366.3 1725.8C1367.5 1724.3 1369 1723.4 1370.3 1722.2C1371.6 1720.9 1373 1719.1 1374.3 1718.2C1375.6 1717.2 1377 1717.3 1378.3 1716.6C1379.7 1715.8 1381 1714.8 1382.3 1713.8C1383.7 1712.7 1385 1711 1386.3 1710.1C1387.7 1709.3 1389.2 1708 1390.3 1708.5C1391.5 1709 1392.2 1710.9 1393.3 1713.2C1394.5 1715.4 1396 1719.7 1397.4 1722.2C1398.7 1724.6 1400.2 1726.8 1401.4 1727.8C1402.5 1728.7 1403.4 1729.4 1404.4 1727.8C1405.4 1726.2 1406.4 1721.4 1407.4 1718.2C1408.4 1714.9 1409.4 1710.3 1410.4 1708.1C1411.4 1706 1412.4 1705.1 1413.4 1705.1C1414.4 1705.1 1415.4 1706.3 1416.4 1708.1C1417.4 1710 1418.4 1714.3 1419.4 1716.2C1420.4 1718 1421.4 1719.5 1422.4 1719.2C1423.4 1718.8 1424.4 1715.9 1425.4 1714.2C1426.4 1712.4 1427.4 1710 1428.4 1708.5C1429.4 1707 1430.3 1705.5 1431.4 1705.1C1432.6 1704.7 1434.1 1705.6 1435.4 1706.1C1436.8 1706.6 1438.1 1707.5 1439.4 1708.1C1440.8 1708.7 1442.1 1709.1 1443.4 1709.7C1444.8 1710.4 1446.1 1711.2 1447.5 1712.1C1448.8 1713.1 1450.1 1714.2 1451.5 1715.2C1452.8 1716.1 1454.1 1716.9 1455.5 1717.8C1456.8 1718.6 1458.1 1719.9 1459.5 1720.2C1460.8 1720.4 1462.2 1719.5 1463.5 1719.2C1464.8 1718.8 1466.2 1718.3 1467.5 1718.2C1468.8 1718.1 1470.2 1718.6 1471.5 1718.6C1472.8 1718.6 1474.2 1718.3 1475.5 1718.2C1476.8 1718 1478.2 1717.6 1479.5 1717.8C1480.9 1717.9 1482.2 1719.2 1483.5 1719.2C1484.9 1719.2 1486.2 1717.8 1487.5 1717.8C1488.9 1717.8 1490.2 1718.6 1491.5 1719.2C1492.9 1719.7 1494.2 1720.7 1495.6 1721.2C1496.9 1721.6 1498.2 1721.7 1499.6 1721.8C1500.9 1721.9 1502.2 1721.8 1503.6 1721.8C1504.9 1721.8 1506.9 1721.8 1507.6 1721.8" stroke="#000" stroke-width="4" fill="none" stroke-linejoin="round" stroke-linecap="round"/>
<path d="M1239 1754.2C1239.9 1754 1242.4 1752.8 1244.1 1752.6C1245.7 1752.5 1247.6 1752.6 1249.1 1753.2C1250.6 1753.8 1251.7 1754.7 1253.1 1756.2C1254.4 1757.7 1255.7 1760.7 1257.1 1762.2C1258.4 1763.8 1259.7 1765.3 1261.1 1765.3C1262.4 1765.3 1263.8 1763.2 1265.1 1762.2C1266.4 1761.3 1267.8 1760.7 1269.1 1759.8C1270.4 1759 1271.8 1757.9 1273.1 1757.2C1274.4 1756.6 1275.8 1756 1277.1 1755.8C1278.5 1755.7 1279.8 1755.8 1281.1 1756.2C1282.5 1756.7 1283.8 1757.6 1285.1 1758.6C1286.5 1759.6 1287.8 1761.1 1289.1 1762.2C1290.5 1763.4 1291.8 1764.6 1293.1 1765.3C1294.5 1765.9 1295.8 1766.5 1297.2 1766.3C1298.5 1766 1299.8 1764.7 1301.2 1763.9C1302.5 1763 1303.8 1763 1305.2 1761.2C1306.5 1759.5 1308 1756.4 1309.2 1753.2C1310.3 1750.1 1311.2 1745.4 1312.2 1742.2C1313.2 1739 1314.2 1735.9 1315.2 1734.2C1316.2 1732.5 1317.2 1732 1318.2 1732.2C1319.2 1732.4 1320 1733.8 1321.2 1735.2C1322.4 1736.6 1323.9 1738.6 1325.2 1740.6C1326.5 1742.6 1327.9 1744.6 1329.2 1747.2C1330.6 1749.8 1331.9 1753.1 1333.2 1756.2C1334.6 1759.4 1335.9 1763.4 1337.2 1766.3C1338.6 1769.1 1339.9 1771.7 1341.2 1773.3C1342.6 1774.9 1343.9 1775.6 1345.3 1775.9C1346.6 1776.1 1347.9 1775 1349.3 1774.7C1350.6 1774.3 1351.9 1774.4 1353.3 1773.9C1354.6 1773.3 1356.1 1772.5 1357.3 1771.3C1358.4 1770 1359.3 1768.6 1360.3 1766.3C1361.3 1763.9 1362.1 1760.1 1363.3 1757.2C1364.5 1754.4 1366 1751.4 1367.3 1749.2C1368.6 1747.1 1370 1745.6 1371.3 1744.2C1372.6 1742.8 1374 1741.6 1375.3 1740.6C1376.6 1739.6 1378 1739.3 1379.3 1738.2C1380.7 1737.1 1382 1735.5 1383.3 1734.2C1384.7 1732.9 1386 1731.2 1387.3 1730.2C1388.7 1729.2 1390 1728.3 1391.3 1728.2C1392.7 1728 1394 1728.2 1395.4 1729.2C1396.7 1730.2 1398.1 1732.5 1399.4 1734.2C1400.6 1735.9 1401.8 1738.9 1403 1739.2C1404.1 1739.5 1405.3 1738.5 1406.4 1736.2C1407.4 1733.9 1408.4 1728.5 1409.4 1725.2C1410.4 1721.8 1411.5 1718 1412.4 1716.2C1413.3 1714.3 1414.2 1713.7 1415 1714.2C1415.8 1714.7 1416.5 1717 1417.4 1719.2C1418.3 1721.3 1419.4 1725.3 1420.4 1727.2C1421.4 1729 1422.4 1730.7 1423.4 1730.2C1424.4 1729.7 1425.4 1726.3 1426.4 1724.2C1427.4 1722 1428.3 1719 1429.4 1717.2C1430.5 1715.3 1431.9 1713.7 1433 1713.2C1434.2 1712.6 1435.4 1713.4 1436.4 1714.2C1437.5 1714.9 1438.3 1716.8 1439.4 1717.8C1440.6 1718.8 1442.1 1719.8 1443.4 1720.2C1444.8 1720.5 1446.1 1719.4 1447.5 1719.8C1448.8 1720.1 1450.1 1721.5 1451.5 1722.2C1452.8 1722.8 1454.1 1723.4 1455.5 1723.8C1456.8 1724.1 1458.1 1724.8 1459.5 1724.2C1460.8 1723.6 1462.2 1721 1463.5 1720.2C1464.8 1719.3 1466.2 1719.2 1467.5 1719.2C1468.8 1719.2 1470.2 1720 1471.5 1720.2C1472.8 1720.3 1474.2 1720.2 1475.5 1720.2C1476.8 1720.1 1478.2 1719.6 1479.5 1719.8C1480.9 1719.9 1482.2 1721 1483.5 1721.2C1484.9 1721.3 1486.2 1720.7 1487.5 1720.6C1488.9 1720.5 1490.2 1720.6 1491.5 1720.6C1492.9 1720.5 1494.2 1719.4 1495.6 1720.2C1496.9 1720.9 1498.2 1724.2 1499.6 1725.2C1500.9 1726.1 1502.2 1725.8 1503.6 1725.8C1504.9 1725.8 1506.9 1725.3 1507.6 1725.2" stroke="#E7A324" stroke-width="4" fill="none" stroke-linejoin="round" stroke-linecap="round"/>
<text x="117.6" y="1822.9" font-size="23.5" text-anchor="middle" class="t">P7</text>
<path d="M83.2 1961.2H351.4" stroke="#000" stroke-width="3.7" fill="none" stroke-linecap="round"/>
<path d="M121.8 1863.9V1986" stroke="#000" stroke-width="3.7" fill="none" stroke-linecap="round"/>
<path d="M160 1953.2v16M198.2 1953.2v16M236.4 1953.2v16M274.6 1953.2v16M312.8 1953.2v16" stroke="#000" stroke-width="2.1" fill="none"/>
<path d="M82.6 1954.2C83.3 1954.1 85.6 1953.7 87 1953.2C88.4 1952.8 89.7 1952 91 1951.6C92.4 1951.2 93.9 1950.1 95 1950.8C96.2 1951.6 96.9 1953.5 98 1956.2C99.2 1959 100.5 1964.4 102.1 1967.3C103.6 1970.1 105.6 1972.8 107.1 1973.3C108.6 1973.8 109.7 1971.5 111.1 1970.3C112.4 1969 113.7 1966.3 115.1 1965.6C116.4 1965 117.7 1965.6 119.1 1966.3C120.4 1966.9 121.8 1968.4 123.1 1969.3C124.4 1970.1 125.8 1970.8 127.1 1971.3C128.4 1971.8 129.8 1972.8 131.1 1972.3C132.4 1971.8 133.9 1970.4 135.1 1968.3C136.3 1966.1 137.1 1961.1 138.1 1959.2C139.1 1957.4 140.1 1955.6 141.1 1957.2C142.1 1958.9 143.1 1964.9 144.1 1969.3C145.1 1973.6 146 1979.4 147.1 1983.3C148.3 1987.1 149.8 1990.1 151.1 1992.3C152.5 1994.5 153.8 1995.6 155.2 1996.3C156.5 1997 157.8 1997 159.2 1996.3C160.5 1995.6 161.8 1994.8 163.2 1992.3C164.5 1989.8 165.8 1984.6 167.2 1981.3C168.5 1977.9 169.9 1975.3 171.2 1972.3C172.5 1969.3 173.9 1966.1 175.2 1963.2C176.5 1960.4 177.9 1957.9 179.2 1955.2C180.5 1952.6 181.9 1949.9 183.2 1947.2C184.5 1944.5 185.9 1941.1 187.2 1939.2C188.6 1937.3 189.9 1935.8 191.2 1935.6C192.6 1935.4 193.9 1938.5 195.2 1938.2C196.6 1937.9 197.9 1934.8 199.2 1933.6C200.6 1932.3 201.9 1932.2 203.3 1930.8C204.6 1929.4 205.9 1926.7 207.3 1925.2C208.6 1923.6 209.9 1922.4 211.3 1921.6C212.6 1920.7 213.9 1920.9 215.3 1920.2C216.6 1919.4 217.9 1918 219.3 1917.2C220.6 1916.3 222 1916 223.3 1915.1C224.6 1914.3 226 1913.5 227.3 1912.1C228.6 1910.8 230 1909.1 231.3 1907.1C232.6 1905.1 234.1 1901.5 235.3 1900.1C236.5 1898.8 237.3 1898.3 238.3 1899.1C239.3 1900 240.3 1902.1 241.3 1905.1C242.3 1908.1 243.3 1913.5 244.3 1917.2C245.3 1920.8 246.3 1925.2 247.3 1927.2C248.3 1929.2 249.3 1929.8 250.3 1929.2C251.3 1928.5 252.4 1925.2 253.4 1923.2C254.4 1921.2 255.4 1918.4 256.4 1917.2C257.4 1915.9 258.2 1915.4 259.4 1915.5C260.5 1915.7 262 1917.6 263.4 1918.2C264.7 1918.7 266 1918.8 267.4 1918.8C268.7 1918.8 270.1 1918.5 271.4 1918.2C272.7 1917.8 274.1 1917.2 275.4 1916.8C276.7 1916.3 278.1 1915.5 279.4 1915.5C280.7 1915.6 282.1 1916.4 283.4 1917.2C284.7 1917.9 286.1 1919.2 287.4 1920.2C288.8 1921.2 290.1 1922.5 291.4 1923.2C292.8 1923.8 294.1 1923.7 295.4 1924.2C296.8 1924.7 298.1 1925 299.4 1926.2C300.8 1927.3 302.1 1929.7 303.5 1931.2C304.8 1932.6 306.1 1933.8 307.5 1934.8C308.8 1935.8 310.1 1936.3 311.5 1937.2C312.8 1938.1 314.1 1939.5 315.5 1940.2C316.8 1940.9 318.1 1941.2 319.5 1941.6C320.8 1942 322.2 1942.5 323.5 1942.8C324.8 1943.1 326.2 1943.9 327.5 1943.6C328.8 1943.3 330.2 1941 331.5 1940.8C332.8 1940.6 334.2 1941.6 335.5 1942.2C336.9 1942.8 338.2 1943.4 339.5 1944.2C340.9 1945 342.2 1946.3 343.5 1946.8C344.9 1947.3 346.2 1947.2 347.5 1947.2C348.9 1947.2 350.9 1946.9 351.5 1946.8" stroke="#000" stroke-width="4" fill="none" stroke-linejoin="round" stroke-linecap="round"/>
<path d="M82.6 1947.2C83.3 1947.7 85.6 1949.2 87 1950.2C88.4 1951.2 89.7 1952.1 91 1953.2C92.4 1954.4 93.7 1955.7 95 1957.2C96.4 1958.7 97.7 1960.7 99 1962.2C100.4 1963.7 101.7 1965.3 103.1 1966.3C104.4 1967.2 105.7 1967.6 107.1 1967.7C108.4 1967.8 109.7 1967.1 111.1 1966.9C112.4 1966.6 113.7 1966.2 115.1 1966.3C116.4 1966.3 117.7 1966.8 119.1 1967.3C120.4 1967.8 121.8 1968.8 123.1 1969.3C124.4 1969.8 125.8 1970.5 127.1 1970.3C128.4 1970 129.9 1969.2 131.1 1967.7C132.3 1966.2 133.1 1963 134.1 1961.2C135.1 1959.4 136.1 1957.2 137.1 1956.8C138.1 1956.5 139.1 1956.8 140.1 1959.2C141.1 1961.6 142.1 1967.1 143.1 1971.3C144.1 1975.4 145 1980.8 146.1 1984.3C147.3 1987.8 148.8 1990.5 150.1 1992.3C151.5 1994.1 152.8 1994.8 154.2 1995.3C155.5 1995.8 156.8 1995.6 158.2 1995.3C159.5 1995 160.8 1995 162.2 1993.3C163.5 1991.6 164.8 1988 166.2 1985.3C167.5 1982.6 168.9 1979.3 170.2 1977.3C171.5 1975.2 172.9 1974.1 174.2 1972.9C175.5 1971.6 176.9 1970.6 178.2 1969.7C179.5 1968.7 180.9 1967.3 182.2 1967.3C183.5 1967.2 184.9 1969 186.2 1969.3C187.6 1969.5 188.9 1969.3 190.2 1968.9C191.6 1968.5 192.9 1967.6 194.2 1966.9C195.6 1966.1 196.9 1965.5 198.2 1964.2C199.6 1963 200.9 1961.4 202.3 1959.2C203.6 1957.1 204.9 1954.1 206.3 1951.2C207.6 1948.4 208.9 1945 210.3 1942.2C211.6 1939.4 212.9 1936.5 214.3 1934.2C215.6 1931.8 216.9 1929.7 218.3 1928.2C219.6 1926.6 221 1925.9 222.3 1924.8C223.6 1923.7 225 1922.9 226.3 1921.6C227.6 1920.2 229 1918.8 230.3 1916.8C231.6 1914.7 233.1 1911.5 234.3 1909.1C235.5 1906.8 236.3 1903.4 237.3 1902.7C238.3 1902.1 239.3 1902.7 240.3 1905.1C241.3 1907.5 242.2 1914.1 243.3 1917.2C244.4 1920.2 245.9 1922.7 246.9 1923.6C248 1924.4 248.7 1923.4 249.7 1922.2C250.8 1920.9 252.1 1918.2 253.4 1916.2C254.6 1914.1 256 1911.8 257.4 1910.1C258.7 1908.5 260 1907 261.4 1906.1C262.7 1905.2 264 1905 265.4 1904.7C266.7 1904.5 268 1904.9 269.4 1904.7C270.7 1904.5 272.1 1903.3 273.4 1903.5C274.7 1903.8 276.1 1905.3 277.4 1906.1C278.7 1907 280.1 1907.7 281.4 1908.7C282.7 1909.7 284.1 1911.7 285.4 1912.1C286.8 1912.5 288.1 1911.4 289.4 1911.1C290.8 1910.9 292.1 1910.4 293.4 1910.7C294.8 1911.1 296.1 1912.2 297.4 1913.1C298.8 1914 300.1 1915 301.4 1916.2C302.8 1917.3 304.1 1919 305.5 1920.2C306.8 1921.3 308.1 1922.3 309.5 1923.2C310.8 1924.1 312.1 1924.7 313.5 1925.6C314.8 1926.4 316.1 1927.7 317.5 1928.2C318.8 1928.6 320.2 1927.8 321.5 1928.2C322.8 1928.5 324.2 1929.3 325.5 1930.2C326.8 1931 328.2 1932.3 329.5 1933.2C330.8 1934 332.2 1934.5 333.5 1935.2C334.8 1935.9 336.2 1936.5 337.5 1937.2C338.9 1937.9 340 1938.8 341.5 1939.2C343 1939.6 344.9 1939.5 346.5 1939.6C348.2 1939.7 350.7 1939.6 351.5 1939.6" stroke="#E7A324" stroke-width="4" fill="none" stroke-linejoin="round" stroke-linecap="round"/>
<text x="406.4" y="1818.6" font-size="23.5" text-anchor="middle" class="t">PO3</text>
<path d="M372 1956.9H640.2" stroke="#000" stroke-width="3.7" fill="none" stroke-linecap="round"/>
<path d="M410.6 1859.6V1981.7" stroke="#000" stroke-width="3.7" fill="none" stroke-linecap="round"/>
<path d="M448.8 1948.9v16M487 1948.9v16M525.2 1948.9v16M563.4 1948.9v16M601.6 1948.9v16" stroke="#000" stroke-width="2.1" fill="none"/>
<path d="M371.6 1939.2C372.3 1939.3 374.5 1939.4 376 1939.6C377.6 1939.8 379.5 1939.3 381 1940.2C382.5 1941.1 383.9 1942.4 385 1945.2C386.2 1948 387 1953.2 388 1957.2C389 1961.2 389.9 1966.4 391.1 1969.3C392.2 1972.1 393.9 1973.8 395.1 1974.3C396.2 1974.8 396.9 1973.4 398.1 1972.3C399.2 1971.1 400.7 1968.8 402.1 1967.3C403.4 1965.7 404.7 1964.2 406.1 1963.2C407.4 1962.2 408.8 1960.9 410.1 1961.2C411.4 1961.6 412.8 1964.6 414.1 1965.2C415.4 1965.9 416.8 1965.9 418.1 1965.2C419.4 1964.6 420.9 1963.2 422.1 1961.2C423.3 1959.2 424.1 1956.7 425.1 1953.2C426.1 1949.7 427.2 1943.1 428.1 1940.2C429 1937.3 429.6 1935.4 430.5 1935.6C431.5 1935.8 432.6 1938.3 433.7 1941.2C434.8 1944.1 436.1 1949.9 437.1 1953.2C438.2 1956.6 439.1 1959.6 440.1 1961.2C441.2 1962.9 442.2 1963.2 443.2 1963.2C444.2 1963.2 445.2 1962.9 446.2 1961.2C447.2 1959.6 448.2 1956.9 449.2 1953.2C450.2 1949.6 451.2 1943.5 452.2 1939.2C453.2 1934.9 454.2 1930.2 455.2 1927.2C456.2 1924.1 457.2 1921.9 458.2 1920.8C459.2 1919.6 460.2 1920.2 461.2 1920.2C462.2 1920.2 463.2 1921.3 464.2 1920.8C465.2 1920.3 466.2 1918.9 467.2 1917.2C468.2 1915.4 469 1912.5 470.2 1910.1C471.4 1907.8 472.9 1903.7 474.2 1903.1C475.6 1902.6 476.9 1905.7 478.2 1906.7C479.6 1907.7 480.9 1907.8 482.2 1909.1C483.6 1910.5 485.1 1913.6 486.2 1914.7C487.4 1915.9 488.2 1916.6 489.2 1916.2C490.2 1915.7 491.3 1914.6 492.3 1912.1C493.3 1909.6 494.3 1904.5 495.3 1901.1C496.3 1897.8 497.1 1894.4 498.3 1892.1C499.4 1889.8 500.9 1888.8 502.3 1887.1C503.6 1885.4 504.9 1883.8 506.3 1882.1C507.6 1880.3 509 1878.3 510.3 1876.7C511.6 1875 513 1873.7 514.3 1872.1C515.6 1870.5 517.1 1868.9 518.3 1867.1C519.5 1865.2 520.3 1863.4 521.3 1861C522.3 1858.7 523.3 1855.4 524.3 1853C525.3 1850.7 526.3 1847.8 527.3 1847C528.3 1846.2 529.3 1846 530.3 1848C531.3 1850 532.3 1854.9 533.3 1859C534.3 1863.2 535.4 1869.4 536.3 1873.1C537.2 1876.7 537.9 1880.7 538.7 1881.1C539.6 1881.4 540.4 1877.2 541.4 1875.1C542.3 1872.9 543.4 1869.7 544.4 1868.1C545.4 1866.4 546.4 1864.4 547.4 1865C548.4 1865.7 549.2 1870.1 550.4 1872.1C551.5 1874.1 553 1876.2 554.4 1877.1C555.7 1878 557 1877.3 558.4 1877.5C559.7 1877.6 561.1 1878.5 562.4 1878.1C563.7 1877.7 565.2 1876 566.4 1875.1C567.6 1874.2 568.4 1872.7 569.4 1872.7C570.4 1872.7 571.2 1874 572.4 1875.1C573.6 1876.1 575.1 1877.7 576.4 1879.1C577.8 1880.4 579.1 1882 580.4 1883.1C581.8 1884.2 583.1 1884.7 584.4 1885.5C585.8 1886.3 587.1 1886.8 588.4 1888.1C589.8 1889.4 591.1 1891.9 592.5 1893.1C593.8 1894.3 595.1 1894.5 596.5 1895.5C597.8 1896.5 599.1 1897.8 600.5 1899.1C601.8 1900.5 603.1 1902.4 604.5 1903.5C605.8 1904.7 607.1 1905.2 608.5 1906.1C609.8 1907.1 611.2 1908.4 612.5 1909.1C613.8 1909.9 615.2 1910.7 616.5 1910.7C617.8 1910.7 619.2 1909 620.5 1909.1C621.8 1909.3 623.2 1910.8 624.5 1911.5C625.9 1912.3 627.2 1912.9 628.5 1913.5C629.9 1914.2 631.2 1914.8 632.5 1915.5C633.9 1916.3 635.2 1917.3 636.5 1918.2C637.9 1919 639.9 1920.3 640.5 1920.8" stroke="#000" stroke-width="4" fill="none" stroke-linejoin="round" stroke-linecap="round"/>
<path d="M371.6 1932.8C372.3 1933.2 374.6 1933.6 376 1935.2C377.4 1936.8 378.7 1939.5 380 1942.2C381.4 1944.9 382.7 1948 384 1951.2C385.4 1954.4 386.7 1958.4 388 1961.2C389.4 1964.1 390.7 1966.9 392.1 1968.3C393.4 1969.6 394.7 1969.4 396.1 1969.3C397.4 1969.1 398.7 1968.1 400.1 1967.3C401.4 1966.4 402.7 1965.1 404.1 1964.2C405.4 1963.4 406.7 1962.9 408.1 1962.2C409.4 1961.6 410.8 1961.1 412.1 1960.2C413.4 1959.4 414.8 1958.7 416.1 1957.2C417.4 1955.7 418.8 1952.4 420.1 1951.2C421.4 1950.1 422.9 1951.6 424.1 1950.2C425.3 1948.9 426.1 1945.5 427.1 1943.2C428.1 1940.9 429.1 1936.9 430.1 1936.2C431.1 1935.5 432.1 1936.9 433.1 1939.2C434.1 1941.5 435.1 1946.7 436.1 1950.2C437.1 1953.7 438.1 1957.7 439.1 1960.2C440.1 1962.7 441.2 1964.7 442.2 1965.2C443.2 1965.8 444.2 1965 445.2 1963.6C446.2 1962.3 447.2 1959.6 448.2 1957.2C449.2 1954.8 450.2 1951.9 451.2 1949.2C452.2 1946.5 453.2 1943.2 454.2 1941.2C455.2 1939.2 456.2 1937.9 457.2 1937.2C458.2 1936.5 459 1936.1 460.2 1936.8C461.4 1937.5 463 1940.8 464.2 1941.2C465.4 1941.6 466.2 1940 467.2 1939.2C468.2 1938.4 469.2 1936 470.2 1936.2C471.2 1936.4 472.2 1937.9 473.2 1940.2C474.2 1942.5 475.2 1947 476.2 1950.2C477.2 1953.4 478.1 1957.4 479.2 1959.2C480.4 1961.1 481.9 1960.7 483.2 1961.2C484.6 1961.7 486.1 1962.4 487.2 1962.2C488.4 1962.1 489.2 1961.7 490.2 1960.2C491.3 1958.7 492.3 1956.7 493.3 1953.2C494.3 1949.7 495.3 1943.5 496.3 1939.2C497.3 1934.9 498.3 1931 499.3 1927.2C500.3 1923.3 501.1 1919.3 502.3 1916.2C503.4 1913 504.9 1910.3 506.3 1908.1C507.6 1906 509 1904.8 510.3 1903.1C511.6 1901.5 513 1900.5 514.3 1898.1C515.6 1895.8 517 1892.4 518.3 1889.1C519.6 1885.8 521.1 1881.4 522.3 1878.1C523.5 1874.7 524.4 1871 525.3 1869.1C526.3 1867.2 527.1 1866.3 527.9 1866.7C528.8 1867 529.4 1868.7 530.3 1871.1C531.2 1873.5 532.3 1878.3 533.3 1881.1C534.3 1883.8 535.4 1886.4 536.3 1887.5C537.2 1888.6 537.9 1888.4 538.7 1887.5C539.6 1886.6 540.4 1884.2 541.4 1882.1C542.3 1880 543.4 1877 544.4 1875.1C545.4 1873.2 546.4 1871.3 547.4 1870.7C548.4 1870.1 549.2 1871.2 550.4 1871.5C551.5 1871.7 553 1872.1 554.4 1872.1C555.7 1872.1 557 1871.5 558.4 1871.5C559.7 1871.5 561.1 1871.8 562.4 1872.1C563.7 1872.3 565.1 1872.6 566.4 1873.1C567.7 1873.5 569.1 1873.5 570.4 1874.7C571.7 1875.8 573.1 1878.8 574.4 1880.1C575.8 1881.3 577.1 1882.2 578.4 1882.1C579.8 1881.9 581.3 1879.7 582.4 1879.1C583.6 1878.4 584.3 1877.9 585.4 1878.1C586.6 1878.2 588.1 1879.4 589.4 1880.1C590.8 1880.7 592.1 1881.4 593.5 1882.1C594.8 1882.8 596.1 1883.3 597.5 1884.1C598.8 1884.9 600.1 1886 601.5 1886.7C602.8 1887.4 604.1 1887.6 605.5 1888.1C606.8 1888.6 608.2 1889 609.5 1889.5C610.8 1890 612.2 1890.5 613.5 1891.1C614.8 1891.7 616.2 1891.8 617.5 1893.1C618.8 1894.4 620.2 1897.1 621.5 1899.1C622.8 1901.1 624.2 1903.4 625.5 1905.1C626.9 1906.9 628.2 1908.5 629.5 1909.5C630.9 1910.6 632.2 1911.1 633.5 1911.5C634.9 1912 636.4 1911.9 637.5 1912.1C638.7 1912.4 640 1913 640.5 1913.1" stroke="#E7A324" stroke-width="4" fill="none" stroke-linejoin="round" stroke-linecap="round"/>
<text x="696" y="1818.6" font-size="23.5" text-anchor="middle" class="t">Pz</text>
<path d="M661.6 1956.9H929.8" stroke="#000" stroke-width="3.7" fill="none" stroke-linecap="round"/>
<path d="M700.2 1859.6V1981.7" stroke="#000" stroke-width="3.7" fill="none" stroke-linecap="round"/>
<path d="M738.4 1948.9v16M776.6 1948.9v16M814.8 1948.9v16M853 1948.9v16M891.2 1948.9v16" stroke="#000" stroke-width="2.1" fill="none"/>
<path d="M660.6 1942.2C661.3 1942.4 663.5 1942.7 665 1943.2C666.6 1943.7 668.5 1944.2 670 1945.2C671.5 1946.3 672.7 1947.3 674 1949.3C675.4 1951.3 676.5 1953.9 678 1957.3C679.5 1960.6 681.6 1967.1 683.1 1969.3C684.6 1971.5 685.7 1970.8 687.1 1970.3C688.4 1969.8 689.7 1967.6 691.1 1966.3C692.4 1965 693.7 1963.5 695.1 1962.3C696.4 1961.1 697.8 1959.9 699.1 1959.3C700.4 1958.6 701.8 1958.1 703.1 1958.3C704.4 1958.4 705.8 1959.9 707.1 1960.3C708.4 1960.6 709.8 1960.1 711.1 1960.3C712.4 1960.4 714 1962.8 715.1 1961.3C716.3 1959.8 717 1954.9 718.1 1951.3C719.3 1947.6 720.9 1941.7 722.1 1939.2C723.4 1936.7 724.4 1936.2 725.5 1936.2C726.7 1936.3 728 1938.9 729.1 1939.6C730.3 1940.4 731.2 1942.6 732.2 1940.8C733.2 1939.1 734 1932.7 735.2 1929.2C736.3 1925.8 737.8 1922.7 739.2 1920.2C740.5 1917.7 741.9 1915.7 743.2 1914.2C744.4 1912.7 745.6 1911.3 746.8 1911.2C748 1911.1 749.1 1912.9 750.2 1913.6C751.3 1914.3 752.4 1915.9 753.6 1915.2C754.8 1914.5 755.9 1911.5 757.2 1909.2C758.5 1906.8 760 1902.9 761.2 1901.2C762.4 1899.4 763.2 1899.1 764.2 1898.8C765.2 1898.4 766.1 1899.9 767.2 1899.2C768.4 1898.4 769.9 1895.6 771.2 1894.1C772.6 1892.6 773.9 1891.3 775.2 1890.1C776.6 1889 777.9 1889 779.2 1887.1C780.6 1885.3 782.1 1882.1 783.3 1879.1C784.4 1876.1 785.3 1872.1 786.3 1869.1C787.3 1866.1 788.1 1863.1 789.3 1861.1C790.4 1859.1 791.9 1858.1 793.3 1857.1C794.6 1856.1 795.9 1856.2 797.3 1855.1C798.6 1853.9 800 1851.8 801.3 1850.1C802.6 1848.3 804 1846.5 805.3 1844.6C806.6 1842.8 808.1 1840.6 809.3 1839C810.5 1837.5 811.3 1835.7 812.3 1835.4C813.3 1835.2 814.3 1836 815.3 1837.4C816.3 1838.9 817.3 1841.1 818.3 1844C819.3 1847 820.2 1851.9 821.3 1855.1C822.4 1858.2 823.9 1862.2 824.9 1863.1C826 1863.9 826.7 1863.4 827.7 1860.1C828.7 1856.7 829.8 1847.2 831 1843C832.1 1838.9 833.3 1835.9 834.4 1835C835.4 1834.2 836.4 1835.4 837.4 1838C838.4 1840.7 839.4 1847.1 840.4 1851.1C841.4 1855.1 842.4 1861.1 843.4 1862.1C844.4 1863.1 845.4 1859.1 846.4 1857.1C847.4 1855.1 848.2 1852.1 849.4 1850.1C850.6 1848 852.2 1845.5 853.4 1844.6C854.6 1843.8 855.4 1844.3 856.4 1845C857.4 1845.8 858.2 1847.4 859.4 1849.1C860.6 1850.7 862.1 1853.5 863.4 1855.1C864.8 1856.7 866.1 1857.9 867.4 1858.7C868.8 1859.4 870.1 1858.7 871.4 1859.5C872.8 1860.2 874.1 1861.5 875.4 1863.1C876.8 1864.7 878.1 1866.9 879.4 1869.1C880.8 1871.3 882.1 1875.2 883.5 1876.1C884.8 1877 886.1 1874.4 887.5 1874.7C888.8 1875 890.1 1876.7 891.5 1878.1C892.8 1879.5 894.1 1881.6 895.5 1883.1C896.8 1884.6 898.2 1886.1 899.5 1887.1C900.8 1888.2 902.2 1889.5 903.5 1889.5C904.8 1889.5 906.2 1887.5 907.5 1887.1C908.8 1886.7 910.2 1886.5 911.5 1887.1C912.8 1887.8 914.2 1889.8 915.5 1891.1C916.9 1892.5 918 1893.8 919.5 1895.1C921 1896.5 922.9 1898.2 924.5 1899.2C926.2 1900.2 928.7 1900.8 929.5 1901.2" stroke="#000" stroke-width="4" fill="none" stroke-linejoin="round" stroke-linecap="round"/>
<path d="M660.6 1936.2C661.2 1936.4 662.8 1936.1 664 1937.2C665.3 1938.4 666.7 1940.9 668 1943.2C669.4 1945.6 670.7 1948.6 672 1951.3C673.4 1953.9 674.7 1956.9 676 1959.3C677.4 1961.6 678.9 1963.6 680.1 1965.3C681.2 1967 681.9 1969.1 683.1 1969.3C684.2 1969.5 685.7 1967.5 687.1 1966.3C688.4 1965.1 689.7 1963.1 691.1 1962.3C692.4 1961.4 693.7 1961.8 695.1 1961.3C696.4 1960.8 697.8 1960.4 699.1 1959.3C700.4 1958.1 701.8 1955.9 703.1 1954.3C704.4 1952.6 705.9 1949.8 707.1 1949.3C708.3 1948.8 709.1 1949.6 710.1 1951.3C711.1 1952.9 712.1 1957.4 713.1 1959.3C714.1 1961.1 715.1 1963.6 716.1 1962.3C717.1 1960.9 718.1 1954.8 719.1 1951.3C720.1 1947.8 721.1 1943.6 722.1 1941.2C723.1 1938.8 724.1 1937.2 725.1 1936.8C726.1 1936.5 727.1 1938.5 728.1 1939.2C729.1 1940 730.2 1942.2 731.2 1941.2C732.2 1940.2 733.2 1935.7 734.2 1933.2C735.2 1930.7 736.2 1927.7 737.2 1926.2C738.2 1924.7 739 1924.2 740.2 1924.2C741.3 1924.2 742.8 1925 744.2 1926.2C745.5 1927.4 746.9 1929.6 748.2 1931.2C749.5 1932.9 751 1934.6 752.2 1936.2C753.4 1937.8 754 1940.2 755.2 1940.8C756.4 1941.5 757.9 1939.5 759.2 1940.2C760.5 1941 762 1943.2 763.2 1945.2C764.4 1947.3 765.2 1950.1 766.2 1952.3C767.2 1954.4 768.1 1957.8 769.2 1958.3C770.4 1958.7 771.9 1956.4 773.2 1954.9C774.6 1953.4 775.9 1951.5 777.2 1949.3C778.6 1947 779.9 1944.9 781.3 1941.2C782.6 1937.6 783.9 1931.9 785.3 1927.2C786.6 1922.5 787.9 1917.9 789.3 1913.2C790.6 1908.5 791.9 1903 793.3 1899.2C794.6 1895.3 795.9 1892.3 797.3 1890.1C798.6 1888 800 1887.8 801.3 1886.1C802.6 1884.5 804 1882.3 805.3 1880.1C806.6 1877.9 808 1875 809.3 1873.1C810.6 1871.2 812.1 1869.5 813.3 1868.7C814.5 1867.9 815.3 1867.4 816.3 1868.1C817.3 1868.8 818.3 1871.1 819.3 1873.1C820.3 1875.1 821.4 1878.6 822.3 1880.1C823.3 1881.6 824 1883 824.9 1882.1C825.8 1881.3 826.7 1878.9 827.7 1875.1C828.7 1871.3 829.9 1863.4 831 1859.1C832 1854.7 833.1 1851.2 834 1849.1C834.9 1846.9 835.5 1845.5 836.4 1846.1C837.2 1846.6 838.1 1849.7 839 1852.1C839.8 1854.4 840.5 1857.8 841.4 1860.1C842.3 1862.3 843.4 1865.5 844.4 1865.5C845.4 1865.5 846.4 1862.1 847.4 1860.1C848.4 1858 849.4 1855.2 850.4 1853.1C851.4 1850.9 852.4 1847.6 853.4 1847.1C854.4 1846.6 855.2 1848.6 856.4 1850.1C857.6 1851.6 859.1 1854.2 860.4 1856.1C861.7 1857.9 863.1 1859.9 864.4 1861.1C865.8 1862.2 867.1 1863.1 868.4 1863.1C869.8 1863.1 871.1 1861.4 872.4 1861.1C873.8 1860.7 875.1 1860.9 876.4 1861.1C877.8 1861.2 879.1 1861.7 880.5 1862.1C881.8 1862.4 883.1 1862.6 884.5 1863.1C885.8 1863.6 887.1 1864.5 888.5 1865.1C889.8 1865.7 891.1 1866.3 892.5 1866.7C893.8 1867.1 895.1 1866.9 896.5 1867.5C897.8 1868.1 899.2 1869 900.5 1870.1C901.8 1871.2 903.2 1872.9 904.5 1874.1C905.8 1875.3 907.2 1876.3 908.5 1877.5C909.8 1878.7 911.2 1879.9 912.5 1881.1C913.9 1882.4 915.2 1883.6 916.5 1885.1C917.9 1886.6 919.2 1888.3 920.5 1890.1C921.9 1892 923 1894.7 924.5 1896.2C926 1897.6 928.7 1898.3 929.5 1898.8" stroke="#E7A324" stroke-width="4" fill="none" stroke-linejoin="round" stroke-linecap="round"/>
<text x="984.6" y="1818.6" font-size="23.5" text-anchor="middle" class="t">PO4</text>
<path d="M950.2 1956.9H1218.4" stroke="#000" stroke-width="3.7" fill="none" stroke-linecap="round"/>
<path d="M988.8 1859.6V1981.7" stroke="#000" stroke-width="3.7" fill="none" stroke-linecap="round"/>
<path d="M1027 1948.9v16M1065.2 1948.9v16M1103.4 1948.9v16M1141.6 1948.9v16M1179.8 1948.9v16" stroke="#000" stroke-width="2.1" fill="none"/>
<path d="M949.6 1933.2C950.3 1933.7 952.6 1935 954 1936.2C955.4 1937.5 956.7 1939.7 958 1940.8C959.4 1942 960.9 1941.5 962 1943.2C963.2 1945 964 1947.6 965 1951.3C966 1954.9 966.9 1960.9 968 1965.3C969.2 1969.6 970.7 1976 972.1 1977.3C973.4 1978.6 974.7 1975.3 976.1 1973.3C977.4 1971.3 978.7 1967.3 980.1 1965.3C981.4 1963.3 982.7 1962 984.1 1961.3C985.4 1960.5 986.8 1960.9 988.1 1960.9C989.4 1960.9 990.8 1961.2 992.1 1961.3C993.4 1961.3 994.8 1961.9 996.1 1961.3C997.4 1960.6 998.9 1959.9 1000.1 1957.3C1001.3 1954.6 1002.1 1949.6 1003.1 1945.2C1004.1 1940.9 1005.1 1935.2 1006.1 1931.2C1007.1 1927.2 1008.1 1922.5 1009.1 1921.2C1010.1 1919.9 1011.1 1921.2 1012.1 1923.2C1013.1 1925.2 1014.1 1930.2 1015.1 1933.2C1016.1 1936.2 1017.1 1939.9 1018.1 1941.2C1019.2 1942.6 1020.2 1942.6 1021.2 1941.2C1022.2 1939.9 1023.2 1936.6 1024.2 1933.2C1025.2 1929.9 1026 1925.2 1027.2 1921.2C1028.3 1917.2 1029.8 1911.8 1031.2 1909.2C1032.5 1906.5 1033.8 1905.5 1035.2 1905.2C1036.5 1904.8 1038 1906.7 1039.2 1907.2C1040.4 1907.7 1041 1908.8 1042.2 1908.2C1043.4 1907.5 1044.9 1904.8 1046.2 1903.2C1047.5 1901.5 1048.9 1898.2 1050.2 1898.2C1051.5 1898.1 1052.9 1901.3 1054.2 1902.8C1055.6 1904.3 1056.9 1906.4 1058.2 1907.2C1059.6 1908 1061.1 1906.9 1062.2 1907.6C1063.4 1908.2 1064.2 1909.6 1065.2 1911.2C1066.2 1912.8 1067.2 1916.5 1068.2 1917.2C1069.3 1917.9 1070.3 1917.5 1071.3 1915.2C1072.3 1912.9 1073.3 1906.8 1074.3 1903.2C1075.3 1899.5 1076.1 1895.6 1077.3 1893.1C1078.4 1890.6 1079.9 1889.6 1081.3 1888.1C1082.6 1886.6 1083.9 1885.8 1085.3 1884.1C1086.6 1882.5 1088 1880.1 1089.3 1878.1C1090.6 1876.1 1092 1873.9 1093.3 1872.1C1094.6 1870.3 1096.1 1868.9 1097.3 1867.1C1098.5 1865.3 1099.3 1863.4 1100.3 1861.1C1101.3 1858.7 1102.3 1855.2 1103.3 1853.1C1104.3 1850.9 1105.3 1848.1 1106.3 1848.1C1107.3 1848.1 1108.3 1850.2 1109.3 1853.1C1110.3 1855.9 1111.3 1861.4 1112.3 1865.1C1113.3 1868.8 1114.3 1874.9 1115.3 1875.1C1116.3 1875.3 1117.3 1868.4 1118.3 1866.1C1119.4 1863.8 1120.4 1862.2 1121.4 1861.1C1122.4 1860 1123.4 1859.1 1124.4 1859.5C1125.4 1859.8 1126.4 1861.3 1127.4 1863.1C1128.4 1864.9 1129.4 1868.8 1130.4 1870.1C1131.4 1871.4 1132.2 1871.3 1133.4 1871.1C1134.5 1870.9 1136.1 1869.8 1137.4 1869.1C1138.7 1868.4 1140.1 1868.3 1141.4 1867.1C1142.7 1865.9 1144.1 1862.8 1145.4 1862.1C1146.7 1861.4 1148.1 1862.2 1149.4 1863.1C1150.7 1863.9 1152.1 1865.9 1153.4 1867.1C1154.8 1868.3 1156.1 1869.1 1157.4 1870.1C1158.8 1871.1 1160.3 1871.8 1161.4 1873.1C1162.6 1874.4 1163.3 1876.6 1164.4 1878.1C1165.6 1879.6 1167.1 1881 1168.4 1882.1C1169.8 1883.3 1171.1 1884.4 1172.5 1885.1C1173.8 1885.9 1175.3 1885.9 1176.5 1886.7C1177.6 1887.6 1178.3 1888.6 1179.5 1890.1C1180.6 1891.7 1182.1 1895 1183.5 1896.2C1184.8 1897.3 1186.2 1896.9 1187.5 1896.8C1188.8 1896.6 1190.2 1894.8 1191.5 1895.1C1192.8 1895.5 1194.2 1898 1195.5 1898.8C1196.8 1899.5 1198.2 1899.2 1199.5 1899.6C1200.8 1899.9 1202.2 1900.2 1203.5 1900.8C1204.9 1901.4 1206.2 1902.3 1207.5 1903.2C1208.9 1904.1 1210.2 1905.5 1211.5 1906.2C1212.9 1906.8 1214.4 1906.9 1215.5 1907.2C1216.7 1907.4 1218 1907.5 1218.5 1907.6" stroke="#000" stroke-width="4" fill="none" stroke-linejoin="round" stroke-linecap="round"/>
<path d="M949.6 1931.2C950.2 1931.4 951.8 1931.1 953 1932.2C954.3 1933.4 955.7 1935.9 957 1938.2C958.4 1940.6 959.7 1943.1 961 1946.3C962.4 1949.4 963.7 1953.8 965 1957.3C966.4 1960.8 967.9 1964.6 969.1 1967.3C970.2 1970 971.1 1972.8 972.1 1973.3C973.1 1973.8 974.1 1971.6 975.1 1970.3C976.1 1969 976.9 1966.6 978.1 1965.3C979.2 1964 980.7 1963 982.1 1962.3C983.4 1961.6 984.7 1961.8 986.1 1961.3C987.4 1960.8 988.8 1960.3 990.1 1959.3C991.4 1958.3 992.8 1956.4 994.1 1955.3C995.4 1954.1 996.8 1953.6 998.1 1952.3C999.4 1950.9 1000.9 1950.1 1002.1 1947.3C1003.3 1944.4 1004.1 1939.4 1005.1 1935.2C1006.1 1931.1 1007.2 1924.7 1008.1 1922.2C1009.1 1919.7 1009.8 1919.4 1010.7 1920.2C1011.7 1921 1012.8 1924.4 1013.7 1927.2C1014.7 1930.1 1015.5 1934.5 1016.5 1937.2C1017.5 1940 1018.7 1943.1 1019.8 1943.6C1020.8 1944.1 1021.6 1942.6 1022.6 1940.2C1023.6 1937.8 1024.7 1932.1 1025.8 1929.2C1026.9 1926.4 1027.9 1924.6 1029.2 1923.2C1030.4 1921.8 1031.8 1920.9 1033.2 1920.8C1034.5 1920.7 1035.9 1922 1037.2 1922.8C1038.5 1923.6 1039.9 1924.9 1041.2 1925.6C1042.5 1926.3 1044 1926.2 1045.2 1926.8C1046.4 1927.4 1047.2 1927.8 1048.2 1929.2C1049.2 1930.6 1050 1932.6 1051.2 1935.2C1052.4 1937.9 1053.9 1942.4 1055.2 1945.2C1056.6 1948.1 1057.9 1950.8 1059.2 1952.3C1060.6 1953.8 1062.1 1953.1 1063.2 1954.3C1064.4 1955.4 1065.2 1957.8 1066.2 1959.3C1067.2 1960.8 1068.2 1963.6 1069.3 1963.3C1070.3 1963 1071.3 1960.6 1072.3 1957.3C1073.3 1953.9 1074.3 1947.6 1075.3 1943.2C1076.3 1938.9 1077.1 1934.9 1078.3 1931.2C1079.4 1927.5 1080.9 1924.4 1082.3 1921.2C1083.6 1918 1084.9 1914.9 1086.3 1912.2C1087.6 1909.5 1089 1907.2 1090.3 1905.2C1091.6 1903.2 1093 1902.3 1094.3 1900.2C1095.6 1898 1097 1895.3 1098.3 1892.1C1099.6 1889 1101.1 1884.6 1102.3 1881.1C1103.5 1877.6 1104.4 1873.8 1105.3 1871.1C1106.3 1868.4 1107 1865.4 1107.9 1865.1C1108.8 1864.8 1109.7 1866.8 1110.7 1869.1C1111.7 1871.4 1112.9 1877.1 1113.9 1879.1C1114.9 1881.1 1115.8 1882.1 1116.7 1881.1C1117.7 1880.1 1118.7 1875.6 1119.8 1873.1C1120.8 1870.6 1121.8 1867.4 1122.8 1866.1C1123.7 1864.8 1124.4 1864.6 1125.4 1865.1C1126.3 1865.6 1127.4 1868.1 1128.4 1869.1C1129.4 1870.1 1130.2 1871.1 1131.4 1871.1C1132.5 1871.1 1134 1869.6 1135.4 1869.1C1136.7 1868.6 1138.1 1868.6 1139.4 1868.1C1140.7 1867.6 1142.1 1866.2 1143.4 1866.1C1144.7 1866 1146.1 1867.1 1147.4 1867.5C1148.7 1867.9 1150.1 1867.9 1151.4 1868.7C1152.8 1869.5 1154.1 1871.3 1155.4 1872.1C1156.8 1872.9 1158.1 1873.4 1159.4 1873.5C1160.8 1873.6 1162.1 1872.7 1163.4 1872.7C1164.8 1872.7 1166.1 1873.4 1167.4 1873.5C1168.8 1873.6 1170.1 1873.1 1171.5 1873.5C1172.8 1873.9 1174.1 1875.2 1175.5 1876.1C1176.8 1877 1178.1 1878.2 1179.5 1878.7C1180.8 1879.2 1182.1 1879 1183.5 1879.1C1184.8 1879.2 1186.2 1879.1 1187.5 1879.5C1188.8 1879.9 1190.2 1880.7 1191.5 1881.5C1192.8 1882.4 1194.2 1883.6 1195.5 1884.7C1196.8 1885.8 1198.2 1886.6 1199.5 1888.1C1200.8 1889.7 1202.2 1892.3 1203.5 1894.1C1204.9 1896 1206.2 1897.7 1207.5 1899.2C1208.9 1900.6 1210.2 1901.8 1211.5 1902.8C1212.9 1903.8 1214.4 1904.6 1215.5 1905.2C1216.7 1905.7 1218 1906 1218.5 1906.2" stroke="#E7A324" stroke-width="4" fill="none" stroke-linejoin="round" stroke-linecap="round"/>
<text x="1274.2" y="1818.6" font-size="23.5" text-anchor="middle" class="t">P8</text>
<path d="M1239.8 1956.9H1508" stroke="#000" stroke-width="3.7" fill="none" stroke-linecap="round"/>
<path d="M1278.4 1859.6V1981.7" stroke="#000" stroke-width="3.7" fill="none" stroke-linecap="round"/>
<path d="M1316.6 1948.9v16M1354.8 1948.9v16M1393 1948.9v16M1431.2 1948.9v16M1469.4 1948.9v16" stroke="#000" stroke-width="2.1" fill="none"/>
<path d="M1239 1938.2C1239.9 1938.9 1242.4 1941.5 1244.1 1942.2C1245.7 1943 1247.7 1942.2 1249.1 1942.8C1250.4 1943.5 1251.1 1944.5 1252.1 1946.3C1253.1 1948 1253.9 1950.1 1255.1 1953.3C1256.2 1956.4 1257.9 1962.1 1259.1 1965.3C1260.2 1968.5 1260.9 1972 1262.1 1972.3C1263.3 1972.6 1264.8 1969 1266.1 1967.3C1267.4 1965.6 1268.8 1963.3 1270.1 1962.3C1271.4 1961.3 1272.8 1960.9 1274.1 1961.3C1275.4 1961.6 1276.8 1962.8 1278.1 1964.3C1279.5 1965.8 1280.8 1969.1 1282.1 1970.3C1283.5 1971.5 1285 1972.4 1286.1 1971.7C1287.3 1971 1288.1 1969.4 1289.1 1966.3C1290.1 1963.2 1291.1 1957.4 1292.1 1953.3C1293.1 1949.1 1294.3 1943.6 1295.2 1941.2C1296.1 1938.9 1296.7 1937.9 1297.6 1939.2C1298.4 1940.6 1299.2 1945.2 1300.2 1949.3C1301.1 1953.3 1302.2 1958.9 1303.2 1963.3C1304.2 1967.6 1305.2 1972.5 1306.2 1975.3C1307.2 1978.1 1308.2 1980.2 1309.2 1980.3C1310.2 1980.5 1311.2 1978.8 1312.2 1976.3C1313.2 1973.8 1314.2 1969.8 1315.2 1965.3C1316.2 1960.8 1317.2 1954.3 1318.2 1949.3C1319.2 1944.2 1320 1939.4 1321.2 1935.2C1322.4 1931.1 1323.9 1926.5 1325.2 1924.2C1326.5 1921.9 1327.9 1921.2 1329.2 1921.2C1330.6 1921.2 1331.9 1923 1333.2 1924.2C1334.6 1925.4 1335.9 1927.1 1337.2 1928.2C1338.6 1929.3 1339.9 1930.1 1341.2 1930.8C1342.6 1931.6 1343.9 1932.8 1345.3 1932.8C1346.6 1932.8 1348.1 1931.3 1349.3 1930.8C1350.4 1930.4 1351.3 1929.5 1352.3 1930.2C1353.3 1931 1354.2 1933.5 1355.3 1935.2C1356.4 1937 1357.7 1940.8 1358.9 1940.8C1360 1940.8 1361.2 1937.3 1362.3 1935.2C1363.4 1933.1 1364.1 1930 1365.3 1928.2C1366.5 1926.5 1368 1926 1369.3 1924.8C1370.6 1923.6 1372 1922.5 1373.3 1921.2C1374.6 1919.9 1376 1917.9 1377.3 1916.8C1378.7 1915.7 1380 1916.1 1381.3 1914.8C1382.7 1913.5 1384.2 1911.4 1385.3 1909.2C1386.5 1906.9 1387.3 1904.2 1388.3 1901.2C1389.3 1898.2 1390.2 1893.6 1391.3 1891.1C1392.4 1888.6 1393.8 1886.3 1395 1886.1C1396.1 1886 1397.3 1888 1398.4 1890.1C1399.4 1892.3 1400.4 1896.3 1401.4 1899.2C1402.4 1902 1403.2 1906.3 1404.4 1907.2C1405.5 1908 1407 1905.3 1408.4 1904.2C1409.7 1903 1411.1 1900.4 1412.4 1900.2C1413.7 1899.9 1415.1 1901.8 1416.4 1902.8C1417.7 1903.8 1419.1 1906.3 1420.4 1906.2C1421.7 1906.1 1423.1 1903.7 1424.4 1902.2C1425.7 1900.6 1427.1 1898.3 1428.4 1896.8C1429.8 1895.2 1431.1 1893.7 1432.4 1892.7C1433.8 1891.7 1435.1 1890.7 1436.4 1890.7C1437.8 1890.8 1439.1 1892.5 1440.4 1893.1C1441.8 1893.8 1443.1 1893.9 1444.5 1894.7C1445.8 1895.6 1447.1 1896.8 1448.5 1898.2C1449.8 1899.6 1451.1 1901.9 1452.5 1903.2C1453.8 1904.4 1455.1 1905 1456.5 1905.6C1457.8 1906.2 1459.1 1906.1 1460.5 1906.8C1461.8 1907.4 1463.2 1908.8 1464.5 1909.6C1465.8 1910.4 1467.2 1910.5 1468.5 1911.6C1469.8 1912.7 1471.2 1915.6 1472.5 1916.2C1473.8 1916.8 1475.2 1915.6 1476.5 1915.2C1477.9 1914.8 1479.2 1913.3 1480.5 1913.6C1481.9 1913.9 1483.2 1915.7 1484.5 1916.8C1485.9 1917.9 1487.2 1919.3 1488.5 1920.2C1489.9 1921.1 1491.2 1921.5 1492.5 1922.2C1493.9 1922.9 1495.2 1923.8 1496.6 1924.2C1497.9 1924.6 1499.2 1924.6 1500.6 1924.8C1501.9 1925 1503.4 1925.1 1504.6 1925.2C1505.7 1925.3 1507.1 1925.2 1507.6 1925.2" stroke="#000" stroke-width="4" fill="none" stroke-linejoin="round" stroke-linecap="round"/>
<path d="M1239 1937.2C1239.9 1937.8 1242.4 1939.5 1244.1 1940.8C1245.7 1942.2 1247.6 1943.5 1249.1 1945.2C1250.6 1947 1251.7 1948.6 1253.1 1951.3C1254.4 1953.9 1255.7 1958.4 1257.1 1961.3C1258.4 1964.1 1259.7 1967.6 1261.1 1968.3C1262.4 1969 1263.8 1966.5 1265.1 1965.3C1266.4 1964.1 1267.8 1962.3 1269.1 1961.3C1270.4 1960.3 1271.8 1959.1 1273.1 1959.3C1274.4 1959.4 1275.8 1961.3 1277.1 1962.3C1278.5 1963.3 1279.8 1964.6 1281.1 1965.3C1282.5 1966 1284 1966.6 1285.1 1966.3C1286.3 1966 1287.2 1966 1288.1 1963.3C1289.1 1960.6 1289.8 1954.3 1290.7 1950.3C1291.6 1946.3 1292.6 1941.5 1293.5 1939.2C1294.5 1937 1295.3 1936.2 1296.2 1936.8C1297 1937.5 1297.9 1939.5 1298.8 1943.2C1299.7 1947 1300.6 1954.6 1301.6 1959.3C1302.6 1964 1303.7 1968.6 1304.8 1971.3C1305.9 1974 1307.1 1975.3 1308.2 1975.3C1309.2 1975.3 1310.2 1973.6 1311.2 1971.3C1312.2 1969 1313.2 1965 1314.2 1961.3C1315.2 1957.6 1316.2 1952.6 1317.2 1949.3C1318.2 1945.9 1319.2 1943.6 1320.2 1941.2C1321.2 1938.9 1322 1936.6 1323.2 1935.2C1324.4 1933.9 1325.9 1933.1 1327.2 1933.2C1328.6 1933.4 1329.9 1934.7 1331.2 1936.2C1332.6 1937.7 1333.9 1939.9 1335.2 1942.2C1336.6 1944.6 1337.9 1947.6 1339.2 1950.3C1340.6 1952.9 1341.9 1956.8 1343.2 1958.3C1344.6 1959.8 1345.9 1959.2 1347.3 1959.3C1348.6 1959.4 1349.9 1958.4 1351.3 1958.9C1352.6 1959.4 1353.9 1960.7 1355.3 1962.3C1356.6 1963.9 1358.1 1967.8 1359.3 1968.3C1360.4 1968.8 1361.3 1967.8 1362.3 1965.3C1363.3 1962.8 1364.3 1956.6 1365.3 1953.3C1366.3 1949.9 1367.1 1947.6 1368.3 1945.2C1369.5 1942.9 1371 1941.1 1372.3 1939.2C1373.6 1937.4 1375 1935.7 1376.3 1934.2C1377.7 1932.7 1379 1932.1 1380.3 1930.2C1381.7 1928.4 1383 1926.2 1384.3 1923.2C1385.7 1920.2 1387.2 1916 1388.3 1912.2C1389.5 1908.3 1390.4 1903.5 1391.3 1900.2C1392.2 1896.8 1392.9 1893.7 1393.7 1892.1C1394.6 1890.6 1395.4 1890.1 1396.4 1890.7C1397.3 1891.4 1398.4 1894.1 1399.4 1896.2C1400.4 1898.2 1401.4 1901.7 1402.4 1903.2C1403.4 1904.7 1404.4 1905.6 1405.4 1905.2C1406.4 1904.8 1407.2 1901.9 1408.4 1900.8C1409.5 1899.6 1411.1 1898.3 1412.4 1898.2C1413.7 1898.1 1415.1 1899.4 1416.4 1900.2C1417.7 1900.9 1419.2 1902.9 1420.4 1902.8C1421.6 1902.6 1422.2 1900.5 1423.4 1899.2C1424.6 1897.8 1426.1 1896.3 1427.4 1894.7C1428.8 1893.2 1430.1 1891.2 1431.4 1890.1C1432.8 1889 1434.1 1888.1 1435.4 1888.1C1436.8 1888.1 1438.1 1889.5 1439.4 1890.1C1440.8 1890.8 1442.1 1891.3 1443.4 1892.1C1444.8 1893 1446.1 1894.2 1447.5 1895.1C1448.8 1896.1 1450.1 1897 1451.5 1897.6C1452.8 1898.2 1454.1 1898.2 1455.5 1898.8C1456.8 1899.3 1458.1 1900 1459.5 1900.8C1460.8 1901.6 1462.2 1902.9 1463.5 1903.6C1464.8 1904.2 1466.2 1904.2 1467.5 1904.8C1468.8 1905.3 1470.2 1906.3 1471.5 1906.8C1472.8 1907.2 1474.2 1907.6 1475.5 1907.6C1476.8 1907.6 1478.2 1906.3 1479.5 1906.8C1480.9 1907.2 1482.2 1909 1483.5 1910.2C1484.9 1911.3 1486.2 1912.4 1487.5 1913.6C1488.9 1914.8 1490.2 1916.3 1491.5 1917.2C1492.9 1918.1 1494.2 1918.5 1495.6 1919.2C1496.9 1919.9 1498.2 1920.7 1499.6 1921.2C1500.9 1921.7 1502.2 1921.9 1503.6 1922.2C1504.9 1922.5 1506.9 1922.7 1507.6 1922.8" stroke="#E7A324" stroke-width="4" fill="none" stroke-linejoin="round" stroke-linecap="round"/>
<text x="117.6" y="2016.5" font-size="23.5" text-anchor="middle" class="t">P9</text>
<path d="M83.2 2154.8H351.4" stroke="#000" stroke-width="3.7" fill="none" stroke-linecap="round"/>
<path d="M121.8 2057.5V2179.6" stroke="#000" stroke-width="3.7" fill="none" stroke-linecap="round"/>
<path d="M160 2146.8v16M198.2 2146.8v16M236.4 2146.8v16M274.6 2146.8v16M312.8 2146.8v16" stroke="#000" stroke-width="2.1" fill="none"/>
<path d="M82.6 2154.8C83.3 2154.3 85.5 2152.4 87 2151.6C88.6 2150.9 90.4 2150.3 92 2150.2C93.7 2150.2 95.4 2150.4 97 2151.2C98.7 2152.1 100.4 2154.1 102.1 2155.2C103.7 2156.4 105.4 2157.6 107.1 2158.2C108.7 2158.9 110.4 2159.2 112.1 2159.2C113.7 2159.2 115.6 2158.3 117.1 2158.2C118.6 2158.2 119.8 2158.2 121.1 2158.8C122.4 2159.5 123.8 2161.5 125.1 2162.3C126.4 2163 127.8 2163.4 129.1 2163.3C130.4 2163.1 131.8 2162.3 133.1 2161.3C134.4 2160.3 136 2158.1 137.1 2157.2C138.3 2156.4 139.1 2155.6 140.1 2156.2C141.1 2156.9 142.1 2159.2 143.1 2161.3C144.1 2163.3 145 2166.3 146.1 2168.3C147.3 2170.3 148.8 2171.8 150.1 2173.3C151.5 2174.8 152.8 2176 154.2 2177.3C155.5 2178.6 156.8 2179.8 158.2 2180.9C159.5 2182 160.8 2183.6 162.2 2183.7C163.5 2183.8 164.8 2182.7 166.2 2181.3C167.5 2179.9 168.9 2177.3 170.2 2175.3C171.5 2173.3 172.9 2171 174.2 2169.3C175.5 2167.5 176.9 2166.4 178.2 2164.9C179.5 2163.4 180.9 2161.9 182.2 2160.3C183.5 2158.6 184.9 2156.7 186.2 2155.2C187.6 2153.7 188.9 2151.8 190.2 2151.2C191.6 2150.6 192.9 2151.6 194.2 2151.6C195.6 2151.6 196.9 2151.2 198.2 2151.2C199.6 2151.2 200.9 2151.5 202.3 2151.6C203.6 2151.8 204.9 2152 206.3 2152.2C207.6 2152.4 208.9 2152.8 210.3 2152.8C211.6 2152.8 212.9 2152.4 214.3 2152.2C215.6 2152 216.9 2151.9 218.3 2151.6C219.6 2151.4 221 2151.2 222.3 2150.8C223.6 2150.4 225 2149.8 226.3 2149.2C227.6 2148.6 229 2148 230.3 2147.2C231.6 2146.5 233 2145.5 234.3 2144.8C235.7 2144.2 237.2 2143.2 238.3 2143.2C239.5 2143.2 240.3 2143.8 241.3 2144.8C242.3 2145.8 243.3 2148 244.3 2149.2C245.3 2150.5 246.2 2151.7 247.3 2152.2C248.5 2152.7 250 2152.5 251.3 2152.2C252.7 2152 254 2151.3 255.4 2150.8C256.7 2150.4 258 2150 259.4 2149.6C260.7 2149.3 262 2149 263.4 2148.8C264.7 2148.7 266 2148.7 267.4 2148.8C268.7 2149 270.1 2149.3 271.4 2149.6C272.7 2150 274.1 2150.5 275.4 2150.8C276.7 2151.2 278.1 2151.6 279.4 2151.6C280.7 2151.6 282.1 2151.2 283.4 2150.8C284.7 2150.5 286.1 2149.9 287.4 2149.6C288.8 2149.4 290.1 2149.2 291.4 2149.2C292.8 2149.2 294.1 2149.6 295.4 2149.6C296.8 2149.6 298.1 2149 299.4 2149.2C300.8 2149.5 302.1 2150.6 303.5 2151.2C304.8 2151.9 306.1 2152.6 307.5 2153.2C308.8 2153.8 310.1 2154.5 311.5 2154.8C312.8 2155.2 314.1 2155.2 315.5 2155.2C316.8 2155.2 318.1 2155 319.5 2154.8C320.8 2154.7 322.2 2154.5 323.5 2154.2C324.8 2154 326.2 2153.6 327.5 2153.2C328.8 2152.9 330.2 2152.2 331.5 2152.2C332.8 2152.2 334.2 2152.9 335.5 2153.2C336.9 2153.6 338.2 2154 339.5 2154.2C340.9 2154.5 342.2 2154.4 343.5 2154.8C344.9 2155.3 346.2 2156.6 347.5 2156.8C348.9 2157.1 350.9 2156.5 351.5 2156.4" stroke="#000" stroke-width="4" fill="none" stroke-linejoin="round" stroke-linecap="round"/>
<path d="M82.6 2152.2C83.3 2152.3 85.5 2152.6 87 2152.8C88.6 2153.1 90.4 2153.5 92 2153.6C93.7 2153.8 95.4 2153.7 97 2153.6C98.7 2153.6 100.4 2153 102.1 2153.2C103.7 2153.5 105.4 2154.7 107.1 2155.2C108.7 2155.7 110.4 2155.8 112.1 2156.2C113.7 2156.6 115.6 2157.1 117.1 2157.6C118.6 2158.1 119.8 2158.7 121.1 2159.2C122.4 2159.8 123.8 2160.7 125.1 2160.9C126.4 2161 127.8 2160.9 129.1 2160.3C130.4 2159.6 131.9 2158.4 133.1 2157.2C134.3 2156.1 135.1 2154 136.1 2153.2C137.1 2152.5 138.1 2152.1 139.1 2152.8C140.1 2153.6 141.1 2155.6 142.1 2157.6C143.1 2159.7 144.1 2163 145.1 2165.3C146.1 2167.5 147 2169.6 148.1 2171.3C149.3 2172.9 150.8 2174 152.2 2175.3C153.5 2176.5 154.8 2177.6 156.2 2178.9C157.5 2180.2 159 2182.1 160.2 2182.9C161.3 2183.7 162 2184.1 163.2 2183.7C164.3 2183.3 165.8 2181.5 167.2 2180.3C168.5 2179.1 169.9 2177.9 171.2 2176.3C172.5 2174.7 173.9 2172.4 175.2 2170.9C176.5 2169.4 177.9 2168.2 179.2 2167.3C180.5 2166.3 181.9 2165.9 183.2 2165.3C184.5 2164.6 185.9 2163.8 187.2 2163.3C188.6 2162.8 189.9 2162.6 191.2 2162.3C192.6 2161.9 193.9 2161.5 195.2 2161.3C196.6 2161 197.9 2161 199.2 2160.9C200.6 2160.7 201.9 2160.7 203.3 2160.3C204.6 2159.8 205.9 2159.4 207.3 2158.2C208.6 2157.1 209.9 2154.3 211.3 2153.2C212.6 2152.1 213.9 2152 215.3 2151.6C216.6 2151.3 217.9 2151.4 219.3 2151.2C220.6 2151.1 222 2151.1 223.3 2150.8C224.6 2150.6 226 2150.2 227.3 2149.6C228.6 2149.1 230 2148.4 231.3 2147.6C232.6 2146.8 234 2145.5 235.3 2144.8C236.7 2144.2 238 2143.6 239.3 2143.6C240.7 2143.7 242 2144.6 243.3 2145.2C244.7 2145.8 246 2146.7 247.3 2147.2C248.7 2147.7 250 2148.2 251.3 2148.2C252.7 2148.3 254.2 2148.2 255.4 2147.6C256.5 2147.1 257.4 2145.9 258.4 2144.8C259.4 2143.8 260.2 2142.3 261.4 2141.2C262.5 2140.1 264 2138.5 265.4 2138.2C266.7 2137.9 268 2138.9 269.4 2139.6C270.7 2140.3 272.1 2141.5 273.4 2142.2C274.7 2142.9 276.1 2143.5 277.4 2143.6C278.7 2143.8 280.1 2143.7 281.4 2143.2C282.7 2142.7 284.1 2141.6 285.4 2140.8C286.8 2140 288.1 2138.8 289.4 2138.2C290.8 2137.6 292.1 2137.2 293.4 2137.2C294.8 2137.2 296.1 2138.3 297.4 2138.2C298.8 2138.1 300.1 2136.9 301.4 2136.8C302.8 2136.7 304.1 2137.1 305.5 2137.6C306.8 2138.1 308.1 2138.9 309.5 2139.6C310.8 2140.3 312.1 2141.1 313.5 2141.6C314.8 2142.1 316.1 2142.5 317.5 2142.8C318.8 2143.1 320.2 2143.2 321.5 2143.6C322.8 2144 324.2 2144.8 325.5 2145.2C326.8 2145.7 328.2 2146 329.5 2146.2C330.8 2146.5 332.2 2146.6 333.5 2146.8C334.8 2147.1 336.2 2147.5 337.5 2147.6C338.9 2147.8 340.2 2147.5 341.5 2147.6C342.9 2147.7 343.9 2148 345.5 2148.2C347.2 2148.5 350.5 2149.1 351.5 2149.2" stroke="#E7A324" stroke-width="4" fill="none" stroke-linejoin="round" stroke-linecap="round"/>
<text x="406.4" y="2016.5" font-size="23.5" text-anchor="middle" class="t">O1</text>
<path d="M372 2154.8H640.2" stroke="#000" stroke-width="3.7" fill="none" stroke-linecap="round"/>
<path d="M410.6 2057.5V2179.6" stroke="#000" stroke-width="3.7" fill="none" stroke-linecap="round"/>
<path d="M448.8 2146.8v16M487 2146.8v16M525.2 2146.8v16M563.4 2146.8v16M601.6 2146.8v16" stroke="#000" stroke-width="2.1" fill="none"/>
<path d="M371.6 2146.2C372.3 2145.7 374.6 2143.9 376 2143.2C377.4 2142.6 378.7 2142.2 380 2142.2C381.4 2142.2 382.9 2142.1 384 2143.2C385.2 2144.4 386 2146.2 387 2149.2C388 2152.3 388.9 2157.6 390 2161.3C391.2 2164.9 392.7 2170.1 394.1 2171.3C395.4 2172.5 396.7 2169.8 398.1 2168.3C399.4 2166.8 400.7 2163.9 402.1 2162.3C403.4 2160.6 404.7 2159.1 406.1 2158.3C407.4 2157.4 408.8 2157.3 410.1 2157.3C411.4 2157.3 412.8 2158.1 414.1 2158.3C415.4 2158.4 416.8 2158.9 418.1 2158.3C419.4 2157.6 420.9 2156.4 422.1 2154.3C423.3 2152.1 424.1 2148.2 425.1 2145.2C426.1 2142.2 427.1 2137.2 428.1 2136.2C429.1 2135.2 430.1 2137.4 431.1 2139.2C432.1 2141.1 433.1 2144.2 434.1 2147.2C435.1 2150.3 436 2154.3 437.1 2157.3C438.3 2160.3 439.8 2163.9 441.2 2165.3C442.5 2166.6 443.8 2165.9 445.2 2165.3C446.5 2164.6 448 2163.3 449.2 2161.3C450.3 2159.3 451.2 2155.9 452.2 2153.3C453.2 2150.6 454.2 2147.3 455.2 2145.2C456.2 2143.2 457 2141.7 458.2 2140.8C459.4 2140 460.9 2141 462.2 2140.2C463.5 2139.5 465 2138.4 466.2 2136.2C467.4 2134.1 468 2129.7 469.2 2127.2C470.4 2124.7 471.9 2121.9 473.2 2121.2C474.6 2120.5 475.9 2122.2 477.2 2123.2C478.6 2124.2 480.1 2125.4 481.2 2127.2C482.4 2129 483.2 2132 484.2 2134.2C485.2 2136.4 486.2 2139.1 487.2 2140.2C488.2 2141.4 489.2 2141.6 490.2 2141.2C491.3 2140.9 492.3 2140.6 493.3 2138.2C494.3 2135.9 495.3 2130.2 496.3 2127.2C497.3 2124.2 498.1 2122 499.3 2120.2C500.4 2118.4 501.9 2117.9 503.3 2116.2C504.6 2114.5 505.9 2112 507.3 2110.2C508.6 2108.3 510 2106.7 511.3 2105.2C512.6 2103.7 514 2103 515.3 2101.2C516.6 2099.3 518.1 2096.6 519.3 2094.1C520.5 2091.6 521.3 2088.7 522.3 2086.1C523.3 2083.6 524.3 2080.7 525.3 2078.7C526.3 2076.7 527.3 2074.1 528.3 2074.1C529.3 2074.1 530.3 2075.9 531.3 2078.7C532.3 2081.5 533.3 2087.4 534.3 2091.1C535.3 2094.9 536.3 2099.3 537.3 2101.2C538.3 2103 539.3 2102.7 540.3 2102.2C541.4 2101.7 542.4 2099.3 543.4 2098.1C544.4 2097 545.2 2095.8 546.4 2095.1C547.5 2094.5 549 2094 550.4 2094.1C551.7 2094.3 553 2095.3 554.4 2096.1C555.7 2097 557 2097.8 558.4 2099.1C559.7 2100.5 561.1 2103.7 562.4 2104.2C563.7 2104.7 565.1 2103.2 566.4 2102.2C567.7 2101.2 569.1 2098.3 570.4 2098.1C571.7 2098 573.1 2100.4 574.4 2101.2C575.8 2101.9 577.1 2102.4 578.4 2102.8C579.8 2103.1 581.1 2103 582.4 2103.2C583.8 2103.3 585.1 2102.9 586.4 2103.6C587.8 2104.2 589.1 2105.6 590.4 2107.2C591.8 2108.7 593.1 2111.4 594.5 2112.8C595.8 2114.1 597.1 2114.3 598.5 2115.2C599.8 2116.1 601.1 2117.5 602.5 2118.2C603.8 2118.9 605.1 2119.2 606.5 2119.6C607.8 2120 609.2 2120.4 610.5 2120.8C611.8 2121.2 613.2 2121.8 614.5 2122.2C615.8 2122.6 617.2 2123 618.5 2123.2C619.8 2123.4 621.2 2123 622.5 2123.2C623.8 2123.4 625.2 2123.9 626.5 2124.2C627.9 2124.5 629 2124.7 630.5 2125.2C632 2125.7 633.9 2126.6 635.5 2127.2C637.2 2127.8 639.7 2128.5 640.5 2128.8" stroke="#000" stroke-width="4" fill="none" stroke-linejoin="round" stroke-linecap="round"/>
<path d="M371.6 2140.2C372.3 2140.3 374.6 2140.2 376 2140.8C377.4 2141.5 378.7 2142.7 380 2144.2C381.4 2145.8 382.7 2147.7 384 2150.3C385.4 2152.8 386.7 2156.8 388 2159.3C389.4 2161.8 390.7 2164.6 392.1 2165.3C393.4 2165.9 394.7 2164.1 396.1 2163.3C397.4 2162.4 398.7 2161.1 400.1 2160.3C401.4 2159.4 402.7 2158.7 404.1 2158.3C405.4 2157.8 406.7 2157.8 408.1 2157.7C409.4 2157.6 410.8 2158.1 412.1 2157.7C413.4 2157.3 414.8 2156.7 416.1 2155.3C417.4 2153.9 418.8 2151.6 420.1 2149.2C421.4 2146.9 422.8 2143.2 424.1 2141.2C425.5 2139.2 427 2136.9 428.1 2137.2C429.3 2137.6 430.1 2140.2 431.1 2143.2C432.1 2146.2 433.1 2151.3 434.1 2155.3C435.1 2159.3 436 2164.6 437.1 2167.3C438.3 2170 439.8 2171 441.2 2171.3C442.5 2171.6 443.8 2170.3 445.2 2169.3C446.5 2168.3 448 2166.6 449.2 2165.3C450.3 2163.9 451.2 2162.9 452.2 2161.3C453.2 2159.6 454.2 2156.8 455.2 2155.3C456.2 2153.8 457 2152.4 458.2 2152.3C459.4 2152.1 461 2153.5 462.2 2154.3C463.4 2155 464.2 2157 465.2 2156.9C466.2 2156.7 467.2 2154.2 468.2 2153.3C469.2 2152.3 470.2 2150.9 471.2 2151.3C472.2 2151.6 473.2 2153.6 474.2 2155.3C475.2 2156.9 476.1 2159.6 477.2 2161.3C478.4 2162.9 480.1 2163.9 481.2 2165.3C482.4 2166.7 483.2 2168.1 484.2 2169.7C485.2 2171.3 486.2 2173.8 487.2 2174.9C488.2 2176 489.2 2176.9 490.2 2176.3C491.3 2175.7 492.3 2173.8 493.3 2171.3C494.3 2168.8 495.3 2164.9 496.3 2161.3C497.3 2157.6 498.3 2152.8 499.3 2149.2C500.3 2145.7 501.1 2143.1 502.3 2140.2C503.4 2137.4 504.9 2134.6 506.3 2132.2C507.6 2129.9 509 2128.2 510.3 2126.2C511.6 2124.2 513 2122.7 514.3 2120.2C515.6 2117.7 517 2114.3 518.3 2111.2C519.6 2108 521.1 2104.5 522.3 2101.2C523.5 2097.8 524.3 2093.4 525.3 2091.1C526.3 2088.9 527.3 2087.5 528.3 2087.5C529.3 2087.5 530.3 2088.9 531.3 2091.1C532.3 2093.4 533.3 2098.6 534.3 2101.2C535.3 2103.7 536.3 2105.3 537.3 2106.2C538.3 2107 539.3 2106.8 540.3 2106.2C541.4 2105.5 542.4 2103.5 543.4 2102.2C544.4 2100.8 545.2 2099.4 546.4 2098.1C547.5 2096.9 549 2095.8 550.4 2094.7C551.7 2093.6 553.2 2092.1 554.4 2091.5C555.5 2090.9 556.4 2090.5 557.4 2091.1C558.4 2091.7 559.2 2093.8 560.4 2095.1C561.6 2096.5 563.1 2098.5 564.4 2099.1C565.7 2099.8 567.1 2099.2 568.4 2099.1C569.7 2099.1 571.1 2098.6 572.4 2098.7C573.7 2098.9 575.1 2100.5 576.4 2100.2C577.8 2099.8 579.1 2097.9 580.4 2096.7C581.8 2095.6 583.1 2093.5 584.4 2093.1C585.8 2092.8 587.1 2094 588.4 2094.7C589.8 2095.5 591.1 2096.6 592.5 2097.5C593.8 2098.4 595.1 2099.2 596.5 2100.2C597.8 2101.1 599.1 2102.3 600.5 2103.2C601.8 2104.1 603.1 2105.1 604.5 2105.6C605.8 2106.1 607.1 2106.1 608.5 2106.2C609.8 2106.3 611.2 2105.7 612.5 2106.2C613.8 2106.7 615.2 2108 616.5 2109.2C617.8 2110.3 619.2 2111.5 620.5 2113.2C621.8 2114.8 623.2 2117.9 624.5 2119.2C625.9 2120.5 627.2 2120.6 628.5 2121.2C629.9 2121.8 631.2 2122.5 632.5 2122.8C633.9 2123.1 635.2 2123 636.5 2123.2C637.9 2123.4 639.9 2124 640.5 2124.2" stroke="#E7A324" stroke-width="4" fill="none" stroke-linejoin="round" stroke-linecap="round"/>
<text x="696" y="2016.5" font-size="23.5" text-anchor="middle" class="t">Oz</text>
<path d="M661.6 2154.8H929.8" stroke="#000" stroke-width="3.7" fill="none" stroke-linecap="round"/>
<path d="M700.2 2057.5V2179.6" stroke="#000" stroke-width="3.7" fill="none" stroke-linecap="round"/>
<path d="M738.4 2146.8v16M776.6 2146.8v16M814.8 2146.8v16M853 2146.8v16M891.2 2146.8v16" stroke="#000" stroke-width="2.1" fill="none"/>
<path d="M660.6 2146.2C661.3 2145.9 663.6 2144.7 665 2144.2C666.4 2143.7 667.7 2143.5 669 2143.2C670.4 2143 671.9 2141.7 673 2142.8C674.2 2144 675 2147 676 2150.3C677 2153.5 677.9 2158.9 679 2162.3C680.2 2165.6 681.7 2169.5 683.1 2170.3C684.4 2171.1 685.7 2168.5 687.1 2167.3C688.4 2166.1 689.7 2164.5 691.1 2163.3C692.4 2162 693.7 2160.3 695.1 2159.7C696.4 2159.1 697.8 2159.5 699.1 2159.7C700.4 2159.9 701.8 2161 703.1 2160.9C704.4 2160.7 705.8 2159.8 707.1 2158.9C708.4 2157.9 709.8 2156.7 711.1 2155.3C712.4 2153.8 713.8 2151.4 715.1 2150.3C716.5 2149.1 717.8 2148.2 719.1 2148.2C720.5 2148.2 721.8 2149.7 723.1 2150.3C724.5 2150.8 725.8 2151.2 727.1 2151.3C728.5 2151.4 729.8 2151.3 731.2 2150.9C732.5 2150.5 733.8 2149.9 735.2 2148.8C736.5 2147.7 737.8 2146.2 739.2 2144.2C740.5 2142.3 741.9 2138.9 743.2 2137.2C744.4 2135.6 745.6 2134.4 746.8 2134.2C748 2134.1 749.1 2135.7 750.2 2136.2C751.3 2136.7 752 2138.1 753.2 2137.2C754.4 2136.4 756 2133 757.2 2131.2C758.4 2129.4 759.2 2127.5 760.2 2126.2C761.2 2124.9 762 2123.4 763.2 2123.2C764.4 2123 765.9 2124.4 767.2 2125.2C768.6 2126 769.9 2126.6 771.2 2128.2C772.6 2129.8 774.1 2132.8 775.2 2134.8C776.4 2136.8 777.2 2139.3 778.2 2140.2C779.2 2141.1 780.3 2141.4 781.3 2140.2C782.3 2139.1 783.3 2136.1 784.3 2133.2C785.3 2130.4 786.3 2125.6 787.3 2123.2C788.3 2120.8 789.1 2120 790.3 2118.8C791.4 2117.6 792.9 2117.5 794.3 2116.2C795.6 2114.9 797 2112.8 798.3 2111.2C799.6 2109.5 801 2107.8 802.3 2106.2C803.6 2104.6 805 2103.2 806.3 2101.6C807.6 2099.9 809.1 2098.2 810.3 2096.1C811.5 2094.1 812.3 2091.5 813.3 2089.1C814.3 2086.8 815.4 2083.7 816.3 2082.1C817.3 2080.5 818 2079 818.9 2079.5C819.8 2080 820.7 2082.7 821.7 2085.1C822.7 2087.6 823.9 2092.1 824.9 2094.1C825.9 2096.2 826.7 2097.4 827.7 2097.5C828.7 2097.7 829.8 2095.9 831 2095.1C832.1 2094.4 833.2 2093.1 834.4 2093.1C835.5 2093.1 836.6 2094 837.8 2095.1C838.9 2096.3 840.3 2099.4 841.4 2100.2C842.5 2100.9 843.4 2099.2 844.4 2099.5C845.4 2099.9 846.2 2101.1 847.4 2102.2C848.6 2103.3 850.1 2106.2 851.4 2106.2C852.7 2106.2 854.1 2103.8 855.4 2102.2C856.7 2100.5 858.1 2096.9 859.4 2096.1C860.7 2095.4 862.1 2097 863.4 2097.5C864.8 2098.1 866.1 2098.8 867.4 2099.5C868.8 2100.3 870.1 2101.4 871.4 2102.2C872.8 2102.9 874.1 2103.5 875.4 2104.2C876.8 2104.8 878.1 2105 879.4 2106.2C880.8 2107.3 882.1 2109.8 883.5 2111.2C884.8 2112.5 886.1 2113.2 887.5 2114.2C888.8 2115.2 890.1 2116.5 891.5 2117.2C892.8 2117.9 894.1 2118.1 895.5 2118.2C896.8 2118.3 898.2 2117.5 899.5 2117.6C900.8 2117.7 902.2 2118.3 903.5 2118.8C904.8 2119.3 906.2 2120.8 907.5 2120.8C908.8 2120.8 910.2 2118.9 911.5 2118.8C912.8 2118.7 914.2 2119.6 915.5 2120.2C916.9 2120.8 918 2121.6 919.5 2122.2C921 2122.8 922.9 2123.1 924.5 2123.6C926.2 2124.1 928.7 2124.9 929.5 2125.2" stroke="#000" stroke-width="4" fill="none" stroke-linejoin="round" stroke-linecap="round"/>
<path d="M660.6 2142.2C661.3 2142 663.6 2140.6 665 2140.8C666.4 2141.1 667.7 2142.1 669 2143.6C670.4 2145.2 671.7 2147.6 673 2150.3C674.4 2152.9 675.7 2156.8 677 2159.3C678.4 2161.8 679.7 2164.4 681.1 2165.3C682.4 2166.1 683.7 2164.9 685.1 2164.3C686.4 2163.6 687.7 2162.2 689.1 2161.3C690.4 2160.4 691.7 2159.4 693.1 2158.9C694.4 2158.4 695.7 2158.9 697.1 2158.3C698.4 2157.7 699.8 2156.4 701.1 2155.3C702.4 2154.1 703.8 2152.3 705.1 2151.3C706.4 2150.2 707.8 2149.2 709.1 2148.8C710.4 2148.4 711.9 2150.3 713.1 2148.8C714.3 2147.4 715.1 2143.2 716.1 2140.2C717.1 2137.3 718.1 2132.8 719.1 2131.2C720.1 2129.6 721.1 2129.6 722.1 2130.8C723.1 2132 724.1 2135.5 725.1 2138.2C726.1 2141 727.1 2144.9 728.1 2147.2C729.1 2149.6 730 2151.8 731.2 2152.3C732.3 2152.8 733.8 2151.1 735.2 2150.3C736.5 2149.4 737.8 2148.1 739.2 2147.2C740.5 2146.4 742 2145.4 743.2 2145.2C744.3 2145.1 745.2 2145.4 746.2 2146.2C747.2 2147.1 748 2149.3 749.2 2150.3C750.4 2151.2 751.9 2151.8 753.2 2151.7C754.5 2151.5 755.9 2149.5 757.2 2149.2C758.5 2149 760 2149.1 761.2 2150.3C762.4 2151.4 763 2154.4 764.2 2156.3C765.4 2158.1 766.9 2159.8 768.2 2161.3C769.6 2162.8 771.1 2163.6 772.2 2165.3C773.4 2167 774.1 2169.6 775.2 2171.3C776.4 2173 778 2175.4 779.2 2175.7C780.5 2176 781.8 2175.4 782.9 2173.3C783.9 2171.2 784.8 2166.6 785.7 2163.3C786.6 2159.9 787.3 2156.4 788.3 2153.3C789.2 2150.1 790.1 2146.9 791.3 2144.2C792.4 2141.6 793.9 2139.4 795.3 2137.2C796.6 2135.1 798 2133 799.3 2131.2C800.6 2129.4 802 2128.2 803.3 2126.2C804.6 2124.2 806 2121.7 807.3 2119.2C808.6 2116.7 810.1 2113.7 811.3 2111.2C812.5 2108.7 813.3 2107 814.3 2104.2C815.3 2101.3 816.4 2096.3 817.3 2094.1C818.2 2092 818.9 2091 819.7 2091.1C820.6 2091.3 821.4 2093.5 822.3 2095.1C823.3 2096.8 824.3 2100 825.3 2101.2C826.3 2102.3 827.3 2102.4 828.3 2102.2C829.3 2101.9 830.2 2100.3 831.4 2099.5C832.5 2098.8 834 2097.9 835.4 2097.5C836.7 2097.1 838 2097.4 839.4 2097.1C840.7 2096.9 842.2 2096.6 843.4 2096.1C844.5 2095.6 845.4 2093.6 846.4 2094.1C847.4 2094.6 848.2 2098 849.4 2099.1C850.6 2100.3 852.1 2100.8 853.4 2100.8C854.7 2100.8 856.1 2099.7 857.4 2099.1C858.7 2098.6 860.1 2097.9 861.4 2097.5C862.7 2097.1 864.1 2097 865.4 2096.7C866.8 2096.5 868.1 2096.7 869.4 2096.1C870.8 2095.5 872.1 2093.6 873.4 2093.1C874.8 2092.6 876.1 2092.8 877.4 2093.1C878.8 2093.5 880.1 2094.2 881.5 2095.1C882.8 2096.1 884.1 2097.7 885.5 2098.7C886.8 2099.7 888.1 2100.5 889.5 2101.2C890.8 2101.8 892.1 2102.6 893.5 2102.8C894.8 2102.9 896.1 2102 897.5 2102.2C898.8 2102.3 900.2 2102.9 901.5 2103.6C902.8 2104.2 904.2 2105.3 905.5 2106.2C906.8 2107 908.2 2107.4 909.5 2108.8C910.8 2110.1 912.2 2112.8 913.5 2114.2C914.9 2115.6 916.2 2116.5 917.5 2117.2C918.9 2117.9 920.2 2117.9 921.5 2118.2C922.9 2118.5 924.2 2118.9 925.5 2119.2C926.9 2119.5 928.9 2120 929.5 2120.2" stroke="#E7A324" stroke-width="4" fill="none" stroke-linejoin="round" stroke-linecap="round"/>
<text x="984.6" y="2016.5" font-size="23.5" text-anchor="middle" class="t">O2</text>
<path d="M950.2 2154.8H1218.4" stroke="#000" stroke-width="3.7" fill="none" stroke-linecap="round"/>
<path d="M988.8 2057.5V2179.6" stroke="#000" stroke-width="3.7" fill="none" stroke-linecap="round"/>
<path d="M1027 2146.8v16M1065.2 2146.8v16M1103.4 2146.8v16M1141.6 2146.8v16M1179.8 2146.8v16" stroke="#000" stroke-width="2.1" fill="none"/>
<path d="M949.6 2138.2C950.3 2138.4 952.6 2138.6 954 2139.2C955.4 2139.9 956.7 2141.6 958 2142.2C959.4 2142.9 960.9 2141.9 962 2143.2C963.2 2144.6 964 2146.9 965 2150.3C966 2153.6 966.9 2159.4 968 2163.3C969.2 2167.1 970.7 2172.3 972.1 2173.3C973.4 2174.3 974.7 2171 976.1 2169.3C977.4 2167.6 978.7 2164.9 980.1 2163.3C981.4 2161.6 982.7 2160.1 984.1 2159.3C985.4 2158.4 986.8 2158.3 988.1 2158.3C989.4 2158.2 990.8 2159 992.1 2158.9C993.4 2158.7 994.8 2158.4 996.1 2157.3C997.4 2156.2 998.8 2154.9 1000.1 2152.3C1001.4 2149.6 1002.9 2145.2 1004.1 2141.2C1005.4 2137.2 1006.7 2130.2 1007.7 2128.2C1008.8 2126.2 1009.5 2127.4 1010.5 2129.2C1011.5 2131 1012.6 2136.2 1013.7 2139.2C1014.8 2142.2 1016.1 2145.9 1017.1 2147.2C1018.2 2148.6 1019.2 2148.2 1020.2 2147.2C1021.2 2146.2 1022.2 2143.4 1023.2 2141.2C1024.2 2139.1 1025 2136.6 1026.2 2134.2C1027.3 2131.9 1028.8 2129.1 1030.2 2127.2C1031.5 2125.3 1032.8 2123.4 1034.2 2122.8C1035.5 2122.2 1036.9 2123.1 1038.2 2123.6C1039.5 2124.1 1040.9 2125.7 1042.2 2125.6C1043.5 2125.5 1044.9 2124.3 1046.2 2123.2C1047.5 2122.1 1048.9 2119.6 1050.2 2119.2C1051.5 2118.8 1052.9 2120.1 1054.2 2120.8C1055.6 2121.5 1056.9 2122.5 1058.2 2123.2C1059.6 2123.9 1061.1 2123.5 1062.2 2125.2C1063.4 2126.9 1064.2 2130.7 1065.2 2133.2C1066.2 2135.7 1067.2 2139.6 1068.2 2140.2C1069.3 2140.9 1070.3 2139.6 1071.3 2137.2C1072.3 2134.9 1073.3 2129.3 1074.3 2126.2C1075.3 2123.1 1076.1 2120.7 1077.3 2118.8C1078.4 2116.9 1079.9 2116.4 1081.3 2114.8C1082.6 2113.2 1083.9 2111.1 1085.3 2109.2C1086.6 2107.2 1088 2105.2 1089.3 2103.2C1090.6 2101.2 1092 2099.1 1093.3 2097.1C1094.6 2095.1 1096.1 2093.1 1097.3 2091.1C1098.5 2089.1 1099.3 2087.5 1100.3 2085.1C1101.3 2082.8 1102.2 2079.3 1103.3 2077.1C1104.4 2074.9 1105.6 2071.9 1106.7 2072.1C1107.8 2072.3 1108.8 2075.3 1109.9 2078.1C1111 2080.9 1112.2 2086.8 1113.3 2089.1C1114.5 2091.5 1115.6 2092.4 1116.7 2092.1C1117.8 2091.9 1118.8 2088.5 1120 2087.5C1121.1 2086.5 1122.2 2086.1 1123.4 2086.1C1124.5 2086.1 1125.6 2086.9 1126.8 2087.5C1127.9 2088.2 1129.1 2089.5 1130.4 2090.1C1131.6 2090.7 1133 2090.5 1134.4 2091.1C1135.7 2091.8 1137.1 2094 1138.4 2094.1C1139.7 2094.3 1141.1 2093.3 1142.4 2092.1C1143.7 2091 1145.1 2088 1146.4 2087.1C1147.7 2086.2 1149.1 2086.6 1150.4 2086.7C1151.7 2086.9 1153.1 2087.4 1154.4 2088.1C1155.8 2088.9 1157.1 2090 1158.4 2091.1C1159.8 2092.3 1161.1 2094.1 1162.4 2095.1C1163.8 2096.1 1165.1 2096.5 1166.4 2097.1C1167.8 2097.8 1169.1 2098.3 1170.5 2099.1C1171.8 2100 1173.1 2101 1174.5 2102.2C1175.8 2103.3 1177.1 2104.5 1178.5 2106.2C1179.8 2107.8 1181.1 2111.3 1182.5 2112.2C1183.8 2113.1 1185.1 2112.1 1186.5 2111.6C1187.8 2111 1189.2 2108.8 1190.5 2108.8C1191.8 2108.7 1193.2 2110.4 1194.5 2111.2C1195.8 2111.9 1197.2 2113 1198.5 2113.2C1199.8 2113.3 1201.2 2112 1202.5 2112.2C1203.9 2112.3 1205.2 2113.5 1206.5 2114.2C1207.9 2114.8 1209.2 2115.6 1210.5 2116.2C1211.9 2116.8 1213.2 2117.4 1214.5 2117.6C1215.9 2117.8 1217.9 2117.6 1218.5 2117.6" stroke="#000" stroke-width="4" fill="none" stroke-linejoin="round" stroke-linecap="round"/>
<path d="M949.6 2138.2C950.3 2138.2 952.6 2137.5 954 2138.2C955.4 2139 956.7 2140.8 958 2142.8C959.4 2144.8 960.7 2147.2 962 2150.3C963.4 2153.3 964.7 2158.3 966 2161.3C967.4 2164.3 968.7 2167.6 970.1 2168.3C971.4 2169 972.7 2166.4 974.1 2165.3C975.4 2164.1 976.7 2162.4 978.1 2161.3C979.4 2160.1 980.7 2158.9 982.1 2158.3C983.4 2157.7 984.7 2158.2 986.1 2157.7C987.4 2157.2 988.8 2156.5 990.1 2155.3C991.4 2154 992.8 2151.9 994.1 2150.3C995.4 2148.6 996.8 2147.4 998.1 2145.2C999.4 2143.1 1000.9 2139.7 1002.1 2137.2C1003.3 2134.7 1004.1 2132.2 1005.1 2130.2C1006.1 2128.2 1007.1 2125.4 1008.1 2125.2C1009.1 2125 1010.1 2126.7 1011.1 2129.2C1012.1 2131.7 1013.1 2137.1 1014.1 2140.2C1015.1 2143.4 1016.1 2146.8 1017.1 2148.2C1018.1 2149.7 1019.2 2149.7 1020.2 2148.8C1021.2 2148 1022.2 2145.5 1023.2 2143.2C1024.2 2141 1025 2136.6 1026.2 2135.2C1027.3 2133.8 1028.8 2134.5 1030.2 2134.8C1031.5 2135.2 1032.8 2136.2 1034.2 2137.2C1035.5 2138.2 1036.9 2139.7 1038.2 2140.8C1039.5 2142 1040.9 2143.8 1042.2 2144.2C1043.5 2144.7 1044.9 2143.3 1046.2 2143.6C1047.5 2144 1049 2145.1 1050.2 2146.2C1051.4 2147.3 1052 2148.4 1053.2 2150.3C1054.4 2152.1 1055.9 2155.1 1057.2 2157.3C1058.6 2159.4 1060.1 2161.3 1061.2 2163.3C1062.4 2165.3 1063.1 2167.1 1064.2 2169.3C1065.3 2171.5 1066.7 2175.5 1067.8 2176.3C1069 2177.1 1070.2 2176.5 1071.3 2174.3C1072.3 2172.1 1073.3 2167.5 1074.3 2163.3C1075.3 2159.1 1076.3 2152.9 1077.3 2149.2C1078.3 2145.6 1079.1 2143.7 1080.3 2141.2C1081.4 2138.7 1082.9 2136.4 1084.3 2134.2C1085.6 2132 1087 2130 1088.3 2128.2C1089.6 2126.4 1091 2125.2 1092.3 2123.2C1093.6 2121.2 1095 2118.9 1096.3 2116.2C1097.6 2113.5 1099.1 2110.3 1100.3 2107.2C1101.5 2104 1102.4 2100.5 1103.3 2097.1C1104.3 2093.8 1105.1 2089.2 1105.9 2087.1C1106.8 2085.1 1107.4 2084.1 1108.3 2084.7C1109.2 2085.4 1110.3 2089.1 1111.3 2091.1C1112.3 2093.2 1113.3 2096.1 1114.3 2097.1C1115.3 2098.1 1116.3 2097.6 1117.3 2097.1C1118.3 2096.6 1119.2 2095 1120.4 2094.1C1121.5 2093.3 1123 2092.6 1124.4 2092.1C1125.7 2091.6 1127 2091.7 1128.4 2091.1C1129.7 2090.6 1131.2 2089.1 1132.4 2088.7C1133.5 2088.3 1134.4 2088.2 1135.4 2088.7C1136.4 2089.3 1137.2 2091.4 1138.4 2092.1C1139.6 2092.9 1141.1 2093.2 1142.4 2093.1C1143.7 2093 1145.1 2092.1 1146.4 2091.5C1147.7 2090.9 1149.1 2089.8 1150.4 2089.5C1151.7 2089.3 1153.1 2089.9 1154.4 2090.1C1155.8 2090.4 1157.1 2091.2 1158.4 2091.1C1159.8 2091 1161.1 2089.9 1162.4 2089.5C1163.8 2089.1 1165.1 2088.7 1166.4 2088.7C1167.8 2088.7 1169.1 2088.9 1170.5 2089.5C1171.8 2090.2 1173.1 2091.6 1174.5 2092.7C1175.8 2093.8 1177.1 2095.4 1178.5 2096.1C1179.8 2096.9 1181.1 2096.9 1182.5 2097.1C1183.8 2097.4 1185.1 2096.9 1186.5 2097.5C1187.8 2098.1 1189.2 2099.8 1190.5 2100.8C1191.8 2101.7 1193.2 2102.4 1194.5 2103.2C1195.8 2104 1197.2 2104.3 1198.5 2105.6C1199.8 2106.8 1201.2 2109.2 1202.5 2110.8C1203.9 2112.3 1205.2 2113.7 1206.5 2114.8C1207.9 2115.8 1209.2 2117 1210.5 2117.2C1211.9 2117.4 1213.2 2116.2 1214.5 2116.2C1215.9 2116.1 1217.9 2116.7 1218.5 2116.8" stroke="#E7A324" stroke-width="4" fill="none" stroke-linejoin="round" stroke-linecap="round"/>
<text x="1274.2" y="2016.5" font-size="23.5" text-anchor="middle" class="t">P10</text>
<path d="M1239.8 2154.8H1508" stroke="#000" stroke-width="3.7" fill="none" stroke-linecap="round"/>
<path d="M1278.4 2057.5V2179.6" stroke="#000" stroke-width="3.7" fill="none" stroke-linecap="round"/>
<path d="M1316.6 2146.8v16M1354.8 2146.8v16M1393 2146.8v16M1431.2 2146.8v16M1469.4 2146.8v16" stroke="#000" stroke-width="2.1" fill="none"/>
<path d="M1239 2147.2C1239.9 2147.6 1242.4 2149.2 1244.1 2149.6C1245.7 2150.1 1247.7 2149.5 1249.1 2149.6C1250.4 2149.7 1250.9 2149.1 1252.1 2150.3C1253.2 2151.4 1254.7 2154.4 1256.1 2156.3C1257.4 2158.1 1258.7 2160.4 1260.1 2161.3C1261.4 2162.1 1262.8 2161.9 1264.1 2161.3C1265.4 2160.7 1266.8 2158.5 1268.1 2157.7C1269.4 2156.8 1270.8 2156.2 1272.1 2156.3C1273.4 2156.4 1274.8 2157.4 1276.1 2158.3C1277.5 2159.1 1278.8 2160.3 1280.1 2161.3C1281.5 2162.3 1282.8 2163.8 1284.1 2164.3C1285.5 2164.8 1287 2165.4 1288.1 2164.3C1289.3 2163.1 1290.1 2159.4 1291.1 2157.3C1292.1 2155.1 1293.1 2151.9 1294.2 2151.3C1295.2 2150.6 1296.2 2152.1 1297.2 2153.3C1298.2 2154.4 1299.2 2156.4 1300.2 2158.3C1301.2 2160.1 1302 2162.4 1303.2 2164.3C1304.3 2166.1 1305.8 2168.2 1307.2 2169.3C1308.5 2170.4 1309.8 2171 1311.2 2170.9C1312.5 2170.8 1314 2170.2 1315.2 2168.9C1316.4 2167.6 1317.2 2165.4 1318.2 2163.3C1319.2 2161.2 1320.2 2158.1 1321.2 2156.3C1322.2 2154.4 1323 2153.2 1324.2 2152.3C1325.4 2151.4 1326.9 2150.9 1328.2 2150.9C1329.6 2150.9 1330.9 2151.9 1332.2 2152.3C1333.6 2152.7 1334.9 2153.4 1336.2 2153.3C1337.6 2153.2 1338.9 2152.2 1340.2 2151.7C1341.6 2151.2 1342.9 2150.8 1344.3 2150.3C1345.6 2149.7 1347.1 2148.2 1348.3 2148.2C1349.4 2148.2 1350.3 2149.2 1351.3 2150.3C1352.3 2151.3 1353.1 2153.2 1354.3 2154.3C1355.4 2155.4 1356.9 2156.7 1358.3 2156.9C1359.6 2157 1361 2155.9 1362.3 2155.3C1363.6 2154.6 1365 2153.5 1366.3 2152.9C1367.6 2152.2 1369 2152.1 1370.3 2151.3C1371.6 2150.4 1373 2148.5 1374.3 2147.6C1375.6 2146.8 1377 2146.6 1378.3 2146.2C1379.7 2145.8 1381 2146.1 1382.3 2145.2C1383.7 2144.4 1385 2142.7 1386.3 2141.2C1387.7 2139.7 1389 2137.9 1390.3 2136.2C1391.7 2134.6 1393 2132.3 1394.4 2131.2C1395.7 2130.1 1397 2129.4 1398.4 2129.6C1399.7 2129.8 1401 2131.5 1402.4 2132.2C1403.7 2132.9 1405 2133.2 1406.4 2133.6C1407.7 2134.1 1409 2134 1410.4 2134.8C1411.7 2135.7 1413.1 2137.9 1414.4 2138.8C1415.7 2139.7 1417.1 2140.5 1418.4 2140.2C1419.7 2140 1421.1 2138.1 1422.4 2137.2C1423.7 2136.4 1425.1 2135.6 1426.4 2135.2C1427.8 2134.9 1429.1 2135.4 1430.4 2135.2C1431.8 2135.1 1433.1 2134.7 1434.4 2134.2C1435.8 2133.7 1437.1 2132.7 1438.4 2132.2C1439.8 2131.7 1441.1 2131.4 1442.4 2131.2C1443.8 2131 1445.1 2130.5 1446.5 2130.8C1447.8 2131.1 1449.1 2132.5 1450.5 2133.2C1451.8 2134 1453.1 2134.8 1454.5 2135.2C1455.8 2135.6 1457.1 2135.6 1458.5 2135.6C1459.8 2135.7 1461.2 2135.4 1462.5 2135.6C1463.8 2135.9 1465.2 2136.5 1466.5 2137.2C1467.8 2138 1469.2 2140.1 1470.5 2140.2C1471.8 2140.4 1473.2 2138.8 1474.5 2138.2C1475.8 2137.7 1477.2 2136.7 1478.5 2136.8C1479.9 2137 1481.2 2138.4 1482.5 2139.2C1483.9 2140 1485.2 2141.2 1486.5 2141.6C1487.9 2142 1489.2 2141.4 1490.5 2141.6C1491.9 2141.8 1493 2142.4 1494.6 2142.8C1496.1 2143.3 1498.1 2144 1499.6 2144.2C1501.1 2144.5 1502.2 2144.3 1503.6 2144.2C1504.9 2144.1 1506.9 2143.7 1507.6 2143.6" stroke="#000" stroke-width="4" fill="none" stroke-linejoin="round" stroke-linecap="round"/>
<path d="M1239 2150.9C1239.9 2150.9 1242.4 2151.1 1244.1 2151.3C1245.7 2151.4 1247.6 2151.5 1249.1 2151.7C1250.6 2151.8 1251.7 2151.3 1253.1 2152.3C1254.4 2153.2 1255.7 2155.9 1257.1 2157.3C1258.4 2158.6 1259.7 2160 1261.1 2160.3C1262.4 2160.5 1263.8 2159.7 1265.1 2158.9C1266.4 2158 1267.8 2156 1269.1 2155.3C1270.4 2154.5 1271.8 2153.9 1273.1 2154.3C1274.4 2154.6 1275.8 2156.3 1277.1 2157.3C1278.5 2158.3 1279.8 2159.4 1281.1 2160.3C1282.5 2161.1 1284 2162.4 1285.1 2162.3C1286.3 2162.2 1287.1 2161.5 1288.1 2159.7C1289.1 2157.8 1290.1 2153.5 1291.1 2151.3C1292.1 2149 1293.1 2146.7 1294.2 2146.2C1295.2 2145.7 1296.2 2146.7 1297.2 2148.2C1298.2 2149.7 1299.2 2152.9 1300.2 2155.3C1301.2 2157.6 1302 2160.3 1303.2 2162.3C1304.3 2164.3 1305.8 2166.2 1307.2 2167.3C1308.5 2168.4 1309.8 2168.8 1311.2 2168.9C1312.5 2169 1314 2168.6 1315.2 2167.7C1316.4 2166.8 1317.2 2164.7 1318.2 2163.3C1319.2 2161.9 1320 2160.6 1321.2 2159.3C1322.4 2157.9 1323.9 2155.9 1325.2 2155.3C1326.5 2154.6 1327.9 2154.9 1329.2 2155.3C1330.6 2155.6 1331.9 2156.6 1333.2 2157.3C1334.6 2157.9 1335.9 2158.5 1337.2 2159.3C1338.6 2160 1339.9 2161.2 1341.2 2161.7C1342.6 2162.2 1343.9 2162.4 1345.3 2162.3C1346.6 2162.1 1347.9 2160.7 1349.3 2160.9C1350.6 2161 1351.9 2162.4 1353.3 2163.3C1354.6 2164.2 1356.1 2165.7 1357.3 2166.3C1358.4 2166.9 1359.3 2167.4 1360.3 2166.9C1361.3 2166.4 1362.1 2164.7 1363.3 2163.3C1364.5 2161.8 1366 2159.7 1367.3 2158.3C1368.6 2156.9 1370 2155.9 1371.3 2154.9C1372.6 2153.9 1374 2152.8 1375.3 2152.3C1376.6 2151.7 1378 2152 1379.3 2151.7C1380.7 2151.3 1382 2151 1383.3 2150.3C1384.7 2149.5 1386 2148.7 1387.3 2147.2C1388.7 2145.7 1390.2 2143.3 1391.3 2141.2C1392.5 2139.2 1393.3 2136.7 1394.4 2134.8C1395.4 2133 1396.4 2130.9 1397.4 2130.2C1398.4 2129.5 1399.2 2130.3 1400.4 2130.8C1401.5 2131.3 1403 2132.5 1404.4 2133.2C1405.7 2133.9 1407 2134.3 1408.4 2134.8C1409.7 2135.3 1411.1 2135.8 1412.4 2136.2C1413.7 2136.6 1415.1 2137.6 1416.4 2137.2C1417.7 2136.9 1419.1 2135.2 1420.4 2134.2C1421.7 2133.2 1423.1 2131.6 1424.4 2131.2C1425.7 2130.8 1427.1 2131.8 1428.4 2131.6C1429.8 2131.4 1431.1 2130.8 1432.4 2130.2C1433.8 2129.6 1435.1 2128.6 1436.4 2128.2C1437.8 2127.8 1439.1 2127.7 1440.4 2127.6C1441.8 2127.5 1443.1 2127.8 1444.5 2127.6C1445.8 2127.4 1447.1 2126.2 1448.5 2126.2C1449.8 2126.2 1451.1 2127.3 1452.5 2127.6C1453.8 2127.9 1455.1 2128.2 1456.5 2128.2C1457.8 2128.2 1459.1 2127.6 1460.5 2127.6C1461.8 2127.6 1463.2 2128 1464.5 2128.2C1465.8 2128.4 1467.2 2128.8 1468.5 2128.8C1469.8 2128.8 1471.2 2128 1472.5 2128.2C1473.8 2128.4 1475.2 2129.7 1476.5 2130.2C1477.9 2130.7 1479.2 2130.8 1480.5 2131.2C1481.9 2131.6 1483.2 2132.3 1484.5 2132.8C1485.9 2133.3 1487.2 2133.8 1488.5 2134.2C1489.9 2134.7 1491.2 2135.1 1492.5 2135.6C1493.9 2136.2 1495.2 2137.1 1496.6 2137.6C1497.9 2138.2 1499.2 2138.7 1500.6 2138.8C1501.9 2138.9 1503.4 2138.4 1504.6 2138.2C1505.7 2138 1507.1 2137.7 1507.6 2137.6" stroke="#E7A324" stroke-width="4" fill="none" stroke-linejoin="round" stroke-linecap="round"/>
<path d="M1241.3 1084.8H1513.1" stroke="#000" stroke-width="3.2" fill="none"/>
<path d="M1242.4 1076.8v16M1319.9 1076.8v16M1358.2 1076.8v16M1396.5 1076.8v16M1434.8 1076.8v16M1473.1 1076.8v16M1512 1076.8v16" stroke="#000" stroke-width="2.2" fill="none"/>
<path d="M1281.6 1035.8V1133.8" stroke="#000" stroke-width="3.2" fill="none"/>
<path d="M1269.6 1035.8H1294.2M1269.6 1133.8H1294.2" stroke="#000" stroke-width="2" fill="none"/>
<text x="1266.1" y="1042.1" font-size="17" text-anchor="end" class="t">3µV</text>
<text x="1270.1" y="1138.2" font-size="16" text-anchor="end" class="t">–3µV</text>
<text x="1358.2" y="1116.4" font-size="22.5" text-anchor="middle" class="t">400</text>
<text x="1434.8" y="1116.4" font-size="22.5" text-anchor="middle" class="t">800</text>
<path d="M1321.2 1014h40.5" stroke="#000" stroke-width="4" stroke-linecap="round"/>
<path d="M1321.2 1041.1h40.5" stroke="#E7A324" stroke-width="4" stroke-linecap="round"/>
<text x="1381.4" y="1022.2" font-size="23" class="t">Coherent</text>
<text x="1381.4" y="1049.8" font-size="23" class="t">Incoherent</text>
<path d="M1236.7 2422.1H1511.5" stroke="#000" stroke-width="3.2" fill="none"/>
<path d="M1237.8 2414.1v16M1316.4 2414.1v16M1355 2414.1v16M1393.6 2414.1v16M1432.2 2414.1v16M1470.8 2414.1v16M1510.4 2414.1v16" stroke="#000" stroke-width="2.2" fill="none"/>
<path d="M1277.8 2321.3V2447.7" stroke="#000" stroke-width="3.2" fill="none"/>
<path d="M1265.8 2321.3H1290.4M1265.8 2447.7H1290.4" stroke="#000" stroke-width="2" fill="none"/>
<text x="1262.3" y="2327.6" font-size="17" text-anchor="end" class="t">8µV</text>
<text x="1266.3" y="2452.1" font-size="16" text-anchor="end" class="t">–2µV</text>
<text x="1355" y="2448.5" font-size="22.5" text-anchor="middle" class="t">400</text>
<text x="1432.2" y="2448.5" font-size="22.5" text-anchor="middle" class="t">800</text>
<path d="M1318.1 2327.3h40.5" stroke="#000" stroke-width="4" stroke-linecap="round"/>
<path d="M1318.1 2355h40.5" stroke="#E7A324" stroke-width="4" stroke-linecap="round"/>
<text x="1378.6" y="2335.8" font-size="23" class="t">Coherent</text>
<text x="1378.6" y="2363.6" font-size="23" class="t">Incoherent</text>
<text x="820.6" y="942.2" font-size="28.8" text-anchor="middle" class="t">Inc. - Coh.</text>
<text x="818.2" y="2254.7" font-size="31.8" text-anchor="middle" class="t">Inc. - Coh.</text>
<text x="503.8" y="1111.3" font-size="24" text-anchor="middle" class="t">250 ms - 500 ms</text>
<text x="809" y="1111.3" font-size="24" text-anchor="middle" class="t">500 ms - 700 ms</text>
<text x="1087.3" y="1111.3" font-size="22.7" text-anchor="middle" class="t">700 ms - 1000 ms</text>
<text x="497.6" y="2439" font-size="23" text-anchor="middle" class="t">250 ms - 500 ms</text>
<text x="812.8" y="2439" font-size="23" text-anchor="middle" class="t">500 ms - 700 ms</text>
<text x="1087.6" y="2438.6" font-size="22.1" text-anchor="middle" class="t">700 ms - 1000 ms</text>
<clipPath id="tc0"><circle cx="495.4" cy="1014.5" r="56.2"/></clipPath>
<g clip-path="url(#tc0)">
<circle cx="495.4" cy="1014.5" r="56.2" fill="#b4000c"/>
<circle cx="499.5" cy="1015.6" r="57.5" fill="#e0000f"/>
<path d="M495.5 967.6C502.1 967.6 510.4 968.2 516.8 970C523.3 971.7 529.7 974.5 534.2 978.2C538.7 981.9 541.7 986.9 543.8 992.1C545.9 997.3 546.4 1003.7 546.8 1009.5C547.2 1015.3 546.7 1021.1 545.9 1026.8C545.1 1032.6 544 1039.1 542 1044.2C540.1 1049.3 537.5 1053.5 534.2 1057.2C530.9 1061 526.4 1064.5 522.1 1066.8C517.7 1069.1 512.6 1070.3 508.2 1071.1C503.7 1072 499.8 1072 495.5 1072C491.1 1072 486.5 1072 482.1 1071.1C477.7 1070.3 473.1 1069 469.1 1066.8C465 1064.6 461 1061.9 457.8 1058.1C454.6 1054.3 451.6 1049.4 450 1044.2C448.3 1039 448.1 1032.6 447.8 1026.8C447.5 1021.1 447.4 1015.3 448.2 1009.5C449 1003.7 450.3 997.3 452.6 992.1C454.9 986.9 458.1 981.9 462.1 978.2C466.2 974.5 471.3 971.7 476.9 970C482.5 968.2 488.8 967.6 495.5 967.6Z" fill="#e0606c"/>
<path d="M495.5 970.4C502 970.4 509.8 970.8 516 972.6C522.1 974.3 528.1 977.3 532.5 980.8C536.8 984.4 540 989.1 542 993.8C544.1 998.6 544.3 1004 544.6 1009.5C544.9 1015 544.5 1021.2 543.8 1026.8C543 1032.5 542.2 1038.4 540.3 1043.3C538.4 1048.3 535.7 1052.8 532.5 1056.4C529.3 1060 525.2 1062.9 521.2 1065.1C517.1 1067.2 512.4 1068.5 508.2 1069.4C503.9 1070.3 499.8 1070.3 495.5 1070.3C491.1 1070.3 486.4 1070.3 482.1 1069.4C477.9 1068.5 473.7 1067.2 469.9 1065.1C466.2 1062.9 462.5 1060 459.5 1056.4C456.6 1052.8 453.7 1048.3 452.1 1043.3C450.6 1038.4 450.6 1032.5 450.4 1026.8C450.2 1021.2 450.1 1015 450.8 1009.5C451.6 1004 452.6 998.6 454.8 993.8C456.9 989.1 460.2 984.4 463.9 980.8C467.6 977.3 471.6 974.3 476.9 972.6C482.2 970.8 489 970.4 495.5 970.4Z" fill="#f0b4b8"/>
<path d="M495.5 973.4C501.4 973.4 508.5 973.6 514.2 975.2C520 976.8 525.7 979.6 529.9 983C534 986.4 537 990.9 539 995.6C540.9 1000.3 541.3 1005.9 541.6 1011.2C541.9 1016.6 541.5 1022.2 540.7 1027.7C539.9 1033.2 538.8 1039.3 536.8 1044.2C534.9 1049.1 532.2 1053.8 529 1057.2C525.8 1060.7 521.6 1063.3 517.7 1065.1C513.8 1066.8 509.3 1067.2 505.6 1067.7C501.8 1068.2 499.1 1068.2 495.5 1068.1C491.9 1068 487.8 1068.2 483.8 1067.2C479.9 1066.3 475.3 1064.5 471.7 1062.4C468.1 1060.4 464.8 1058 462.1 1054.6C459.5 1051.3 457.1 1047.1 455.6 1042.5C454.2 1037.8 453.7 1032.3 453.4 1026.8C453.2 1021.3 453.6 1014.7 454.3 1009.5C455 1004.3 455.9 999.9 457.8 995.6C459.7 991.2 462.1 986.8 465.6 983.4C469.1 980.1 473.7 977.3 478.6 975.6C483.6 973.9 489.5 973.5 495.5 973.4Z" fill="#ffffff"/>
<path d="M499.5 979.8C503.1 979.8 507.1 979.8 510.8 980.8C514.4 981.9 518 983.6 521.2 986C524.4 988.5 527.6 992 529.9 995.6C532.2 999.2 534.1 1003.5 535.1 1007.7C536 1011.9 535.9 1016.4 535.5 1020.8C535.2 1025.1 534.3 1029.6 532.9 1033.8C531.5 1038 529.7 1042.3 527.3 1045.9C524.9 1049.6 521.8 1053 518.6 1055.5C515.4 1058 511.6 1059.7 508.2 1060.7C504.7 1061.7 501.4 1061.7 497.7 1061.6C494.1 1061.4 490.1 1061 486.4 1059.8C482.8 1058.7 479.2 1057.1 476 1054.6C472.8 1052.2 469.7 1048.8 467.3 1045.1C465 1041.3 462.9 1036.5 461.7 1032.1C460.5 1027.6 460.3 1022.8 460.4 1018.2C460.5 1013.5 460.8 1008.5 462.1 1004.3C463.4 1000.1 465.6 996.3 468.2 993C470.8 989.6 474.3 986.4 477.8 984.3C481.2 982.2 485.4 981.1 489.1 980.4C492.7 979.6 495.9 979.7 499.5 979.8Z" fill="#c4bcf8"/>
<path d="M499.5 983C502.8 983.1 506.6 983.2 509.9 984.3C513.2 985.4 516.6 987 519.4 989.5C522.3 992 525.2 995.7 527.3 999.1C529.3 1002.4 530.8 1005.9 531.6 1009.5C532.4 1013.1 532.3 1016.9 532 1020.8C531.8 1024.7 531.1 1029 529.9 1032.9C528.6 1036.8 526.8 1040.9 524.7 1044.2C522.5 1047.5 519.7 1050.7 516.8 1052.9C513.9 1055.1 510.6 1056.7 507.3 1057.7C504 1058.6 500.3 1058.7 496.9 1058.5C493.4 1058.4 489.8 1058 486.4 1056.8C483.1 1055.6 479.8 1054 476.9 1051.6C474 1049.2 471.2 1046 469.1 1042.5C467 1038.9 465.2 1034.5 464.3 1030.3C463.4 1026.1 463.2 1021.6 463.4 1017.3C463.7 1012.9 464.4 1008.2 465.6 1004.3C466.8 1000.4 468.5 996.7 470.8 993.8C473.1 990.9 476.3 988.6 479.5 986.9C482.7 985.2 486.6 984.1 489.9 983.4C493.3 982.8 496.1 982.8 499.5 983Z" fill="#8a78f4"/>
<path d="M498.6 986.9C501.5 987.1 505.3 987.2 508.2 988.2C511.1 989.2 513.5 990.9 516 993C518.4 995.1 521.1 997.9 522.9 1000.8C524.7 1003.7 526.1 1006.9 526.8 1010.3C527.6 1013.8 527.6 1018 527.3 1021.6C527 1025.3 526.3 1028.6 525.1 1032.1C523.9 1035.5 522.3 1039.6 520.3 1042.5C518.4 1045.4 516 1047.7 513.4 1049.4C510.8 1051.2 507.6 1052.2 504.7 1052.9C501.8 1053.6 499 1053.9 496 1053.8C493 1053.6 489.3 1053.2 486.4 1052C483.6 1050.9 481.1 1049.1 478.6 1046.8C476.2 1044.5 473.6 1041.5 471.7 1038.1C469.8 1034.8 468.2 1030.8 467.3 1026.8C466.5 1022.9 466.2 1018.6 466.5 1014.7C466.8 1010.8 467.6 1006.7 469.1 1003.4C470.5 1000.1 472.8 997.1 475.2 994.7C477.5 992.3 480.4 990.4 483 989.1C485.6 987.8 488.2 987.3 490.8 986.9C493.4 986.5 495.7 986.7 498.6 986.9Z" fill="#5408ff"/>
<path d="M497.7 997.3C500.5 997.5 503.2 997.9 505.6 999.1C507.9 1000.2 510 1002.1 511.6 1004.3C513.3 1006.4 514.7 1009.3 515.5 1012.1C516.3 1014.8 516.6 1017.7 516.4 1020.8C516.3 1023.8 515.7 1027.3 514.7 1030.3C513.7 1033.4 512.1 1036.7 510.3 1039C508.5 1041.3 506.2 1043.1 503.8 1044.2C501.4 1045.3 498.6 1045.6 496 1045.5C493.4 1045.4 490.6 1045 488.2 1043.8C485.7 1042.5 483.3 1040.5 481.2 1038.1C479.2 1035.7 477.2 1032.6 476 1029.4C474.9 1026.3 474.3 1022.4 474.3 1019C474.3 1015.7 474.9 1012.4 476 1009.5C477.2 1006.6 479.1 1003.6 481.2 1001.7C483.4 999.7 486.3 998.5 489.1 997.8C491.8 997 495 997.1 497.7 997.3Z" fill="#3a00e0"/>
<path d="M496 1006C498.2 1006.2 501 1006.3 502.9 1007.3C504.9 1008.3 506.7 1010.1 507.7 1012.1C508.7 1014 509 1016.6 509 1019C509 1021.5 508.6 1024.4 507.7 1026.8C506.9 1029.3 505.5 1032 503.8 1033.8C502.2 1035.6 499.9 1037 497.7 1037.7C495.6 1038.4 493.1 1038.6 490.8 1038.1C488.5 1037.6 485.7 1036.4 483.8 1034.7C482 1032.9 480.8 1030.2 479.9 1027.7C479.1 1025.3 478.6 1022.4 478.6 1019.9C478.7 1017.4 479.4 1014.9 480.4 1012.9C481.4 1011 483.1 1009.3 484.7 1008.2C486.3 1007 488 1006.5 489.9 1006.2C491.8 1005.8 493.8 1005.8 496 1006Z" fill="#26008c"/>
<path d="M492.1 1017.3C493.4 1017.2 495.4 1017.3 496.4 1018.2C497.4 1019 498.1 1021 498.2 1022.5C498.2 1024 497.8 1026.2 496.9 1027.3C495.9 1028.4 494 1029 492.5 1029C491.1 1029 489.1 1028.3 488.2 1027.3C487.2 1026.3 486.9 1024.4 486.9 1022.9C486.9 1021.5 487.5 1019.5 488.4 1018.6C489.2 1017.7 490.7 1017.4 492.1 1017.3Z" fill="#0a0030"/>
</g>
<circle cx="495.4" cy="1014.5" r="56.2" fill="none" stroke="#707070" stroke-width="1"/>
<path d="M489.8 958.8C490.9 945.5 499.9 945.5 501 958.8" fill="none" stroke="#707070" stroke-width="1"/>
<g fill="none" stroke="#303030" stroke-width="0.65"><circle cx="495.4" cy="963.4" r="1.3"/><circle cx="479.6" cy="965.8" r="1.3"/><circle cx="511.2" cy="965.8" r="1.3"/><circle cx="465.5" cy="973.2" r="1.3"/><circle cx="525.3" cy="973.2" r="1.3"/><circle cx="465.5" cy="1055.8" r="1.3"/><circle cx="525.3" cy="1055.8" r="1.3"/><circle cx="479.6" cy="975.6" r="1.3"/><circle cx="511.2" cy="975.6" r="1.3"/><circle cx="479.6" cy="1053.4" r="1.3"/><circle cx="511.2" cy="1053.4" r="1.3"/><circle cx="495.4" cy="976.6" r="1.3"/><circle cx="495.4" cy="1052.4" r="1.3"/><circle cx="454.4" cy="984.5" r="1.3"/><circle cx="536.4" cy="984.5" r="1.3"/><circle cx="454.4" cy="1044.5" r="1.3"/><circle cx="536.4" cy="1044.5" r="1.3"/><circle cx="463.9" cy="987" r="1.3"/><circle cx="526.9" cy="987" r="1.3"/><circle cx="463.9" cy="1042" r="1.3"/><circle cx="526.9" cy="1042" r="1.3"/><circle cx="474.2" cy="987.9" r="1.3"/><circle cx="516.6" cy="987.9" r="1.3"/><circle cx="474.2" cy="1041.1" r="1.3"/><circle cx="516.6" cy="1041.1" r="1.3"/><circle cx="485.1" cy="988.9" r="1.3"/><circle cx="505.7" cy="988.9" r="1.3"/><circle cx="485.1" cy="1040.1" r="1.3"/><circle cx="505.7" cy="1040.1" r="1.3"/><circle cx="495.4" cy="989" r="1.3"/><circle cx="495.4" cy="1040" r="1.3"/><circle cx="447.1" cy="998.7" r="1.3"/><circle cx="543.7" cy="998.7" r="1.3"/><circle cx="447.1" cy="1030.3" r="1.3"/><circle cx="543.7" cy="1030.3" r="1.3"/><circle cx="459" cy="1000.3" r="1.3"/><circle cx="531.8" cy="1000.3" r="1.3"/><circle cx="459" cy="1028.7" r="1.3"/><circle cx="531.8" cy="1028.7" r="1.3"/><circle cx="471.4" cy="1001" r="1.3"/><circle cx="519.4" cy="1001" r="1.3"/><circle cx="471.4" cy="1028" r="1.3"/><circle cx="519.4" cy="1028" r="1.3"/><circle cx="483.3" cy="1001.6" r="1.3"/><circle cx="507.5" cy="1001.6" r="1.3"/><circle cx="483.3" cy="1027.4" r="1.3"/><circle cx="507.5" cy="1027.4" r="1.3"/><circle cx="495.4" cy="1001.5" r="1.3"/><circle cx="495.4" cy="1027.5" r="1.3"/><circle cx="444.7" cy="1014.5" r="1.3"/><circle cx="457" cy="1014.5" r="1.3"/><circle cx="469.9" cy="1014.5" r="1.3"/><circle cx="482.4" cy="1014.5" r="1.3"/><circle cx="495.4" cy="1014.5" r="1.3"/><circle cx="508.4" cy="1014.5" r="1.3"/><circle cx="520.9" cy="1014.5" r="1.3"/><circle cx="533.8" cy="1014.5" r="1.3"/><circle cx="546.1" cy="1014.5" r="1.3"/><circle cx="495.4" cy="1065.3" r="1.3"/><circle cx="479.6" cy="1062.7" r="1.3"/><circle cx="511.2" cy="1062.7" r="1.3"/></g>
<clipPath id="tc1"><circle cx="805.4" cy="1018" r="56.2"/></clipPath>
<g clip-path="url(#tc1)">
<circle cx="805.4" cy="1018" r="56.2" fill="#b8000c"/>
<circle cx="808.6" cy="1016" r="55.6" fill="#e0000f"/>
<path d="M770.6 968.7C774.2 966.2 778.4 965.5 783.4 964.3C788.5 963.2 795 962.1 800.8 961.7C806.6 961.3 810.9 959.8 818.2 961.7C825.4 963.6 837 967.9 844.2 973C851.4 978.1 858.4 983.1 861.6 992.1C864.8 1001.1 863.8 1019.9 863.3 1026.8C862.9 1033.8 861.4 1031.5 859 1033.8C856.5 1036.1 852.5 1037.8 848.6 1040.7C844.6 1043.6 839.7 1048 835.5 1051.2C831.3 1054.3 826.6 1056.9 823.4 1059.8C820.2 1062.7 819.3 1065.9 816.4 1068.5C813.5 1071.1 809.5 1074.6 806 1075.5C802.5 1076.3 799.1 1076.1 795.6 1073.7C792.1 1071.4 788.9 1065.8 785.2 1061.6C781.4 1057.4 776.3 1052.9 773 1048.6C769.7 1044.2 767.1 1040.6 765.2 1035.5C763.3 1030.5 762.5 1023.9 761.7 1018.2C760.9 1012.4 760.9 1005.7 760.4 1000.8C759.9 995.9 758.5 992.3 758.7 988.6C758.9 985 759.7 982.4 761.7 979.1C763.7 975.8 767 971.1 770.6 968.7Z" fill="#e0606c"/>
<path d="M773 968.7C776.9 965.2 786 963.7 792.1 962.6C798.2 961.4 802.2 960.8 809.5 961.7C816.7 962.6 826.8 962.7 835.5 967.8C844.2 972.9 856.9 982.6 861.6 992.1C866.2 1001.7 863.6 1019 863.3 1025.1C863 1031.2 862.3 1026.6 859.8 1028.6C857.4 1030.6 852.6 1034.2 848.6 1037.3C844.5 1040.3 839.9 1043.8 835.5 1046.8C831.2 1049.9 826.1 1053 822.5 1055.5C818.9 1058 817.4 1060.3 813.8 1061.6C810.2 1062.9 805 1063.8 800.8 1063.3C796.6 1062.9 792.7 1061.4 788.6 1059C784.6 1056.5 779.8 1052.5 776.5 1048.6C773.1 1044.6 770.5 1040.6 768.7 1035.5C766.8 1030.5 765.8 1024.7 765.2 1018.2C764.6 1011.6 764.6 1002.2 765.2 996.4C765.8 990.7 767.4 988.1 768.7 983.4C770 978.8 769.1 972.1 773 968.7Z" fill="#f0b4b8"/>
<path d="M810.3 962.4C815.6 961.2 820.5 962.8 826.8 965.2C833.2 967.5 842.8 971.3 848.6 976.5C854.3 981.7 859.2 989.2 861.6 996.4C864 1003.7 863.1 1015.4 862.9 1019.9C862.7 1024.4 862.7 1021.3 860.3 1023.4C857.9 1025.4 852.7 1029.2 848.6 1032.1C844.4 1034.9 839.9 1037.8 835.5 1040.7C831.2 1043.6 826.4 1047.1 822.5 1049.4C818.6 1051.7 816 1053.6 812.1 1054.6C808.2 1055.6 803.5 1056.2 799.1 1055.5C794.6 1054.8 789.2 1052.9 785.2 1050.3C781.1 1047.7 777.3 1043.8 774.7 1039.9C772.2 1036 770.8 1031.9 770 1026.8C769.1 1021.8 769 1014.7 769.5 1009.5C770 1004.3 771 999.9 773 995.6C775 991.2 777.9 987.3 781.7 983.4C785.4 979.5 790.8 975.6 795.6 972.1C800.4 968.6 805.1 963.6 810.3 962.4Z" fill="#ffffff"/>
<path d="M835.5 972.6C840.4 974.3 848.6 980.5 852.9 985.2C857.2 989.9 860.1 995.3 861.6 1000.8C863 1006.3 863 1014.1 861.6 1018.2C860.1 1022.2 856.5 1022.8 852.9 1025.1C849.3 1027.4 844.2 1029.6 839.9 1032.1C835.5 1034.5 830.8 1037.6 826.8 1039.9C822.9 1042.2 819.9 1044.5 816.4 1045.9C812.9 1047.4 809.8 1048.6 806 1048.6C802.2 1048.6 797.6 1047.7 793.8 1045.9C790.1 1044.2 786.2 1041.3 783.4 1038.1C780.7 1034.9 778.7 1030.9 777.3 1026.8C776 1022.8 775.2 1017.9 775.2 1013.8C775.2 1009.8 775.7 1006.1 777.3 1002.5C779 998.9 782 995.3 785.2 992.1C788.3 988.9 792.4 985.9 796.4 983.4C800.5 981 805 978.8 809.5 977.3C814 975.9 819 975.5 823.4 974.7C827.7 973.9 830.6 970.8 835.5 972.6Z" fill="#c4bcf8"/>
<path d="M835.5 979.5C839.9 980.4 845.2 982.3 848.6 985.2C851.9 988 854.5 992.4 855.5 996.4C856.5 1000.5 855.4 1005.9 854.6 1009.5C853.9 1013.1 853.6 1015.3 851.2 1018.2C848.7 1021.1 843.9 1023.9 839.9 1026.8C835.8 1029.7 830.9 1033 826.8 1035.5C822.8 1038.1 819.3 1040.6 815.6 1042C811.8 1043.5 808.2 1044.1 804.3 1044.2C800.4 1044.3 795.6 1044.1 792.1 1042.5C788.6 1040.9 785.6 1037.8 783.4 1034.7C781.3 1031.5 779.7 1027.3 779.1 1023.4C778.4 1019.5 778.2 1015.3 779.5 1011.2C780.8 1007.2 783.9 1002.8 786.9 999.1C789.9 995.3 793.6 991.5 797.3 988.6C801.1 985.7 805.3 983.1 809.5 981.7C813.7 980.2 818.2 980.3 822.5 979.9C826.8 979.6 831.2 978.6 835.5 979.5Z" fill="#8a78f4"/>
<path d="M816.4 986C820.5 986 825.7 987.3 829.4 988.6C833.2 989.9 836.7 991.8 839 993.8C841.3 995.9 842.6 998.2 843.3 1000.8C844.1 1003.4 844.2 1006.1 843.3 1009.5C842.5 1012.8 840.9 1017.6 838.1 1020.8C835.4 1023.9 830.8 1026.1 826.8 1028.6C822.9 1031 818.6 1033.9 814.7 1035.5C810.8 1037.1 807.2 1038.3 803.4 1038.1C799.6 1038 795.1 1036.5 792.1 1034.7C789.1 1032.8 786.6 1029.9 785.2 1026.8C783.7 1023.8 783.3 1019.9 783.4 1016.4C783.6 1012.9 784.3 1009.3 786 1006C787.8 1002.7 790.7 999.3 793.8 996.4C797 993.6 801.4 990.4 805.1 988.6C808.9 986.9 812.4 986 816.4 986Z" fill="#5408ff"/>
<path d="M809.5 995.6C813.2 994.6 817 995.9 819.9 997.3C822.8 998.8 825.8 1001.4 826.8 1004.3C827.9 1007.2 827.4 1011.5 826 1014.7C824.5 1017.9 821.2 1020.9 818.2 1023.4C815.1 1025.8 811.4 1028.4 807.7 1029.4C804.1 1030.5 799.3 1030.6 796.4 1029.4C793.6 1028.3 791.2 1025.3 790.4 1022.5C789.5 1019.8 790.1 1016.1 791.2 1012.9C792.4 1009.8 794.3 1006.3 797.3 1003.4C800.4 1000.5 805.7 996.6 809.5 995.6Z" fill="#4a00f8"/>
</g>
<circle cx="805.4" cy="1018" r="56.2" fill="none" stroke="#707070" stroke-width="1"/>
<path d="M799.8 962.3C800.9 949 809.9 949 811 962.3" fill="none" stroke="#707070" stroke-width="1"/>
<g fill="none" stroke="#303030" stroke-width="0.65"><circle cx="805.4" cy="966.9" r="1.3"/><circle cx="789.6" cy="969.3" r="1.3"/><circle cx="821.2" cy="969.3" r="1.3"/><circle cx="775.5" cy="976.7" r="1.3"/><circle cx="835.3" cy="976.7" r="1.3"/><circle cx="775.5" cy="1059.3" r="1.3"/><circle cx="835.3" cy="1059.3" r="1.3"/><circle cx="789.6" cy="979.1" r="1.3"/><circle cx="821.2" cy="979.1" r="1.3"/><circle cx="789.6" cy="1056.9" r="1.3"/><circle cx="821.2" cy="1056.9" r="1.3"/><circle cx="805.4" cy="980.1" r="1.3"/><circle cx="805.4" cy="1055.9" r="1.3"/><circle cx="764.4" cy="988" r="1.3"/><circle cx="846.4" cy="988" r="1.3"/><circle cx="764.4" cy="1048" r="1.3"/><circle cx="846.4" cy="1048" r="1.3"/><circle cx="773.9" cy="990.5" r="1.3"/><circle cx="836.9" cy="990.5" r="1.3"/><circle cx="773.9" cy="1045.5" r="1.3"/><circle cx="836.9" cy="1045.5" r="1.3"/><circle cx="784.2" cy="991.4" r="1.3"/><circle cx="826.6" cy="991.4" r="1.3"/><circle cx="784.2" cy="1044.6" r="1.3"/><circle cx="826.6" cy="1044.6" r="1.3"/><circle cx="795.1" cy="992.4" r="1.3"/><circle cx="815.7" cy="992.4" r="1.3"/><circle cx="795.1" cy="1043.6" r="1.3"/><circle cx="815.7" cy="1043.6" r="1.3"/><circle cx="805.4" cy="992.5" r="1.3"/><circle cx="805.4" cy="1043.5" r="1.3"/><circle cx="757.1" cy="1002.2" r="1.3"/><circle cx="853.7" cy="1002.2" r="1.3"/><circle cx="757.1" cy="1033.8" r="1.3"/><circle cx="853.7" cy="1033.8" r="1.3"/><circle cx="769" cy="1003.8" r="1.3"/><circle cx="841.8" cy="1003.8" r="1.3"/><circle cx="769" cy="1032.2" r="1.3"/><circle cx="841.8" cy="1032.2" r="1.3"/><circle cx="781.4" cy="1004.5" r="1.3"/><circle cx="829.4" cy="1004.5" r="1.3"/><circle cx="781.4" cy="1031.5" r="1.3"/><circle cx="829.4" cy="1031.5" r="1.3"/><circle cx="793.3" cy="1005.1" r="1.3"/><circle cx="817.5" cy="1005.1" r="1.3"/><circle cx="793.3" cy="1030.9" r="1.3"/><circle cx="817.5" cy="1030.9" r="1.3"/><circle cx="805.4" cy="1005" r="1.3"/><circle cx="805.4" cy="1031" r="1.3"/><circle cx="754.7" cy="1018" r="1.3"/><circle cx="767" cy="1018" r="1.3"/><circle cx="779.9" cy="1018" r="1.3"/><circle cx="792.4" cy="1018" r="1.3"/><circle cx="805.4" cy="1018" r="1.3"/><circle cx="818.4" cy="1018" r="1.3"/><circle cx="830.9" cy="1018" r="1.3"/><circle cx="843.8" cy="1018" r="1.3"/><circle cx="856.1" cy="1018" r="1.3"/><circle cx="805.4" cy="1068.8" r="1.3"/><circle cx="789.6" cy="1066.2" r="1.3"/><circle cx="821.2" cy="1066.2" r="1.3"/></g>
<clipPath id="tc2"><circle cx="1077.8" cy="1019" r="54.8"/></clipPath>
<g clip-path="url(#tc2)">
<circle cx="1077.8" cy="1019" r="54.8" fill="#dc0a20"/>
<path d="M1001.3 931.3C1022.6 917.6 1124.3 911.2 1148.9 931.3C1173.6 951.4 1153.6 1032.1 1148.9 1052C1144.3 1072 1127.7 1051.6 1121.2 1051.2C1114.6 1050.7 1113.9 1050.3 1109.9 1049.4C1105.8 1048.6 1100.8 1047.4 1096.8 1045.9C1092.9 1044.5 1089.9 1042.3 1086.4 1040.7C1082.9 1039.1 1079.3 1037.1 1076 1036.4C1072.7 1035.7 1070.2 1036.1 1066.4 1036.4C1062.7 1036.7 1057.5 1038.1 1053.4 1038.1C1049.4 1038.1 1045.2 1038.3 1042.1 1036.4C1039.1 1034.5 1037.2 1029.9 1035.2 1026.8C1033.2 1023.8 1032.3 1020.3 1030 1018.2C1027.7 1016 1026.1 1028.3 1021.3 1013.8C1016.5 999.3 980 945.1 1001.3 931.3Z" fill="#e0606c"/>
<path d="M1001.3 931.3C1022.6 918.9 1124.3 912.6 1148.9 931.3C1173.6 950 1152.6 1024.7 1148.9 1043.3C1145.3 1061.9 1131.9 1042.9 1126.8 1042.9C1121.7 1042.9 1122.1 1043.4 1118.6 1043.3C1115 1043.3 1109.4 1043.2 1105.5 1042.5C1101.6 1041.8 1098.4 1040.7 1095.1 1039C1091.8 1037.3 1088.7 1033.8 1085.6 1032.1C1082.4 1030.3 1079.6 1028.9 1076 1028.6C1072.4 1028.3 1067.9 1029.7 1063.8 1030.3C1059.8 1030.9 1055.4 1032.3 1051.7 1032.1C1047.9 1031.8 1043.9 1030.9 1041.3 1028.6C1038.7 1026.3 1037.6 1021.5 1036.1 1018.2C1034.5 1014.8 1034.2 1010.6 1031.7 1008.6C1029.3 1006.6 1026.4 1018.9 1021.3 1006C1016.2 993.1 980 943.8 1001.3 931.3Z" fill="#f0b4b8"/>
<path d="M1001.3 931.3C1022.6 920 1124.3 913.8 1148.9 931.3C1173.6 948.8 1152.3 1018.9 1148.9 1036.4C1145.6 1053.9 1134.8 1036.3 1129 1036.4C1123.2 1036.5 1118.8 1037.3 1114.2 1037.3C1109.6 1037.3 1104.8 1037.3 1101.2 1036.4C1097.6 1035.5 1095.4 1033.9 1092.5 1032.1C1089.6 1030.2 1086.7 1026.6 1083.8 1025.1C1080.9 1023.7 1078.8 1023.2 1075.1 1023.4C1071.5 1023.5 1066.2 1025.4 1062.1 1026C1058.1 1026.6 1054 1027.7 1050.8 1026.8C1047.6 1026 1045 1023.7 1043 1020.8C1041 1017.9 1040.4 1012.8 1038.7 1009.5C1036.9 1006.1 1035.5 1002.5 1032.6 1000.8C1029.7 999.1 1026.5 1010.6 1021.3 999.1C1016.1 987.5 980 942.6 1001.3 931.3Z" fill="#ffffff"/>
<path d="M1001.3 931.3C1022.6 922.3 1124.3 915.4 1148.9 931.3C1173.6 947.2 1151.8 1010.9 1148.9 1026.8C1146.1 1042.8 1137.1 1026.4 1132 1026.8C1126.9 1027.3 1122.7 1029.4 1118.6 1029.4C1114.4 1029.4 1110.4 1028.3 1107.3 1026.8C1104.1 1025.4 1102.2 1022.8 1099.4 1020.8C1096.7 1018.7 1094.1 1016.1 1090.8 1014.7C1087.4 1013.2 1083.5 1012.8 1079.5 1012.1C1075.4 1011.4 1069.5 1011.4 1066.4 1010.3C1063.4 1009.3 1062.5 1008.3 1061.2 1006C1059.9 1003.7 1059.8 999.3 1058.6 996.4C1057.5 993.6 1056.3 990.4 1054.3 988.6C1052.3 986.9 1049.5 986.6 1046.5 986C1043.4 985.4 1040.3 985.3 1036.1 985.2C1031.9 985 1027.1 994.1 1021.3 985.2C1015.5 976.2 980 940.3 1001.3 931.3Z" fill="#c4bcf8"/>
<path d="M1001.3 931.3C1021.6 924.2 1124.3 916.3 1148.9 931.3C1173.6 946.4 1151.8 1006.6 1148.9 1021.6C1146.1 1036.7 1136.4 1021.3 1131.6 1021.6C1126.8 1021.9 1123.9 1023.4 1120.3 1023.4C1116.7 1023.4 1112.9 1023.1 1109.9 1021.6C1106.8 1020.2 1104.8 1016.9 1102.1 1014.7C1099.3 1012.5 1096.4 1010.1 1093.4 1008.6C1090.3 1007.2 1087.3 1007 1083.8 1006C1080.3 1005 1075.3 1004.3 1072.5 1002.5C1069.8 1000.8 1068.3 998.5 1067.3 995.6C1066.3 992.7 1067 988.3 1066.4 985.2C1065.9 982 1065.7 978.2 1063.8 976.5C1062 974.7 1058.2 975.1 1055.2 974.7C1052.1 974.4 1050.2 974.4 1045.6 974.3C1041 974.2 1034.8 981.5 1027.4 974.3C1020 967.1 981.1 938.5 1001.3 931.3Z" fill="#8a78f4"/>
<path d="M1082.9 957.4C1094.1 951.8 1137.9 921.8 1148.9 931.3C1159.9 940.9 1151.8 1000.8 1148.9 1014.7C1146.1 1028.6 1136.4 1014.3 1131.6 1014.7C1126.8 1015.1 1123.5 1017.3 1120.3 1017.3C1117.1 1017.3 1115.2 1016.4 1112.5 1014.7C1109.7 1012.9 1107.1 1008.9 1103.8 1006.9C1100.5 1004.8 1096.6 1003.7 1092.5 1002.5C1088.4 1001.4 1082.5 1001.4 1079.5 999.9C1076.4 998.5 1075.3 996.6 1074.3 993.8C1073.3 991.1 1073.1 986.9 1073.4 983.4C1073.7 979.9 1074.6 976.1 1076 973C1077.4 969.9 1080.9 967.4 1082.1 964.8C1083.2 962.1 1071.8 962.9 1082.9 957.4Z" fill="#4400ff"/>
<path d="M1096.8 977.3C1100.2 976.9 1106.1 975.8 1109.9 976.5C1113.6 977.2 1117.5 979.4 1119.4 981.7C1121.3 984 1122 988.2 1121.2 990.4C1120.3 992.5 1117.5 993.8 1114.2 994.7C1110.9 995.6 1105.1 996 1101.2 995.6C1097.3 995.1 1093.2 993.8 1090.8 992.1C1088.3 990.4 1086.6 987.3 1086.4 985.2C1086.3 983 1088.2 980.4 1089.9 979.1C1091.6 977.8 1093.5 977.8 1096.8 977.3Z" fill="#2c00c4"/>
<path d="M1056.9 1044.2C1060.1 1042.3 1066.7 1043.3 1070.8 1043.3C1074.8 1043.3 1077.6 1042.9 1081.2 1044.2C1084.8 1045.5 1090.3 1048.6 1092.5 1051.2C1094.7 1053.8 1095.3 1057.1 1094.2 1059.8C1093.2 1062.6 1090.3 1065.3 1086.4 1067.7C1082.5 1070 1076 1073.6 1070.8 1073.7C1065.6 1073.9 1058.3 1071.7 1055.2 1068.5C1052 1065.3 1051.4 1058.7 1051.7 1054.6C1052 1050.6 1053.7 1046.1 1056.9 1044.2Z" fill="#e40000"/>
<path d="M1036.1 1052C1038.4 1051.3 1045 1051.9 1049.1 1052.9C1053.1 1053.9 1058.8 1056.4 1060.4 1058.1C1062 1059.8 1060.2 1062 1058.6 1063.3C1057 1064.6 1053.7 1065.9 1050.8 1065.9C1047.9 1065.9 1043.9 1064.8 1041.3 1063.3C1038.7 1061.9 1036.1 1059.1 1035.2 1057.2C1034.3 1055.4 1033.7 1052.8 1036.1 1052Z" fill="#b80008"/>
</g>
<circle cx="1077.8" cy="1019" r="54.8" fill="none" stroke="#707070" stroke-width="1"/>
<path d="M1072.3 964.7C1073.4 951.7 1082.2 951.7 1083.3 964.7" fill="none" stroke="#707070" stroke-width="1"/>
<g fill="none" stroke="#303030" stroke-width="0.65"><circle cx="1077.8" cy="969.2" r="1.3"/><circle cx="1062.4" cy="971.5" r="1.3"/><circle cx="1093.2" cy="971.5" r="1.3"/><circle cx="1048.6" cy="978.8" r="1.3"/><circle cx="1107" cy="978.8" r="1.3"/><circle cx="1048.6" cy="1059.2" r="1.3"/><circle cx="1107" cy="1059.2" r="1.3"/><circle cx="1062.4" cy="981.1" r="1.3"/><circle cx="1093.2" cy="981.1" r="1.3"/><circle cx="1062.4" cy="1056.9" r="1.3"/><circle cx="1093.2" cy="1056.9" r="1.3"/><circle cx="1077.8" cy="982.1" r="1.3"/><circle cx="1077.8" cy="1055.9" r="1.3"/><circle cx="1037.8" cy="989.8" r="1.3"/><circle cx="1117.8" cy="989.8" r="1.3"/><circle cx="1037.8" cy="1048.2" r="1.3"/><circle cx="1117.8" cy="1048.2" r="1.3"/><circle cx="1047.1" cy="992.1" r="1.3"/><circle cx="1108.5" cy="992.1" r="1.3"/><circle cx="1047.1" cy="1045.9" r="1.3"/><circle cx="1108.5" cy="1045.9" r="1.3"/><circle cx="1057.1" cy="993" r="1.3"/><circle cx="1098.5" cy="993" r="1.3"/><circle cx="1057.1" cy="1045" r="1.3"/><circle cx="1098.5" cy="1045" r="1.3"/><circle cx="1067.7" cy="994" r="1.3"/><circle cx="1087.9" cy="994" r="1.3"/><circle cx="1067.7" cy="1044" r="1.3"/><circle cx="1087.9" cy="1044" r="1.3"/><circle cx="1077.8" cy="994.2" r="1.3"/><circle cx="1077.8" cy="1043.8" r="1.3"/><circle cx="1030.7" cy="1003.6" r="1.3"/><circle cx="1124.9" cy="1003.6" r="1.3"/><circle cx="1030.7" cy="1034.4" r="1.3"/><circle cx="1124.9" cy="1034.4" r="1.3"/><circle cx="1042.3" cy="1005.2" r="1.3"/><circle cx="1113.3" cy="1005.2" r="1.3"/><circle cx="1042.3" cy="1032.8" r="1.3"/><circle cx="1113.3" cy="1032.8" r="1.3"/><circle cx="1054.4" cy="1005.8" r="1.3"/><circle cx="1101.2" cy="1005.8" r="1.3"/><circle cx="1054.4" cy="1032.2" r="1.3"/><circle cx="1101.2" cy="1032.2" r="1.3"/><circle cx="1066" cy="1006.5" r="1.3"/><circle cx="1089.6" cy="1006.5" r="1.3"/><circle cx="1066" cy="1031.5" r="1.3"/><circle cx="1089.6" cy="1031.5" r="1.3"/><circle cx="1077.8" cy="1006.3" r="1.3"/><circle cx="1077.8" cy="1031.7" r="1.3"/><circle cx="1028.3" cy="1019" r="1.3"/><circle cx="1040.4" cy="1019" r="1.3"/><circle cx="1052.9" cy="1019" r="1.3"/><circle cx="1065.1" cy="1019" r="1.3"/><circle cx="1077.8" cy="1019" r="1.3"/><circle cx="1090.5" cy="1019" r="1.3"/><circle cx="1102.7" cy="1019" r="1.3"/><circle cx="1115.2" cy="1019" r="1.3"/><circle cx="1127.3" cy="1019" r="1.3"/><circle cx="1077.8" cy="1068.5" r="1.3"/><circle cx="1062.4" cy="1066" r="1.3"/><circle cx="1093.2" cy="1066" r="1.3"/></g>
<clipPath id="tc3"><circle cx="494.3" cy="2344.6" r="56.5"/></clipPath>
<g clip-path="url(#tc3)">
<circle cx="494.3" cy="2344.6" r="56.5" fill="#c6befa"/>
<path d="M447.4 2325.6C450 2321.2 453.7 2315.7 457.8 2311.7C461.8 2307.6 467.1 2303.8 471.7 2301.3C476.3 2298.7 480.9 2297.4 485.6 2296.5C490.2 2295.5 494.8 2295.4 499.5 2295.6C504.1 2295.8 509 2296.4 513.4 2297.8C517.7 2299.2 521.6 2301.3 525.5 2303.9C529.4 2306.5 533.8 2309.8 536.8 2313.4C539.9 2317 542.1 2321.2 543.8 2325.6C545.4 2329.9 546.4 2334.3 546.8 2339.5C547.2 2344.7 547 2351.8 546.4 2356.8C545.7 2361.9 544.5 2365.8 542.9 2369.9C541.3 2373.9 539.7 2377.3 536.8 2381.2C533.9 2385.1 530 2390.1 525.5 2393.3C521 2396.5 515.1 2399 509.9 2400.3C504.7 2401.6 499.5 2401.3 494.3 2401.1C489.1 2401 483.6 2400.6 478.6 2399.4C473.7 2398.2 468.8 2396.5 464.7 2394.2C460.7 2391.9 457.2 2388.8 454.3 2385.5C451.4 2382.2 449.3 2378.3 447.4 2374.2C445.5 2370.2 444 2365.5 443 2361.2C442 2356.8 441.4 2352.1 441.3 2348.2C441.1 2344.3 441.1 2341.5 442.2 2337.7C443.2 2334 444.8 2329.9 447.4 2325.6Z" fill="#8a78f4"/>
<path d="M452.6 2330.8C455.2 2325.6 460.4 2319.2 464.7 2315.2C469.1 2311.1 473.7 2308.4 478.6 2306.5C483.6 2304.6 489.3 2304.2 494.3 2303.9C499.2 2303.6 503.7 2303.9 508.2 2304.7C512.6 2305.6 517.1 2306.8 521.2 2309.1C525.2 2311.4 529.4 2315 532.5 2318.6C535.5 2322.3 537.8 2326.4 539.4 2330.8C541 2335.1 541.7 2339.6 542 2344.7C542.3 2349.8 542 2356.3 541.2 2361.2C540.3 2366.1 539 2370.3 536.8 2374.2C534.6 2378.1 531.8 2381.4 528.1 2384.6C524.5 2387.8 520.2 2391.3 515.1 2393.3C510 2395.3 503.2 2396.6 497.7 2396.8C492.2 2396.9 487 2395.8 482.1 2394.2C477.2 2392.6 472.3 2390.3 468.2 2387.2C464.2 2384.2 460.7 2380.1 457.8 2375.9C454.9 2371.8 452.3 2367 450.8 2362.1C449.4 2357.1 448.8 2351.6 449.1 2346.4C449.4 2341.2 450 2336 452.6 2330.8Z" fill="#5408ff"/>
<path d="M494.3 2312.6C498.6 2312.6 505.3 2312.7 509.9 2314.3C514.5 2315.9 518.4 2318.9 522.1 2322.1C525.7 2325.3 529.6 2329.1 531.6 2333.4C533.6 2337.7 534.1 2343.1 534.2 2348.2C534.4 2353.2 533.9 2359 532.5 2363.8C531 2368.6 528.7 2373.2 525.5 2376.8C522.3 2380.4 518 2383.5 513.4 2385.5C508.7 2387.5 502.9 2388.8 497.7 2389C492.5 2389.1 486.7 2388.1 482.1 2386.4C477.5 2384.6 473.4 2382 469.9 2378.6C466.5 2375.1 463.1 2370.3 461.3 2365.5C459.4 2360.8 458.4 2355.1 458.7 2349.9C458.9 2344.7 460.5 2339 463 2334.3C465.5 2329.5 469.9 2324.6 473.4 2321.2C476.9 2317.9 480.4 2315.7 483.8 2314.3C487.3 2312.8 489.9 2312.6 494.3 2312.6Z" fill="#3c00ff"/>
<path d="M497.7 2323C502.5 2322.7 507.1 2323.8 510.8 2325.6C514.4 2327.3 517.4 2329.9 519.4 2333.4C521.5 2336.9 522.5 2341.6 522.9 2346.4C523.4 2351.2 523.4 2357.4 522.1 2362.1C520.8 2366.7 518.3 2371 515.1 2374.2C511.9 2377.4 507.3 2380 502.9 2381.2C498.6 2382.3 493.4 2382 489.1 2381.2C484.7 2380.3 480.2 2378.7 476.9 2375.9C473.6 2373.2 470.7 2368.9 469.1 2364.7C467.5 2360.5 466.9 2355.3 467.3 2350.8C467.8 2346.3 469.2 2341.6 471.7 2337.7C474.1 2333.8 477.8 2329.8 482.1 2327.3C486.4 2324.9 493 2323.3 497.7 2323Z" fill="#2c00c6"/>
<path d="M493.4 2338.6C495.9 2338.6 500.1 2338.2 502.1 2339.5C504.1 2340.8 505.1 2343.5 505.6 2346.4C506 2349.3 505.7 2353.9 504.7 2356.8C503.7 2359.7 501.8 2362.2 499.5 2363.8C497.2 2365.4 493.7 2366.7 490.8 2366.4C487.9 2366.1 484.1 2364.2 482.1 2362.1C480.1 2359.9 478.8 2356.4 478.6 2353.4C478.5 2350.3 479.8 2346.1 481.2 2343.8C482.7 2341.5 485.3 2340.3 487.3 2339.5C489.3 2338.6 490.9 2338.6 493.4 2338.6Z" fill="#22007a"/>
</g>
<circle cx="494.3" cy="2344.6" r="56.5" fill="none" stroke="#707070" stroke-width="1"/>
<path d="M488.7 2288.7C489.8 2275.3 498.8 2275.3 499.9 2288.7" fill="none" stroke="#707070" stroke-width="1"/>
<g fill="none" stroke="#303030" stroke-width="0.65"><circle cx="494.3" cy="2293.3" r="1.3"/><circle cx="478.4" cy="2295.7" r="1.3"/><circle cx="510.2" cy="2295.7" r="1.3"/><circle cx="464.3" cy="2303.2" r="1.3"/><circle cx="524.3" cy="2303.2" r="1.3"/><circle cx="464.3" cy="2386" r="1.3"/><circle cx="524.3" cy="2386" r="1.3"/><circle cx="478.4" cy="2305.5" r="1.3"/><circle cx="510.2" cy="2305.5" r="1.3"/><circle cx="478.4" cy="2383.7" r="1.3"/><circle cx="510.2" cy="2383.7" r="1.3"/><circle cx="494.3" cy="2306.6" r="1.3"/><circle cx="494.3" cy="2382.6" r="1.3"/><circle cx="453.1" cy="2314.5" r="1.3"/><circle cx="535.5" cy="2314.5" r="1.3"/><circle cx="453.1" cy="2374.7" r="1.3"/><circle cx="535.5" cy="2374.7" r="1.3"/><circle cx="462.7" cy="2316.9" r="1.3"/><circle cx="525.9" cy="2316.9" r="1.3"/><circle cx="462.7" cy="2372.3" r="1.3"/><circle cx="525.9" cy="2372.3" r="1.3"/><circle cx="473" cy="2317.8" r="1.3"/><circle cx="515.6" cy="2317.8" r="1.3"/><circle cx="473" cy="2371.4" r="1.3"/><circle cx="515.6" cy="2371.4" r="1.3"/><circle cx="483.9" cy="2318.9" r="1.3"/><circle cx="504.7" cy="2318.9" r="1.3"/><circle cx="483.9" cy="2370.3" r="1.3"/><circle cx="504.7" cy="2370.3" r="1.3"/><circle cx="494.3" cy="2319" r="1.3"/><circle cx="494.3" cy="2370.2" r="1.3"/><circle cx="445.8" cy="2328.7" r="1.3"/><circle cx="542.8" cy="2328.7" r="1.3"/><circle cx="445.8" cy="2360.5" r="1.3"/><circle cx="542.8" cy="2360.5" r="1.3"/><circle cx="457.7" cy="2330.4" r="1.3"/><circle cx="530.9" cy="2330.4" r="1.3"/><circle cx="457.7" cy="2358.8" r="1.3"/><circle cx="530.9" cy="2358.8" r="1.3"/><circle cx="470.2" cy="2331.1" r="1.3"/><circle cx="518.4" cy="2331.1" r="1.3"/><circle cx="470.2" cy="2358.1" r="1.3"/><circle cx="518.4" cy="2358.1" r="1.3"/><circle cx="482.2" cy="2331.7" r="1.3"/><circle cx="506.4" cy="2331.7" r="1.3"/><circle cx="482.2" cy="2357.5" r="1.3"/><circle cx="506.4" cy="2357.5" r="1.3"/><circle cx="494.3" cy="2331.5" r="1.3"/><circle cx="494.3" cy="2357.7" r="1.3"/><circle cx="443.3" cy="2344.6" r="1.3"/><circle cx="455.7" cy="2344.6" r="1.3"/><circle cx="468.7" cy="2344.6" r="1.3"/><circle cx="481.2" cy="2344.6" r="1.3"/><circle cx="494.3" cy="2344.6" r="1.3"/><circle cx="507.4" cy="2344.6" r="1.3"/><circle cx="519.9" cy="2344.6" r="1.3"/><circle cx="532.9" cy="2344.6" r="1.3"/><circle cx="545.3" cy="2344.6" r="1.3"/><circle cx="494.3" cy="2395.6" r="1.3"/><circle cx="478.4" cy="2393" r="1.3"/><circle cx="510.2" cy="2393" r="1.3"/></g>
<clipPath id="tc4"><circle cx="810.8" cy="2348" r="60.6"/></clipPath>
<g clip-path="url(#tc4)">
<circle cx="810.8" cy="2348" r="60.6" fill="#ffffff"/>
<path d="M763.4 2313.6C768.4 2316.4 761.1 2324.5 760.6 2330.5C760 2336.4 759.8 2343.7 760.1 2349.2C760.4 2354.6 760.8 2358.5 762.4 2363.2C764.1 2367.9 767 2372.5 769.9 2377.2C772.9 2381.9 776.9 2387.2 780.2 2391.3C783.5 2395.3 786.6 2398.3 789.6 2401.5C792.5 2404.8 790.7 2409.3 798 2410.9C805.3 2412.4 826.3 2413.4 833.5 2410.9C840.7 2408.4 838.7 2400.3 841 2395.9C843.3 2391.6 844.9 2388.6 847.5 2384.7C850.2 2380.8 854.1 2376.9 856.9 2372.5C859.7 2368.2 861.3 2363.5 864.4 2358.5C867.5 2353.5 873.7 2359.8 875.6 2342.6C877.5 2325.5 899.8 2270.1 875.6 2255.6C851.4 2241.2 754.8 2246 730.6 2255.6C706.5 2265.3 725.2 2304 730.6 2313.6C736.1 2323.3 758.4 2310.8 763.4 2313.6Z" fill="#c6befa"/>
<path d="M864.4 2309.9C861 2306.1 856.6 2301.2 852.2 2298.7C847.9 2296.2 842.9 2295.6 838.2 2294.9C833.5 2294.2 828.4 2293.8 824.2 2294.5C820 2295.1 816.8 2296.4 812.9 2298.7C809 2300.9 804.8 2304.7 800.8 2308C796.7 2311.3 792.2 2315.3 788.6 2318.3C785 2321.3 782.1 2322.5 779.3 2325.8C776.5 2329.1 773.4 2333.7 771.8 2337.9C770.2 2342.2 769.8 2346.4 769.9 2351C770.1 2355.7 770.9 2361.2 772.7 2366C774.6 2370.8 777.9 2376 781.1 2380C784.4 2384.1 788.3 2387.7 792.4 2390.3C796.4 2393 800.9 2395 805.5 2395.9C810 2396.9 815.3 2396.9 819.5 2395.9C823.7 2395 826.8 2393 830.7 2390.3C834.6 2387.7 838.5 2384.1 842.9 2380C847.2 2376 853 2370.7 856.9 2366C860.8 2361.3 863.6 2356.3 866.3 2352C868.9 2347.6 871.7 2345 872.8 2339.8C873.9 2334.7 874.2 2326.1 872.8 2321.1C871.4 2316.1 867.8 2313.6 864.4 2309.9Z" fill="#8a78f4"/>
<path d="M824.2 2309C828.1 2309 834.1 2310 838.2 2311.8C842.2 2313.5 846 2316.1 848.5 2319.2C851 2322.4 852.4 2326.3 853.2 2330.5C853.9 2334.7 853.9 2340.1 853.2 2344.5C852.4 2348.9 850.8 2352.8 848.5 2356.6C846.1 2360.5 842.6 2364.4 839.1 2367.9C835.7 2371.3 832 2374.8 827.9 2377.2C823.9 2379.6 819.3 2381.6 814.8 2382.4C810.3 2383.1 805.2 2383.1 800.8 2381.9C796.4 2380.7 791.7 2378.3 788.6 2375.4C785.5 2372.4 783.5 2368.2 782.1 2364.1C780.7 2360.1 780.1 2355.2 780.2 2351C780.4 2346.8 781 2342.5 783 2338.9C785 2335.3 788.6 2332.8 792.4 2329.5C796.1 2326.3 801.7 2322.2 805.5 2319.2C809.2 2316.3 811.7 2313.5 814.8 2311.8C817.9 2310 820.3 2309 824.2 2309Z" fill="#5408ff"/>
<path d="M817.6 2331.4C820.4 2332.3 824 2335 825.1 2337.9C826.2 2340.9 825.4 2345.7 824.2 2349.2C822.9 2352.6 820.4 2356.2 817.6 2358.5C814.8 2360.9 810.6 2362.9 807.3 2363.2C804.1 2363.5 800 2362.4 798 2360.4C796 2358.4 794.9 2354.5 795.2 2351C795.5 2347.6 797.7 2342.9 799.9 2339.8C802 2336.7 805.3 2333.7 808.3 2332.3C811.2 2330.9 814.8 2330.5 817.6 2331.4Z" fill="#3c00ff"/>
</g>
<circle cx="810.8" cy="2348" r="60.6" fill="none" stroke="#707070" stroke-width="1"/>
<path d="M804.7 2287.9C806 2273.6 815.6 2273.6 816.9 2287.9" fill="none" stroke="#707070" stroke-width="1"/>
<g fill="none" stroke="#303030" stroke-width="0.65"><circle cx="810.8" cy="2292.9" r="1.3"/><circle cx="793.8" cy="2295.5" r="1.3"/><circle cx="827.8" cy="2295.5" r="1.3"/><circle cx="778.6" cy="2303.5" r="1.3"/><circle cx="843" cy="2303.5" r="1.3"/><circle cx="778.6" cy="2392.5" r="1.3"/><circle cx="843" cy="2392.5" r="1.3"/><circle cx="793.8" cy="2306.1" r="1.3"/><circle cx="827.8" cy="2306.1" r="1.3"/><circle cx="793.8" cy="2389.9" r="1.3"/><circle cx="827.8" cy="2389.9" r="1.3"/><circle cx="810.8" cy="2307.2" r="1.3"/><circle cx="810.8" cy="2388.8" r="1.3"/><circle cx="766.6" cy="2315.7" r="1.3"/><circle cx="855" cy="2315.7" r="1.3"/><circle cx="766.6" cy="2380.3" r="1.3"/><circle cx="855" cy="2380.3" r="1.3"/><circle cx="776.9" cy="2318.3" r="1.3"/><circle cx="844.7" cy="2318.3" r="1.3"/><circle cx="776.9" cy="2377.7" r="1.3"/><circle cx="844.7" cy="2377.7" r="1.3"/><circle cx="788" cy="2319.3" r="1.3"/><circle cx="833.6" cy="2319.3" r="1.3"/><circle cx="788" cy="2376.7" r="1.3"/><circle cx="833.6" cy="2376.7" r="1.3"/><circle cx="799.6" cy="2320.4" r="1.3"/><circle cx="822" cy="2320.4" r="1.3"/><circle cx="799.6" cy="2375.6" r="1.3"/><circle cx="822" cy="2375.6" r="1.3"/><circle cx="810.8" cy="2320.5" r="1.3"/><circle cx="810.8" cy="2375.5" r="1.3"/><circle cx="758.7" cy="2331" r="1.3"/><circle cx="862.9" cy="2331" r="1.3"/><circle cx="758.7" cy="2365" r="1.3"/><circle cx="862.9" cy="2365" r="1.3"/><circle cx="771.5" cy="2332.7" r="1.3"/><circle cx="850.1" cy="2332.7" r="1.3"/><circle cx="771.5" cy="2363.3" r="1.3"/><circle cx="850.1" cy="2363.3" r="1.3"/><circle cx="784.9" cy="2333.5" r="1.3"/><circle cx="836.7" cy="2333.5" r="1.3"/><circle cx="784.9" cy="2362.5" r="1.3"/><circle cx="836.7" cy="2362.5" r="1.3"/><circle cx="797.8" cy="2334.1" r="1.3"/><circle cx="823.8" cy="2334.1" r="1.3"/><circle cx="797.8" cy="2361.9" r="1.3"/><circle cx="823.8" cy="2361.9" r="1.3"/><circle cx="810.8" cy="2333.9" r="1.3"/><circle cx="810.8" cy="2362.1" r="1.3"/><circle cx="756.1" cy="2348" r="1.3"/><circle cx="769.4" cy="2348" r="1.3"/><circle cx="783.3" cy="2348" r="1.3"/><circle cx="796.7" cy="2348" r="1.3"/><circle cx="810.8" cy="2348" r="1.3"/><circle cx="824.9" cy="2348" r="1.3"/><circle cx="838.3" cy="2348" r="1.3"/><circle cx="852.2" cy="2348" r="1.3"/><circle cx="865.5" cy="2348" r="1.3"/><circle cx="810.8" cy="2402.8" r="1.3"/><circle cx="793.8" cy="2400" r="1.3"/><circle cx="827.8" cy="2400" r="1.3"/></g>
<clipPath id="tc5"><circle cx="1080.3" cy="2345.5" r="59"/></clipPath>
<g clip-path="url(#tc5)">
<circle cx="1080.3" cy="2345.5" r="59" fill="#ffffff"/>
<path d="M1051.1 2294.9C1053.2 2297.3 1057.4 2296.2 1059.6 2297.7C1061.7 2299.3 1063.3 2301.6 1064.2 2304.3C1065.2 2306.9 1065.5 2310.5 1065.2 2313.6C1064.9 2316.7 1062.7 2319.9 1062.4 2323C1062.1 2326.1 1061.9 2329.8 1063.3 2332.3C1064.7 2334.8 1067.2 2336.7 1070.8 2337.9C1074.4 2339.2 1080.1 2339 1084.8 2339.8C1089.5 2340.6 1094.9 2341.1 1098.8 2342.6C1102.7 2344.2 1105.1 2347.7 1108.2 2349.2C1111.3 2350.6 1114.1 2351.7 1117.5 2351.5C1121 2351.3 1125.8 2350.2 1128.8 2348.2C1131.7 2346.3 1132.5 2342.8 1135.3 2339.8C1138.1 2336.9 1143.9 2344.5 1145.6 2330.5C1147.3 2316.4 1157.3 2268.1 1145.6 2255.6C1133.9 2243.2 1091.8 2251 1075.5 2255.6C1059.1 2260.3 1051.5 2277.2 1047.4 2283.7C1043.4 2290.3 1049.1 2292.6 1051.1 2294.9Z" fill="#c6befa"/>
<path d="M1094.2 2295.9C1097.3 2296 1104.3 2297.1 1108.2 2298.7C1112.1 2300.2 1115.8 2302.6 1117.5 2305.2C1119.3 2307.9 1119.4 2311.9 1118.5 2314.6C1117.5 2317.2 1115.2 2319.6 1111.9 2321.1C1108.7 2322.6 1102.9 2323.3 1098.8 2323.4C1094.8 2323.6 1090.1 2323.5 1087.6 2322C1085.1 2320.6 1084.3 2317.5 1083.9 2314.6C1083.4 2311.6 1083.9 2307.1 1084.8 2304.3C1085.8 2301.5 1087.9 2299.1 1089.5 2297.7C1091 2296.3 1091 2295.7 1094.2 2295.9Z" fill="#8a78f4"/>
<path d="M1020.3 2342.6C1024.7 2344.6 1024.8 2350.9 1026.8 2354.8C1028.9 2358.7 1029.8 2362.7 1032.4 2366C1035.1 2369.3 1039 2371.8 1042.7 2374.4C1046.5 2377.1 1051 2379.6 1054.9 2381.9C1058.8 2384.2 1063.5 2386.1 1066.1 2388.4C1068.8 2390.8 1069.7 2392.2 1070.8 2395.9C1071.9 2399.7 1084.3 2408.4 1072.7 2410.9C1061 2413.4 1012.6 2422.3 1000.6 2410.9C988.6 2399.5 997.4 2354 1000.6 2342.6C1003.9 2331.2 1015.9 2340.6 1020.3 2342.6Z" fill="#f0b4bc"/>
</g>
<circle cx="1080.3" cy="2345.5" r="59" fill="none" stroke="#707070" stroke-width="1"/>
<path d="M1074.4 2287C1075.6 2273.1 1085 2273.1 1086.2 2287" fill="none" stroke="#707070" stroke-width="1"/>
<g fill="none" stroke="#303030" stroke-width="0.65"><circle cx="1080.3" cy="2291.9" r="1.3"/><circle cx="1063.7" cy="2294.4" r="1.3"/><circle cx="1096.9" cy="2294.4" r="1.3"/><circle cx="1048.9" cy="2302.2" r="1.3"/><circle cx="1111.7" cy="2302.2" r="1.3"/><circle cx="1048.9" cy="2388.8" r="1.3"/><circle cx="1111.7" cy="2388.8" r="1.3"/><circle cx="1063.7" cy="2304.7" r="1.3"/><circle cx="1096.9" cy="2304.7" r="1.3"/><circle cx="1063.7" cy="2386.3" r="1.3"/><circle cx="1096.9" cy="2386.3" r="1.3"/><circle cx="1080.3" cy="2305.7" r="1.3"/><circle cx="1080.3" cy="2385.3" r="1.3"/><circle cx="1037.2" cy="2314.1" r="1.3"/><circle cx="1123.4" cy="2314.1" r="1.3"/><circle cx="1037.2" cy="2376.9" r="1.3"/><circle cx="1123.4" cy="2376.9" r="1.3"/><circle cx="1047.3" cy="2316.6" r="1.3"/><circle cx="1113.3" cy="2316.6" r="1.3"/><circle cx="1047.3" cy="2374.4" r="1.3"/><circle cx="1113.3" cy="2374.4" r="1.3"/><circle cx="1058.1" cy="2317.5" r="1.3"/><circle cx="1102.5" cy="2317.5" r="1.3"/><circle cx="1058.1" cy="2373.5" r="1.3"/><circle cx="1102.5" cy="2373.5" r="1.3"/><circle cx="1069.4" cy="2318.6" r="1.3"/><circle cx="1091.2" cy="2318.6" r="1.3"/><circle cx="1069.4" cy="2372.4" r="1.3"/><circle cx="1091.2" cy="2372.4" r="1.3"/><circle cx="1080.3" cy="2318.8" r="1.3"/><circle cx="1080.3" cy="2372.2" r="1.3"/><circle cx="1029.6" cy="2328.9" r="1.3"/><circle cx="1131" cy="2328.9" r="1.3"/><circle cx="1029.6" cy="2362.1" r="1.3"/><circle cx="1131" cy="2362.1" r="1.3"/><circle cx="1042.1" cy="2330.6" r="1.3"/><circle cx="1118.5" cy="2330.6" r="1.3"/><circle cx="1042.1" cy="2360.4" r="1.3"/><circle cx="1118.5" cy="2360.4" r="1.3"/><circle cx="1055.1" cy="2331.3" r="1.3"/><circle cx="1105.5" cy="2331.3" r="1.3"/><circle cx="1055.1" cy="2359.7" r="1.3"/><circle cx="1105.5" cy="2359.7" r="1.3"/><circle cx="1067.6" cy="2332" r="1.3"/><circle cx="1093" cy="2332" r="1.3"/><circle cx="1067.6" cy="2359" r="1.3"/><circle cx="1093" cy="2359" r="1.3"/><circle cx="1080.3" cy="2331.8" r="1.3"/><circle cx="1080.3" cy="2359.2" r="1.3"/><circle cx="1027" cy="2345.5" r="1.3"/><circle cx="1040" cy="2345.5" r="1.3"/><circle cx="1053.5" cy="2345.5" r="1.3"/><circle cx="1066.6" cy="2345.5" r="1.3"/><circle cx="1080.3" cy="2345.5" r="1.3"/><circle cx="1094" cy="2345.5" r="1.3"/><circle cx="1107.1" cy="2345.5" r="1.3"/><circle cx="1120.6" cy="2345.5" r="1.3"/><circle cx="1133.6" cy="2345.5" r="1.3"/><circle cx="1080.3" cy="2398.8" r="1.3"/><circle cx="1063.7" cy="2396.1" r="1.3"/><circle cx="1096.9" cy="2396.1" r="1.3"/></g>
<rect x="678.3" y="1131.1" width="16.4" height="9.6" fill="#0b0b4a"/>
<rect x="825.8" y="1131.1" width="16.4" height="9.6" fill="#f2c2c2"/>
<rect x="694.4" y="1131.1" width="16.4" height="9.6" fill="#0d0d8c"/>
<rect x="841.9" y="1131.1" width="16.4" height="9.6" fill="#e28282"/>
<rect x="710.6" y="1131.1" width="16.4" height="9.6" fill="#0000b4"/>
<rect x="858.1" y="1131.1" width="16.4" height="9.6" fill="#dc4444"/>
<rect x="726.7" y="1131.1" width="16.4" height="9.6" fill="#0000f0"/>
<rect x="874.2" y="1131.1" width="16.4" height="9.6" fill="#de0000"/>
<rect x="742.8" y="1131.1" width="16.4" height="9.6" fill="#4a4af6"/>
<rect x="890.4" y="1131.1" width="16.4" height="9.6" fill="#a20000"/>
<rect x="758.9" y="1131.1" width="16.4" height="9.6" fill="#8282f6"/>
<rect x="906.5" y="1131.1" width="16.4" height="9.6" fill="#6e0000"/>
<rect x="775.1" y="1131.1" width="16.4" height="9.6" fill="#c2c2fa"/>
<rect x="922.7" y="1131.1" width="16.4" height="9.6" fill="#3c0000"/>
<rect x="681.1" y="2462.2" width="16.3" height="9.9" fill="#0b0b4a"/>
<rect x="828.1" y="2462.2" width="16.5" height="9.9" fill="#f2c2c2"/>
<rect x="697.1" y="2462.2" width="16.3" height="9.9" fill="#0d0d8c"/>
<rect x="844.3" y="2462.2" width="16.5" height="9.9" fill="#e28282"/>
<rect x="713.2" y="2462.2" width="16.3" height="9.9" fill="#0000b4"/>
<rect x="860.4" y="2462.2" width="16.5" height="9.9" fill="#dc4444"/>
<rect x="729.2" y="2462.2" width="16.3" height="9.9" fill="#0000f0"/>
<rect x="876.6" y="2462.2" width="16.5" height="9.9" fill="#de0000"/>
<rect x="745.2" y="2462.2" width="16.3" height="9.9" fill="#4a4af6"/>
<rect x="892.7" y="2462.2" width="16.5" height="9.9" fill="#a20000"/>
<rect x="761.2" y="2462.2" width="16.3" height="9.9" fill="#8282f6"/>
<rect x="908.9" y="2462.2" width="16.5" height="9.9" fill="#6e0000"/>
<rect x="777.3" y="2462.2" width="16.3" height="9.9" fill="#c2c2fa"/>
<rect x="925" y="2462.2" width="16.5" height="9.9" fill="#3c0000"/>
<text x="649.3" y="1158.6" font-size="20" class="t">-2 µV</text>
<text x="791.7" y="1158.4" font-size="16.5" class="t">0 µV</text>
<text x="913.9" y="1158.6" font-size="20" class="t">2 µV</text>
<text x="661.6" y="2490" font-size="20" class="t">-5 µV</text>
<text x="794" y="2490.5" font-size="19.5" class="t">0 µV</text>
<text x="925.9" y="2490" font-size="20" class="t">5 µV</text>
</svg>
</body></html>
